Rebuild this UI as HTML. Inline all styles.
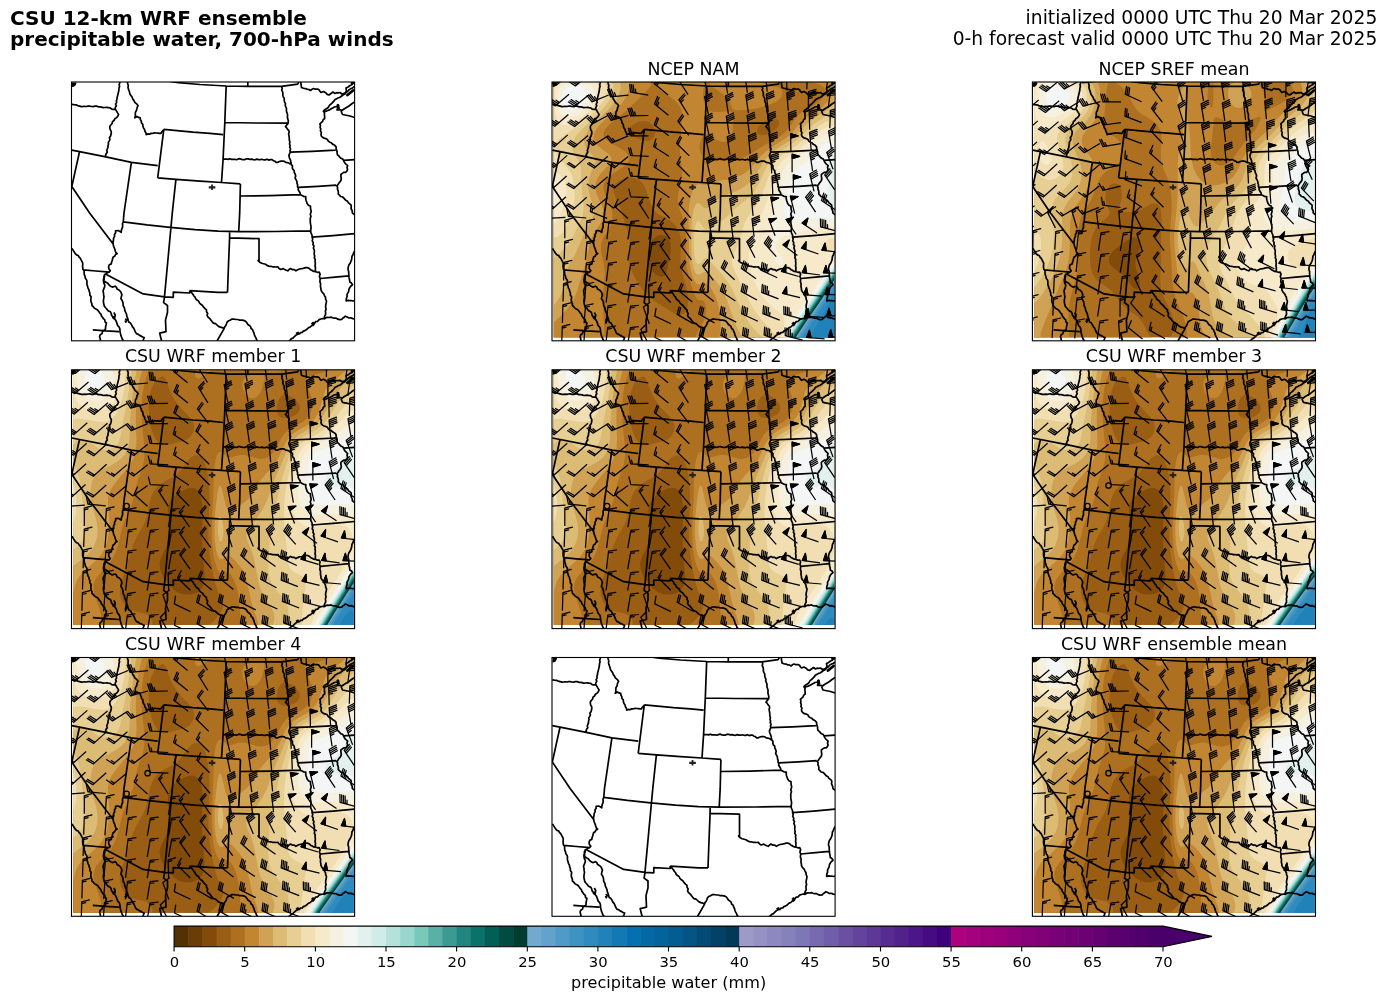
<!DOCTYPE html><html><head><meta charset="utf-8"><style>html,body{margin:0;padding:0;background:#fff;width:1387px;height:1001px;overflow:hidden}svg{display:block;will-change:transform}text{font-family:"DejaVu Sans","Liberation Sans",sans-serif}</style></head><body><svg width="1387" height="1001" viewBox="0 0 1387 1001"><defs><clipPath id="pc"><rect x="0" y="0" width="283.1" height="258.8"/></clipPath></defs><rect width="1387" height="1001" fill="#fff"/><text x="10" y="24.8" font-size="20" font-weight="bold">CSU 12-km WRF ensemble</text><text x="10" y="46.4" font-size="20" font-weight="bold">precipitable water, 700-hPa winds</text><text x="1377.3" y="23.8" font-size="18.7" text-anchor="end">initialized 0000 UTC Thu 20 Mar 2025</text><text x="1377.3" y="44.7" font-size="18.7" text-anchor="end">0-h forecast valid 0000 UTC Thu 20 Mar 2025</text><g transform="translate(71.5 82)"><g clip-path="url(#pc)"><path fill="none" stroke="#000" stroke-width="1.7" stroke-linejoin="round" d="M.3 22.3l2.1 .3 2.1 .2 1.8 .8 1.8 .5 1.9 .5 1.6-.1 1.6-.2 1.7 .2 1.6-.3 1.7-.1 1.8 .4 1.8 .1 1.7-.6 1.7 .1 1.6 .7 1.7 0 1.7 .3 1.6 .6 1.7-.2 1.8-.1 1.7 .3 1.7 .2 1.5 1.2 1.7 .3 1.8 0M48.4-.5l-.2 1.6-.6 1.6 .5 1.7-.6 1.6-.1 1.7-.2 1.6-.4 1.6-.4 1.6-.4 1.6-.4 1.6-.2 1.6-.5 1.6 .2 1.7-1 1.5 .7 1.8-1 1.5-.1 1.6 1.2 1.8 1 1.8 1.2 1.8-.8 1.8-1.2 1.4-1.7 1.2-.9 1.7-1.5 1.2-.4 2-1.4 1.3-.9 1.6 .1 1.7 .4 1.6 .9 1.4 .1 1.7-.3 1.6-.5 1.6-1.1 1.4 .5 1.8-.6 1.5-1 1.5 .2 1.7-.5 1.6 0 1.6-.7 1.6-.5 1.5 .5 1.8-1.1 1.4-.6 1.6 .2 1.7M55.9-.5l.3 2 .6 1.9-.3 2 .4 1.7 .7 1.7 .5 1.7 .4 1.7 1.1 1.5 1.1 1.6 .6 1.8 1.2 1.5 .8 1.7 1.8 1.5 1.5 1.9-.8 1.5-.5 1.6-.3 1.8-1 1.4-.2 1.9 .1 2-.6 1.9 2.2-1.3 1.5 .9 1.7 .4 .2 1.8 .9 1.6 .2 1.8 1.3 1.4 .1 1.8 .6 1.7 1.1 1.5 .3 1.9 1 1.5 .3 1.9 1.6-.8 1.8 .2 1.6-.7 1.8-.1 1.6-.4 1.6 .1 1.7 .1 1.6 .2 1.6 0 .6-1.5 1.3-1.1 .8-1.4M92.3 47.3l29.2 2.9 17 1.2 13.1 1.3M92.3 47.3l-6.1 48.5M86.2 95.8l18.3 1.5 24 1.9 21.5 1.3 18.9 1.4M.3 68.2l7.7 1.5 26.3 5.2 25.6 5.4 26.3 3.4M8 69.7l-7.7 34.8M.3 104.5l17.8 26.4 23.2 30.6M59.9 80.3l-7.4 50.6-.7 8.9M104.4 97.3l-3.6 33.6-7.8 83.7M51.8 139.8l23.7 3.1 23.1 2.5 24.9 2.2 23 1.5 20.7 .5 36.3-.1 35.7-.6M168.9 101.9l-.7 29-1 18.7M168.9 114l29.6-.4 30.4-.9M154.7 3.5l-1.4 37-1.7 36.4-1.6 23.6M98.5-.5l8.6 1.2 21.4 1.8 26.2 1.5 21.6 .4 33.7 0 16.2-2.3 1.3-2.6M176.3-.5l0 4.9M153.3 40.5l30.2 .5 32.6 .2M151.6 76.9l1.7 .2 1.7-.1 1.6 .4 1.7-.7 1.7 .7 1.7 0 1.7-.1 1.6 .4 1.7-.8 1.7-.2 1.7 .7 1.7 .3 1.7-.1 1.6-.8 1.7 .1 1.7 .5 1.7-.2 1.7 .4 1.7 .2 1.7-.7 1.7 .5 1.7 .1 1.6-.4 1.7 .5 1.7 .1 1.7-.7 1.7 .9 1.7-.5 1.7 0 1.3 1.1 1.6 .4 1.2 1.2 1.7 0 1.6-.8 1.7-.4 1.7-.1 1.6 .3 1.3 1 1.7 .3 1.5 .4 1.6 1.5M210 4.4l.7 1.8-.5 1.9 .9 1.7 .3 1.8-.1 1.9 .7 1.6 .8 1.5-.1 1.8 .4 1.7 .9 1.5-.3 1.7 .6 1.6 .7 1.6-.1 1.7 .2 1.7 .6 1.6 .4 1.6-.2 1.7 .2 1.7 .7 2.3-.1 2.4-1.4 1.7-1.3 1.7 1.2 1.3 .9 1.5 1.3 1.2 .2 1.7-.5 1.7 .3 1.6 .3 1.7 .1 1.6 .1 1.7 .5 1.6-.4 1.7 .6 1.6-.4 1.7 .9 1.6-.6 1.8 .3 1.6-.8 1.7-.6 1.7 .4 1.9 .8 1.8 .6 1.8 .2 1.9 .5 1.6 1.1 1.4-.2 1.9 .6 1.5 1.3 1.3 .1 1.8 .9 1.7 .5 1.7-.6 2.1 .9 1.7 .9 1.6 .1 1.9 .6 1.6-.1 1.7 .8 1.5-.1 1.8 .9 1.5 1 1.6 .3 1.8 1.7 .9 1.7 .9 2 .2-.1 1.8 .3 1.7 .6 1.6 .5 1.7 1.4 1.7 2 1 0 1.7 .2 1.6 .5 1.7-.5 1.7-.4 1.6 .7 1.7-.6 1.6-.2 1.6 .1 1.7 0 1.6 .3 1.7 .3 1.6 .2 1.6-.3 1.7-.1 1.6 .1 1.6 .7 1.5 .6 1.5 0 1.7 .6 1.7-.5 2 1.1 1.7-.4 1.9 1.1 1.6-.6 2 .8 1.7 .2 1.6-.2 1.6 .1 1.7 .4 1.6-.4 1.6 1 1.6-.3 1.6 .3 1.6 0 1.6-.3 1.7 .5 1.6-.2 1.6 .3 1.6M218.8 70.2l21.7-.9 23.5-1.1M226.9 105.3l19.6-.9 18.1-1.2M252.5 29l.5 1.8-.1 1.9 .2 1.9 .1 1.9-1.5 1.1-.6 1.8-1.4 1.3-1.3 1.2 .5 1.7-.3 1.8 .7 1.7-.4 1.8 1 1.6-.4 1.8 .3 1.7 1.3 1.3 1.4 .9 1.8 .4 1.6 .8 .9 1.7 1.4 1.1 1.7 .6 1.4 1.5 1.9 1 1.4 1.5 0 1.7 .4 1.6 .6 1.5 0 1.7 .4 1.6 1.3 1 1 1.2 1.2 1.2 1.6 .6 .9 1.4 .7 1.6 .9 1.4 1.3 1.2 1.2 1.2-.6 1.8 .6 1.9-.7 1.7-1.3 1.2-1.9 .1-1.4 1-1.4 1.1 0 2 .4 2-.4 2-1 1.4-1.1 1.3-.8 1.5-1.2 1.2 .8 1.5-.2 1.7 .7 1.6 .3 1.6-.2 1.7 1.2 1.2 1.2 1.3 1.9 .4 1.3 1.1 1.1 1.4 1.2 1.1 1.5 .8 .8 1.6 1.3 .9 1.3 1 .3 1.6-.3 1.7 .6 1.6 .7 1.5 0 1.7 2.3 1.9M283.1 169l-1.2 2.3-.5 1.6-.9 1.4-.2 1.6-.2 1.7-.7 1.9-.8 1.8-1.2 1.7-.7 2.2-.2 2.3 .7 2 0 2.2 .2 2.1 .2 2.1 .5 2.1 .2 2.1 1.7 1 1 1.7-1.5 1.2-1.2 1.5-.9 1.8-.2 1.9-.8 1.7-.9 1.7 .1 1.9-.8 2.2-.1 2.3 1.7-.6 1.6 .2 1.7-.1 1.7 .5 1.7-.5M272 78.3l11.1-.7M240.6 155.2l20.9-1.6 21.6-1.9M249 196.5l14.5-1.3 13.9-1.4M158.1 149.6l0 6.3-1.1 27.1-1 27.4M158.1 155.9l29.4 .7 0 23.1M187.5 179.7l-.9-1.2 1.6 1.7 2 1 1.9 .5 1.9 .5 1.6 1.2 1.7 .7 1.9 .2 1.8 .5 1.8 0 1.8 .2 1.8-.2 1.1 1.6 1.6 1.1 2.7-.9 1.4 1 1.5 .7 1.6 .5 1.2-1.3 1.5-.9 1.7 1 2.1 0 1.6 1.2 1.8-1 1.8-.8 2.3-.3 2.2-.6 1.8-.5 1.8 .1 1.6 .7 1.3 1.3 1.6 .7 1.7 1 1.9 .3 1.7 .6 1.8-.1 .9 2-.7 2.3 .8 2-.2 1.7-.1 1.7 .7 1.6-.1 1.7 0 1.7 .4 1.6 .1 1.7 1.1 2 1.7 1.6 .7 1.8 1 1.7 .2 2 .8 1.7-.3 2.1-.5 2.1-.1 2.1 .5 1.8-.7 1.8 .2 1.8 0 1.8-1 1.6-.4 1.9M217.2 259l1.4-.9 1.2-1.3 1.6-.7 1.2-1.2 1.6-1.6 2-1.1 1.7-.3 1.1-1.3 1.8-.1 1-1.4 1.6-.5 1.4-.8 1.2-1.1 1.2-1.1 1.6-.6 1.4-1.3 1.3-1.4 1.6-1.1 1.1-1.6 2-.3 1.4-1.7 1.8-.6 1.9-.5 1.7 .3 1.5-1.1 1.6-.3 1.7 .1 1.6-.4 1.5 .7 1.6 .4 1.8-.2 1.4 .9 2.2 .7 2.3-.2 1-1.2 1.4-.9 1.2-1.1 1.9 .8 1.7 1 2-.2 1.8 .8 1.9 .3M240 242l1.5-1.5 1 2-1.5 1.5M224.5 251.5l2-1 .5 2M118.2 208.6l28.3 1.8 9.5 0M34.9 192.5l36.8 19.4 21.3 2.9 8.8 .5 0-5.1 16.4 .8 0-2.4M118.2 208.6l1.1 1.3 1.2 1.3 1.1 1.3 .8 1.5 1.2 1.2 .6 1.7 1.3 1.1 1.6 1.1 .9 1.9 1.4 1.3 1.6 1.2 1.1 1.7 1.4 1.4 1.5 1.3 0 1.8 1.2 1.7-.6 1.9 .8 1.7 1.6 1.3 1.3 1.6 1.2 1.6 1.4 1.6 2.1 .5 1.5 1.4 1.5 1.4 1.9 .7 2 .5 1.6 1.2 .5-1.7 1.2-1.4 .7-1.6 .5-1.7 1.3-1.3 1.8-.9 1.7-1 2.1-.2 2.1 .5 2.1 0 1.8 .7 1.9-.1 1.9 .3 2 .9 1.4 1.7 .9 1.5 1.5 1 1.2 1.2 .5 1.8 1.5 1.2 .6 1.7 .8 1.6 .4 1.7 .6 1.7 1 1.5 .5 1.7 1.1 1.4M152.5 246.8l-7 12.2M51.8 139.8l-.8 1.7 .1 1.8 0 1.8-.8 1.7-.4 1.7-.2 1.8-1.5-1.1-1.7-.7-2.4 .4 0 1.9-1.1 1.7 .1 1.9-1 1.7-.1 1.9-.5 2.2 .2 2.3 .5 2 .8 1.8 .6 2 .6 2 1.4 1.4-1.6 .8-.8 1.7-1.5 .9-.6 1.7-.4 1.7-.6 1.6-.3 1.8-2 .9-.7 1.9 .2 2 1.5 2-1.2 1.4-1.7 .5-1.2 1.3-1.7 .6 .2 1.8-.6 1.6-.7 1.7 .1 1.7 1 2M11.7 187.9l12.8 1.1 13.3 1.1M.5 166.4l1.2 2 1.2 1.9 .9 1.4 1.2 1.2 1.7 .6 .8 1.5 1.2 1.1 .8 1.6 .9 1.6 .8 1.6 0 1.6-.1 1.7 .1 1.6 .3 1.7 1.1 1.2 0 2 .2 1.9 .8 1.9 .2 1.8 1.2 1.4 .5 1.6-.1 1.8 .1 1.7 .6 1.6 .4 1.7 .9 1.5 .3 1.8 .7 1.6-.1 2 1.3 1.8-.2 2-.1 1.7 .4 1.7 .7 1.6 0 1.7 1.4 1.2 1.1 1.4 1.5 1 1.7 .8 1.1 1.5 .9 1.5 1.3 1.2 .5 1.8 1.1 1.3 .9 1.5 1.4 1.2 .2 1.9 1.4 1.2-.3 1.7-.4 1.7-.2 1.7-.1 1.7-1.6 .7-1.3 1.2-.5 1.9-1.8 1.2-.6 1.8 .6 2.2 .4 2.2M32.5 193.5l-.1 1.9 .3 2-.7 1.9 .4 2.1 1 1.8-.4 2-.8 1.9-.7 1.9 .5 1.9 .1 2 .4 1.9-.3 1.9-.3 1.9 .1 2 .4 1.7 .4 1.8 1.1 1.4 1.1 1.2 1 1.4 1.2 1 1.7 .7 .8 1.5 .3 1.8 1.1 1.4 .6 1.6 1.7 1.2 1.2 1.7 1 2.9 .6 1.7 1.3 1.3 .7 1.5 .3 1.6 0 1.7 .5 1.9 .4 2 .8 1.9 .7 1.9 1.4 1.6M33 199.3l1.8 1.1 1.7 1.1 1.3 1.7 1.3 1.1 1.6 .8 2.9-.9 1.4 1.2 .6 1.7 2.2 1.1 1.6 1.8 1 2.9-.6 1.9-.4 2 1.3 1.7 .7 2.1 .2 1.6 .1 1.6 .9 1.5 .5 1.5 .2 1.6 .9 1.9 .8 1.9 .3 2 .8 1.9 .5 2 .6 1.9 1.8 1.1 1.1 1.8 .8 1.7 1.3 1.5 .8 1.7 .7 2 1.2 1.8 1.7 .7 1.5 1.1 1.7 .7 1.3 .9 1.6 .5-.7 1.8-.8 1.7M21.3 247.8l13.2 1 13 .9M42.3 230.5l1.4 2.5-.6 3.5-1-2.5M53.8 236.6l1.3 1.4-.8 2.2-.8-1.7M93 214.8l-.9 5.8 3.9 2.9 0 6.8-2 7.8 .5 11.6-6.3 1.5 1.9 7.8M229.5-.5l-.1 2 .3 2 .3 2 2.5 1 1.7 .1 1.6 .8 1.7 .1 1.5 1 1.4-1.2 1.6-.8 1.9 .7 2.1-.2 1.5 .8 .9 1.5 1.1 1.2 2.5-1 2.5 1.5 1.2 1.4 1.8 .6 1.3-1 1.4-1 1.3-1 2 1.5 1.6-.8 1.7 .1 1.7-.3 2 1.5 3-1 1.5-2-.5-3 2.1-1 1.9-1.5 1.8-.7 1.2-1.5 1.6-.8M251.5 30l1.2-1.8 1.8-1.2 1.6-.9 1.1-1.4 .9-1.6 1.4-1.1 1.5-1.3 1.4-1.5 1.1-1.7 1.6-.6 1.4-1 1.6-.4 1.4-1 1.9-1.5 2.1-1 1.3-1.7 1.7-1.3 1.2-1.4 1.6-1 1.7-.6 2.1-1.5M251.5 30l3-.8 4-1.6 4.5-2.6 3-.5 1-1.2-1.5 4.7 3.5-.2 1.5 .7 2-1.5 2.5-1.5 2.5-1.5 2.5-2 3.1-2M269.5 29l1.5 3.5 7.5 1.5 4.6 1.5M280.5 1l2.6-1"/><path fill="none" stroke="#000" stroke-width="2.8" stroke-linecap="round" d="M276 13L281.5 8.5M280.5 1.2L283 0.5M266.3 23.3L267 26"/><path d="M137.25 105.3h6.6" stroke="#222" stroke-width="2.3"/><path d="M140.55 102.5v5.6" stroke="#222" stroke-width="1.8"/></g><rect x="0" y="0" width="283.1" height="258.8" fill="none" stroke="#000" stroke-width="1.1"/><path d="M0.5 0.5h4.5a4.5 4.5 0 0 1-4.5 4.5z" fill="#000"/></g><g transform="translate(552 82)"><g clip-path="url(#pc)"><rect x="1.8" y="0.3" width="280.3" height="254.9" fill="#824b09"/><path fill="#995d13" d="M3.8 .3l278.3 0 0 254.9-280.3 0 0-254.9 2 0zM103.6 154.8l-1.7 1.4-.5 .7-1.5 2-1.1 2-.9 2.1-1.2 3.9-.8 4-.3 2-.1 2 .1 2 .3 2.8 .3 1.2 .6 2 1.1 2.5 2 3.1 2 2.3 2 1.7 2 1.2 2 .7 2 .2 2-.7 .9-.9 1.2-2 .7-2 .9-4 2.4-12.1 .6-4 .1-2 .1-2-.1-2-.3-2-.5-2-1.1-2-.9-1.1-1.1-1-.9-.6-2-.8-2-.3-2 .1-2 .5-2.3 1.1z"/><path fill="#ad7021" d="M3.8 .3l278.3 0 0 254.9-280.3 0 0-254.9 2 0zM215.6 38.4l-1.6 .7-2.5 1.3-2.7 2-1.9 2.1-1.2 2-.6 2 .1 2 .8 1.2 .9 .8 1.1 .4 2 .2 2-.2 2.2-.4 3.8-1.5 2-1 2.4-1.5 2.2-2 1.6-2 .8-2.1 .2-2-.7-2-.5-.3-2-.9-2-.1-2 .2-2 .4-2.4 .7zM85.2 40.4l-1.3 .7-2.5 1.3-2.8 2.1-2.1 2-1 2 .5 2 2.2 2 3.7 2 6 2.6 2 .7 2.8 .7 1.2 .2 2 0 2-.3 2-1.1 .8-.8 1.4-2 .7-2 .2-2-.2-2-.5-2-.9-2-1.5-2.1-2.5-2-1.5-.7-2-.5-2-.2-2 .2-2 .4-2.7 .8zM72.5 96.6l-.6 .2-2 .8-2.2 1-1.8 1.2-1.1 .9-.9 .9-.9 1.1-1.1 2.1-.4 1.9 .1 2 .3 2 .7 2 1.6 4 3.7 8.3 1.4 3.8 1.9 6 1.6 6 1.3 4 2.6 8 .4 2 .3 2.1 .1 2-.1 4-.8 10 .1 4 .1 2 .3 2 .8 3 .3 1.1 .7 2 1.7 4 2 4 2.3 4 3 4.7 2.3 3.3 1.7 2.3 2 2.3 2 2.1 2 1.8 4 3 6 3.9 12 7.7 2 1.1 2 .8 2 .6 2 .3 2-.3 2-1.1 .4-.4 1.7-2 .8-2 .6-2 .4-2 .2-2 0-4-.1-2-.5-4.1-.7-4-1-4-3-10-1.4-6-.6-4.1-.3-4 .1-4 .4-12 0-4-.5-4.1-.5-2.5-.4-1.5-.8-2-.9-2-1.9-2.9-2-2.2-2-1.7-2-1.4-3.1-1.8-2.9-1.5-2-1-2.8-1.5-1.2-.8-2-1.6-2-2.3-.9-1.4-1.1-2.1-1.6-3.9-1.3-4-2.6-8-.7-2-1-2-1.1-2-1.7-2.3-2-1.9-2-1.3-2-.8-2-.5-2-.3-2 0-2 .3-2 .4-1.4 .3z"/><path fill="#c28633" d="M3.8 .3l95 0 .8 2-.8 2-.9 .7-.8 1.3-1.2 1.1-.7 .9-1.3 1.2-.7 .8-3.3 3.2-.8 .8-3.2 3.2-2.9 2.9-3.1 2.9-3.2 3.1-4.8 4.3-6 4.8-6.2 4.9-2.2 2-2 2.1-1.7 2-1.2 2-.9 2-.2 2 .4 2 1.1 2 .9 1 1 1 1 .7 2 1.4 4 2.2 6 3.1 2 1.3 2 1.3 2.3 2 1.7 2.2 1 1.9 .4 2-.3 2-1.1 2-2 2.2-2.2 1.8-6 4-3.8 2.5-2.2 1.5-2.5 2-2 2-1.6 2-1.2 2.1-.7 2-.4 2 .1 2 .5 2.5 .4 1.5 1.6 3.9 1 2.1 3 6.3 .7 1.7 .7 2 .6 2.1 .3 2 .2 2 0 2-.1 2-.4 2.5-.4 1.5-.7 2-.9 2.1-1.1 1.9-2.9 4.6-2.2 3.4-.9 2.1-.9 2.6-.4 1.4-.3 2-.2 2 0 2 .1 2 .5 4 .9 4 .9 4 .7 4.1 .5 4 .1 4-.1 4-.3 4-1.2 10-.2 4.1-.1 4 .2 6 1 20.1 0 6-.2 4-50 0 0-254.9 2 0zM103.9 .3l50 0-1.2 2-.8 2-.7 4-.2 2-.1 2 .1 2 .1 2.1 .4 2 .5 2 .6 2 1.4 2.7 .8 1.3 1.2 1.3 2 1.3 2 .6 2 .3 4 0 10-.5 2 0 1.7 1 .3 .3 .5 1.7 .5 4 .1 4 0 4.1-.4 4-.3 2-.5 2-.8 2-1.1 2.1-2 2.1-2 1-2 .4-2-.2-2-.5-2.2-.9-3.4-2-4.4-3.2-2-1-2-.3-2 1.1-2 2.6-.4 .8-.9 2-.7 2.7-.3 1.3-.2 2 .1 2 .4 2 .6 2 .9 2.1 1.5 2 1 .9 2 1.4 2 .7 2 .4 4 .4 4 .1 4-.1 6-.4 8-.8 3.4-.6 .6-.2 4-1.3 4-1.9 6-3.4 8-5 2-1.3 6-3.4 8-4.5 2-1.2 2.7-1.9 2.3-2 2-2 1.6-2 2.9-4.1 2.7-4 1.9-2.5 2-2.3 2-1.9 2-1.6 2.6-1.7 3.7-2 7.3-4 2.4-1.7 .4-.3 2.2-2 1.7-2 1.3-2.1 .8-2 .4-2 0-2-.5-2-.3-.5-1.3-1.5-.7-.4-2-1.1-2-.7-6-1.5-1.4-.3 23.4 0 0 254.9-138.8 0 .7-2 2-4.4 2.1-3.6 2.5-4 1.4-2.6 .5-1.5 .6-2 .5-2 .4-2 .1-2 0-2-.1-2-.5-2-.7-2-.8-1.6-.6-.4-1.4-.8-2 0-2-.7-.5-.5-1.7-2-1.9-4.1-2.7-8-1.7-6-1.1-4-1.6-8-.5-4.1-.3-4-.2-6 0-16.1-.3-4-.5-4-.6-4-.5-2.7-1.5-5.3-.6-2-1.6-4-.7-2.1-.6-2-.5-2-.5-2.5-.2-1.5 0-2 .2-2.7 .2-1.3 .4-2 2.6-10 .6-4.1 .3-4 .1-4-.4-4-.9-6-.5-4-.3-4.1-.1-4 .1-4 .4-6 .7-8 1.2-12.1 .1-2-.1-2-.4-2.5-.3-1.5-.6-2-1.1-2-1.4-2-2.6-2.8-2-1.8-2-1.6-6-4.4-4.9-3.5-4.9-4-.2-.4-1.5-1.6 .2-2 1.3 0zM156 .3l50.9 0 3.1 .9 14 3.3 2 .8 2 1.1 1.9 1.9 .6 2-.2 2-.7 2-1.6 2.1-2.1 2-3.4 2-2.5 1.1-4 1.5-4.3 1.4-3.7 1-4.7 1-3.3 .5-6 .8-6 .5-4 .1-2-.2-1.7-1.7-.3-.7-.4-1.3-1.7-4-1.2-2-1.4-2-2-2.1-3.3-2.7-4.6-3.3-2.6-2-2.8-2.5-2-1.9-2-1.6-.5 0 .5 0z"/><path fill="#cfa256" d="M3.8 .3l73.5 0 .2 2 0 2-.3 2-.5 2-.8 2.4-.7 1.6-1.3 2.7-.8 1.4-2.7 4-3.2 4-3.9 4-5.4 4.9-6 5.4-3.7 3.7-2.4 2.8-.9 1.3-1.4 2-1.1 2-.7 2-.3 2 .1 2 .5 2 1.1 2 1.5 2 2.1 2 2.5 2 6.7 5 1.1 1.1 1.5 2 .8 2 0 2-.8 2-1.3 2-1.8 2-5.8 6-1.8 2.1-2 3-.4 .9-.9 2-.7 2.2-.3 1.9-.1 2 .1 2 .4 2 .5 2 .6 2 1.7 4 3.2 7 .4 1 .6 2 .5 2.1 .2 2-.1 2-.4 2-.6 2-.8 2-1.9 3.4-2 3.1-3.5 5.5-1.2 2-1.3 2.8-1.2 3.3-1.2 4-1.3 6-2.1 10-1 4-1.8 6.1-3.4 11-2.1 7-1.4 4-1.6 4.1-2 4-2.5 4-2.4 3.2-2.3 2.8-3.9 4-7.8 7.4 0-240.2 2 0zM282.1 1.5l0 253.7-114.8 0 .8-4 .4-4 .1-4 0-4.1-.3-4-.5-4-.7-4-1.1-4.8-.9-3.2-1.5-4-1.8-4.1-1.8-3.1-.6-.9-1.4-2-2-2.2-2-1.4-2.1-.4-1.9 .5-2 .8-2 .2-2-1.2-2-3.2-1.3-3.1-1.2-4-.9-4-.7-4.1-.5-4-.3-4-.2-6 0-10-.1-10.1-.2-16 .1-4 .3-4.1 .6-4 .8-4 1-4 .6-2 1.6-4 .4-.8 2-2.7 2-1.2 2 0 2 .4 2.4 .3 1.6-.2 2-.5 4-1.4 4-1 4.8-1 7.2-1.2 4-.9 4-1.1 2-.8 2-.8 2.2-1.2 3.1-2 .7-.5 2-1.7 2-1.8 3.7-4 .3-.4 4.8-5.6 3.8-4 3.4-3.2 2-1.6 4-2.8 4-2.5 8-5 2-1.4 2.1-1.6 2.3-2 2-2 3.7-4.2 4-4.8 3-3.1 2.2-2 2.8-2.1 4-2.6 8-5 2-1.4 2-1.7 2-2 2-2.5 .4-.7 1.6-3 .4-1.1 1.4-4 1-4 1-4 .2-.8z"/><path fill="#dcbc75" d="M3.8 .3l64 0 .6 2 .2 2-.1 2-.3 2-.5 2-.7 2-1.1 2.6-.8 1.5-1.2 2-2 2.8-2 2.5-2 2.2-2.4 2.5-14.3 14-3.5 4.1-1.9 2.3-1.1 1.7-1.1 2-.9 2-.5 2-.2 2 .1 2 .5 2 .8 2 1.1 2 1.6 2 5.7 6.5 1 1.6 .6 2-.1 2-.6 2-1.8 4-1.9 4-1.2 3.3-.7 2.7-.4 2-.3 2.1-.1 2 0 2 .1 2 .7 4 1 4 1.7 5.5 .9 2.5 .6 2 .5 2.9 .2 1.2-.2 2.6-.2 1.4-.6 2-1.2 2.7-1.7 3.3-4.3 7.5-2 4-1.1 2.5-6 14.1-2.1 4-2.8 5-1.7 3-1.8 4.1-.8 2-1.1 4-.7 4-1.5 8-1.1 4-1.3 3.6-.2 .4-1.8 3.7-.2 .4-1.8 2.9-2 2.9-1.7 2.2-.3 .3 0-223.1 2 0zM282.1 17.8l0 237.4-91.2 0-1.6-2-1.3-2-2-3.6-1.2-2.4-1.7-4-2.2-6.1-5.6-16-1.6-4-1.8-4.1-2.2-4-2.6-4-3.2-4-3.9-4.4-2-2-2.1-1.6-1.9-1-2 .1-2 .9-2 1.3-2 .5-2-1.3-1.4-2.5-.8-2-1-4.1-.7-4-.4-4-.3-6-.1-6 .2-10.1 .3-10 .4-6 .5-4 .8-4 .5-2.1 1.7-4 .3-.4 2-1.2 2 .9 4 3.8 2 .6 2-.7 2-1.5 4-3.7 2.1-1.8 2.8-2 3.1-1.7 2-1 4-1.7 9.1-3.6 2.9-1.4 2-1.1 2.4-1.5 2.6-2 1-.9 2-1.9 2.9-3.3 1.5-2 2.7-4 1.2-2 3.7-6.3 2-3 .5-.7 1.6-2 1.9-2.3 2-2 2.1-1.8 3.9-2.9 4.6-3.1 7.5-4.8 2-1.4 2.2-1.8 2.3-2 3.5-3.5 8.1-8.6 2.3-2 3.6-2.7 4-2.7 8-5 2.2-1.6 2.2-2 1.8-2 1.8-2.6 .8-1.4 1.2-2.6z"/><path fill="#e7cf94" d="M3.8 .3l56 0 1 2 .6 2 .1 2-.1 2-.4 2-.6 2-.8 2-1.7 3.2-.5 .9-1.5 2.1-2 2.6-2.9 3.3-5.2 5.4-4.7 4.6-12.5 12.1-3.4 4-1.4 2-1.2 2-.9 2-.7 2-.5 2-.2 2 .1 2 .4 2 1 2.6 .7 1.5 4.8 8 .7 2 .5 2 .3 2 .3 4 .4 16.1 .6 6 1.3 10 .1 2 .1 2-.2 2.1-.3 2-.5 2-.8 2.2-1.5 3.8-6.5 14-2 4.1-2.5 4-1.5 2.1-2 2.4-2 2.1-4 3.5-4.8 3.9-1.2 1.5 0-176.1 2 0zM282.1 27.5l0 227.7-71.7 0-6.4-6-3.6-4-2.4-3-2.1-3.1-2.5-4-2.2-4-1.9-4-3.3-7.3-3.9-8.8-2.1-4.3-2.1-3.7-2.6-4-3-4-2.3-2.9-4-4.3-4.5-4.9-5.5-6.2-2-1-2 .9-.2 .3-3.8 4.6-2 .8-2-2.1-.9-3.3-.7-4-.4-4-.1-4 0-6 .2-4.1 .6-6 .6-4 .7-3.4 .4-.6 1.6-2 2 1.4 1.6 2.6 .4 .6 2 3.1 2 1.5 2-.4 3.8-2.8 2.2-1.6 4.1-2.4 3.9-2.1 2.7-1.9 1.3-1 4-4.1 .8-.9 4.2-4.1 5.1-4 3.9-2.9 4-3.5 2-2 3.1-3.6 1.5-2 1.4-2.1 2.4-3.9 2-4.1 3.6-8.1 2-4.3 1.9-3.6 2.1-3.3 .5-.7 1.6-2 1.9-2.1 2.2-1.9 3.8-3 4.7-3.1 6.2-4 3.2-2.3 4-3.3 2.5-2.4 9.5-9.4 3.2-2.7 2.8-2 4-2.5 8-4.8 2-1.4 2-1.8 2-2.4z"/><path fill="#f1dfb3" d="M3.8 .3l48.1 0 1.7 2 1 2 .4 2 .1 2-.2 2-.5 2-.8 2-1 2.1-1.1 2-1.6 2.4-2.1 2.6-2.5 3-3.8 4-4.3 4-3.4 3-6.2 5-3.8 2.9-10 7-.3 .2-1.7 1.2-2 1.3-2.3 1.5-2.6 2-1.3 2-.5 2 0 2 .3 2 .4 2 .6 2 .8 2.1 1 2 1.6 2.4 2 2.5 2.8 3.1 1.7 2 1.6 2 1.9 2.8 .7 1.2 1.3 3.1 1 2.9 .8 4.1 .5 4 .3 4 .1 4-.1 4-.4 4-.7 4-1 4.1-1.3 4-2.2 6-1.8 4-1.2 2.4-2.1 3.6-1.9 2.4-2 1.9-2 1.3-2 .7-2 .3 0-155.1 2 0zM282.1 35.8l0 219.4-58.9 0-.5-2-.9-2-1.8-2.5-3.2-3.5-6.8-7.3-2.3-2.8-3.1-4-1.5-2-2.5-4-2.4-4-2.2-4.3-4-8.4-4-8.5-5.2-10.9-1.6-4-.7-2.1-.4-2-.1-2.1 .1-1.9 .5-2 .7-2 3.7-8 1.6-4 1.4-4 4.2-14.1 .8-2 1.9-4 2.5-4 5.6-8.1 1.3-2 2.3-4 2.1-4 1.8-4 2.5-6 2.1-6.1 2.9-8.4 1.5-3.6 .9-2 1.6-2.8 .8-1.2 1.5-2 1.8-2 2.2-2 2.5-2 3.2-2.2 9.1-5.9 3-2.2 4-3.3 2.6-2.5 7.4-7.3 2-1.7 2-1.6 2.1-1.4 3.9-2.4 4-2.1 7-3.6 1-.6z"/><path fill="#f6eacb" d="M5.8 .4l.1-.1 37 0 .9 .5 2.2 1.5 1.8 2.4 .8 1.6 .4 2-.1 2-.3 2-.8 2.2-.8 1.9-1.2 2.1-2 3-2 2.5-2.1 2.4-3.9 3.8-2.5 2.2-3.5 2.7-4 2.8-4 2.3-4 1.8-2 .6-2 .4-2 .1-2-.3-2-1.1-1.1-1.3-.9-1.2-.3-.8-.8-2-.9-3.5-.4-2.5-.4-4-.3-6 0-6.1 .2-4 .4-4 .5-2.1 .8-1.9 1.2-1.9zM278.1 44.3l2-.4 2-.3 0 112.2-2 .4-2.4 .7-1.6 .7-2.2 1.3-2 2-.6 2 .3 2 .5 .8 1 1.2 1 .6 2 .6 2 0 2-.5 2-.8 0 .1 0 88.3-53.7 0 2.1-6 1.1-4 .5-2 .2-2 .1-2.1-.2-2-.2-.8-.4-1.2-1.6-2.2-2-1.8-8-6.5-4-3.8-3.3-3.7-1.6-2-1.5-2-2.6-4.1-1.1-2-2-4-2.6-6-1.5-4-1.3-4-1-4-.6-4.1-.2-4 .1-4 .4-4 .8-6 .4-2 .8-4 1.1-4.1 1.4-4 .8-2 1.9-4 5.6-11.2 2-4.9 3.1-8 2.9-8.5 2-6.4 1.4-5.2 1.6-6 1.4-4 1.6-3.6 .3-.4 1.7-2.9 .9-1.1 1.8-2 2.2-2 3.2-2.3 6-3.8 4-2.6 4-2.9 2.9-2.5 3.1-2.8 7.4-7.2 2.6-2.2 2.7-1.8 1.3-.8 2.4-1.2 1.6-.8 2-.7 2-.7zM2.6 88.6l3.2 2.6 2 1.9 2 2.3 .9 1.2 1.2 2 .9 2.1 .6 2 .5 2 .3 2 .1 2 0 2-.4 4-.4 2-1 4-1.3 4-1.5 4.1-1.9 4.4-.8 1.6-1.2 2.2-2 2.8-.9 1-1.1 1.1 0-53.9 .8 .6z"/><path fill="#f5f0e0" d="M11.8 2l2-.9 2-.5 2-.3 11 0 3 .5 2 .6 2.8 .9 1.2 .7 2.1 1.3 1.7 2 .9 2 .3 2-.2 2-.8 2.8-.5 1.3-1.5 2.6-.8 1.4-1.6 2-1.8 2-2 2-2.3 2-2.7 2-.8 .5-2.4 1.5-1.6 .8-2.8 1.2-1.2 .5-2 .4-2 .2-2-.2-2.1-.9-1.9-1.6-.3-.4-1.2-2-.8-2-.6-2-.7-4-.3-4 0-4.1 .2-2 .3-2 .5-2 .9-2.3 1.1-1.7 .9-.9 2-1.4zM274.1 52.3l2-.6 2-.4 2-.1 2 .3 0 94-4-.3-4 .1-4 .3-4 .5-4.1 .7-5.9 1.3-6 1.6-8 2.2-4 1.1-6.1 2.1-3.4 1.8-2.6 2.2-1.4 1.8-.5 2-.1 2.4 .3 1.6 .7 2 5.7 8 .9 2 0 2-1.6 1.8-.8 .2-1.2 .2-.4-.2-1.6-.6-1.4-1.4-.6-.6-.7-1.4-1.3-2.7-.8-3.3-1.3-6-.8-8-.5-6.1 0-4 .2-6 .5-6 .7-5.7 .5-2.3 .8-4.1 1.6-6 4.6-16 1.7-8.1 .8-2.9 .4-1.1 .8-2 .9-2 1.9-2.9 1-1.1 1.9-2 2.5-2 3-2 7.7-4.8 4-2.8 2.9-2.5 3.1-2.9 6-5.9 2-1.8 2-1.4 2-1.2 2-1zM2.5 106.7l.7 2 .4 2 .2 2-.1 2-.2 2-.7 4-1 3.8 0-19 .7 1.2zM282.1 176.2l0 79-51.1 0 1.1-2 1-2 1.1-2 1.9-3.5 1.4-2.5 4.9-8.1 4.1-6 1.6-2 2.8-4 1.5-2 3.7-5.2 .5-.8 1.5-2 2.6-4.1 1.4-2 1.1-2 1.2-2 9.5-16 .2-.4 1-1.6 5-6.4 2-2.4z"/><path fill="#f4f5f5" d="M19.8 4.2l2-.2 2 0 3.4 .3 .6 .1 2 .7 2.7 1.2 1.3 1.1 .8 .9 1 2 .2 2.1-.3 1.9-.7 2.1-1.1 2-1.9 2.4-2 2-2 1.7-3.1 1.9-.9 .5-2 .7-2 .5-2 0-2-.4-2.1-1.3-1.9-2.6-.6-1.4-.5-2-.3-2-.2-2 .2-2.1 .3-2 .6-2 .5-.9 .7-1.1 1.3-1.5 .6-.5 1.4-.8 2-.8 2-.5zM278.1 60l2-.2 2 .1 0 78-4-1-4-.7-4-.3-4 0-4 .2-8 .9-4 .4-4 .2-2-.1-2-.1-3.1-.6-.9-.3-2-.9-1.2-.8-.9-.8-.9-1.2-1.1-2-.5-2-.1-2.1 0-2 .2-2 .4-2.2 1.1-3.8 1.4-4 3.1-8 1.1-4 1.5-6.1 .7-2 1.2-2.3 1.1-1.7 1.8-2 2.2-2 2.9-2.1 4-2.5 4-2.9 2.9-2.5 2-2 1.8-2.1 5.3-5.8 .2-.2 2.4-2 1.4-.9 2.1-1.1 1.9-.5zM282.1 180.4l0 74.8-49.4 0 8.5-14 2.9-4.3 2-3 .5-.8 1.5-2 2.7-4 1.5-2 11.8-17.2 .5-.9 1.5-2.1 2.4-3.9 8.9-14 4.7-6.6z"/><path fill="#e2f0ee" d="M21.8 14l.7 .3-.7 .9-.5-.9 .5-.3zM282.1 70.5l0 58.1-2.1-1.9-1.9-2-1.4-2-1-2-.6-2-.2-2 .1-2 .7-4 .7-4 .3-2 .1-2-.1-4.1-.7-12 .1-4 .3-2 .4-2 .7-2 1-2 1.6-2.3 2-1.8zM282.1 183.1l0 72.1-48.1 0 2.1-3.4 2.8-4.6 3.2-4.9 .7-1.1 3.3-4.8 .8-1.3 3.2-4.5 2.4-3.5 3.6-5 .6-1 1.5-2 5.4-8.1 2.5-3.6 2.8-4.4 1.3-2 2.5-4 1.4-2 2.5-4 3.5-5.1 .6-.9 1.4-1.9z"/><path fill="#ceece8" d="M282.1 185l0 70.2-47.1 0 11.8-18.1 3.3-4.6 2.3-3.4 9.8-14 6.6-10.1 1.4-2 2.6-4 1.3-2 2.6-4 1.4-2 2.6-4 1.4-2z"/><path fill="#b4e2db" d="M282.1 186.6l0 68.6-46.1 0 .1-.1 2.4-3.9 8-12.1 18.1-26 4-6.1 3.9-6 9.6-14.4z"/><path fill="#98d7cd" d="M282.1 188l0 67.2-45.3 0 11.3-17 3.5-5.1 2.8-4 11.7-17 4.7-7.1 3.3-4.9 3.3-5.1 2.7-4 2-3z"/><path fill="#79c8bc" d="M282.1 189.3l0 65.9-44.5 0 9.3-14 11.2-16.2 6.8-9.9 4.1-6.1 3.1-4.6 4.8-7.4 5.2-7.7z"/><path fill="#58b0a7" d="M282.1 190.4l0 64.8-43.7 0 5.2-8 15.2-22.1 5.5-8 11.8-17.6 6-9.1z"/><path fill="#3b9b93" d="M282.1 191.5l0 63.7-43 0 7-10.6 6.5-9.5 15.5-22.5 14-21.1z"/><path fill="#23867e" d="M282.1 192.6l0 62.6-42.3 0 6.6-10 6.9-10.1 13.9-20 6.9-10.4 8-12.1z"/><path fill="#0c7169" d="M282.1 193.7l0 61.5-41.6 0 5.3-8 6.9-10.1 21.9-32.1 7.5-11.3z"/><path fill="#015f56" d="M282.1 194.7l0 60.5-40.8 0 3.9-6 4.9-7.2 11.7-16.9 10.9-16.1 9.4-14.3z"/><path fill="#004c42" d="M282.1 195.8l0 59.4-40.1 0 .1 0 12.1-18.1 11.1-16 16-24.1 .8-1.2z"/><path fill="#003c30" d="M282.1 196.9l0 58.3-39.2 0 3.2-4.9 25.5-37.2 10.5-16.2z"/><path fill="#73a9cf" d="M282.1 198.1l0 57.1-38.3 0 2.6-4 5.7-8.5 2.5-3.6 5.5-8 2.8-4 3.2-4.6 2.3-3.4 6.7-10.1 3-4.7 4-6.2z"/><path fill="#62a2cb" d="M282.1 199.5l0 55.7-37.2 0 1.2-2 14-20.5 2.5-3.6 14.7-22.1 2.8-4.4 2-3.1z"/><path fill="#509ac6" d="M282.1 201l0 54.2-35.9 0 9.9-14.9 .8-1.2 1.3-2 4.2-6 8.2-12 11.5-18.1z"/><path fill="#3f93c2" d="M282.1 202.9l0 52.3-34.2 0 .2-.2 3.6-5.8 1.4-2 1.3-2 16.4-24.1 1.3-2.1 2.6-3.9 7.4-12.2z"/><path fill="#2f8bbe" d="M282.1 205.4l0 49.8-31.3 0 1.3-2.4 8-12.3 1-1.4 1.3-2 6.8-10 2.9-4.6 .9-1.4 1.2-2 2.4-4 5.5-9.7z"/><path fill="#2182b9" d="M282.1 209.6l0 45.6-23 0 .5-2 .7-2 2-4 8.5-14.1 3.3-6.4 2-4.2 3.4-7.4 1.9-4.1 .7-1.4z"/><path fill="none" stroke="#000" stroke-width="1.7" stroke-linejoin="round" d="M.3 22.3l2.1 .3 2.1 .2 1.8 .8 1.8 .5 1.9 .5 1.6-.1 1.6-.2 1.7 .2 1.6-.3 1.7-.1 1.8 .4 1.8 .1 1.7-.6 1.7 .1 1.6 .7 1.7 0 1.7 .3 1.6 .6 1.7-.2 1.8-.1 1.7 .3 1.7 .2 1.5 1.2 1.7 .3 1.8 0M48.4-.5l-.2 1.6-.6 1.6 .5 1.7-.6 1.6-.1 1.7-.2 1.6-.4 1.6-.4 1.6-.4 1.6-.4 1.6-.2 1.6-.5 1.6 .2 1.7-1 1.5 .7 1.8-1 1.5-.1 1.6 1.2 1.8 1 1.8 1.2 1.8-.8 1.8-1.2 1.4-1.7 1.2-.9 1.7-1.5 1.2-.4 2-1.4 1.3-.9 1.6 .1 1.7 .4 1.6 .9 1.4 .1 1.7-.3 1.6-.5 1.6-1.1 1.4 .5 1.8-.6 1.5-1 1.5 .2 1.7-.5 1.6 0 1.6-.7 1.6-.5 1.5 .5 1.8-1.1 1.4-.6 1.6 .2 1.7M55.9-.5l.3 2 .6 1.9-.3 2 .4 1.7 .7 1.7 .5 1.7 .4 1.7 1.1 1.5 1.1 1.6 .6 1.8 1.2 1.5 .8 1.7 1.8 1.5 1.5 1.9-.8 1.5-.5 1.6-.3 1.8-1 1.4-.2 1.9 .1 2-.6 1.9 2.2-1.3 1.5 .9 1.7 .4 .2 1.8 .9 1.6 .2 1.8 1.3 1.4 .1 1.8 .6 1.7 1.1 1.5 .3 1.9 1 1.5 .3 1.9 1.6-.8 1.8 .2 1.6-.7 1.8-.1 1.6-.4 1.6 .1 1.7 .1 1.6 .2 1.6 0 .6-1.5 1.3-1.1 .8-1.4M92.3 47.3l29.2 2.9 17 1.2 13.1 1.3M92.3 47.3l-6.1 48.5M86.2 95.8l18.3 1.5 24 1.9 21.5 1.3 18.9 1.4M.3 68.2l7.7 1.5 26.3 5.2 25.6 5.4 26.3 3.4M8 69.7l-7.7 34.8M.3 104.5l17.8 26.4 23.2 30.6M59.9 80.3l-7.4 50.6-.7 8.9M104.4 97.3l-3.6 33.6-7.8 83.7M51.8 139.8l23.7 3.1 23.1 2.5 24.9 2.2 23 1.5 20.7 .5 36.3-.1 35.7-.6M168.9 101.9l-.7 29-1 18.7M168.9 114l29.6-.4 30.4-.9M154.7 3.5l-1.4 37-1.7 36.4-1.6 23.6M98.5-.5l8.6 1.2 21.4 1.8 26.2 1.5 21.6 .4 33.7 0 16.2-2.3 1.3-2.6M176.3-.5l0 4.9M153.3 40.5l30.2 .5 32.6 .2M151.6 76.9l1.7 .2 1.7-.1 1.6 .4 1.7-.7 1.7 .7 1.7 0 1.7-.1 1.6 .4 1.7-.8 1.7-.2 1.7 .7 1.7 .3 1.7-.1 1.6-.8 1.7 .1 1.7 .5 1.7-.2 1.7 .4 1.7 .2 1.7-.7 1.7 .5 1.7 .1 1.6-.4 1.7 .5 1.7 .1 1.7-.7 1.7 .9 1.7-.5 1.7 0 1.3 1.1 1.6 .4 1.2 1.2 1.7 0 1.6-.8 1.7-.4 1.7-.1 1.6 .3 1.3 1 1.7 .3 1.5 .4 1.6 1.5M210 4.4l.7 1.8-.5 1.9 .9 1.7 .3 1.8-.1 1.9 .7 1.6 .8 1.5-.1 1.8 .4 1.7 .9 1.5-.3 1.7 .6 1.6 .7 1.6-.1 1.7 .2 1.7 .6 1.6 .4 1.6-.2 1.7 .2 1.7 .7 2.3-.1 2.4-1.4 1.7-1.3 1.7 1.2 1.3 .9 1.5 1.3 1.2 .2 1.7-.5 1.7 .3 1.6 .3 1.7 .1 1.6 .1 1.7 .5 1.6-.4 1.7 .6 1.6-.4 1.7 .9 1.6-.6 1.8 .3 1.6-.8 1.7-.6 1.7 .4 1.9 .8 1.8 .6 1.8 .2 1.9 .5 1.6 1.1 1.4-.2 1.9 .6 1.5 1.3 1.3 .1 1.8 .9 1.7 .5 1.7-.6 2.1 .9 1.7 .9 1.6 .1 1.9 .6 1.6-.1 1.7 .8 1.5-.1 1.8 .9 1.5 1 1.6 .3 1.8 1.7 .9 1.7 .9 2 .2-.1 1.8 .3 1.7 .6 1.6 .5 1.7 1.4 1.7 2 1 0 1.7 .2 1.6 .5 1.7-.5 1.7-.4 1.6 .7 1.7-.6 1.6-.2 1.6 .1 1.7 0 1.6 .3 1.7 .3 1.6 .2 1.6-.3 1.7-.1 1.6 .1 1.6 .7 1.5 .6 1.5 0 1.7 .6 1.7-.5 2 1.1 1.7-.4 1.9 1.1 1.6-.6 2 .8 1.7 .2 1.6-.2 1.6 .1 1.7 .4 1.6-.4 1.6 1 1.6-.3 1.6 .3 1.6 0 1.6-.3 1.7 .5 1.6-.2 1.6 .3 1.6M218.8 70.2l21.7-.9 23.5-1.1M226.9 105.3l19.6-.9 18.1-1.2M252.5 29l.5 1.8-.1 1.9 .2 1.9 .1 1.9-1.5 1.1-.6 1.8-1.4 1.3-1.3 1.2 .5 1.7-.3 1.8 .7 1.7-.4 1.8 1 1.6-.4 1.8 .3 1.7 1.3 1.3 1.4 .9 1.8 .4 1.6 .8 .9 1.7 1.4 1.1 1.7 .6 1.4 1.5 1.9 1 1.4 1.5 0 1.7 .4 1.6 .6 1.5 0 1.7 .4 1.6 1.3 1 1 1.2 1.2 1.2 1.6 .6 .9 1.4 .7 1.6 .9 1.4 1.3 1.2 1.2 1.2-.6 1.8 .6 1.9-.7 1.7-1.3 1.2-1.9 .1-1.4 1-1.4 1.1 0 2 .4 2-.4 2-1 1.4-1.1 1.3-.8 1.5-1.2 1.2 .8 1.5-.2 1.7 .7 1.6 .3 1.6-.2 1.7 1.2 1.2 1.2 1.3 1.9 .4 1.3 1.1 1.1 1.4 1.2 1.1 1.5 .8 .8 1.6 1.3 .9 1.3 1 .3 1.6-.3 1.7 .6 1.6 .7 1.5 0 1.7 2.3 1.9M283.1 169l-1.2 2.3-.5 1.6-.9 1.4-.2 1.6-.2 1.7-.7 1.9-.8 1.8-1.2 1.7-.7 2.2-.2 2.3 .7 2 0 2.2 .2 2.1 .2 2.1 .5 2.1 .2 2.1 1.7 1 1 1.7-1.5 1.2-1.2 1.5-.9 1.8-.2 1.9-.8 1.7-.9 1.7 .1 1.9-.8 2.2-.1 2.3 1.7-.6 1.6 .2 1.7-.1 1.7 .5 1.7-.5M272 78.3l11.1-.7M240.6 155.2l20.9-1.6 21.6-1.9M249 196.5l14.5-1.3 13.9-1.4M158.1 149.6l0 6.3-1.1 27.1-1 27.4M158.1 155.9l29.4 .7 0 23.1M187.5 179.7l-.9-1.2 1.6 1.7 2 1 1.9 .5 1.9 .5 1.6 1.2 1.7 .7 1.9 .2 1.8 .5 1.8 0 1.8 .2 1.8-.2 1.1 1.6 1.6 1.1 2.7-.9 1.4 1 1.5 .7 1.6 .5 1.2-1.3 1.5-.9 1.7 1 2.1 0 1.6 1.2 1.8-1 1.8-.8 2.3-.3 2.2-.6 1.8-.5 1.8 .1 1.6 .7 1.3 1.3 1.6 .7 1.7 1 1.9 .3 1.7 .6 1.8-.1 .9 2-.7 2.3 .8 2-.2 1.7-.1 1.7 .7 1.6-.1 1.7 0 1.7 .4 1.6 .1 1.7 1.1 2 1.7 1.6 .7 1.8 1 1.7 .2 2 .8 1.7-.3 2.1-.5 2.1-.1 2.1 .5 1.8-.7 1.8 .2 1.8 0 1.8-1 1.6-.4 1.9M217.2 259l1.4-.9 1.2-1.3 1.6-.7 1.2-1.2 1.6-1.6 2-1.1 1.7-.3 1.1-1.3 1.8-.1 1-1.4 1.6-.5 1.4-.8 1.2-1.1 1.2-1.1 1.6-.6 1.4-1.3 1.3-1.4 1.6-1.1 1.1-1.6 2-.3 1.4-1.7 1.8-.6 1.9-.5 1.7 .3 1.5-1.1 1.6-.3 1.7 .1 1.6-.4 1.5 .7 1.6 .4 1.8-.2 1.4 .9 2.2 .7 2.3-.2 1-1.2 1.4-.9 1.2-1.1 1.9 .8 1.7 1 2-.2 1.8 .8 1.9 .3M240 242l1.5-1.5 1 2-1.5 1.5M224.5 251.5l2-1 .5 2M118.2 208.6l28.3 1.8 9.5 0M34.9 192.5l36.8 19.4 21.3 2.9 8.8 .5 0-5.1 16.4 .8 0-2.4M118.2 208.6l1.1 1.3 1.2 1.3 1.1 1.3 .8 1.5 1.2 1.2 .6 1.7 1.3 1.1 1.6 1.1 .9 1.9 1.4 1.3 1.6 1.2 1.1 1.7 1.4 1.4 1.5 1.3 0 1.8 1.2 1.7-.6 1.9 .8 1.7 1.6 1.3 1.3 1.6 1.2 1.6 1.4 1.6 2.1 .5 1.5 1.4 1.5 1.4 1.9 .7 2 .5 1.6 1.2 .5-1.7 1.2-1.4 .7-1.6 .5-1.7 1.3-1.3 1.8-.9 1.7-1 2.1-.2 2.1 .5 2.1 0 1.8 .7 1.9-.1 1.9 .3 2 .9 1.4 1.7 .9 1.5 1.5 1 1.2 1.2 .5 1.8 1.5 1.2 .6 1.7 .8 1.6 .4 1.7 .6 1.7 1 1.5 .5 1.7 1.1 1.4M152.5 246.8l-7 12.2M51.8 139.8l-.8 1.7 .1 1.8 0 1.8-.8 1.7-.4 1.7-.2 1.8-1.5-1.1-1.7-.7-2.4 .4 0 1.9-1.1 1.7 .1 1.9-1 1.7-.1 1.9-.5 2.2 .2 2.3 .5 2 .8 1.8 .6 2 .6 2 1.4 1.4-1.6 .8-.8 1.7-1.5 .9-.6 1.7-.4 1.7-.6 1.6-.3 1.8-2 .9-.7 1.9 .2 2 1.5 2-1.2 1.4-1.7 .5-1.2 1.3-1.7 .6 .2 1.8-.6 1.6-.7 1.7 .1 1.7 1 2M11.7 187.9l12.8 1.1 13.3 1.1M.5 166.4l1.2 2 1.2 1.9 .9 1.4 1.2 1.2 1.7 .6 .8 1.5 1.2 1.1 .8 1.6 .9 1.6 .8 1.6 0 1.6-.1 1.7 .1 1.6 .3 1.7 1.1 1.2 0 2 .2 1.9 .8 1.9 .2 1.8 1.2 1.4 .5 1.6-.1 1.8 .1 1.7 .6 1.6 .4 1.7 .9 1.5 .3 1.8 .7 1.6-.1 2 1.3 1.8-.2 2-.1 1.7 .4 1.7 .7 1.6 0 1.7 1.4 1.2 1.1 1.4 1.5 1 1.7 .8 1.1 1.5 .9 1.5 1.3 1.2 .5 1.8 1.1 1.3 .9 1.5 1.4 1.2 .2 1.9 1.4 1.2-.3 1.7-.4 1.7-.2 1.7-.1 1.7-1.6 .7-1.3 1.2-.5 1.9-1.8 1.2-.6 1.8 .6 2.2 .4 2.2M32.5 193.5l-.1 1.9 .3 2-.7 1.9 .4 2.1 1 1.8-.4 2-.8 1.9-.7 1.9 .5 1.9 .1 2 .4 1.9-.3 1.9-.3 1.9 .1 2 .4 1.7 .4 1.8 1.1 1.4 1.1 1.2 1 1.4 1.2 1 1.7 .7 .8 1.5 .3 1.8 1.1 1.4 .6 1.6 1.7 1.2 1.2 1.7 1 2.9 .6 1.7 1.3 1.3 .7 1.5 .3 1.6 0 1.7 .5 1.9 .4 2 .8 1.9 .7 1.9 1.4 1.6M33 199.3l1.8 1.1 1.7 1.1 1.3 1.7 1.3 1.1 1.6 .8 2.9-.9 1.4 1.2 .6 1.7 2.2 1.1 1.6 1.8 1 2.9-.6 1.9-.4 2 1.3 1.7 .7 2.1 .2 1.6 .1 1.6 .9 1.5 .5 1.5 .2 1.6 .9 1.9 .8 1.9 .3 2 .8 1.9 .5 2 .6 1.9 1.8 1.1 1.1 1.8 .8 1.7 1.3 1.5 .8 1.7 .7 2 1.2 1.8 1.7 .7 1.5 1.1 1.7 .7 1.3 .9 1.6 .5-.7 1.8-.8 1.7M21.3 247.8l13.2 1 13 .9M42.3 230.5l1.4 2.5-.6 3.5-1-2.5M53.8 236.6l1.3 1.4-.8 2.2-.8-1.7M93 214.8l-.9 5.8 3.9 2.9 0 6.8-2 7.8 .5 11.6-6.3 1.5 1.9 7.8M229.5-.5l-.1 2 .3 2 .3 2 2.5 1 1.7 .1 1.6 .8 1.7 .1 1.5 1 1.4-1.2 1.6-.8 1.9 .7 2.1-.2 1.5 .8 .9 1.5 1.1 1.2 2.5-1 2.5 1.5 1.2 1.4 1.8 .6 1.3-1 1.4-1 1.3-1 2 1.5 1.6-.8 1.7 .1 1.7-.3 2 1.5 3-1 1.5-2-.5-3 2.1-1 1.9-1.5 1.8-.7 1.2-1.5 1.6-.8M251.5 30l1.2-1.8 1.8-1.2 1.6-.9 1.1-1.4 .9-1.6 1.4-1.1 1.5-1.3 1.4-1.5 1.1-1.7 1.6-.6 1.4-1 1.6-.4 1.4-1 1.9-1.5 2.1-1 1.3-1.7 1.7-1.3 1.2-1.4 1.6-1 1.7-.6 2.1-1.5M251.5 30l3-.8 4-1.6 4.5-2.6 3-.5 1-1.2-1.5 4.7 3.5-.2 1.5 .7 2-1.5 2.5-1.5 2.5-1.5 2.5-2 3.1-2M269.5 29l1.5 3.5 7.5 1.5 4.6 1.5M280.5 1l2.6-1"/><path fill="none" stroke="#000" stroke-width="2.8" stroke-linecap="round" d="M276 13L281.5 8.5M280.5 1.2L283 0.5M266.3 23.3L267 26"/><path fill="none" stroke="#000" stroke-width="1.25" stroke-linejoin="round" d="M-2.1-8.6l-13.8 11.5-6.5-4.3 6.5 4.3 1.4-1.1-6.6-4.4 6.6 4.4 1.4-1.2-6.6-4.3 6.6 4.3 1.4-1.1-3.3-2.2 3.3 2.2M17.6-8l-13.8 11.6-6.6-4.4 6.6 4.4 1.4-1.2-6.6-4.3 6.6 4.3 1.4-1.1-6.6-4.4 6.6 4.4 1.3-1.2-3.3-2.2 3.3 2.2M37.2-7.5l-13.8 11.4-6.6-4.4 6.6 4.4 1.3-1.1-6.5-4.4 6.5 4.4 1.4-1.1-6.5-4.4 6.5 4.4 1.4-1.2-3.3-2.2 3.3 2.2M56.9-7.2l-17.3 5.1-4.3-6.6 4.3 6.6 1.8-.5-4.3-6.6 4.3 6.6 1.7-.5-4.3-6.6 4.3 6.6 1.7-.5-2.1-3.3 2.1 3.3M76.6-7l-18-1.2-1.7-7.7 1.7 7.7 1.8 .1-1.8-7.7 1.8 7.7 1.8 .1-1.8-7.7 1.8 7.7 1.8 .2-1.8-7.7 1.8 7.7M96.2-7l-16.6-6.8 .8-7.9-.8 7.9 1.6 .6 .8-7.8-.8 7.8 1.7 .7 .8-7.8-.8 7.8M115.9-7.2l-13.9-11.4 3.1-7.3-3.1 7.3 1.4 1.1 3.1-7.3-3.1 7.3 1.4 1.1 1.5-3.6-1.5 3.6M135.5-7.5l-9.6-15.2 5.2-6-5.2 6 1 1.5 5.1-5.9-5.1 5.9 .9 1.5 5.2-5.9-5.2 5.9M155.2-8l-4.2-17.5 6.9-4-6.9 4 .4 1.7 6.9-3.9-6.9 3.9 .5 1.8 6.8-4-6.8 4 .4 1.7 3.4-1.9-3.4 1.9M174.8-8.7l-2.8-17.7 7.1-3.5-7.1 3.5 .3 1.7 7.1-3.4-7.1 3.4 .3 1.8 7.1-3.4-7.1 3.4 .2 1.8 3.6-1.7-3.6 1.7M194.5-9.5l-2.6-17.8 7.2-3.3-7.2 3.3 .3 1.8 7.1-3.3-7.1 3.3 .2 1.8 7.2-3.4-7.2 3.4 .3 1.7 7.1-3.3-7.1 3.3M214.1-10.5l-1.5-17.9 7.3-2.9-7.3 2.9 .1 1.8 7.3-2.9-7.3 2.9 .2 1.8 7.3-2.9-7.3 2.9 .1 1.8 7.4-2.9-7.4 2.9M233.8-11.6l-.4-18 7.5-2.4-7.5 2.4 0 1.8 7.5-2.4-7.5 2.4 0 1.8 7.6-2.4-7.6 2.4 .1 1.8 7.5-2.4-7.5 2.4 0 1.8 3.8-1.2-3.8 1.2M253.4-12.9l.9-18 7.6-1.9-7.6 1.9-.1 1.8 7.6-1.9-7.6 1.9-.1 1.8 7.7-1.9-7.7 1.9-.1 1.8 7.7-1.9-7.7 1.9-.1 1.8 3.8-1-3.8 1M273-14.4l2.4-17.9 7.8-1.2-7.8 1.2-.2 1.8 7.7-1.2-7.7 1.2-.3 1.8 7.8-1.2-7.8 1.2-.2 1.8 7.8-1.2-7.8 1.2M292.6-16.1l3.1-17.7 7.8-.9-7.8 .9-.3 1.8 7.8-.9-7.8 .9-.3 1.8 7.8-.9-7.8 .9-.3 1.7 7.8-.9-7.8 .9M-2.8 11.5l-13.6 11.8-6.7-4.2 6.7 4.2 1.3-1.1-6.6-4.3 6.6 4.3 1.4-1.2-6.7-4.3 6.7 4.3 1.4-1.2-3.4-2.1 3.4 2.1M17 12.2l-13.7 11.7-6.6-4.3 6.6 4.3 1.4-1.2-6.6-4.3 6.6 4.3 1.3-1.2-6.6-4.2 6.6 4.2 1.4-1.1-3.3-2.2 3.3 2.2M36.8 12.7l-13.8 11.6-6.5-4.4 6.5 4.4 1.4-1.2-6.6-4.3 6.6 4.3 1.4-1.2-6.6-4.3 6.6 4.3 1.4-1.1-3.3-2.2 3.3 2.2M56.7 13l-16.7 6.8-5-6.1 5 6.1 1.7-.7-5-6.1 5 6.1 1.6-.6-4.9-6.2 4.9 6.2 1.7-.7-2.5-3.1 2.5 3.1M76.5 13.2l-17.9 1.7-3-7.4 3 7.4 1.8-.2-3-7.3 3 7.3 1.7-.2-2.9-7.3 2.9 7.3 1.8-.1-1.4-3.7 1.4 3.7M96.3 13.2l-17.7-3.1-.9-7.8 .9 7.8 1.8 .3-1-7.8 1 7.8 1.7 .3-.9-7.8 .9 7.8 1.8 .3-.5-3.9 .5 3.9M116.1 13l-13.9-11.4 3.1-7.3-3.1 7.3 1.4 1.2 3-7.3-3 7.3 1.4 1.1 1.5-3.6-1.5 3.6M136 12.7l-9.6-15.3 5.2-5.9-5.2 5.9 1 1.6 5.2-6-5.2 6 .9 1.5 2.6-3-2.6 3M155.8 12.2l-4-17.6 6.9-3.8-6.9 3.8 .4 1.8 6.9-3.9-6.9 3.9 .4 1.7 6.9-3.8-6.9 3.8 .4 1.8 3.5-1.9-3.5 1.9M175.6 11.5l-2.8-17.8 7.1-3.4-7.1 3.4 .2 1.8 7.1-3.4-7.1 3.4 .3 1.8 7.1-3.4-7.1 3.4 .3 1.8 3.6-1.7-3.6 1.7M195.4 10.7l-2.5-17.8 7.1-3.3-7.1 3.3 .2 1.7 7.2-3.3-7.2 3.3 .3 1.8 7.1-3.3-7.1 3.3 .2 1.8 7.2-3.3-7.2 3.3M215.2 9.7l-1.7-17.9 7.3-3-7.3 3 .1 1.8 7.3-3-7.3 3 .2 1.8 7.3-3-7.3 3 .2 1.7 7.3-2.9-7.3 2.9M235 8.5l-.8-18 7.4-2.6-7.4 2.6 0 1.8 7.5-2.6-7.5 2.6 .1 1.8 7.5-2.6-7.5 2.6 .1 1.8 7.5-2.6-7.5 2.6 .1 1.8 3.7-1.3-3.7 1.3M254.8 7.2l.6-18 7.6-2-7.6 2 0 1.8 7.6-2-7.6 2-.1 1.8 7.6-2-7.6 2-.1 1.8 7.7-2-7.7 2 0 1.8 3.8-1-3.8 1M274.6 5.7l2.4-17.8 7.8-1.2-7.8 1.2-.2 1.8 7.8-1.2-7.8 1.2-.3 1.7 7.8-1.2-7.8 1.2-.2 1.8 7.8-1.2-7.8 1.2M294.3 4.1l3.2-17.8 7.8-.9-7.8 .9-.3 1.8 7.8-.9-7.8 .9-.4 1.8 7.9-.9-7.9 .9-.3 1.8 7.9-.9-7.9 .9M-3.6 31.8l-13.4 12-6.7-4.1 6.7 4.1 1.4-1.2-6.8-4.1 6.8 4.1 1.3-1.2-6.7-4.1 6.7 4.1 1.3-1.2-3.3-2 3.3 2M16.4 32.5l-13.6 11.8-6.6-4.2 6.6 4.2 1.4-1.2-6.7-4.2 6.7 4.2 1.3-1.2-6.6-4.2 6.6 4.2 1.4-1.1-3.3-2.2 3.3 2.2M36.4 33l-13.8 11.6-6.6-4.4 6.6 4.4 1.4-1.2-6.6-4.3 6.6 4.3 1.4-1.2-6.6-4.3 6.6 4.3 1.4-1.1-3.3-2.2 3.3 2.2M56.4 33.3l-15.9 8.4-5.5-5.6 5.5 5.6 1.6-.8-5.5-5.6 5.5 5.6 1.6-.8-5.5-5.7 5.5 5.7 1.6-.9-2.8-2.8 2.8 2.8M76.4 33.5l-17.3 4.8-4.2-6.6 4.2 6.6 1.7-.4-4.2-6.7 4.2 6.7 1.7-.5-4.2-6.7 4.2 6.7 1.8-.5-2.1-3.4 2.1 3.4M96.4 33.5l-18 .3-2.4-7.5 2.4 7.5 1.8 0-2.4-7.5 2.4 7.5 1.8 0-2.4-7.6 2.4 7.6 1.8-.1-1.2-3.7 1.2 3.7M116.4 33.3l-13.9-11.4 3.1-7.3-3.1 7.3 1.4 1.1 3.1-7.3-3.1 7.3 1.4 1.2 1.5-3.7-1.5 3.7M136.4 33l-9.5-15.3 5.3-5.9-5.3 5.9 1 1.5 5.2-5.9-5.2 5.9 .9 1.5 2.6-2.9-2.6 2.9M156.4 32.5l-3.8-17.6 7-3.8-7 3.8 .4 1.7 6.9-3.8-6.9 3.8 .4 1.8 6.9-3.8-6.9 3.8 .4 1.7 3.4-1.8-3.4 1.8M176.4 31.8l-2.9-17.8 7.1-3.4-7.1 3.4 .3 1.8 7.1-3.4-7.1 3.4 .3 1.8 7.1-3.4-7.1 3.4 .3 1.8 3.5-1.8-3.5 1.8M196.4 31l-2.6-17.9 7.2-3.3-7.2 3.3 .3 1.8 7.1-3.3-7.1 3.3 .2 1.8 7.2-3.3-7.2 3.3 .3 1.8 7.1-3.3-7.1 3.3M216.3 30l-2-17.9 7.2-3.1-7.2 3.1 .2 1.8 7.2-3.1-7.2 3.1 .2 1.8 7.2-3.1-7.2 3.1 .2 1.7 7.3-3.1-7.3 3.1M236.3 28.8l-1.5-17.9 7.3-2.9-7.3 2.9 .1 1.7 7.4-2.8-7.4 2.8 .2 1.8 7.3-2.8-7.3 2.8 .1 1.8 7.4-2.8-7.4 2.8 .2 1.8 3.7-1.4-3.7 1.4M256.3 27.5l.2-18 7.6-2.2-7.6 2.2 0 1.8 7.5-2.2-7.5 2.2-.1 1.8 7.6-2.2-7.6 2.2 0 1.8 7.6-2.2-7.6 2.2 0 1.8 3.8-1.1-3.8 1.1M276.2 26l2.5-17.9 7.8-1.2-7.8 1.2-.3 1.8 7.8-1.2-7.8 1.2-.2 1.8 7.8-1.2-7.8 1.2-.3 1.8 7.8-1.2-7.8 1.2M296.1 24.3l3.1-17.7 7.9-.9-7.9 .9-.3 1.7 7.9-.9-7.9 .9-.3 1.8 7.9-.9-7.9 .9-.3 1.8 7.8-.9-7.8 .9M-4.3 52.2l-13.4 12.1-6.7-4.2 6.7 4.2 1.3-1.2-6.7-4.2 6.7 4.2 1.4-1.3-6.8-4.1 6.8 4.1M15.8 52.9l-13.5 11.9-6.7-4.2 6.7 4.2 1.4-1.2-6.7-4.2 6.7 4.2 1.3-1.2-6.7-4.2 6.7 4.2M36 53.4l-13.7 11.7-6.6-4.2 6.6 4.2 1.4-1.1-6.6-4.3 6.6 4.3 1.4-1.2-6.7-4.3 6.7 4.3M56.2 53.7l-15.2 9.7-6-5.1 6 5.1 1.5-1-6-5.1 6 5.1 1.5-.9-3-2.6 3 2.6M76.3 53.9l-16.6 7-5-6.1 5 6.1 1.7-.7-5-6.1 5 6.1 1.7-.7-2.6-3.1 2.6 3.1M96.5 53.9l-18-.1-2.2-7.6 2.2 7.6 1.8 0-2.2-7.5 2.2 7.5 1.8 0-1.1-3.8 1.1 3.8M116.7 53.7l-14.4-10.9 2.8-7.3-2.8 7.3 1.4 1.1 2.8-7.4-2.8 7.4M136.8 53.4l-10.9-14.3 4.6-6.4-4.6 6.4 1.1 1.4 4.6-6.4-4.6 6.4M157 52.9l-4-17.6 6.9-3.9-6.9 3.9 .4 1.8 6.9-3.9-6.9 3.9 .4 1.7 6.9-3.8-6.9 3.8 .4 1.8 3.5-2-3.5 2M177.1 52.2l-2.8-17.8 7.1-3.4-7.1 3.4 .3 1.8 7.1-3.4-7.1 3.4 .3 1.8 7.1-3.4-7.1 3.4 .3 1.7 7.1-3.4-7.1 3.4M197.3 51.3l-2.2-17.8 7.2-3.2-7.2 3.2 .2 1.8 7.3-3.2-7.3 3.2 .2 1.7 7.3-3.1-7.3 3.1 .3 1.8 7.2-3.1-7.2 3.1M217.4 50.3l-1.5-17.9 7.3-2.9-7.3 2.9 .1 1.8 7.4-2.9-7.4 2.9 .2 1.8 7.3-2.9-7.3 2.9 .2 1.8 7.3-2.9-7.3 2.9 .1 1.8 3.7-1.5-3.7 1.5M237.6 49.1l-1.1-17.9 7.5-2.7-7.5 2.7 .2 1.8 7.4-2.7-7.4 2.7 .1 1.8 7.4-2.7-7.4 2.7 .1 1.8 7.4-2.7-7.4 2.7 .1 1.8 3.7-1.4-3.7 1.4M257.7 47.8l-.5-18 7.5-2.4-7.5 2.4 .1 1.8 7.5-2.4-7.5 2.4 0 1.8 7.5-2.4-7.5 2.4 .1 1.8 7.5-2.4-7.5 2.4 0 1.8 3.8-1.2-3.8 1.2M277.8 46.3l.6-18 7.6-2-7.6 2-.1 1.8 7.6-2-7.6 2 0 1.8 7.6-2-7.6 2-.1 1.8 7.6-2-7.6 2M297.9 44.6l1.1-18 7.7-1.8-7.7 1.8-.1 1.8 7.7-1.8-7.7 1.8-.1 1.8 7.7-1.8-7.7 1.8-.1 1.8 7.6-1.8-7.6 1.8M-5.1 72.7l-13.4 12-6.7-4.1 6.7 4.1 1.4-1.2-6.8-4.1 6.8 4.1 1.3-1.2-3.4-2 3.4 2M15.2 73.4l-13.4 12-6.7-4.1 6.7 4.1 1.4-1.2-6.7-4.1 6.7 4.1 1.3-1.2-3.3-2.1 3.3 2.1M35.6 73.9l-13.4 12-6.8-4.1 6.8 4.1 1.3-1.2-6.7-4.1 6.7 4.1M55.9 74.2l-13.6 11.8-6.7-4.3 6.7 4.3 1.3-1.2-6.6-4.2 6.6 4.2M76.2 74.4l-13.9 11.4-6.5-4.4 6.5 4.4 1.4-1.2-3.3-2.2 3.3 2.2M96.6 74.4l-18-.9-1.9-7.6 1.9 7.6 1.8 .1-1.9-7.6 1.9 7.6M116.9 74.2l-15.2-9.7 2.2-7.6-2.2 7.6 1.6 1 1-3.8-1 3.8M137.3 73.9l-12.8-12.7 3.8-7-3.8 7 1.3 1.2 3.7-6.9-3.7 6.9M157.6 73.4l-4.1-17.6 6.8-3.9-6.8 3.9 .4 1.8 6.8-3.9-6.8 3.9 .4 1.7 6.8-3.9-6.8 3.9 .4 1.8 6.9-3.9-6.9 3.9M177.9 72.7l-2.7-17.8 7.1-3.4-7.1 3.4 .2 1.8 7.2-3.4-7.2 3.4 .3 1.7 7.1-3.3-7.1 3.3 .3 1.8 7.1-3.4-7.1 3.4M198.2 71.8l-1.7-17.9 7.3-3-7.3 3 .2 1.8 7.3-3-7.3 3 .2 1.8 7.3-3-7.3 3 .1 1.8 7.3-3-7.3 3M218.6 70.8l-.9-18 7.4-2.6-7.4 2.6 0 1.8 7.5-2.6-7.5 2.6 .1 1.8 7.5-2.6-7.5 2.6 .1 1.8 7.5-2.6-7.5 2.6 .1 1.8 3.7-1.3-3.7 1.3M238.9 69.6l-.3-18 7.6 2.2-7.5 2.3M259.2 68.3l-1.6-18 7.4-2.9-7.4 2.9 .2 1.8 7.3-2.9-7.3 2.9 .1 1.8 7.4-2.9-7.4 2.9 .2 1.8 7.3-2.9-7.3 2.9 .1 1.8 3.7-1.4-3.7 1.4M279.4 66.7l-2.9-17.7 7.1-3.5-7.1 3.5 .3 1.7 7.1-3.4-7.1 3.4 .3 1.8 7-3.4-7 3.4 .3 1.8 7-3.5-7 3.5M299.7 65l-2.8-17.7 7.1-3.5-7.1 3.5 .3 1.7 7.1-3.4-7.1 3.4 .2 1.8 7.1-3.4-7.1 3.4 .3 1.8 7.1-3.4-7.1 3.4M-5.9 93.3l-13.3 12-6.8-4.1 6.8 4.1 1.3-1.2-6.7-4.1 6.7 4.1 1.3-1.2-3.3-2 3.3 2M14.6 94l-13.3 12-6.8-4.1 6.8 4.1 1.3-1.2-6.7-4.1 6.7 4.1M35.1 94.5l-13.3 12-6.8-4.1 6.8 4.1 1.3-1.2-6.7-4.1 6.7 4.1M55.6 94.8l-13.6 11.7-6.7-4.3 6.7 4.3 1.3-1.2-3.3-2.1 3.3 2.1M76.2 95l-14.2 11.1-6.4-4.6 6.4 4.6 1.4-1.1-3.2-2.3 3.2 2.3M96.7 95l-18-.9-1.9-7.7 1.9 7.7 1.8 .1-1-3.8 1 3.8M117.2 94.8l-15.1-9.8 2.2-7.6-2.2 7.6 1.5 1 1.1-3.8-1.1 3.8M137.7 94.5l-12.8-12.7 3.7-6.9-3.7 6.9 1.2 1.3 1.9-3.5-1.9 3.5M158.2 93.9l-4-17.5 6.9-3.9-6.9 3.9 .4 1.7 6.9-3.8-6.9 3.8 .4 1.8 6.9-3.9-6.9 3.9 .4 1.7 6.9-3.8-6.9 3.8M178.7 93.3l-2.7-17.8 7.2-3.4-7.2 3.4 .3 1.7 7.1-3.3-7.1 3.3 .2 1.8 7.2-3.3-7.2 3.3 .3 1.8 7.2-3.4-7.2 3.4M199.2 92.4l-1.6-17.9 7.3-2.9-7.3 2.9 .1 1.8 7.4-3-7.4 3 .2 1.8 7.3-3-7.3 3 .2 1.7 7.3-2.9-7.3 2.9M219.7 91.4l-.8-18 7.5-2.6-7.5 2.6 .1 1.8 7.5-2.6-7.5 2.6 .1 1.8 7.4-2.6-7.4 2.6 0 1.8 7.5-2.6-7.5 2.6 .1 1.8 3.8-1.3-3.8 1.3M240.1 90.2l0-18 7.6 2.2-7.6 2.3M260.6 88.8l-2.7-17.8 7.1-3.4-7.1 3.4 .2 1.8 7.2-3.4-7.2 3.4 .3 1.8 7.1-3.4-7.1 3.4 .3 1.7 7.1-3.3-7.1 3.3 .3 1.8 3.5-1.7-3.5 1.7M281.1 87.3l-6.4-16.9 6.3-4.8-6.3 4.8 .7 1.7 6.3-4.8-6.3 4.8 .6 1.7 6.3-4.8-6.3 4.8 .6 1.7 3.2-2.4-3.2 2.4M-6.6 114l-13.4 12-6.8-4.1 6.8 4.1 1.3-1.2-6.7-4.1 6.7 4.1M14 114.7l-13.3 12-6.8-4.1 6.8 4.1 1.3-1.2-6.7-4.1 6.7 4.1M34.7 115.2l-13.4 12-6.7-4.1 6.7 4.1 1.4-1.2-6.8-4.1 6.8 4.1M55.4 115.5l-13.9 11.5-6.5-4.4 6.5 4.4 1.4-1.2-3.3-2.2 3.3 2.2M76.1 115.7l-14.7 10.4-6.2-4.8 6.2 4.8M96.8 115.7l-18-.9-1.9-7.6 1.9 7.6M117.4 115.5l-14.9-10 2.3-7.5-2.3 7.5M138.1 115.2l-12.8-12.7 3.8-7-3.8 7 1.3 1.3 1.9-3.5-1.9 3.5M158.8 114.6l-3.8-17.6 6.9-3.8-6.9 3.8 .4 1.8 6.9-3.8-6.9 3.8 .3 1.8 7-3.8-7 3.8 .4 1.7 6.9-3.8-6.9 3.8M179.5 113.9l-2.6-17.8 7.1-3.3-7.1 3.3 .2 1.8 7.2-3.3-7.2 3.3 .3 1.8 7.1-3.3-7.1 3.3 .2 1.8 7.2-3.3-7.2 3.3M200.1 113.1l-1.5-18 7.3-2.9-7.3 2.9 .1 1.8 7.4-2.9-7.4 2.9 .2 1.8 7.3-2.9-7.3 2.9 .1 1.8 7.4-2.9-7.4 2.9 .2 1.8 3.7-1.4-3.7 1.4M220.8 112l-.7-17.9 7.4-2.6-7.4 2.6 0 1.8 7.5-2.6-7.5 2.6 .1 1.7 7.5-2.5-7.5 2.5 .1 1.8 7.5-2.5-7.5 2.5 .1 1.8 3.7-1.2-3.7 1.2M241.4 110.8l-.1-18 7.6 2.2-7.5 2.3M262.1 109.4l-4.4-17.4 6.8-4-6.8 4 .5 1.7 6.8-4-6.8 4 .4 1.8 6.8-4-6.8 4 .4 1.7 6.8-4-6.8 4M282.7 107.9l-10-15 5.1-6.1-5.1 6.1 1 1.5 5.1-6.1-5.1 6.1 1 1.5 5.1-6.1-5.1 6.1M-7.4 134.8l-17.8 3-3.4-7.1 3.4 7.1 1.8-.3-3.5-7.1 3.5 7.1M13.4 135.4l-17.9 1.1-2.7-7.5 2.7 7.5 1.8-.1-2.7-7.5 2.7 7.5M34.3 136l-17.9-1.7-1.6-7.8 1.6 7.8 1.7 .1-.7-3.8 .7 3.8M55.1 136.3l-16.7-6.7 .8-7.9-.8 7.9 1.7 .6 .4-3.9-.4 3.9M76 136.5l-13.4-12.1 3.4-7.1-3.4 7.1 1.4 1.2 1.7-3.5-1.7 3.5M96.8 136.5l-9.7-15.1 5.1-6-5.1 6 .9 1.5 2.6-3-2.6 3M117.7 136.3l-12.5-12.9 3.9-6.9-3.9 6.9 1.2 1.2 2-3.4-2 3.4M138.6 135.9l-11.6-13.8 4.4-6.5-4.4 6.5 1.2 1.4 2.2-3.3-2.2 3.3M159.4 135.4l-3.4-17.6 7-3.7-7 3.7 .3 1.7 7-3.6-7 3.6 .4 1.8 7-3.7-7 3.7 .3 1.8 7-3.7-7 3.7M180.3 134.7l-2.5-17.8 7.2-3.3-7.2 3.3 .2 1.8 7.2-3.3-7.2 3.3 .3 1.8 7.2-3.3-7.2 3.3 .2 1.7 7.2-3.2-7.2 3.2 .3 1.8 3.6-1.6-3.6 1.6M201.1 133.9l-1.7-18 7.4-2.9-7.4 2.9 .2 1.8 7.3-2.9-7.3 2.9 .2 1.8 7.3-2.9-7.3 2.9 .1 1.8 7.4-2.9-7.4 2.9 .2 1.8 3.7-1.5-3.7 1.5M221.9 132.8l-3.1-17.7 7.9 .9-7.1 3.5M242.7 131.6l-4.4-17.5 7.9 .4-6.8 4M263.6 130.2l-10-15 5.1-6.1-5.1 6.1 1 1.5 5-6.1-5 6.1 1 1.5 5-6.1-5 6.1 1 1.5 5-6.1-5 6.1 1 1.5 2.5-3-2.5 3M284.4 128.6l-15-10 2.3-7.5-2.3 7.5 1.5 1 2.3-7.5-2.3 7.5 1.5 1 2.3-7.5-2.3 7.5 1.5 1 1.1-3.7-1.1 3.7M-8.2 155.6l-1.1-17.9 7.4-2.7-7.4 2.7 .1 1.8 3.7-1.4-3.7 1.4M12.8 156.3l0-18 7.6-2.2-7.6 2.2 0 1.8 3.8-1.1-3.8 1.1M33.8 156.9l1.1-18 7.7-1.8-7.7 1.8-.1 1.8 3.9-.9-3.9 .9M54.9 157.2l2.1-17.9 7.7-1.3-7.7 1.3-.3 1.8 3.9-.7-3.9 .7M75.9 157.4l3-17.8 7.8-1-7.8 1-.3 1.8 3.9-.5-3.9 .5M96.9 157.4l3-17.8 7.8-.9-7.8 .9-.3 1.8 3.9-.5-3.9 .5M118 157.2l-10.2-14.9 5-6.1-5 6.1 1 1.5 2.5-3-2.5 3M139 156.8l-10.2-14.8 4.9-6.1-4.9 6.1 1 1.5 4.9-6.1-4.9 6.1M160 156.3l-3.1-17.7 7.1-3.5-7.1 3.5 .3 1.8 7.1-3.6-7.1 3.6 .3 1.7 7.1-3.5-7.1 3.5 .3 1.8 7.1-3.5-7.1 3.5 .4 1.8 3.5-1.8-3.5 1.8M181 155.6l-2.3-17.8 7.2-3.2-7.2 3.2 .3 1.7 7.2-3.2-7.2 3.2 .2 1.8 7.2-3.2-7.2 3.2 .2 1.8 7.2-3.2-7.2 3.2 .3 1.8 3.6-1.6-3.6 1.6M202.1 154.7l-2.1-17.9 7.3-3-7.3 3 .2 1.8 7.3-3.1-7.3 3.1 .2 1.8 7.3-3.1-7.3 3.1 .2 1.8 7.3-3.1-7.3 3.1 .2 1.8 3.7-1.5-3.7 1.5M223.1 153.7l-6.4-16.9 7.9-.5-6.3 4.7M244.1 152.4l-10.1-14.9 7.6-2.3-5.1 6M265 151l-15-9.9 6-5-2.2 7.5M286 149.5l-17.4-4.7-.2-7.9 .2 7.9 1.8 .5-.3-7.9 .3 7.9 1.7 .4-.2-7.8 .2 7.8 1.7 .5-.2-7.9 .2 7.9 1.8 .5-.1-4 .1 4M-9 176.6l0-18 7.6-2.2-7.6 2.2 0 1.8 3.8-1.1-3.8 1.1M12.2 177.3l.6-18 7.7-1.9-7.7 1.9 0 1.8 3.8-1-3.8 1M33.4 177.9l1.5-18 7.7-1.6-7.7 1.6-.2 1.8 3.9-.8-3.9 .8M54.6 178.2l2.3-17.9 7.7-1.2-7.7 1.2-.3 1.8 3.9-.6-3.9 .6M75.8 178.4l3.1-17.8 7.8-.9-7.8 .9-.3 1.8 3.9-.5-3.9 .5M97 178.4l3.2-17.8 7.8-.9-7.8 .9-.4 1.8 4-.4-4 .4M118.2 178.2l-10.2-14.8 4.9-6.2-4.9 6.2 1 1.5 2.5-3.1-2.5 3.1M139.4 177.8l-10.7-14.4 4.8-6.3-4.8 6.3 1.1 1.4 4.7-6.3-4.7 6.3M160.6 177.3l-5.4-17.2 6.6-4.4-6.6 4.4 .6 1.7 6.5-4.4-6.5 4.4 .5 1.8 6.6-4.4-6.6 4.4 .6 1.7 3.2-2.2-3.2 2.2M181.8 176.6l-6.8-16.7 6.2-4.9-6.2 4.9 .7 1.7 6.2-4.9-6.2 4.9 .7 1.7 6.1-5-6.1 5 .7 1.6 6.1-4.9-6.1 4.9M203 175.7l-8.2-16 5.7-5.5-5.7 5.5 .8 1.6 5.7-5.5-5.7 5.5 .8 1.6 5.7-5.5-5.7 5.5 .9 1.6 5.7-5.5-5.7 5.5 .8 1.6 2.8-2.7-2.8 2.7M224.2 174.6l-11.9-13.5 4.3-6.7-4.3 6.7 1.2 1.4 4.2-6.7-4.2 6.7 1.2 1.3 4.2-6.7-4.2 6.7 1.2 1.4 4.2-6.7-4.2 6.7 1.2 1.3 2.1-3.3-2.1 3.3M245.4 173.4l-14.5-10.6 6.3-4.8-2.7 7.4M266.5 172l-17-5.8 4.6-6.5-.3 7.9M287.7 170.4l-17.9-2.2 3.2-7.2 1.3 7.8M-9.8 197.7l0-18 7.6-2.2-7.6 2.2 0 1.8 3.8-1.1-3.8 1.1M11.6 198.4l.6-18 7.6-2-7.6 2-.1 1.8 3.9-1-3.9 1M33 199l1.4-18 7.7-1.6-7.7 1.6-.1 1.8 3.8-.8-3.8 .8M54.4 199.3l2.2-17.9 7.8-1.2-7.8 1.2-.2 1.8 3.9-.6-3.9 .6M75.7 199.5l3.1-17.8 7.8-.9-7.8 .9-.3 1.8 3.9-.5-3.9 .5M97.1 199.5l3.1-17.8 7.8-.9-7.8 .9-.3 1.8 3.9-.4-3.9 .4M118.5 199.3l-10.3-14.7 4.9-6.2-4.9 6.2 1 1.4 4.9-6.2-4.9 6.2M139.9 198.9l-11.5-13.8 4.4-6.6-4.4 6.6 1.1 1.4 4.4-6.6-4.4 6.6M161.3 198.4l-10.6-14.6 4.8-6.2-4.8 6.2 1.1 1.5 4.8-6.3-4.8 6.3M182.6 197.7l-13.3-12.2 3.5-7.1-3.5 7.1 1.4 1.3 3.4-7.1-3.4 7.1 1.3 1.2 3.4-7.1-3.4 7.1M204 196.8l-14.7-10.5 2.6-7.4-2.6 7.4 1.5 1.1 2.6-7.5-2.6 7.5 1.5 1 2.5-7.4-2.5 7.4 1.4 1.1 2.6-7.5-2.6 7.5M225.3 195.7l-16.3-7.6 1.2-7.8-1.2 7.8 1.7 .8 1.1-7.8-1.1 7.8 1.6 .7 1.2-7.8-1.2 7.8 1.6 .8 1.2-7.8-1.2 7.8 1.7 .7 .5-3.9-.5 3.9M246.7 194.5l-17.3-5.2 4.4-6.6 0 7.9M268 193l-17.8-2.4 3.2-7.2 1.2 7.8M289.3 191.4l-17.9-.6 2.5-7.4 2 7.6M-10.6 218.9l0-18 7.6-2.3-7.6 2.3 0 1.8 3.8-1.1-3.8 1.1M11 219.6l.6-18 7.6-2-7.6 2-.1 1.8 3.8-1-3.8 1M32.5 220.1l1.4-17.9 7.8-1.7-7.8 1.7-.1 1.8 3.9-.8-3.9 .8M54.1 220.5l2.2-17.9 7.8-1.3-7.8 1.3-.2 1.8 3.9-.6-3.9 .6M75.7 220.7l3-17.8 7.8-.9-7.8 .9-.3 1.8 3.9-.5-3.9 .5M97.2 220.7l-.6-18 7.5-2.5-7.5 2.5 .1 1.8 3.7-1.3-3.7 1.3M118.8 220.5l-12.8-12.6 3.7-7-3.7 7 1.2 1.2 1.9-3.5-1.9 3.5M140.3 220.1l-13.8-11.5 3.1-7.3-3.1 7.3 1.4 1.1 3.1-7.2-3.1 7.2M161.9 219.6l-14-11.4 3-7.3-3 7.3 1.4 1.2 3-7.3-3 7.3 1.4 1.1 1.5-3.6-1.5 3.6M183.4 218.9l-15-9.9 2.2-7.6-2.2 7.6 1.5 1 2.2-7.6-2.2 7.6 1.5 1 2.3-7.6-2.3 7.6 1.5 1 1.1-3.8-1.1 3.8M205 218l-15.8-8.6 1.6-7.8-1.6 7.8 1.5 .8 1.7-7.7-1.7 7.7 1.6 .9 1.7-7.7-1.7 7.7 1.6 .8 1.6-7.7-1.6 7.7M226.5 216.9l-16.8-6.5 .7-7.9-.7 7.9 1.7 .6 .6-7.9-.6 7.9 1.7 .7 .6-7.9-.6 7.9 1.7 .6 .6-7.8-.6 7.8 1.6 .7 .4-4-.4 4M248 215.6l-17.5-4.3 4-6.8 .4 7.9M269.5 214.2l-17.9-1.5 2.9-7.4 1.6 7.8M291 212.6l-18 0 2.3-7.6 2.2 7.6M-11.4 240.2l0-18 7.6-2.3-7.6 2.3 0 1.8 3.8-1.1-3.8 1.1M10.4 240.9l.5-18 7.6-2-7.6 2 0 1.8 3.8-1-3.8 1M32.1 241.4l1.4-17.9 7.7-1.7-7.7 1.7-.2 1.8 3.9-.8-3.9 .8M53.8 241.8l2.3-17.9 7.7-1.3-7.7 1.3-.3 1.8 3.9-.6-3.9 .6M75.6 242l3-17.8 7.8-.9-7.8 .9-.3 1.8 3.9-.5-3.9 .5M97.3 242l-5.9-17 6.4-4.6-6.4 4.6M119 241.8l-16.2-7.7 1.2-7.8-1.2 7.8M140.8 241.4l-15.6-9 1.8-7.6-1.8 7.6 1.5 .9 1.9-7.6-1.9 7.6M162.5 240.9l-15.7-8.9 1.8-7.7-1.8 7.7 1.6 .9 1.8-7.7-1.8 7.7 1.6 .9 1.7-7.7-1.7 7.7M184.2 240.1l-16.1-8 1.4-7.8-1.4 7.8 1.7 .8 1.3-7.8-1.3 7.8 1.6 .8 1.4-7.8-1.4 7.8 1.6 .8 .7-3.9-.7 3.9M205.9 239.2l-16.3-7.4 1-7.8-1 7.8 1.6 .7 1.1-7.8-1.1 7.8 1.6 .8 1.1-7.8-1.1 7.8 1.7 .7 1.1-7.8-1.1 7.8M227.7 238.2l-16.8-6.6 .7-7.9-.7 7.9 1.7 .6 .6-7.8-.6 7.8 1.6 .7 .7-7.9-.7 7.9 1.7 .6 .7-7.8-.7 7.8 1.7 .7 .3-3.9-.3 3.9M249.4 236.9l-17.4-4.7-.2-7.9 .2 7.9 1.7 .5-.2-7.9 .2 7.9 1.8 .4-.2-7.9 .2 7.9 1.7 .5-.2-7.9 .2 7.9 1.7 .5-.1-4 .1 4M271 235.4l-17.9-1.4 2.9-7.4 1.6 7.7M292.7 233.8l-18 0 2.3-7.6 2.2 7.6M-12.2 261.6l0-18 7.6-2.3-7.6 2.3 0 1.8 3.8-1.2-3.8 1.2M9.7 262.3l.6-18 7.6-2-7.6 2-.1 1.8 3.8-1-3.8 1M31.7 262.8l1.3-17.9 7.7-1.7-7.7 1.7-.1 1.8 3.8-.8-3.8 .8M53.6 263.2l2.2-17.9 7.8-1.3-7.8 1.3-.2 1.8 3.8-.6-3.8 .6M75.5 263.4l3-17.8 7.9-.9-7.9 .9-.3 1.8 3.9-.5-3.9 .5M97.4 263.4l-8.6-15.9 5.6-5.5-5.6 5.5M119.3 263.2l-16.3-7.7 1.2-7.8-1.2 7.8M141.2 262.8l-15.6-9 1.9-7.7-1.9 7.7 1.6 .9 1.8-7.7-1.8 7.7M163.1 262.3l-15.7-8.9 1.8-7.7-1.8 7.7 1.6 .9 1.8-7.7-1.8 7.7 1.6 .9 1.7-7.7-1.7 7.7M185 261.5l-16.1-8 1.4-7.8-1.4 7.8 1.6 .8 1.4-7.8-1.4 7.8 1.6 .8 1.4-7.8-1.4 7.8 1.7 .8 .6-3.9-.6 3.9M206.9 260.6l-16.4-7.3 1-7.8-1 7.8 1.6 .7 1.1-7.8-1.1 7.8 1.7 .7 1-7.8-1 7.8 1.6 .8 1.1-7.8-1.1 7.8M228.8 259.5l-16.7-6.5 .6-7.9-.6 7.9 1.6 .6 .7-7.8-.7 7.8 1.7 .7 .7-7.9-.7 7.9 1.7 .6 .6-7.8-.6 7.8 1.7 .7 .3-3.9-.3 3.9M250.7 258.2l-17.4-4.6-.3-7.8 .3 7.8 1.7 .5-.2-7.9 .2 7.9 1.8 .5-.3-7.9 .3 7.9 1.7 .4-.2-7.9 .2 7.9 1.8 .5-.2-4 .2 4M272.6 256.8l-18-1.3 2.8-7.4 1.7 7.7M294.4 255.1l-18 0 2.3-7.5 2.2 7.5M296.1 276.6l-18 0 2.3-7.6 2.2 7.6"/><path fill="#000" stroke="#000" stroke-width="1" d="M238.6 51.6l7.6 2.2-7.5 2.3zM240.1 72.2l7.6 2.2-7.6 2.3zM241.3 92.8l7.6 2.2-7.5 2.3zM218.8 115.1l7.9 .9-7.1 3.5zM238.3 114.1l7.9 .4-6.8 4zM216.7 136.8l7.9-.5-6.3 4.7zM234 137.5l7.6-2.3-5.1 6zM250 141.1l6-5-2.2 7.5zM230.9 162.8l6.3-4.8-2.7 7.4zM249.5 166.2l4.6-6.5-.3 7.9zM269.8 168.2l3.2-7.2 1.3 7.8zM229.4 189.3l4.4-6.6 0 7.9zM250.2 190.6l3.2-7.2 1.2 7.8zM271.4 190.8l2.5-7.4 2 7.6zM230.5 211.3l4-6.8 .4 7.9zM251.6 212.7l2.9-7.4 1.6 7.8zM273 212.6l2.3-7.6 2.2 7.6zM253.1 234l2.9-7.4 1.6 7.7zM274.7 233.8l2.3-7.6 2.2 7.6zM254.6 255.5l2.8-7.4 1.7 7.7zM276.4 255.1l2.3-7.5 2.2 7.5zM278.1 276.6l2.3-7.6 2.2 7.6z"/><path d="M137.25 105.3h6.6" stroke="#222" stroke-width="2.3"/><path d="M140.55 102.5v5.6" stroke="#222" stroke-width="1.8"/></g><rect x="0" y="0" width="283.1" height="258.8" fill="none" stroke="#000" stroke-width="1.1"/><path d="M0.5 0.5h4.5a4.5 4.5 0 0 1-4.5 4.5z" fill="#000"/></g><text x="693.5" y="74.6" font-size="17.4" text-anchor="middle">NCEP NAM</text><g transform="translate(1032.4 82)"><g clip-path="url(#pc)"><rect x="1.8" y="0.3" width="280.3" height="254.9" fill="#824b09"/><path fill="#995d13" d="M3.8 .3l278.3 0 0 254.9-280.3 0 0-254.9 2 0zM97.4 156.9l-3.5 2-8.2 6-3.8 3-2 2-.9 1-1.3 2-.8 2-.4 2 .1 2 .6 2 1.1 2 1.8 2.1 2.4 2 7.4 5.5 .6 .5 2 2 1.6 2 2.9 4 1.4 2 1.6 2 1.9 1.5 2 .7 .7-.2 1.3-.5 1-1.5 .5-2 .1-2-.2-2-1-4-.6-2-1.4-4-1.1-4-.2-2.1-.1-2 .2-2 .8-3.2 .2-.8 1.5-4 .7-2 1.3-4 .4-2 .1-2-.3-2-1.1-2-.8-.7-2-.8-2 0-2 .5-2.5 1z"/><path fill="#ad7021" d="M3.8 .3l278.3 0 0 254.9-144.8 0 .6-.6 1.2-1.4 1.1-2 .7-2 .4-2 .2-2 0-2-.2-2-.7-4.1-.7-2.8-1-3.2-1-2.5-2.6-5.5-4-8-1.4-3.4-.2-.7-.6-2-.4-2-.6-4-.3-4 0-4 .3-6 .5-8.1 .1-6 0-22.1 .5-16-.2-4-.2-2-.4-2-.5-2.1-.9-2-1.1-1.6-.4-.4-1.6-1.1-2-.3-2 .4-2.5 1-3.5 1.9-2 1.1-4 1.9-2.8 1.2-1.2 .3-2 .5-2 .3-2 .2-2 .1-2 0-2-.2-2-.4-2.3-.8-1-2.1 .4-2 1.1-4 .9-4 .3-2 .1-2 0-2-.2-2-.5-2-.8-2-2-2.1-2-.8-2-.2-2 .4-2 1-2 2.1-.9 1.6-.8 2-.6 2-.3 2-.1 2 0 2 .1 2 .6 3.5 .2 .5 .7 2 1.1 2.3 1.1 1.8 .5 2-.6 2-1.6 2-4.5 4-.9 .7-3.7 3.3-.3 .3-2 2.5-2 3.3-1.6 3.9-.6 2-.9 4.1-.6 4-.4 4-.2 4-.1 4 .2 4 .4 4 .7 4.1 1.1 3.5 .1 .5 .9 2 1.1 2 1.9 2.4 2 1.9 2.4 1.7 7.6 5 2 1.7 2 2.1 2.6 3.3 5.4 7.3 2.4 2.7 2.1 2 2.3 2 3.2 2.3 5.3 3.7 2.4 2 .3 .3 2 2 2 2.6 .7 1.2 1.3 2.2 2 4.1 2 4.2 .8 1.5 1.4 2-116.3 0 0-254.9 2 0z"/><path fill="#c28633" d="M3.8 .3l73.1 0-1 1-.5 1-.6 2-.7 4-.4 4-1.9 24.1-.2 4 0 2 .3 2.5 .4 1.6 1 2 .6 .7 2 1.7 6 3.7 2.3 1.9 1.9 2 1.8 2.8 .6 1.2 .8 2 .6 2.7 .2 1.3 .2 2 0 2.1-.4 2.4-.4 1.6-.9 2-1.4 2-2.1 2-2.9 2-7 4-1.3 .9-2 1.6-2 2.1-2 2.8-1.5 2.6-1 2.1-1.6 4-2.8 8-1.7 4-2.2 4-2.5 4-2.7 4.1-2 3.6-.2 .4-.9 2-1 2.9-.7 3.1-.5 4-.3 4-.2 6-.1 22.1-.4 6-.4 4.1-.7 4-.9 4-1 4-3.9 14.1-.9 4-.6 4-.6 4-.3 4-.2 4-.1 6 .3 6.1 .5 10-35 0 0-254.9 2 0zM83.9 .3l95.9 0-1.8 1.5-2 4.1-.1 .4-.5 2-.2 2-.1 2 0 2 .3 2.1 .6 3.3 2 4.7 2 1.7 .4-1.7 .4-4 .3-6.1 0-6-.1-4-.2-2-.6-2 44.1 0 2.2 2 1.6 2 1.2 2 .9 2 .7 2 .4 2 .4 2 .2 4.1 0 4-.2 6 .3 1.2 2-.5 2.1-1 12-6.6 2-1.2 2.7-1.9 2.4-2 1.9-2.1 1.5-2 .9-2 .6-2 0-2.2-.4-1.8-.8-2-1.3-2 24.5 0 0 254.9-128.1 0 .2-2 .1-2 0-2-.4-4-.8-4-1.1-3.6-.9-2.5-5.2-12-2.1-6-1.3-4-1-4.1-.8-4-.5-4-.4-6-.9-16.1-1.5-18-.1-4 0-4.1 .4-6 1.4-16 .2-6.1 0-4-.2-4-.4-4-.5-4-.3-2-1-4-1.1-4.1-2.3-6-2.5-6-1.3-4-.6-2-.3-2-.2-2-.2-4 .2-4.1 .6-10-.1-4-.3-2-.4-2-.7-2-.9-2-1.1-2-1.8-2.4-2-2-2-1.7-3.1-2-7.1-4-2.6-2-1.2-1-2-2.2-2-2.9-3.2-5.9-3.4-6.1-1.4-2.1-2-2.6-2-2.1-2-1.8-2-1.4-2-1.1-2-.9 2 0zM181.9 36.4l-.6 4-1.5 14.1-1 8-.3 4 0 4 .2 2.1 .4 2 .9 2.6 .7 1.4 1.5 2 1.8 1.5 2 1.1 2 .4 2 0 2-.4 2-.8 2.6-1.8 1.4-1.3 2.4-2.7 1.6-2.1 7.1-10 3.1-4 3.8-4.5 4-4.6 .8-.9 2.9-4 2.3-4.2 1.6-3.9 .6-2-.2-1.5-2 .1-8 2.8-4 1-4 .8-4 .4-4-.1-4-.5-4-.8-2-.6-2-.6-4-1.7-2-.8-2 .9-.1 .6z"/><path fill="#cfa256" d="M3.8 .3l61.2 0 1.1 2 .7 2 .5 2 .2 2 .2 4-.1 4.1-.3 4-.6 4-.9 4-1.1 4-1.7 4-1.1 2.3-2 3.1-2.2 2.7-5.3 6-1.3 2-1 2-.6 2-.1 2 .1 2 .4 2 .8 2 1.2 2.4 2 2.9 4 4.9 1.3 1.9 .8 2 .4 2 0 2-.1 2-.7 4-1.4 6-1.6 6.1-1.3 4-1.6 4-1.8 3.5-1.6 2.5-2.5 3.5-4 5.4-1.9 3.1-1.1 2.1-1 2.4-.5 1.6-.5 2-.7 4-.3 4-.2 6-.1 14.1-.3 6-.4 4-.5 4-.8 4-1 4.1-1.3 4-1.5 4-2.5 6-5.4 12.7-3.7 9.4-3.2 8-4.1 10-3.2 8.1-.7 2-.6 2-.1 2 .2 2-6.6 0 0-254.9 2 0zM154 .5l.1 1.8 .2 6 .3 20.1 .3 6 .5 4 1.5 10.1 .5 4 .3 4 .6 14 .4 4.1 .6 4 .9 4 1.2 4 .8 2 .8 2 1 2 2 3 2 2.3 2 1.7 2 1.4 2 1 2 .8 2 .5 2 .2 2 0 2-.2 2.8-.6 1.2-.4 2-.6 2.4-1 1.6-.9 2-1.2 2.7-2 2.1-2 1.7-2 1.5-2.2 2.1-3.8 4.4-10 2.2-4 2.6-4.1 2.7-3.4 2.3-2.6 4.1-4 7.6-7.2 2.7-2.8 5.1-6.1 3.4-4 2.9-3 3.2-3 2.8-2.3 8-6.5 2-1.8 2-2 2-2.5 .7-.9 1.3-2.4 .7-1.7 .6-2 .3-2 .1-2-.2-2-.6-2-1-2 .1 0 14 0 0 254.9-107.7 0-.4-.4-1.4-1.6-1.4-2-1.2-2.7-.5-1.3-1.1-4-.7-4.1-1.2-8-.9-6-.8-4-1-4-.8-2-1-2.2-2-2.1-2-.2-2 .7-2 .5-2-.3-2-1.8-1.4-2.7-.9-2-1.1-4-.8-4-.8-6-2-18.1-.8-8-.3-6 0-4.1 .2-6 .5-6 1.1-10 .9-8.1 .5-8 .3-8 .1-10.1 0-18 .2-4 .6-4 1.7-8.5 .9-3.6 .8-4 .8-6 0-2 0-2-.1-2-1-6.1-.5-2-1.9-6-1.2-4-.4-2-.2-2-.1-2 .1-2 .3-2 .6-2.1 1.9-4.2 1.1-1.8 .9-1.6 .3-.4 1.4-2 .3-.6 1.6-1.4 .4-1.8zM200 1.6l2-1 1.2-.3 5 0 1.8 .5 2 .9 1.1 .6 .9 .6 2 1.8 1.2 1.6 1.1 2 .5 2 .2 2-.1 2-.5 2.1-.8 2-1.6 2.4-2 2.1-2.1 1.5-1.9 .8-2 .6-2 .1-2-.4-2.4-1.1-1.6-1.3-.7-.7-1.4-2-1-2-.9-3-.2-1.1-.2-2 0-2 .4-2.5 .4-1.5 1-2 .6-.8 1.1-1.2 .9-.7z"/><path fill="#dcbc75" d="M3.8 .3l54.4 0 1.8 2 1.2 2 .8 2 .6 2 .3 2 .1 2 0 4.1-.5 4-.8 4-.6 2-1.2 3.3-.4 .7-1.6 3.2-.6 .8-1.4 2.1-2 2.4-3.5 3.5-4.6 4.4-2 2.3-1 1.4-1.2 2-.8 2-.4 2-.1 2 .1 2 .3 2 .5 2 .6 2.1 2 5.1 2.2 4.9 1.4 4 1.1 4 .4 2 .2 2 .1 2 0 2-.1 2-.3 2-.4 2-.6 2.2-.6 1.9-1.4 2.9-.5 1.1-1.5 2.2-2.8 3.8-5.2 6.6-1 1.4-1.2 2-1 2-.9 2-.7 2.1-.5 2-.6 4-.2 4 0 6 .1 10-.1 4.1-.3 4-.4 4-.7 4-.8 4-1.1 4-1.3 4-1.6 4.1-1.7 4-3 6-3.3 6-3.5 6-2.2 3.3-2 2.8-2 2.4-2 2.1-2 1.7 0-221 2 0zM276.1 .3l6 0 0 254.9-81.9 0-3.4-2-4.8-2.9-2-1.4-2.2-1.7-2-2-1.8-2.5-.9-1.5-1.1-2.3-.7-1.8-1.1-4-.8-4-2.1-12-1-4-1.2-4.1-1.6-4-3.6-8-2.7-6-3.4-8.1-1.8-3-2-.6-2 1.7-2 2.9-2 2.6-2 .7-2-2.4-2-6.6-1.3-7.3-.8-6-.3-4-.1-4 .1-4.1 .4-5.5 .3-2.5 1-6 .8-4 2-6 1.9-2.4 2 1.5 2.3 4.9 2.6 6 1.1 2.2 2 2.7 2 .7 2-.7 2-1.5 4-3.6 4-4.1 3.1-3.7 1.5-2 5.4-7 2-2.2 2-2.1 2-1.8 2-1.7 10-8.5 2-2.1 .6-.7 1.4-2 2-3.7 1-2.4 1.4-4 3-10 1.7-4 1.1-2 1.8-3 2-2.7 .3-.4 1.7-2 2-2.1 4.2-3.9 6.7-6 3.9-4 9.3-10.1 4.3-4 4.8-4 7.3-6 2.2-2 1.8-2 1.6-2.2 1.1-1.8 1.1-2 .8-2.1 .6-2 .5-2 .3-2 .1-2 0-2-.1-2-.4-2z"/><path fill="#e7cf94" d="M3.8 .3l48.1 0 2.5 2 1.7 2 1.1 2 .8 2 .5 2 .2 2 .1 2-.1 2.1-.2 2-.6 3.2-.2 .8-.7 2-1.1 2.8-.7 1.2-1.3 2.3-2 2.7-2 2.3-2.9 2.7-5.2 4.5-2 1.8-2 1.9-2 2.4-1 1.5-1.1 2-.6 2-.3 2-.1 2 .2 2 .4 2 1.1 4 2.1 6.1 1.4 4 1.1 4 .7 4 .2 2 .1 2-.2 3.1 0 .9-.4 2-.5 2-1.1 2.7-.7 1.4-1.3 2-2 2.5-2 2.1-6 5.8-2 2.3-1 1.3-1.1 2-.8 2-.5 2-.4 2-.2 4.1 .1 4 .5 6 .8 10 .1 4 0 4.1-.3 4-.5 4-.8 4-1 4-1.2 4-1.7 4.8-1.4 3.3-1.8 4-2.2 4-2.6 4.3-2.5 3.7-1.6 2-1.9 2.2 0-204.9 2 0zM282.1 7.3l0 247.9-62.6 0-8.8-8-4.5-4-6.5-6.1-1.8-2-1.9-2.5-2-3.3-1.1-2.2-1.6-4-2.1-6-1.9-6.1-1.6-4-1.8-4-3-6-3-6-1.7-4-.7-2-1-4.1-.5-2.9-.1-1.1-.2-2 0-2 .3-3.7 0-.3 .4-2 .5-2 1.1-2.8 .6-1.2 1.4-2.4 2.5-3.7 3.5-5.1 2-3.3 2-3.8 6-12.4 .8-1.4 1.3-2.1 1.9-2.6 2-2.4 2.7-3 7.8-8 1.7-2 1.8-2.6 .9-1.4 1.1-2.4 .7-1.6 .6-2.1 .9-4 2-10 1.1-4 .8-2 .9-2 1.2-2 1.8-2.7 2-2.5 2-2.1 3-2.8 9.1-8.1 4-4 8-8.3 4-3.7 4-3.2 8.7-6.8 2.2-2 2-2 1.5-2 1.6-2.6 .7-1.4 1.3-3.5 .7-2.6 .8-4 .5-3z"/><path fill="#f1dfb3" d="M3.8 .3l41.7 0 2.3 1.4 .9 .6 2.2 2 1.5 2 1 2 .7 2 .3 2 .1 2 0 2.1-.3 2-.5 2-.6 2-1.2 2.7-.7 1.3-1.3 2-2.1 2.5-2 2.1-2 1.8-4.5 3.6-7.6 6.1-2.2 2-1.7 2-1.4 2-1 2-.5 2-.2 2 .1 2 .3 2 1.1 4 2 6 1.3 4.1 .6 2 .4 2 .2 2 .1 2-.1 2-.3 2-.6 2.1-.8 1.9-1.2 2.1-2 2.1-2 1.5-2 .9-2 .6-2 .3-2-.1-2-.4-2.4-1-1.6-.8-2-1.6-2-2.2-2-3.1-1.1-2.3-.9-2.3 0-84 2 0zM282.1 27.9l0 227.3-49.7 0-.4-2.5-.4-1.5-1.6-3-2-2.8-4-4.8-4.8-5.5-3.9-4-7.3-7.5-2.1-2.5-1.9-2.6-2.2-3.4-2.1-4.1-9.8-20-1.7-4-.6-2-.5-2.1-.3-2-.2-2 .2-2 .3-2 .9-3 .4-1 1.6-3.2 2-3.4 3.4-5.4 1.1-2 1.5-3.4 .9-2.7 1.1-4 2.1-8 1.3-4 .8-2 1-2 1.1-2 1.7-2.6 2.7-3.5 7.3-8.8 2.2-3.2 1.8-3.2 .4-.8 .8-2 .8-3.1 .2-.9 .6-4.1 .6-8 .6-4 .5-2 .6-2 .9-2.2 1-1.8 1.3-2 1.7-2.2 2-2.2 4.1-3.7 8-7.2 4-3.9 8-8 4-3.4 4-3.1 6-4 3.6-2.5 2.5-2 2.1-2 1.8-2.5zM3.8 151.2l2 .1 1 1.5 1 2.1 .4 2 .3 2 .2 4-.1 4-.5 4-.7 4-1 4-1.3 4-1.7 4.1-1.6 2.9 0-37 .2-.1 1.8-1.6z"/><path fill="#f6eacb" d="M5.8 .3l32.4 0 4.1 2 2.9 2 1.9 2 1.4 2 .8 2 .6 2.5 .1 1.5-.1 2.2-.4 1.9-.6 2-1.1 2.3-.9 1.7-1.4 2-1.8 2-2.1 2-2.4 2-3.4 2.4-4 2.6-11.5 7.1-.5 .3-5.2 3.7-.8 .8-1.7 1.2-.3 .4-2 1.1-2-1.2-.2-.3-1.8-3.1-1.6-5-.5-2-.6-4-.5-4-.3-6-.1-6 .2-6.1 .3-4 .6-4 .5-2.6 .4-1.4 .8-2 .8 0zM276.1 42.4l2-.7 2-.6 2-.4 0 115.1-4 1.1-8 2.6-4 1.6-3.4 1.8-2.8 2-2 2-1.4 2-.8 2-.4 2-.1 2 .3 2 .7 2 1.1 2 .8 1.1 .9 .9 1.1 .9 2 1.2 2 .7 2 .3 2 0 2-.4 2-1 2.2-1.7 1.9-2 1.9-2.3 2.5-3.7 1.5-2.2 0 .2 0 82.3-44.8 0 .9-2 .7-2 1.6-4 3-8.1 .7-2 .9-4 .2-2 0-2-.3-2-.9-2.9-1.7-3.1-2.5-4-2.6-4-1.4-2.1-1.9-2-2.4-2-1.6-.8-2.7-1.2-7.3-2.4-2-.8-2-1.1-2.3-1.7-2.1-2-1.6-2-2-3.3-.3-.7-.8-2-.6-2-.4-2-.1-2.1 .2-2.5 .3-1.5 .6-2 1.1-2.6 2-3.9 3-5.5 1.7-4 .7-2 .4-2 .2-2.5 0-1.9-.2-3.7-.4-4-.1-4 .2-2 .2-2 .4-2 .6-2 .7-2 1-2 1.6-2.9 2.1-3.2 4-6 2.3-4 1.6-3.6 .2-.4 .7-2 .5-2 .4-2 .1-2 .1-4.1-.1-6 .3-4 .3-2 .5-2 1-2.7 .7-1.3 1.4-2.2 2-2.4 2-2.1 4-3.7 6.2-5.7 6.2-6 4.2-4 3.4-3 2-1.5 2.2-1.5 3.8-2.2 4-1.9zM7.8 60.3l2-1.8 2 1.7 .2 .3 2.6 4 1.3 2 2 4 .7 2.1 .5 2 .3 2-.2 2-.8 2-.6 .7-2.1 1.3-1.9 .1-2-.7-2-1.6-1.2-1.8-1-2-.5-2-.4-2-.2-2.1-.1-2 .1-2 .3-2 .4-2 .6-2.2z"/><path fill="#f5f0e0" d="M11.8 1.4l2-1.1 13.4 0 2.6 .7 4.1 1.3 4.1 2 2.8 2 1.8 2 1.2 2.3 .6 1.7 .2 2-.2 2.1-.6 2.3-.7 1.7-1.3 2.1-2 2.4-2 1.9-2 1.6-3.1 2-2.9 1.5-4 1.7-2.4 .8-1.6 .5-2 .3-2 .2-2-.2-2.2-.8-1.8-1.2-.7-.8-1.4-2-.9-2-1-3.1-.5-2.9-.4-4 0-4.1 .4-4 .5-2.5 .5-1.5 .9-2 .6-.9 .9-1.1 1.1-.9zM272.1 52.4l2-.8 2-.5 2-.3 2 .1 2 .5 0 94.2-6.4 1.2-5.6 .9-6 .6-6 .4-4 .1-4-.2-2-.3-2-.3-2-.5-2-.7-2-.9-2-1.2-2.3-1.9-1.8-2-1.1-2-.9-2-.5-2-.2-2 .1-2 .4-2 .6-2.1 1.6-4.2 4.1-9.2 .9-2.6 1.1-3.8 0-.2 .4-2 .2-2 0-4.1-.4-8 .1-2 .1-2 .4-2 .6-2 .9-2 1.7-2.7 2-2.4 2-2.1 2.9-2.9 6.4-6 6.7-6.4 2-1.7 2.5-1.9 1.5-1 2-1.1zM282.1 182l0 73.2-42.3 0 2.3-4.5 .7-1.5 1.3-2.3 .8-1.7 1.2-2 .9-2 1.2-2.1 .9-2 1.1-2 1-2 1-2 .9-2 1.1-2 .8-2 1.1-2.1 .7-1.9 5.3-11 .5-1.1 2.7-4 2.8-3.5 .4-.5 1.7-2 5.9-7.7 1.6-2.3 .4-.6 .9-1.4 1.3-2 1.8-3z"/><path fill="#f4f5f5" d="M17.8 5.7l2-.7 2-.4 2 0 2 .2 2 .5 3.2 1 .8 .5 2.5 1.5 1.9 2 .9 2 .4 2-.3 2.1-.8 2-1.3 2-2.1 2-1.2 .8-2 1.2-2 .8-2 .6-2 .4-2 0-2-.4-2-.8-.8-.6-1.2-1.2-.6-.8-1.1-2-.6-2-.3-2-.1-2.1 .2-2 .5-2 1.1-2 .9-1.1 1-.9 1-.6zM274.1 62.2l2-.7 2-.5 2-.1 2 .1 0 77-4 .5-4.4 .3-3.6 .1-4-.2-4-.4-2-.4-2-.5-2-.6-2-.9-2.1-1.1-2.5-2-1.5-2-.9-2-.4-2.1 0-2 .2-2 .7-4 3.4-14 .5-4 .6-11.5 0-.6 .5-2 .6-2 .9-2 1.1-2 1.4-2 1.7-2 3.8-4.2 4-4.1 2-1.9 2.3-1.9 1.7-1.2 2-1.1zM282.1 186.1l0 69.1-40.8 0 1.1-2 4.5-8 1.2-2 1-2 1.2-2.1 3.3-6 1.1-2 3.4-6.2 .8-1.8 1.2-2 1-2 1.2-2 2.2-4 3.8-6.1 2.6-4 1.4-2 5.8-8.5 .9-1.5 1.4-2 1.7-2.9z"/><path fill="#e2f0ee" d="M282.1 71.7l0 57.7-4 .1-2-.1-2-.3-2-.4-2-.6-2.9-1.4-1.1-.8-1.3-1.2-1.4-2-.7-2-.4-2-.1-2 .1-2 .6-4 1.2-6 2-8.3 1.1-3.8 1.5-4 2-4 2.4-4 1.4-2 1.6-2.1 2-2 2.4-1.9 1.6-.9zM282.1 188.9l0 66.3-39.5 0 10.3-18.1 1.2-2 1-2 1.2-2 3.4-6 2.4-4.2 .9-1.8 1.2-2 2.3-4 5.1-8.1 .5-.7 .8-1.3 1.4-2 7.8-12.1z"/><path fill="#ceece8" d="M282.1 190.9l0 64.3-38.5 0 2.5-4.2 2-3.5 2.5-4.3 5.8-10.1 4.5-8 1.2-2 2.3-4 2.3-4 5.4-8.6 .9-1.5 1.3-2 7.8-12.1z"/><path fill="#b4e2db" d="M282.1 192.5l0 62.7-37.6 0 7-12 2.6-4.3 3.2-5.8 2.8-4.6 1.9-3.4 .1-.1 2.2-3.9 2.4-4 8.7-14.1 2.7-4.1 2.4-3.9 1.6-2.5z"/><path fill="#98d7cd" d="M282.1 194l0 61.2-36.8 0 4.8-8.1 3.4-5.9 2.6-4.3 3.3-5.8 2.7-4.6 3.1-5.4 2.9-4.8 2-3.2 2.4-4.1 9.6-15z"/><path fill="#79c8bc" d="M282.1 195.3l0 59.9-36 0 4-6.8 6.6-11.3 7.4-12.6 3.2-5.4 14.8-23.8z"/><path fill="#58b0a7" d="M282.1 196.5l0 58.7-35.3 0 19.3-32.8 3.1-5.3 12.9-20.6z"/><path fill="#3b9b93" d="M282.1 197.7l0 57.5-34.6 0 14.6-24.7 6.7-11.4 7.4-12.1 5.9-9.3z"/><path fill="#23867e" d="M282.1 198.9l0 56.3-34 0 26-43.6 8-12.7z"/><path fill="#0c7169" d="M282.1 200.1l0 55.1-33.2 0 5.9-10 15.4-26.1 5.9-9.6 6-9.4z"/><path fill="#015f56" d="M282.1 201.2l0 54-32.5 0 4.8-8 10.6-18.1 5.1-8.6 10-16.1 2-3.2z"/><path fill="#004c42" d="M282.1 202.5l0 52.7-31.8 0 10.8-18.1 3.5-6 5.9-10 4.9-8 2.7-4.3 4-6.3z"/><path fill="#003c30" d="M282.1 203.8l0 51.4-31 0 3-4.9 3-5.1 3-5.1 2.9-5 3.1-5.2 2.8-4.8 3.2-5.4 2.9-4.6 3.1-5.1 3.3-5 .7-1.2z"/><path fill="#73a9cf" d="M282.1 205.2l0 50-30.1 0 2.1-3.5 2-3.3 .7-1.2 3.6-6 4.7-8.1 2.3-4 2.7-4.6 3.3-5.4 2.7-4.5 3.6-5.6 2.4-3.8z"/><path fill="#62a2cb" d="M282.1 206.9l0 48.3-29 0 1.1-2 2.5-4 15.4-26.5 3.5-5.6 2.5-4.1 2.6-4 1.4-2.1z"/><path fill="#509ac6" d="M282.1 208.8l0 46.4-27.8 0 2.4-4 3.6-6 2.3-4 7.5-13.1 1.7-3 .3-.5 1-1.5 1.1-2 7.9-12.3z"/><path fill="#3f93c2" d="M282.1 211.3l0 43.9-26.2 0 .2-.3 1.1-1.7 1.2-2 2.4-4 3.4-6 2.3-4.1 8-14 3.7-6 3.9-5.8z"/><path fill="#2f8bbe" d="M282.1 215.1l0 40.1-23.6 0 4.9-8 1.1-2 3.3-6.1 .3-.6 .8-1.4 1.2-2.4 .9-1.6 1.1-2.2 1.1-1.8 1-2 5.9-9.3 .6-.7 1.4-2z"/><path fill="#2182b9" d="M282.1 223.2l0 32-16.8 0 3-4 1.2-2 1.8-4 2.8-8.1 2.7-6 1.3-2.5 2.4-3.5 1.6-1.9z"/><path fill="none" stroke="#000" stroke-width="1.7" stroke-linejoin="round" d="M.3 22.3l2.1 .3 2.1 .2 1.8 .8 1.8 .5 1.9 .5 1.6-.1 1.6-.2 1.7 .2 1.6-.3 1.7-.1 1.8 .4 1.8 .1 1.7-.6 1.7 .1 1.6 .7 1.7 0 1.7 .3 1.6 .6 1.7-.2 1.8-.1 1.7 .3 1.7 .2 1.5 1.2 1.7 .3 1.8 0M48.4-.5l-.2 1.6-.6 1.6 .5 1.7-.6 1.6-.1 1.7-.2 1.6-.4 1.6-.4 1.6-.4 1.6-.4 1.6-.2 1.6-.5 1.6 .2 1.7-1 1.5 .7 1.8-1 1.5-.1 1.6 1.2 1.8 1 1.8 1.2 1.8-.8 1.8-1.2 1.4-1.7 1.2-.9 1.7-1.5 1.2-.4 2-1.4 1.3-.9 1.6 .1 1.7 .4 1.6 .9 1.4 .1 1.7-.3 1.6-.5 1.6-1.1 1.4 .5 1.8-.6 1.5-1 1.5 .2 1.7-.5 1.6 0 1.6-.7 1.6-.5 1.5 .5 1.8-1.1 1.4-.6 1.6 .2 1.7M55.9-.5l.3 2 .6 1.9-.3 2 .4 1.7 .7 1.7 .5 1.7 .4 1.7 1.1 1.5 1.1 1.6 .6 1.8 1.2 1.5 .8 1.7 1.8 1.5 1.5 1.9-.8 1.5-.5 1.6-.3 1.8-1 1.4-.2 1.9 .1 2-.6 1.9 2.2-1.3 1.5 .9 1.7 .4 .2 1.8 .9 1.6 .2 1.8 1.3 1.4 .1 1.8 .6 1.7 1.1 1.5 .3 1.9 1 1.5 .3 1.9 1.6-.8 1.8 .2 1.6-.7 1.8-.1 1.6-.4 1.6 .1 1.7 .1 1.6 .2 1.6 0 .6-1.5 1.3-1.1 .8-1.4M92.3 47.3l29.2 2.9 17 1.2 13.1 1.3M92.3 47.3l-6.1 48.5M86.2 95.8l18.3 1.5 24 1.9 21.5 1.3 18.9 1.4M.3 68.2l7.7 1.5 26.3 5.2 25.6 5.4 26.3 3.4M8 69.7l-7.7 34.8M.3 104.5l17.8 26.4 23.2 30.6M59.9 80.3l-7.4 50.6-.7 8.9M104.4 97.3l-3.6 33.6-7.8 83.7M51.8 139.8l23.7 3.1 23.1 2.5 24.9 2.2 23 1.5 20.7 .5 36.3-.1 35.7-.6M168.9 101.9l-.7 29-1 18.7M168.9 114l29.6-.4 30.4-.9M154.7 3.5l-1.4 37-1.7 36.4-1.6 23.6M98.5-.5l8.6 1.2 21.4 1.8 26.2 1.5 21.6 .4 33.7 0 16.2-2.3 1.3-2.6M176.3-.5l0 4.9M153.3 40.5l30.2 .5 32.6 .2M151.6 76.9l1.7 .2 1.7-.1 1.6 .4 1.7-.7 1.7 .7 1.7 0 1.7-.1 1.6 .4 1.7-.8 1.7-.2 1.7 .7 1.7 .3 1.7-.1 1.6-.8 1.7 .1 1.7 .5 1.7-.2 1.7 .4 1.7 .2 1.7-.7 1.7 .5 1.7 .1 1.6-.4 1.7 .5 1.7 .1 1.7-.7 1.7 .9 1.7-.5 1.7 0 1.3 1.1 1.6 .4 1.2 1.2 1.7 0 1.6-.8 1.7-.4 1.7-.1 1.6 .3 1.3 1 1.7 .3 1.5 .4 1.6 1.5M210 4.4l.7 1.8-.5 1.9 .9 1.7 .3 1.8-.1 1.9 .7 1.6 .8 1.5-.1 1.8 .4 1.7 .9 1.5-.3 1.7 .6 1.6 .7 1.6-.1 1.7 .2 1.7 .6 1.6 .4 1.6-.2 1.7 .2 1.7 .7 2.3-.1 2.4-1.4 1.7-1.3 1.7 1.2 1.3 .9 1.5 1.3 1.2 .2 1.7-.5 1.7 .3 1.6 .3 1.7 .1 1.6 .1 1.7 .5 1.6-.4 1.7 .6 1.6-.4 1.7 .9 1.6-.6 1.8 .3 1.6-.8 1.7-.6 1.7 .4 1.9 .8 1.8 .6 1.8 .2 1.9 .5 1.6 1.1 1.4-.2 1.9 .6 1.5 1.3 1.3 .1 1.8 .9 1.7 .5 1.7-.6 2.1 .9 1.7 .9 1.6 .1 1.9 .6 1.6-.1 1.7 .8 1.5-.1 1.8 .9 1.5 1 1.6 .3 1.8 1.7 .9 1.7 .9 2 .2-.1 1.8 .3 1.7 .6 1.6 .5 1.7 1.4 1.7 2 1 0 1.7 .2 1.6 .5 1.7-.5 1.7-.4 1.6 .7 1.7-.6 1.6-.2 1.6 .1 1.7 0 1.6 .3 1.7 .3 1.6 .2 1.6-.3 1.7-.1 1.6 .1 1.6 .7 1.5 .6 1.5 0 1.7 .6 1.7-.5 2 1.1 1.7-.4 1.9 1.1 1.6-.6 2 .8 1.7 .2 1.6-.2 1.6 .1 1.7 .4 1.6-.4 1.6 1 1.6-.3 1.6 .3 1.6 0 1.6-.3 1.7 .5 1.6-.2 1.6 .3 1.6M218.8 70.2l21.7-.9 23.5-1.1M226.9 105.3l19.6-.9 18.1-1.2M252.5 29l.5 1.8-.1 1.9 .2 1.9 .1 1.9-1.5 1.1-.6 1.8-1.4 1.3-1.3 1.2 .5 1.7-.3 1.8 .7 1.7-.4 1.8 1 1.6-.4 1.8 .3 1.7 1.3 1.3 1.4 .9 1.8 .4 1.6 .8 .9 1.7 1.4 1.1 1.7 .6 1.4 1.5 1.9 1 1.4 1.5 0 1.7 .4 1.6 .6 1.5 0 1.7 .4 1.6 1.3 1 1 1.2 1.2 1.2 1.6 .6 .9 1.4 .7 1.6 .9 1.4 1.3 1.2 1.2 1.2-.6 1.8 .6 1.9-.7 1.7-1.3 1.2-1.9 .1-1.4 1-1.4 1.1 0 2 .4 2-.4 2-1 1.4-1.1 1.3-.8 1.5-1.2 1.2 .8 1.5-.2 1.7 .7 1.6 .3 1.6-.2 1.7 1.2 1.2 1.2 1.3 1.9 .4 1.3 1.1 1.1 1.4 1.2 1.1 1.5 .8 .8 1.6 1.3 .9 1.3 1 .3 1.6-.3 1.7 .6 1.6 .7 1.5 0 1.7 2.3 1.9M283.1 169l-1.2 2.3-.5 1.6-.9 1.4-.2 1.6-.2 1.7-.7 1.9-.8 1.8-1.2 1.7-.7 2.2-.2 2.3 .7 2 0 2.2 .2 2.1 .2 2.1 .5 2.1 .2 2.1 1.7 1 1 1.7-1.5 1.2-1.2 1.5-.9 1.8-.2 1.9-.8 1.7-.9 1.7 .1 1.9-.8 2.2-.1 2.3 1.7-.6 1.6 .2 1.7-.1 1.7 .5 1.7-.5M272 78.3l11.1-.7M240.6 155.2l20.9-1.6 21.6-1.9M249 196.5l14.5-1.3 13.9-1.4M158.1 149.6l0 6.3-1.1 27.1-1 27.4M158.1 155.9l29.4 .7 0 23.1M187.5 179.7l-.9-1.2 1.6 1.7 2 1 1.9 .5 1.9 .5 1.6 1.2 1.7 .7 1.9 .2 1.8 .5 1.8 0 1.8 .2 1.8-.2 1.1 1.6 1.6 1.1 2.7-.9 1.4 1 1.5 .7 1.6 .5 1.2-1.3 1.5-.9 1.7 1 2.1 0 1.6 1.2 1.8-1 1.8-.8 2.3-.3 2.2-.6 1.8-.5 1.8 .1 1.6 .7 1.3 1.3 1.6 .7 1.7 1 1.9 .3 1.7 .6 1.8-.1 .9 2-.7 2.3 .8 2-.2 1.7-.1 1.7 .7 1.6-.1 1.7 0 1.7 .4 1.6 .1 1.7 1.1 2 1.7 1.6 .7 1.8 1 1.7 .2 2 .8 1.7-.3 2.1-.5 2.1-.1 2.1 .5 1.8-.7 1.8 .2 1.8 0 1.8-1 1.6-.4 1.9M217.2 259l1.4-.9 1.2-1.3 1.6-.7 1.2-1.2 1.6-1.6 2-1.1 1.7-.3 1.1-1.3 1.8-.1 1-1.4 1.6-.5 1.4-.8 1.2-1.1 1.2-1.1 1.6-.6 1.4-1.3 1.3-1.4 1.6-1.1 1.1-1.6 2-.3 1.4-1.7 1.8-.6 1.9-.5 1.7 .3 1.5-1.1 1.6-.3 1.7 .1 1.6-.4 1.5 .7 1.6 .4 1.8-.2 1.4 .9 2.2 .7 2.3-.2 1-1.2 1.4-.9 1.2-1.1 1.9 .8 1.7 1 2-.2 1.8 .8 1.9 .3M240 242l1.5-1.5 1 2-1.5 1.5M224.5 251.5l2-1 .5 2M118.2 208.6l28.3 1.8 9.5 0M34.9 192.5l36.8 19.4 21.3 2.9 8.8 .5 0-5.1 16.4 .8 0-2.4M118.2 208.6l1.1 1.3 1.2 1.3 1.1 1.3 .8 1.5 1.2 1.2 .6 1.7 1.3 1.1 1.6 1.1 .9 1.9 1.4 1.3 1.6 1.2 1.1 1.7 1.4 1.4 1.5 1.3 0 1.8 1.2 1.7-.6 1.9 .8 1.7 1.6 1.3 1.3 1.6 1.2 1.6 1.4 1.6 2.1 .5 1.5 1.4 1.5 1.4 1.9 .7 2 .5 1.6 1.2 .5-1.7 1.2-1.4 .7-1.6 .5-1.7 1.3-1.3 1.8-.9 1.7-1 2.1-.2 2.1 .5 2.1 0 1.8 .7 1.9-.1 1.9 .3 2 .9 1.4 1.7 .9 1.5 1.5 1 1.2 1.2 .5 1.8 1.5 1.2 .6 1.7 .8 1.6 .4 1.7 .6 1.7 1 1.5 .5 1.7 1.1 1.4M152.5 246.8l-7 12.2M51.8 139.8l-.8 1.7 .1 1.8 0 1.8-.8 1.7-.4 1.7-.2 1.8-1.5-1.1-1.7-.7-2.4 .4 0 1.9-1.1 1.7 .1 1.9-1 1.7-.1 1.9-.5 2.2 .2 2.3 .5 2 .8 1.8 .6 2 .6 2 1.4 1.4-1.6 .8-.8 1.7-1.5 .9-.6 1.7-.4 1.7-.6 1.6-.3 1.8-2 .9-.7 1.9 .2 2 1.5 2-1.2 1.4-1.7 .5-1.2 1.3-1.7 .6 .2 1.8-.6 1.6-.7 1.7 .1 1.7 1 2M11.7 187.9l12.8 1.1 13.3 1.1M.5 166.4l1.2 2 1.2 1.9 .9 1.4 1.2 1.2 1.7 .6 .8 1.5 1.2 1.1 .8 1.6 .9 1.6 .8 1.6 0 1.6-.1 1.7 .1 1.6 .3 1.7 1.1 1.2 0 2 .2 1.9 .8 1.9 .2 1.8 1.2 1.4 .5 1.6-.1 1.8 .1 1.7 .6 1.6 .4 1.7 .9 1.5 .3 1.8 .7 1.6-.1 2 1.3 1.8-.2 2-.1 1.7 .4 1.7 .7 1.6 0 1.7 1.4 1.2 1.1 1.4 1.5 1 1.7 .8 1.1 1.5 .9 1.5 1.3 1.2 .5 1.8 1.1 1.3 .9 1.5 1.4 1.2 .2 1.9 1.4 1.2-.3 1.7-.4 1.7-.2 1.7-.1 1.7-1.6 .7-1.3 1.2-.5 1.9-1.8 1.2-.6 1.8 .6 2.2 .4 2.2M32.5 193.5l-.1 1.9 .3 2-.7 1.9 .4 2.1 1 1.8-.4 2-.8 1.9-.7 1.9 .5 1.9 .1 2 .4 1.9-.3 1.9-.3 1.9 .1 2 .4 1.7 .4 1.8 1.1 1.4 1.1 1.2 1 1.4 1.2 1 1.7 .7 .8 1.5 .3 1.8 1.1 1.4 .6 1.6 1.7 1.2 1.2 1.7 1 2.9 .6 1.7 1.3 1.3 .7 1.5 .3 1.6 0 1.7 .5 1.9 .4 2 .8 1.9 .7 1.9 1.4 1.6M33 199.3l1.8 1.1 1.7 1.1 1.3 1.7 1.3 1.1 1.6 .8 2.9-.9 1.4 1.2 .6 1.7 2.2 1.1 1.6 1.8 1 2.9-.6 1.9-.4 2 1.3 1.7 .7 2.1 .2 1.6 .1 1.6 .9 1.5 .5 1.5 .2 1.6 .9 1.9 .8 1.9 .3 2 .8 1.9 .5 2 .6 1.9 1.8 1.1 1.1 1.8 .8 1.7 1.3 1.5 .8 1.7 .7 2 1.2 1.8 1.7 .7 1.5 1.1 1.7 .7 1.3 .9 1.6 .5-.7 1.8-.8 1.7M21.3 247.8l13.2 1 13 .9M42.3 230.5l1.4 2.5-.6 3.5-1-2.5M53.8 236.6l1.3 1.4-.8 2.2-.8-1.7M93 214.8l-.9 5.8 3.9 2.9 0 6.8-2 7.8 .5 11.6-6.3 1.5 1.9 7.8M229.5-.5l-.1 2 .3 2 .3 2 2.5 1 1.7 .1 1.6 .8 1.7 .1 1.5 1 1.4-1.2 1.6-.8 1.9 .7 2.1-.2 1.5 .8 .9 1.5 1.1 1.2 2.5-1 2.5 1.5 1.2 1.4 1.8 .6 1.3-1 1.4-1 1.3-1 2 1.5 1.6-.8 1.7 .1 1.7-.3 2 1.5 3-1 1.5-2-.5-3 2.1-1 1.9-1.5 1.8-.7 1.2-1.5 1.6-.8M251.5 30l1.2-1.8 1.8-1.2 1.6-.9 1.1-1.4 .9-1.6 1.4-1.1 1.5-1.3 1.4-1.5 1.1-1.7 1.6-.6 1.4-1 1.6-.4 1.4-1 1.9-1.5 2.1-1 1.3-1.7 1.7-1.3 1.2-1.4 1.6-1 1.7-.6 2.1-1.5M251.5 30l3-.8 4-1.6 4.5-2.6 3-.5 1-1.2-1.5 4.7 3.5-.2 1.5 .7 2-1.5 2.5-1.5 2.5-1.5 2.5-2 3.1-2M269.5 29l1.5 3.5 7.5 1.5 4.6 1.5M280.5 1l2.6-1"/><path fill="none" stroke="#000" stroke-width="2.8" stroke-linecap="round" d="M276 13L281.5 8.5M280.5 1.2L283 0.5M266.3 23.3L267 26"/><path fill="none" stroke="#000" stroke-width="1.25" stroke-linejoin="round" d="M-13.5-3.5l-13.7 11.6-6.6-4.3 6.6 4.3 1.4-1.2-6.6-4.3 6.6 4.3 1.3-1.1-6.6-4.4 6.6 4.4 1.4-1.2-3.3-2.2 3.3 2.2M6.9-2.7l-13.7 11.6-6.6-4.3 6.6 4.3 1.4-1.1-6.6-4.4 6.6 4.4 1.3-1.2-6.6-4.3 6.6 4.3 1.4-1.2-3.3-2.1 3.3 2.1M27.4-2l-13.8 11.6-6.6-4.3 6.6 4.3 1.4-1.2-6.6-4.3 6.6 4.3 1.4-1.1-6.6-4.4 6.6 4.4 1.3-1.2-3.3-2.2 3.3 2.2M47.8-1.5l-15.9 8.5-5.5-5.6 5.5 5.6 1.6-.9-5.5-5.6 5.5 5.6 1.6-.8-5.5-5.6 5.5 5.6 1.6-.9-2.8-2.8 2.8 2.8M68.3-1.1l-17.9 2-3.1-7.3 3.1 7.3 1.8-.2-3.1-7.3 3.1 7.3 1.7-.2-3-7.3 3 7.3 1.8-.2-3-7.3 3 7.3M88.7-.9l-17.7-3.4-.8-7.9 .8 7.9 1.8 .3-.8-7.9 .8 7.9 1.8 .3-.8-7.8 .8 7.8 1.7 .4-.4-4 .4 4M109.1-.9l-15.3-9.4 2-7.6-2 7.6 1.5 .9 2-7.6-2 7.6 1.5 1 2.1-7.7-2.1 7.7M129.6-1.1l-10.9-14.3 4.6-6.4-4.6 6.4 1.1 1.4 4.6-6.4-4.6 6.4 1.1 1.4 2.3-3.1-2.3 3.1M150-1.4l-5.6-17.1 6.5-4.5-6.5 4.5 .6 1.7 6.5-4.5-6.5 4.5 .5 1.7 6.5-4.5-6.5 4.5M170.5-1.9l-3-17.8 7.1-3.4-7.1 3.4 .3 1.8 7.1-3.5-7.1 3.5 .3 1.8 7.1-3.5-7.1 3.5 .3 1.7 3.5-1.7-3.5 1.7M190.9-2.6l-2.6-17.8 7.1-3.3-7.1 3.3 .2 1.8 7.2-3.4-7.2 3.4 .3 1.8 7.1-3.4-7.1 3.4 .2 1.7 7.2-3.3-7.2 3.3M211.3-3.4l-1.8-18 7.3-3-7.3 3 .2 1.8 7.3-3-7.3 3 .2 1.8 7.3-3-7.3 3 .1 1.8 7.3-3-7.3 3M231.7-4.5l-.6-17.9 7.5-2.6-7.5 2.6 .1 1.8 7.5-2.6-7.5 2.6 0 1.8 7.5-2.6-7.5 2.6 .1 1.7 7.5-2.5-7.5 2.5 .1 1.8 3.7-1.2-3.7 1.2M252.1-5.6l.8-18 7.6-2-7.6 2-.1 1.8 7.6-2-7.6 2-.1 1.8 7.7-2-7.7 2 0 1.8 7.6-2-7.6 2-.1 1.8 3.8-1-3.8 1M272.5-7l2.4-17.8 7.8-1.3-7.8 1.3-.2 1.7 7.8-1.2-7.8 1.2-.3 1.8 7.8-1.2-7.8 1.2-.2 1.8 7.8-1.2-7.8 1.2M292.9-8.5l3.1-17.7 7.9-.9-7.9 .9-.3 1.7 7.9-.9-7.9 .9-.3 1.8 7.9-.9-7.9 .9-.3 1.8 7.8-.9-7.8 .9M-14.4 17.2l-13.6 11.8-6.7-4.2 6.7 4.2 1.4-1.2-6.7-4.2 6.7 4.2 1.3-1.2-6.6-4.2 6.6 4.2 1.4-1.1-3.4-2.1 3.4 2.1M6.2 18l-13.6 11.8-6.7-4.2 6.7 4.2 1.3-1.2-6.6-4.2 6.6 4.2 1.4-1.1-6.7-4.3 6.7 4.3 1.3-1.2-3.3-2.1 3.3 2.1M26.8 18.7l-13.8 11.7-6.6-4.3 6.6 4.3 1.4-1.2-6.6-4.3 6.6 4.3 1.4-1.2-6.6-4.3 6.6 4.3 1.4-1.1-3.3-2.2 3.3 2.2M47.4 19.2l-15.4 9.5-5.8-5.3 5.8 5.3 1.6-1-5.9-5.3 5.9 5.3 1.5-.9-5.9-5.3 5.9 5.3 1.5-1-2.9-2.6 2.9 2.6M68 19.6l-17.4 4.6-4.1-6.7 4.1 6.7 1.7-.4-4.1-6.8 4.1 6.8 1.8-.5-4.1-6.7 4.1 6.7 1.7-.5-2-3.3 2 3.3M88.6 19.8l-18 0-2.2-7.6 2.2 7.6 1.8 0-2.2-7.6 2.2 7.6 1.8 0-2.2-7.6 2.2 7.6 1.8 0-1.1-3.8 1.1 3.8M109.2 19.8l-16.3-7.6 1.2-7.8-1.2 7.8 1.6 .7 1.2-7.8-1.2 7.8 1.7 .8 1.1-7.8-1.1 7.8M129.8 19.6l-10.7-14.4 4.7-6.3-4.7 6.3 1 1.4 4.7-6.3-4.7 6.3 1.1 1.5 2.4-3.2-2.4 3.2M150.4 19.3l-5.3-17.2 6.5-4.4-6.5 4.4 .5 1.7 6.6-4.4-6.6 4.4 .6 1.7 6.5-4.4-6.5 4.4M171.1 18.8l-3-17.8 7.1-3.4-7.1 3.4 .3 1.8 7.1-3.5-7.1 3.5 .3 1.8 7.1-3.5-7.1 3.5 .3 1.7 3.5-1.7-3.5 1.7M191.7 18.1l-2.7-17.8 7.2-3.3-7.2 3.3 .3 1.8 7.1-3.4-7.1 3.4 .3 1.8 7.1-3.4-7.1 3.4 .2 1.7 7.2-3.3-7.2 3.3M212.3 17.3l-2-17.9 7.2-3.1-7.2 3.1 .2 1.8 7.2-3.1-7.2 3.1 .2 1.7 7.2-3-7.2 3 .2 1.8 7.2-3-7.2 3M232.8 16.2l-1.2-17.9 7.4-2.8-7.4 2.8 .2 1.8 7.4-2.8-7.4 2.8 .1 1.8 7.4-2.8-7.4 2.8 .1 1.8 7.4-2.8-7.4 2.8 .1 1.8 3.7-1.4-3.7 1.4M253.4 15l.3-18 7.6-2.1-7.6 2.1 0 1.8 7.6-2.1-7.6 2.1-.1 1.8 7.6-2.1-7.6 2.1 0 1.8 7.6-2.1-7.6 2.1 0 1.8 3.8-1-3.8 1M274 13.7l2.3-17.9 7.8-1.2-7.8 1.2-.2 1.8 7.8-1.2-7.8 1.2-.2 1.8 7.7-1.3-7.7 1.3-.3 1.8 7.8-1.3-7.8 1.3M294.5 12.1l3.2-17.7 7.8-.9-7.8 .9-.3 1.8 7.8-.9-7.8 .9-.3 1.8 7.8-.9-7.8 .9-.4 1.7 7.9-.9-7.9 .9M-15.4 38l-13.4 12-6.7-4.1 6.7 4.1 1.4-1.2-6.8-4.1 6.8 4.1 1.3-1.2-6.7-4.1 6.7 4.1 1.3-1.2-3.3-2 3.3 2M5.4 38.9l-13.5 11.9-6.7-4.1 6.7 4.1 1.4-1.2-6.7-4.1 6.7 4.1 1.3-1.2-6.7-4.1 6.7 4.1 1.3-1.2-3.3-2.1 3.3 2.1M26.1 39.6l-13.6 11.7-6.6-4.3 6.6 4.3 1.4-1.2-6.7-4.2 6.7 4.2 1.3-1.1-6.6-4.3 6.6 4.3 1.4-1.2-3.3-2.2 3.3 2.2M46.9 40.1l-14.8 10.2-6.1-4.9 6.1 4.9 1.5-1-6.1-4.9 6.1 4.9 1.5-1-6.2-5 6.2 5 1.5-1-3.1-2.5 3.1 2.5M67.7 40.5l-16.6 6.9-5-6.1 5 6.1 1.7-.7-5-6.1 5 6.1 1.6-.7-5-6.1 5 6.1M88.5 40.6l-17.8 2.4-3.3-7.2 3.3 7.2 1.7-.3-3.2-7.2 3.2 7.2 1.8-.2-3.2-7.2 3.2 7.2M109.3 40.6l-16.8-6.4 .6-7.8-.6 7.8 1.7 .7 .5-7.9-.5 7.9 1.6 .6 .3-3.9-.3 3.9M130.1 40.5l-11.1-14.2 4.6-6.4-4.6 6.4 1.1 1.4 4.6-6.4-4.6 6.4 1.1 1.4 2.3-3.2-2.3 3.2M150.9 40.1l-5.3-17.2 6.5-4.3-6.5 4.3 .5 1.8 6.5-4.4-6.5 4.4 .5 1.7 6.6-4.4-6.6 4.4M171.6 39.6l-2.9-17.7 7.1-3.5-7.1 3.5 .3 1.8 7.1-3.5-7.1 3.5 .3 1.7 7.1-3.4-7.1 3.4 .3 1.8 3.5-1.7-3.5 1.7M192.4 38.9l-2.5-17.8 7.2-3.3-7.2 3.3 .3 1.8 7.1-3.3-7.1 3.3 .2 1.8 7.2-3.3-7.2 3.3 .3 1.8 7.1-3.3-7.1 3.3M213.2 38.1l-2-17.9 7.2-3.1-7.2 3.1 .2 1.8 7.2-3.1-7.2 3.1 .2 1.8 7.2-3.1-7.2 3.1 .2 1.8 7.2-3.1-7.2 3.1M234 37.1l-1.6-18 7.3-2.9-7.3 2.9 .1 1.8 7.4-2.9-7.4 2.9 .2 1.8 7.3-2.9-7.3 2.9 .2 1.8 7.3-2.9-7.3 2.9 .1 1.8 3.7-1.4-3.7 1.4M254.7 35.9l-.2-18 7.6-2.4-7.6 2.4 .1 1.8 7.5-2.4-7.5 2.4 0 1.8 7.5-2.4-7.5 2.4 0 1.8 7.5-2.4-7.5 2.4 0 1.8 3.8-1.2-3.8 1.2M275.5 34.5l2.2-17.9 7.8-1.3-7.8 1.3-.2 1.8 7.7-1.3-7.7 1.3-.3 1.8 7.8-1.3-7.8 1.3-.2 1.8 7.8-1.3-7.8 1.3M296.2 32.9l3.1-17.7 7.9-.9-7.9 .9-.3 1.8 7.8-.9-7.8 .9-.3 1.8 7.8-.9-7.8 .9-.3 1.7 7.8-.9-7.8 .9M-16.4 59l-13.3 12-6.8-4.1 6.8 4.1 1.3-1.2-6.7-4.1 6.7 4.1 1.3-1.2-6.7-4.1 6.7 4.1M4.6 59.9l-13.4 12-6.8-4.2 6.8 4.2 1.3-1.2-6.7-4.2 6.7 4.2 1.3-1.2-6.7-4.2 6.7 4.2M25.5 60.6l-13.5 11.9-6.7-4.2 6.7 4.2 1.4-1.2-6.7-4.2 6.7 4.2 1.3-1.2-3.3-2.1 3.3 2.1M46.5 61.1l-14.2 11.1-6.4-4.5 6.4 4.5 1.5-1.1-6.5-4.5 6.5 4.5 1.4-1.1-3.3-2.3 3.3 2.3M67.4 61.5l-15.4 9.2-5.8-5.3 5.8 5.3 1.5-.9-5.8-5.4 5.8 5.4 1.6-1-2.9-2.6 2.9 2.6M88.4 61.6l-17.7 3.1-3.5-7 3.5 7 1.7-.3-3.5-7 3.5 7 1.8-.3-1.7-3.5 1.7 3.5M109.4 61.6l-16.9-6.2 .5-7.9-.5 7.9 1.7 .6 .5-7.8-.5 7.8M130.3 61.5l-12.4-13.1 4-6.8-4 6.8 1.3 1.3 3.9-6.8-3.9 6.8M151.3 61.1l-5.7-17 6.4-4.6-6.4 4.6 .5 1.7 6.5-4.6-6.5 4.6 .6 1.7 6.5-4.6-6.5 4.6M172.3 60.6l-3.1-17.7 7.1-3.5-7.1 3.5 .3 1.8 7.1-3.5-7.1 3.5 .3 1.7 7.1-3.5-7.1 3.5 .3 1.8 7.1-3.5-7.1 3.5M193.2 59.9l-2.2-17.8 7.3-3.2-7.3 3.2 .2 1.8 7.3-3.2-7.3 3.2 .3 1.7 7.2-3.1-7.2 3.1 .2 1.8 7.2-3.1-7.2 3.1M214.2 59.1l-1.4-18 7.3-2.8-7.3 2.8 .1 1.8 7.4-2.8-7.4 2.8 .1 1.8 7.4-2.8-7.4 2.8 .2 1.8 7.3-2.8-7.3 2.8 .1 1.8 3.7-1.4-3.7 1.4M235.1 58l-.8-17.9 7.5-2.6-7.5 2.6 .1 1.7 7.5-2.5-7.5 2.5 .1 1.8 7.4-2.5-7.4 2.5 .1 1.8 7.4-2.5-7.4 2.5 0 1.8 3.8-1.2-3.8 1.2M256 56.8l-.8-18 7.4-2.6-7.4 2.6 .1 1.8 7.4-2.6-7.4 2.6 0 1.8 7.5-2.6-7.5 2.6 .1 1.8 7.5-2.6-7.5 2.6 .1 1.8 3.7-1.3-3.7 1.3M276.9 55.4l-.9-17.9 7.4-2.7-7.4 2.7 .1 1.8 7.4-2.7-7.4 2.7 .1 1.8 7.4-2.7-7.4 2.7 .1 1.8 7.4-2.7-7.4 2.7M297.8 53.9l-.7-18 7.5-2.6-7.5 2.6 .1 1.8 7.5-2.6-7.5 2.6 .1 1.8 7.4-2.6-7.4 2.6 0 1.8 7.5-2.6-7.5 2.6M-17.3 80.1l-13.4 12-6.8-4.1 6.8 4.1 1.3-1.2-6.7-4.1 6.7 4.1 1.4-1.2-3.4-2 3.4 2M3.8 81l-13.4 12-6.7-4.1 6.7 4.1 1.3-1.2-6.7-4.1 6.7 4.1 1.4-1.2-3.4-2 3.4 2M24.9 81.7l-13.4 12-6.7-4.1 6.7 4.1 1.4-1.2-6.8-4.1 6.8 4.1M46 82.2l-13.4 12-6.7-4.2 6.7 4.2 1.3-1.2-6.7-4.2 6.7 4.2M67.2 82.6l-13.8 11.6-6.6-4.3 6.6 4.3 1.4-1.2-3.3-2.1 3.3 2.1M88.3 82.8l-17.5 4.1-3.9-6.9 3.9 6.9 1.7-.4-1.9-3.5 1.9 3.5M109.4 82.8l-16.9-6.2 .5-7.8-.5 7.8 1.7 .7 .3-4-.3 4M130.6 82.6l-13.5-11.9 3.4-7.2-3.4 7.2 1.4 1.2 1.6-3.6-1.6 3.6M151.7 82.3l-5.8-17 6.4-4.6-6.4 4.6 .6 1.7 6.4-4.6-6.4 4.6 .5 1.7 6.5-4.6-6.5 4.6M172.9 81.8l-3.1-17.8 7.1-3.5-7.1 3.5 .4 1.8 7-3.5-7 3.5 .3 1.8 7-3.5-7 3.5 .3 1.7 7-3.4-7 3.4M194 81.1l-1.9-17.9 7.3-3.1-7.3 3.1 .2 1.8 7.3-3.1-7.3 3.1 .2 1.7 7.3-3-7.3 3 .2 1.8 7.3-3-7.3 3M215.1 80.2l-.9-18 7.4-2.6-7.4 2.6 .1 1.8 7.4-2.6-7.4 2.6 .1 1.8 7.4-2.6-7.4 2.6 .1 1.8 7.4-2.6-7.4 2.6 .1 1.8 3.7-1.3-3.7 1.3M236.2 79.1l-.1-18 7.6 2.2-7.6 2.3M257.3 77.9l-1.7-17.9 7.3-3-7.3 3 .1 1.8 7.3-3-7.3 3 .2 1.8 7.3-3-7.3 3 .2 1.8 7.3-3-7.3 3 .2 1.8 3.6-1.5-3.6 1.5M278.4 76.5l-4.4-17.4 6.8-4.1-6.8 4.1 .5 1.7 6.7-4-6.7 4 .4 1.8 6.8-4.1-6.8 4.1 .4 1.7 6.8-4-6.8 4M299.5 75l-4.6-17.4 6.7-4.2-6.7 4.2 .4 1.7 6.7-4.1-6.7 4.1 .5 1.7 6.7-4.1-6.7 4.1 .4 1.8 6.8-4.1-6.8 4.1M3 102.2l-13.4 12.1-6.7-4.1 6.7 4.1 1.3-1.2-6.7-4.1 6.7 4.1M24.3 103l-13.4 12-6.7-4.1 6.7 4.1 1.3-1.2-6.7-4.1 6.7 4.1M45.6 103.5l-13.6 11.9-6.6-4.2 6.6 4.2 1.4-1.2-6.7-4.2 6.7 4.2M66.9 103.9l-14.1 11.2-6.5-4.5 6.5 4.5 1.4-1.1-3.2-2.3 3.2 2.3M88.2 104.1l-17.5 4.3-4-6.9 4 6.9 1.8-.5-2-3.4 2 3.4M109.5 104.1l-16.8-6.5 .7-7.9-.7 7.9 1.7 .6 .3-3.9-.3 3.9M130.8 103.9l-13.4-12 3.3-7.1-3.3 7.1 1.3 1.2 1.7-3.5-1.7 3.5M152.2 103.6l-5.5-17.2 6.5-4.4-6.5 4.4 .5 1.7 6.5-4.4-6.5 4.4 .6 1.7 6.5-4.4-6.5 4.4M173.5 103l-3-17.7 7.1-3.5-7.1 3.5 .3 1.8 7.1-3.5-7.1 3.5 .3 1.7 7.1-3.4-7.1 3.4 .3 1.8 7.1-3.5-7.1 3.5M194.8 102.3l-1.9-17.9 7.3-3-7.3 3 .2 1.8 7.3-3-7.3 3 .2 1.8 7.3-3-7.3 3 .2 1.8 7.3-3-7.3 3 .2 1.8 3.6-1.5-3.6 1.5M216.1 101.5l-.9-18 7.4-2.6-7.4 2.6 .1 1.8 7.4-2.6-7.4 2.6 .1 1.8 7.4-2.6-7.4 2.6 0 1.8 7.5-2.7-7.5 2.7 .1 1.8 3.8-1.3-3.8 1.3M237.4 100.4l-.1-18 7.5 2.2-7.5 2.3M258.6 99.2l-2.9-17.8 7.1-3.4-7.1 3.4 .3 1.8 7.1-3.5-7.1 3.5 .3 1.8 7.1-3.5-7.1 3.5 .3 1.7 7.1-3.4-7.1 3.4 .3 1.8 3.5-1.7-3.5 1.7M279.9 97.8l-7.7-16.3 5.9-5.3-5.9 5.3 .8 1.6 5.8-5.3-5.8 5.3 .7 1.6 5.9-5.2-5.9 5.2 .8 1.7 3-2.7-3 2.7M2.2 123.7l-14.8 10.3-6.2-4.9 6.2 4.9 1.5-1-6.2-4.9 6.2 4.9M23.6 124.4l-15 9.9-6-5.1 6 5.1 1.5-1-6-5.1 6 5.1M45.1 124.9l-15.5 9.1-5.8-5.4 5.8 5.4 1.5-.9-2.9-2.7 2.9 2.7M66.6 125.3l-16.6 6.9-5-6.1 5 6.1 1.7-.7-2.5-3.1 2.5 3.1M88.1 125.5l-17.8-2.4-1.3-7.8 1.3 7.8 1.8 .2-.7-3.8 .7 3.8M109.6 125.5l-14.8-10.2 2.4-7.5-2.4 7.5 1.5 1 1.2-3.7-1.2 3.7M131.1 125.3l-12.7-12.7 3.8-6.9-3.8 6.9 1.3 1.3 1.8-3.5-1.8 3.5M152.6 125l-5-17.3 6.6-4.3-6.6 4.3 .5 1.7 6.6-4.2-6.6 4.2 .5 1.7 6.6-4.2-6.6 4.2 .5 1.8 3.3-2.2-3.3 2.2M174.1 124.5l-2.8-17.8 7.1-3.4-7.1 3.4 .2 1.8 7.2-3.5-7.2 3.5 .3 1.7 7.1-3.4-7.1 3.4 .3 1.8 7.1-3.4-7.1 3.4M195.6 123.7l-1.8-17.9 7.3-3-7.3 3 .2 1.8 7.3-3-7.3 3 .1 1.8 7.4-3-7.4 3 .2 1.8 7.3-3-7.3 3 .2 1.8 3.7-1.5-3.7 1.5M217 122.9l-1.6-18 7.4-2.9-7.4 2.9 .2 1.8 7.3-2.9-7.3 2.9 .2 1.8 7.3-2.9-7.3 2.9 .1 1.8 7.4-2.9-7.4 2.9 .2 1.8 3.6-1.5-3.6 1.5M238.5 121.8l-1.4-18 7.7 1.7-7.3 2.8M260 120.6l-5.7-17.1 6.5-4.5-6.5 4.5 .6 1.7 6.4-4.5-6.4 4.5 .5 1.7 6.5-4.5-6.5 4.5 .6 1.7 6.5-4.5-6.5 4.5M281.4 119.1l-12.4-13 3.9-6.8-3.9 6.8 1.2 1.3 3.9-6.8-3.9 6.8 1.3 1.3 3.9-6.8-3.9 6.8M1.3 145.2l-11-14.2 4.5-6.4-4.5 6.4 1.1 1.4 2.3-3.2-2.3 3.2M23 145.9l-8.1-16 5.8-5.4-5.8 5.4 .8 1.6 2.9-2.7-2.9 2.7M44.7 146.5l-5.2-17.3 6.6-4.3-6.6 4.3 .5 1.8 3.3-2.2-3.3 2.2M66.3 146.9l-2.4-17.9 7.2-3.2-7.2 3.2 .2 1.8 3.6-1.6-3.6 1.6M88 147.1l-1.6-18 7.4-2.9-7.4 2.9 .2 1.8 3.6-1.4-3.6 1.4M109.7 147.1l-8.2-16.1 5.7-5.4-5.7 5.4 .8 1.6 2.9-2.7-2.9 2.7M131.4 146.9l-11.1-14.2 4.6-6.4-4.6 6.4 1.1 1.4 2.3-3.2-2.3 3.2M153 146.5l-4.4-17.4 6.8-4-6.8 4 .4 1.7 6.8-4-6.8 4 .5 1.8 6.7-4.1-6.7 4.1 .4 1.7 3.4-2-3.4 2M174.7 146l-2.6-17.8 7.1-3.3-7.1 3.3 .2 1.8 7.2-3.3-7.2 3.3 .3 1.8 7.2-3.4-7.2 3.4 .3 1.7 7.1-3.3-7.1 3.3 .2 1.8 3.6-1.6-3.6 1.6M196.4 145.3l-1.8-17.9 7.4-3-7.4 3 .2 1.8 7.3-3-7.3 3 .2 1.8 7.3-3-7.3 3 .2 1.8 7.3-3-7.3 3 .1 1.7 3.7-1.4-3.7 1.4M218 144.4l-4.2-17.5 6.8-4-6.8 4 .4 1.8 6.8-4-6.8 4 .4 1.7 6.9-4-6.9 4 .5 1.8 6.8-4-6.8 4 .4 1.7 3.4-2-3.4 2M239.7 143.3l-6.9-16.6 7.8-.8-6.1 5M261.3 142.1l-12.4-13 3.9-6.9-3.9 6.9 1.2 1.3 3.9-6.9-3.9 6.9 1.3 1.3 3.9-6.9-3.9 6.9 1.2 1.3 3.9-6.9-3.9 6.9 1.3 1.3 1.9-3.5-1.9 3.5M282.9 140.6l-16.7-6.6 .7-7.9-.7 7.9 1.7 .7 .7-7.9-.7 7.9 1.7 .6 .7-7.8-.7 7.8 1.6 .7 .7-7.9-.7 7.9M.5 166.9l.2-18 7.6-2.2-7.6 2.2 0 1.8 3.8-1.1-3.8 1.1M22.4 167.6l1-17.9 7.6-1.9-7.6 1.9-.1 1.8 3.8-.9-3.8 .9M44.2 168.2l1.9-17.9 7.7-1.5-7.7 1.5-.2 1.8 3.8-.7-3.8 .7M66.1 168.6l2.6-17.8 7.9-1.1-7.9 1.1-.2 1.8 3.9-.6-3.9 .6M87.9 168.8l3.1-17.8 7.9-.9-7.9 .9-.3 1.8 3.9-.4-3.9 .4M109.8 168.8l-5.3-17.2 6.5-4.4-6.5 4.4 .5 1.7 3.3-2.2-3.3 2.2M131.6 168.6l-10.5-14.6 4.8-6.2-4.8 6.2 1 1.5 4.8-6.3-4.8 6.3M153.5 168.2l-5.2-17.2 6.6-4.3-6.6 4.3 .5 1.7 6.6-4.3-6.6 4.3 .5 1.8 6.6-4.4-6.6 4.4 .5 1.7 3.3-2.2-3.3 2.2M175.3 167.7l-4.3-17.5 6.8-4-6.8 4 .4 1.8 6.8-4-6.8 4 .5 1.7 6.8-4-6.8 4 .4 1.8 6.8-4-6.8 4M197.2 167l-4.5-17.4 6.8-4.1-6.8 4.1 .5 1.7 6.7-4.1-6.7 4.1 .4 1.7 6.8-4-6.8 4 .4 1.8 6.8-4.1-6.8 4.1 .5 1.7 3.4-2-3.4 2M219 166.1l-8.5-15.9 5.6-5.5-5.6 5.5 .9 1.6 5.6-5.5-5.6 5.5 .8 1.6 5.6-5.6-5.6 5.6 .9 1.6 5.6-5.6-5.6 5.6 .8 1.6 2.8-2.8-2.8 2.8M240.8 165l-11.9-13.4 7.1-3.4-4.1 6.7M262.7 163.7l-16-8.2 5.4-5.7-1.4 7.8M284.5 162.3l-17.8-2.8 3.4-7.1 1 7.8M-.3 188.7l.1-18 7.6-2.2-7.6 2.2 0 1.8 3.8-1.1-3.8 1.1M21.7 189.5l1-18 7.7-1.8-7.7 1.8-.1 1.8 3.8-.9-3.8 .9M43.7 190l1.9-17.9 7.7-1.4-7.7 1.4-.2 1.8 3.9-.7-3.9 .7M65.8 190.4l2.7-17.8 7.8-1.1-7.8 1.1-.3 1.8 3.9-.6-3.9 .6M87.8 190.6l3.1-17.7 7.9-.9-7.9 .9-.3 1.8 3.9-.5-3.9 .5M109.9 190.6l-5.9-17 6.4-4.6-6.4 4.6 .6 1.7 3.2-2.3-3.2 2.3M131.9 190.4l-11-14.2 4.6-6.4-4.6 6.4 1.1 1.4 4.6-6.4-4.6 6.4M153.9 190.1l-8.5-15.9 5.6-5.5-5.6 5.5 .9 1.6 5.5-5.5-5.5 5.5 .8 1.6 2.8-2.8-2.8 2.8M176 189.5l-10.1-14.9 5-6.1-5 6.1 1 1.5 5-6.1-5 6.1 1 1.5 5-6.1-5 6.1M198 188.8l-11.9-13.5 4.2-6.7-4.2 6.7 1.2 1.4 4.2-6.7-4.2 6.7 1.2 1.3 4.2-6.7-4.2 6.7 1.2 1.4 4.1-6.7-4.1 6.7M220 187.9l-14.5-10.6 2.7-7.5-2.7 7.5 1.5 1 2.6-7.4-2.6 7.4 1.4 1.1 2.7-7.4-2.7 7.4 1.5 1 2.6-7.4-2.6 7.4 1.4 1.1 1.3-3.7-1.3 3.7M242 186.8l-16.2-7.9 5.4-5.8-1.3 7.8M264 185.5l-17.5-4.2 4-6.8 .4 7.9M286 184.1l-18-1.2 2.8-7.4 1.7 7.7M-1.1 210.7l.1-18 7.5-2.2-7.5 2.2-.1 1.8 3.8-1.1-3.8 1.1M21.1 211.5l.9-18 7.7-1.9-7.7 1.9-.1 1.8 3.9-.9-3.9 .9M43.3 212l1.8-17.9 7.7-1.5-7.7 1.5-.2 1.8 3.9-.7-3.9 .7M65.5 212.4l2.7-17.8 7.8-1.1-7.8 1.1-.3 1.8 3.9-.6-3.9 .6M87.7 212.6l2.1-17.9 7.8-1.3-7.8 1.3-.2 1.8 3.9-.7-3.9 .7M109.9 212.6l-7.6-16.3 5.8-5.2-5.8 5.2 .7 1.7 3-2.7-3 2.7M132.2 212.4l-12.7-12.8 3.8-6.9-3.8 6.9 1.3 1.3 3.7-6.9-3.7 6.9M154.4 212.1l-12.8-12.7 3.7-6.9-3.7 6.9 1.3 1.3 3.7-7-3.7 7M176.6 211.5l-14.2-11 2.8-7.3-2.8 7.3 1.4 1.1 2.8-7.3-2.8 7.3 1.4 1.1 2.9-7.3-2.9 7.3M198.8 210.8l-15.2-9.7 2.2-7.5-2.2 7.5 1.5 1 2.2-7.6-2.2 7.6 1.5 1 2.2-7.6-2.2 7.6 1.6 .9 2.1-7.5-2.1 7.5M221 209.9l-16.5-7.1 .9-7.9-.9 7.9 1.6 .7 .9-7.8-.9 7.8 1.7 .7 .9-7.8-.9 7.8 1.6 .7 .9-7.8-.9 7.8 1.7 .7 .4-3.9-.4 3.9M243.2 208.8l-17.4-4.7 4.2-6.7 .2 7.9M265.4 207.5l-17.9-2 3-7.2 1.5 7.7M287.5 206l-18 0 2.3-7.5 2.2 7.5M-2 232.8l.1-18 7.6-2.2-7.6 2.2 0 1.8 3.8-1.1-3.8 1.1M20.4 233.6l.9-18 7.7-1.8-7.7 1.8-.1 1.8 3.9-.9-3.9 .9M42.8 234.2l1.8-18 7.7-1.4-7.7 1.4-.2 1.8 3.9-.7-3.9 .7M65.2 234.5l2.7-17.8 7.8-1.1-7.8 1.1-.3 1.8 3.9-.5-3.9 .5M87.6 234.7l.1-18 7.6-2.2-7.6 2.2 0 1.8 3.8-1.1-3.8 1.1M110 234.7l-11.7-13.6 4.3-6.6-4.3 6.6M132.4 234.6l-15.1-9.8 2.2-7.6-2.2 7.6 1.5 1 1.1-3.8-1.1 3.8M154.8 234.2l-15.1-9.7 2.2-7.6-2.2 7.6 1.5 .9 2.2-7.5-2.2 7.5 1.5 1 1.1-3.8-1.1 3.8M177.2 233.7l-15.6-8.9 1.7-7.7-1.7 7.7 1.5 .8 1.8-7.6-1.8 7.6 1.6 .9 1.8-7.6-1.8 7.6 1.6 .9 .9-3.8-.9 3.8M199.6 232.9l-16-8.1 1.4-7.8-1.4 7.8 1.6 .8 1.4-7.8-1.4 7.8 1.6 .8 1.4-7.8-1.4 7.8 1.6 .8 1.4-7.7-1.4 7.7M222 232l-16.6-6.9 .8-7.8-.8 7.8 1.6 .7 .8-7.8-.8 7.8 1.7 .7 .8-7.8-.8 7.8 1.6 .7 .8-7.8-.8 7.8 1.7 .7 .4-3.9-.4 3.9M244.4 230.9l-17.2-5.3 0-7.9 0 7.9 1.7 .5 0-7.8 0 7.8 1.7 .6 .1-7.9-.1 7.9 1.7 .5 .1-7.9-.1 7.9 1.8 .5 0-3.9 0 3.9M266.7 229.6l-17.8-2 3-7.3 1.4 7.8M289.1 228.1l-18 0 2.3-7.6 2.2 7.6M-2.8 255.1l0-18 7.6-2.2-7.6 2.2 0 1.8 3.8-1.1-3.8 1.1M19.7 255.8l1-17.9 7.6-1.9-7.6 1.9-.1 1.8 3.8-1-3.8 1M42.3 256.4l1.8-17.9 7.8-1.5-7.8 1.5-.2 1.8 3.9-.7-3.9 .7M64.9 256.8l2.7-17.8 7.8-1.1-7.8 1.1-.3 1.8 3.9-.6-3.9 .6M87.5 257l-1.4-17.9 7.4-2.9-7.4 2.9 .1 1.8 3.7-1.5-3.7 1.5M110.1 257l-14.1-11.2 3-7.3-3 7.3M132.7 256.8l-15.8-8.7 1.7-7.7-1.7 7.7 1.6 .9 .9-3.9-.9 3.9M155.3 256.5l-15.6-9 1.8-7.7-1.8 7.7 1.5 .9 1.9-7.7-1.9 7.7 1.6 .9 1.8-7.7-1.8 7.7M177.9 255.9l-16-8.3 1.4-7.7-1.4 7.7 1.6 .9 1.4-7.8-1.4 7.8 1.6 .8 1.4-7.8-1.4 7.8 1.6 .8 .7-3.8-.7 3.8M200.4 255.2l-16.3-7.6 1.2-7.8-1.2 7.8 1.7 .7 1.1-7.8-1.1 7.8 1.6 .8 1.1-7.8-1.1 7.8 1.6 .8 1.2-7.8-1.2 7.8M223 254.2l-16.7-6.7 .8-7.9-.8 7.9 1.7 .7 .7-7.9-.7 7.9 1.7 .6 .7-7.8-.7 7.8 1.6 .7 .8-7.8-.8 7.8 1.7 .7 .4-3.9-.4 3.9M245.6 253.1l-17.2-5.4 .1-7.9-.1 7.9 1.7 .6 .1-7.9-.1 7.9 1.7 .5 .2-7.9-.2 7.9 1.8 .5 .1-7.8-.1 7.8 1.7 .6 0-4 0 4M268.1 251.8l-17.9-1.9 3.1-7.3 1.4 7.8M290.7 250.3l-18 0 2.2-7.5 2.3 7.5M224 276.6l-16.7-6.7 .8-7.8-.8 7.8 1.7 .7 .7-7.9-.7 7.9 1.7 .7 .7-7.9-.7 7.9 1.6 .6 .8-7.8-.8 7.8 1.7 .7 .4-3.9-.4 3.9M246.8 275.5l-17.2-5.2 0-7.9 0 7.9 1.7 .5 0-7.9 0 7.9 1.7 .5 0-7.9 0 7.9 1.7 .6 .1-7.9-.1 7.9 1.7 .5 .1-4-.1 4M269.5 274.2l-17.9-1.7 3-7.3 1.5 7.7M292.2 272.7l-18 0 2.3-7.6 2.2 7.6"/><path fill="#000" stroke="#000" stroke-width="1" d="M236.1 61.1l7.6 2.2-7.6 2.3zM237.3 82.4l7.5 2.2-7.5 2.3zM237.1 103.8l7.7 1.7-7.3 2.8zM232.8 126.7l7.8-.8-6.1 5zM228.9 151.6l7.1-3.4-4.1 6.7zM246.7 155.5l5.4-5.7-1.4 7.8zM266.7 159.5l3.4-7.1 1 7.8zM225.8 178.9l5.4-5.8-1.3 7.8zM246.5 181.3l4-6.8 .4 7.9zM268 182.9l2.8-7.4 1.7 7.7zM225.8 204.1l4.2-6.7 .2 7.9zM247.5 205.5l3-7.2 1.5 7.7zM269.5 206l2.3-7.5 2.2 7.5zM248.9 227.6l3-7.3 1.4 7.8zM271.1 228.1l2.3-7.6 2.2 7.6zM250.2 249.9l3.1-7.3 1.4 7.8zM272.7 250.3l2.2-7.5 2.3 7.5zM251.6 272.5l3-7.3 1.5 7.7zM274.2 272.7l2.3-7.6 2.2 7.6z"/><path d="M137.25 105.3h6.6" stroke="#222" stroke-width="2.3"/><path d="M140.55 102.5v5.6" stroke="#222" stroke-width="1.8"/></g><rect x="0" y="0" width="283.1" height="258.8" fill="none" stroke="#000" stroke-width="1.1"/><path d="M0.5 0.5h4.5a4.5 4.5 0 0 1-4.5 4.5z" fill="#000"/></g><text x="1174" y="74.6" font-size="17.4" text-anchor="middle">NCEP SREF mean</text><g transform="translate(71.5 369.8)"><g clip-path="url(#pc)"><rect x="1.8" y="0.3" width="280.3" height="254.9" fill="#824b09"/><path fill="#995d13" d="M3.8 .3l278.3 0 0 254.9-280.3 0 0-254.9 2 0zM116.9 118.7l-1 .3-2 .8-2.1 .9-3.9 2.2-2.6 1.8-2.5 2-2 2.1-1.5 2-1.4 2.6-.5 1.4-.5 2-.3 2-.1 2 .1 4 .4 4 .9 7.4 .1 2.7 0 4-.4 4-.7 4-1 3.6-.9 2.4-1.9 4-3.1 6.1-.7 2-.6 2-.4 2-.1 2 .1 2 .4 2 .5 2 .7 2 .9 2 1.1 2.1 2 3.1 2 2.8 0 .1 2 2.3 2 2.2 2 1.9 2 1.6 2 1.2 2 1 2 .7 2 .5 2 .3 2 0 2-.1 2-.2 2-.5 2.5-.9 1.5-.7 2-1.4 2-2 1.2-1.9 .9-2 .4-2 .3-2.1 .3-4-.1-4-.5-6-1.4-16.1-.3-6-.1-8 .1-10 .4-16.1-.2-4-.3-4-.6-4-.5-2.1-.7-2-1-2-1.9-2.5-2.3-1.5-1.7-.5-2-.1-2 .3-1 .3z"/><path fill="#ad7021" d="M3.8 .3l278.3 0 0 254.9-145.3 0 1.1-.7 2-1.3 2.4-2 1.9-2 3.2-4 2.6-4.2 .7-1.9 .6-2 .3-2-.1-2-.5-2-1-2.2-.9-1.8-1.2-2-2.5-6-1.8-6-1.9-8.1-1.3-6-1.7-10-.8-6.2-.5-5.9-.3-6-.2-8 .1-8.1 .4-10 .5-12.6 .1-5.5-.2-6-.4-6-.7-6-.8-6-1.5-6.1-.5-2-2-4.2-2-2.7-2-1.5-2-.8-2 0-2 .7-2 1.3-2 1.9-4 5.3-3 4-3 3.4-.6 .7-2.3 2-2.7 2-2.4 1.4-4.9 2.6-3.1 1.7-2 1.3-2 1.5-2 1.9-2 2.3-1 1.3-1.2 2-1 2-.8 2-1.3 4.1-.9 4-2.5 12-1.2 4-.8 2-1.3 2.9-1.8 3.2-3.6 6-1.1 2-1.9 4-1.7 4-2 6-5.4 18.1-2.2 6-2.3 6.8-.4 1.3-.5 2-.3 2-.2 2-.1 2 .1 2 .3 2 .5 2 .6 2.1 .7 1.9 1.3 2.5 2 2.7 2 1.9 2 1.4 2 1 2 .7 2 .5 8 1.6 2 .7 2 1.1 2.1 2 1.5 2 1 2 .5 2-.4 2-78.8 0 0-254.9 2 0zM87.5 8.3l-1.6 1.3-2.4 2.7-1.6 2.5-2 4.6-.9 3-.9 4-.3 2-.4 4-.2 4 0 4 .2 4.1 .5 5 .5 3 .8 4 .7 2.8 1.1 3.2 .9 2.5 2 3.9 2 2.7 2 1.8 2.3 1.2 1.7 .5 2 .1 2-.1 3-.5 3-.8 10-2.7 2-.7 2-1.1 2-1.5 1.2-1.3 1.4-2 1-2 .6-2 .4-2 0-2-.3-2-.6-2-1.1-2-3.2-4-7.8-8.1-1.7-2-1.9-2.3-2.6-3.7-2.3-4-1.8-4-1.7-4-3.8-10.1-1.8-1.7-2 .3-2 1.1-.4 .3zM209.7 26.4l-1.8 2-.9 2-1 3-.2 1-.3 2-.2 2 .1 2 .2 2 .7 2.1 1.7 2.1 2 1 2 .4 2 .1 2-.2 2-.3 2-.5 2-.7 2-1.2 1.1-.7 .9-.9 1-1.2 1-2.1 .3-1.9-.3-2.3-.6-1.7-1.4-2.2-2-2.1-2.1-1.7-1.9-1.2-2-1-2-.7-2-.4-2 .1-2 .9-.3 .3z"/><path fill="#c28633" d="M3.8 .3l74.1 0-2 4.3-1.4 3.7-.6 2-1 4-1 4.9-.8 5.2-.6 6-.3 6-.1 6 .1 6.1 .4 6 .8 8 1.3 12.1 .3 4 0 4-.1 4-.5 4-.8 4-1.2 4-2.5 7-1.8 5.1-1.1 4-1.1 4.8-2 9.5-1.1 3.8-1.4 4-1.7 4-4.6 10-1.5 4-1.2 4.1-1 4-2.9 12-1.2 4-1.5 4-.8 2.1-2.2 4-1.2 2-1.8 2.4-2.9 3.6-3.8 4-3.7 4-1.7 2-1.3 2-1 2-.7 2.1-.5 2-.2 2 0 2 .2 2 .4 2 1.1 4 2.1 6.1 2.1 5.9 1.1 4.1 .8 4 .2 2 .1 2-.3 2.3-.5 1.7-27.5 0 0-254.9 2 0zM123.9 1.7l.4-1.4 15.6 0-4 2.6-6 4.6-2 1.1-2 .2-.8-.5-1.2-1.2-.2-.8-.2-2 .4-2.6zM196 .3l15.8 0-1.8 .6-2 .5-4 .5-4 .1-2-.1-2-1.3-.1-.3 .1 0zM254.1 1.6l2.7-1.3 25.3 0 0 254.9-112.5 0-.4-4-.6-8-.7-10.1-.7-6-.7-4-.8-4-1.2-4-.7-2-.9-2.1-1-2-1.9-3-2-2.2-2-1.2-2-.1-2.8 .5-1.2 .2-2-.8-2-2.7-1.1-2.7-.9-2.7-.9-3.3-.8-4-.6-4.1-.7-6-.4-6-.3-6 0-8 .2-8.1 .6-10 .7-14.1 .4-14 .3-8 .5-6.1 .5-4 .5-2.4 1-3.6 1-2.5 2-2 2 .2 2 1.6 2 2 2 1.5 2 .5 2-.4 4-1.4 2-.5 2-.3 2-.1 2 .1 2 .2 2 .4 4 1.1 4 1.3 2 .5 2 .3 2 0 2-.3 2-.5 2-.9 2-1.3 2-1.7 2-2.2 2.5-3.6 2.1-4 3.2-6.1 1.2-2 1.5-2 1.8-2 2.3-2 2.9-2 2.5-1.5 8.5-4.5 2.8-2 2.2-2 1.6-2 1.3-2 .9-2.1 .8-2 .4-2 .3-2 .1-2 0-2-.3-2-.5-2.9-.4-1.1-.7-2-.9-2.2-4.1-7.9-.6-2 .1-2 .5-.9 .9-1.1 1.2-.6 3.1-1.4 6.9-1.9 2-.6 4-1.4 2-.8zM186 4.2l2-.1 2 .1 .9 .1 1.1 .5 .8 1.5 .1 2-.2 2-.8 4-1.2 4.1-.7 2-1 2-1.3 2-1.8 2-1.9 1.3-2.1 .7-2.2 0-1.7-.5-2.4-1.5-1.8-2-1.2-2-.9-2-.5-2-.3-2-.1-2.1 .3-2 .9-2.2 1.3-1.8 .7-.6 2.2-1.4 1.8-.7 2-.5 2-.5 2.3-.3 1.7-.1z"/><path fill="#cfa256" d="M3.8 .3l67.1 0-1.3 4-1 4-.9 4-1 6.1-.8 6.4-.8 7.6-.5 8-.2 6.1 0 6 .3 8 .3 8-.1 4.1-.2 4-.5 4-.5 2-.5 2-1.3 3.6-1.1 2.4-1.1 2-1.8 2.9-2.3 3.1-3.7 4.5-3.1 3.6-6.2 8-2.8 4.3-.9 1.7-1.1 2.6-.5 1.4-.5 2-.3 2.1-.1 2 .1 4 1.1 14 .1 4-.1 4.1-.2 4-.5 4-.7 4-.9 4-1.3 4-.9 2-1.3 2.5-.9 1.5-1.3 2.1-1.8 2.1-2 2.3-2 1.9-4.1 3.7-7 6-2.9 3.1-.8 .9-1.5 2-1.7 2.9-.6 1.1-.8 2.1-.7 2-1 4-.9 4.6 0-.6 0-222.8 2 0zM274.1 1l.8-.7 7.2 0 0 254.9-95.2 0-.4-2-1-4-2.2-6-1.4-4.1-1.7-6-.9-4-4-18.1-1.3-4.1-1.6-3.9-1-2-1.4-2.3-2-2.8-2.4-2.9-3.8-4-1.8-1.7-2-1.3-2-.1-2.1 1.1-1.9 1.4-2 1.1-2-.7-2-3.5-.7-2.4-.9-4-.6-4-.5-6-.3-6 0-6 .2-6.1 .5-8 .6-6 1.8-14.1 1.9-7.2 2 1.9 4 17.4 2 4.9 2 2.1 2-.2 2-1.2 6-4.5 4.6-3.1 2.6-2 2.2-2 1.7-2.1 1.5-2 1.4-2.2 4.3-7.8 2.7-4 3.2-4 9.8-11 2.2-3.1 2.3-4 2-4 4.7-10 1.2-2 1.6-2.6 2-2.5 2-2.1 2-1.7 2-1.4 4-2.5 6-3.4 3-1.9 3.1-2.4 2-2 2-2.5 .7-1.1 1.3-2.2 .9-1.9 1.5-4 1.2-4 2.7-10 .7-2 1-2.1 1.1-1.9 1.5-2 1.9-2.1 3.5-3.1 12-10.2z"/><path fill="#dcbc75" d="M3.8 .3l61.4 0-.9 4-1.1 6-1.3 9.4-1.6 12.7-1.3 12.1-.5 6-.2 6-.3 12-.4 4.1-.4 2-.4 2-.9 2.9-.5 1.1-1.5 3-.7 1-1.5 2-1.9 2-2.4 2-1.6 1.1-4 2.4-10 5-2.5 1.6-2.6 2-.9 .7-2 2.3-.6 1-1.4 2.4-.7 1.6-.7 2-.6 2.3-.6 3.7-.3 4 .1 4 .4 4.1 .8 4 1.1 4 1.9 6 1.2 4 .9 4 .6 4.1 .2 4-.3 4-.3 2-.4 2-.6 2-.7 2-.8 2-1.2 2.2-2 3.1-.6 .7-1.7 2-2 2.1-3.7 3.1-10 8 0-195.8 2 0zM282.1 4.7l0 250.5-80.8 0 .7-2 .5-2 .3-2 .1-2-.2-2-.7-2.7-.5-1.3-1.5-3-.6-1.1-3.4-5-2-3-2.3-4-1.8-4-1.5-4-1.1-4-1.3-5.6-.8-4.5-1.8-10-1.4-6-1.2-4.1-.8-2.2-4.1-9.8-.6-2-.3-2 .1-2 .5-2 .9-2 1.5-2.5 1-1.5 1.4-2.1 5.6-7.4 5.6-8.6 1.1-2 2-4 1.7-4 2.1-6.1 2.7-8 2.8-6.9 1.3-3.1 1.9-4 1.7-4.1 2.5-6 4.9-12 1.7-3.2 .5-.8 1.5-2.2 2-2.4 2-2 2-1.7 2.6-1.8 3.4-2 8.1-4.7 2-1.3 2.5-2 2.2-2 1.8-2 1.5-2 2-3.1 1.6-3 6-12 1.2-2 1.3-2 1.9-2.5 3-3.5 13.2-14.1 1.8-1.6zM148 146.4l2 1.5 .7 2.9 .8 4 .4 4.1 .1 3.9 0 .1-.2 2-.3 2-.5 2-1 2.7-2-.5-.5-2.2-.7-4-.3-4 0-4 .3-4.1 .6-4 .6-2.4z"/><path fill="#e7cf94" d="M3.8 .3l56 0-2.8 22.1-1.3 8-1.9 10-2.5 12.1-1 6-.6 4-.8 4-1.1 3.8 0 .2-1 2.1-1.2 2-1.9 2-1.9 1.3-2 1-2 .6-2 .3-2 .1-2-.2-2-.4-2.2-.7-1.8-.9-2-1.3-7.5-5.9-.5-.2-2-.9-2-.5-2 .1-2 .5-2 1-2.3 2.1-1.7 2 0-74.3 2 0zM282.1 14.7l0 240.5-66.7 0 .7-2 .5-2 .3-2 .2-2 0-2-.1-2-.2-2-.3-2.1-.5-2-.6-2-1.4-3.1-.4-.9-1.6-2.5-2-2.6-2.5-2.9-3.5-4-2-2.8-.8-1.2-1.2-2.2-.8-1.9-1.2-3.5-.1-.5-.4-2-.5-4-.1-4 .1-4 .9-14.1 0-6-.2-6 .2-4 .3-4 .8-4.1 1-4 4.6-16 1.4-6 2.1-10.1 1.5-6 2.2-8 3.2-10.1 2.6-8 1.5-4 .9-2.2 .9-1.8 1.2-2 1.9-2.7 2-2.2 2-1.8 2-1.6 4-2.5 10.1-5.6 2.5-1.7 2.7-2 2.8-2.6 2-2.2 2-2.6 1.8-2.6 6.3-10.1 2.9-4 3-3.6 9.2-10.4 2.8-3.7zM3 96.6l2 4.1 1.6 4 1.2 4 .8 4 .7 4 .9 8 1.8 16.1 1.6 12 .3 4.1-.1 3 0 1-.3 2-.4 2-.6 2-.8 2-1 2-1.2 2-1.7 2.1-2 2-2.4 1.9-1.6 1.1 0-85.4 1.2 2z"/><path fill="#f1dfb3" d="M3.8 .3l50.6 0-.1 4-.4 6-.7 6.1-1 6-.9 4-1.4 5.7-1.5 4.3-.8 2-2 4-1.8 2.8-2 2.5-2 1.8-2 1.2-2 .9-2 .5-2 .1-2 0-4-.4-6-1.1-4-.8-4-.6-4-.4-2 .1-2 .3-2 .8 0-49.8 2 0zM282.1 27.1l0 228.1-51.9 0 .7-14 .5-6.1 .7-6 1.3-8 .7-4 .2-2 0-2-.3-2.1-.8-2-1.6-2-1.6-1.1-2-1-4-1.9-2-1.1-2-1.6-1.1-1.3-1.2-2-.7-2-.5-2-.5-3.1-.2-2.9-.8-12.1-1-8.4-1-9.6-.4-6.1-.1-6 .1-6 .3-6 .5-6.1 .8-6 1-6 1.2-6 2.3-10.1 1.5-6 1.1-4 1.4-4 1.3-3.2 .5-.8 1.5-2.7 1-1.3 1.8-2 2.2-2 2.7-2.1 2.4-1.3 4.9-2.7 5.1-2.6 4-2.4 2-1.4 2-1.6 2.3-2 2-2 1.8-2 3.1-4 3-4 3.8-4.8 4-4.4 6.9-6.9 1.1-1.3zM2.4 116.7l1.1 4 .7 4 .5 4.1 .2 4 0 4-.3 4-.5 4-.4 2-.5 2-.7 2-.7 1.6 0-37.5 .6 1.8z"/><path fill="#f6eacb" d="M3.8 .3l44.5 0 .3 2 .2 4-.1 4-.4 4-.7 4.1-1 4-.8 2.3-1.4 3.7-1.1 2-1.5 2.4-2 2.5-2 1.8-2 1.3-2 1-2 .6-2.4 .4-1.6 .2-2 0-2.9-.2-1.1-.1-2-.3-2-.5-3.5-1.1-.5-.2-2-.9-2-1.2-2-1.7-2-2.5-.8-1.5-1.2-2.8-.9-3.2-1.1-5.6 0-18.5 2 0zM280.1 41.5l2-1 0 214.7-43 0 1-2.2 1.4-3.8 3.5-8 4.4-8.1 8.2-12 1.3-2 1.4-2 5.8-8.9 .6-1.2 1.4-2 1.1-2 1.2-2 5.7-10 .9-2 1.1-2.1 2.3-6 1-4 .3-2 .2-2 0-2-.1-2-.4-2-.6-2-.8-2-1.2-2-.7-1-1-1-1-.9-2-1.3-2-.8-2-.5-2-.4-2-.2-4.2 0-3.8 .4-6 1-8 1.2-2 .2-2 .1-2-.2-2-.4-2.1-.6-2-.9-2-1.4-2-1.8-2-2.3-.8-1.3-1.2-2-.9-2-1.1-2.6-.9-3.4-.7-4-.4-4-.1-4.1 .2-4 .3-4 .8-6 1.3-8 1.8-10.1 1-4 1.2-4 1.5-3.7 .2-.3 1.8-3 .8-1 1.9-2 2.5-2 2.9-1.8 2-1.1 4-2 6.6-3.2 3.6-2 3-2 2.8-2.1 2.1-1.9 3.9-4.1 6-6.5 2-2 2-1.7 2.5-1.8 1.5-.9z"/><path fill="#f5f0e0" d="M5.8 .3l34.9 0 .8 2 .6 2 .3 2 .1 2-.1 2-.2 2-.4 2.5-.3 1.6-.7 2-1 2.5-.7 1.5-1.3 2-2 2.3-2 1.7-2 1.1-2.2 .9-1.8 .4-2 .3-2 0-2-.3-2-.4-2-.7-2.5-1.3-1.5-1.1-2-1.9-.8-1-1.3-2-1-2-.9-2.1-1.2-4-.9-4-1.9-10 2 0zM282.1 51.9l0 95.4-2-1-2-.8-2.7-.7-1.3-.2-4-.4-4-.1-6 .3-8 .5-4 0-4-.2-2-.3-2-.4-2-.6-2-.9-2.6-1.7-2-2-1.5-2-1-2-1-2.3-.5-1.7-.4-2-.3-2.1-.2-4 .1-4 .3-4 .9-8 1.3-10.1 .8-4.3 1.1-3.7 .9-2.4 .8-1.6 1.3-2 2-2.3 2-1.7 3-2 3-1.5 4-1.7 8-3.4 4-2.1 2.1-1.4 2.8-2 3.1-2.6 6-5.5 2.5-1.9 1.5-1 2.2-1 1.8-.6zM282.1 190.1l0 65.1-39.6 0 4.3-8 1.3-2.2 .9-1.8 1.3-2 2.4-4.1 1.4-2.1 1.1-1.9 2.9-4.3 1-1.7 1.3-2 5.7-8.7 .8-1.3 1.3-2 2.5-4.1 1.4-2.1 1.1-1.9 1.2-2 5.7-9.3 1.5-2.7 .5-.9z"/><path fill="#f4f5f5" d="M15.8 1.2l1.3-.9 9.4 0 1.3 .6 2.3 1.4 1.7 2 .9 2 .5 2 0 2-.4 2-1 2.6-1 1.5-1 1-2 1.4-2 .7-2 .1-2-.3-2.3-.9-1.7-1.3-.7-.7-1.5-2.1-.9-2-.7-2-.3-2-.1-2 .3-2 .9-2 1-1.1zM282.1 61.5l0 74.2-2-.6-2-.4-2-.2-4-.2-4 .2-12 .7-4 0-4-.4-2-.4-2-.6-2.4-1-1.6-1.1-1.1-.9-.9-1-.8-1-1.2-2.4-.6-1.7-.4-2-.3-2-.1-4 .2-4 1.3-14.1 .6-4 .5-2 .8-2.3 .8-1.7 1.2-2 2-2.1 2.5-1.9 1.5-.8 2.4-1.2 3.6-1.3 4-1.2 4.5-1.5 1.5-.6 3-1.4 1-.5 2.3-1.5 2.5-2.1 3.2-2.8 3.5-3.2 .5-.3 2.3-1.7 1.7-1zM282.1 194.2l0 61-37.6 0 4.5-8 1.3-2 2.3-4 1.5-2.3 1-1.8 1.3-2 21.7-34.2 1.1-1.9 1.2-2 1.7-2.8z"/><path fill="#e2f0ee" d="M282.1 72l0 47.4-4-1.9-2-.6-4-.6-2 0-3.5 .4-4.5 .6-2 0-2-.2-1.3-.4-.7-.4-1.6-1.6-.6-2 0-2 .4-2 .9-2 1.2-2 1.9-2 1.8-1.2 2-1 2-.9 2-1.2 2-1.8 2-2.5 3-5.5 1-2 1.8-4 .2-.3 .8-1.7 2.1-4 2.6-4 .5-.6zM282.1 196.9l0 58.3-36.1 0 .1-.2 .9-1.8 1.2-2 2.4-4 11.3-18.1 .2-.3 1-1.7 1.3-2 13.9-22.1 3.8-6.1z"/><path fill="#ceece8" d="M282.1 198.8l0 56.4-35.1 0 3.1-5.1 1.7-2.9 2.5-4 2.4-4.1 1.4-2 2.4-4 7.7-12 2.5-4 3.4-5.4 2.9-4.7 1.3-2 3.7-6 .1-.2z"/><path fill="#b4e2db" d="M282.1 200.4l0 54.8-34.1 0 .1 0 2.3-4 4.8-8 2.9-4.5 2.2-3.6 5-8 2.8-4.3 2.3-3.7 11.7-18.7z"/><path fill="#98d7cd" d="M282.1 201.8l0 53.4-33.3 0 5.3-8.7 3.3-5.3 2.7-4.3 2.3-3.8 19.7-31.3z"/><path fill="#79c8bc" d="M282.1 203.2l0 52-32.5 0 17.4-28.1 5.2-8 5-8.1 3.7-6 1.2-1.8z"/><path fill="#58b0a7" d="M282.1 204.3l0 50.9-31.7 0 4.8-8 25.2-40.2 1.7-2.7z"/><path fill="#3b9b93" d="M282.1 205.5l0 49.7-31 0 9-14.7 8.5-13.4 13.5-21.6z"/><path fill="#23867e" d="M282.1 206.7l0 48.5-30.3 0 8.6-14 8.9-14.1 11.3-18.1 1.5-2.3z"/><path fill="#0c7169" d="M282.1 207.8l0 47.4-29.6 0 5.6-9.2 24-38.2z"/><path fill="#015f56" d="M282.1 208.9l0 46.3-28.9 0 3.7-6 3.7-6 6.3-10.1 5.2-8.2 4.9-7.8 5.1-8.2z"/><path fill="#004c42" d="M282.1 210.2l0 45-28.2 0 3.7-6 4.5-7.2 3-4.9 5.1-8 6.3-10 5.6-8.9z"/><path fill="#003c30" d="M282.1 211.5l0 43.7-27.3 0 3.3-5.5 2.8-4.5 3.2-5.2 3.1-4.9 2.9-4.6 3.5-5.4 2.5-4.1 2.5-3.9 3.5-5.6z"/><path fill="#73a9cf" d="M282.1 212.9l0 42.3-26.5 0 2.5-4.1 3.6-5.9 2.5-4 6.4-10.1 5.5-8.7 2.1-3.3 2.6-4 1.3-2.2z"/><path fill="#62a2cb" d="M282.1 214.5l0 40.7-25.5 0 3.6-6 7.6-12.1 2.3-3.6 2.8-4.4 1.2-2 2.6-4 3.4-5.4 1.7-2.6 .3-.6z"/><path fill="#509ac6" d="M282.1 216.5l0 38.7-24.3 0 .3-.5 .9-1.5 1.2-2 2.5-4 3.7-6 15.7-24.7z"/><path fill="#3f93c2" d="M282.1 219.1l0 36.1-22.7 0 1.1-2 3.6-6 2.6-4 1.4-2.3 1.2-1.8 1.2-2 9.6-14.8 .8-1.2 1.2-2z"/><path fill="#2f8bbe" d="M282.1 223.3l0 31.9-20.4 0 .4-.8 .7-1.2 1.3-2.3 1.1-1.7 1.2-2 7.8-12.1 2.8-4 1.2-2 2.8-4 1.1-1.8z"/><path fill="#2182b9" d="M280.1 241l.2 .2 1.7 2 .1 .4 0 11.6-14.3 0 .3-.6 2-3.7 4.3-5.7 1.9-2 1.8-1.5 2-.7z"/><path fill="none" stroke="#000" stroke-width="1.7" stroke-linejoin="round" d="M.3 22.3l2.1 .3 2.1 .2 1.8 .8 1.8 .5 1.9 .5 1.6-.1 1.6-.2 1.7 .2 1.6-.3 1.7-.1 1.8 .4 1.8 .1 1.7-.6 1.7 .1 1.6 .7 1.7 0 1.7 .3 1.6 .6 1.7-.2 1.8-.1 1.7 .3 1.7 .2 1.5 1.2 1.7 .3 1.8 0M48.4-.5l-.2 1.6-.6 1.6 .5 1.7-.6 1.6-.1 1.7-.2 1.6-.4 1.6-.4 1.6-.4 1.6-.4 1.6-.2 1.6-.5 1.6 .2 1.7-1 1.5 .7 1.8-1 1.5-.1 1.6 1.2 1.8 1 1.8 1.2 1.8-.8 1.8-1.2 1.4-1.7 1.2-.9 1.7-1.5 1.2-.4 2-1.4 1.3-.9 1.6 .1 1.7 .4 1.6 .9 1.4 .1 1.7-.3 1.6-.5 1.6-1.1 1.4 .5 1.8-.6 1.5-1 1.5 .2 1.7-.5 1.6 0 1.6-.7 1.6-.5 1.5 .5 1.8-1.1 1.4-.6 1.6 .2 1.7M55.9-.5l.3 2 .6 1.9-.3 2 .4 1.7 .7 1.7 .5 1.7 .4 1.7 1.1 1.5 1.1 1.6 .6 1.8 1.2 1.5 .8 1.7 1.8 1.5 1.5 1.9-.8 1.5-.5 1.6-.3 1.8-1 1.4-.2 1.9 .1 2-.6 1.9 2.2-1.3 1.5 .9 1.7 .4 .2 1.8 .9 1.6 .2 1.8 1.3 1.4 .1 1.8 .6 1.7 1.1 1.5 .3 1.9 1 1.5 .3 1.9 1.6-.8 1.8 .2 1.6-.7 1.8-.1 1.6-.4 1.6 .1 1.7 .1 1.6 .2 1.6 0 .6-1.5 1.3-1.1 .8-1.4M92.3 47.3l29.2 2.9 17 1.2 13.1 1.3M92.3 47.3l-6.1 48.5M86.2 95.8l18.3 1.5 24 1.9 21.5 1.3 18.9 1.4M.3 68.2l7.7 1.5 26.3 5.2 25.6 5.4 26.3 3.4M8 69.7l-7.7 34.8M.3 104.5l17.8 26.4 23.2 30.6M59.9 80.3l-7.4 50.6-.7 8.9M104.4 97.3l-3.6 33.6-7.8 83.7M51.8 139.8l23.7 3.1 23.1 2.5 24.9 2.2 23 1.5 20.7 .5 36.3-.1 35.7-.6M168.9 101.9l-.7 29-1 18.7M168.9 114l29.6-.4 30.4-.9M154.7 3.5l-1.4 37-1.7 36.4-1.6 23.6M98.5-.5l8.6 1.2 21.4 1.8 26.2 1.5 21.6 .4 33.7 0 16.2-2.3 1.3-2.6M176.3-.5l0 4.9M153.3 40.5l30.2 .5 32.6 .2M151.6 76.9l1.7 .2 1.7-.1 1.6 .4 1.7-.7 1.7 .7 1.7 0 1.7-.1 1.6 .4 1.7-.8 1.7-.2 1.7 .7 1.7 .3 1.7-.1 1.6-.8 1.7 .1 1.7 .5 1.7-.2 1.7 .4 1.7 .2 1.7-.7 1.7 .5 1.7 .1 1.6-.4 1.7 .5 1.7 .1 1.7-.7 1.7 .9 1.7-.5 1.7 0 1.3 1.1 1.6 .4 1.2 1.2 1.7 0 1.6-.8 1.7-.4 1.7-.1 1.6 .3 1.3 1 1.7 .3 1.5 .4 1.6 1.5M210 4.4l.7 1.8-.5 1.9 .9 1.7 .3 1.8-.1 1.9 .7 1.6 .8 1.5-.1 1.8 .4 1.7 .9 1.5-.3 1.7 .6 1.6 .7 1.6-.1 1.7 .2 1.7 .6 1.6 .4 1.6-.2 1.7 .2 1.7 .7 2.3-.1 2.4-1.4 1.7-1.3 1.7 1.2 1.3 .9 1.5 1.3 1.2 .2 1.7-.5 1.7 .3 1.6 .3 1.7 .1 1.6 .1 1.7 .5 1.6-.4 1.7 .6 1.6-.4 1.7 .9 1.6-.6 1.8 .3 1.6-.8 1.7-.6 1.7 .4 1.9 .8 1.8 .6 1.8 .2 1.9 .5 1.6 1.1 1.4-.2 1.9 .6 1.5 1.3 1.3 .1 1.8 .9 1.7 .5 1.7-.6 2.1 .9 1.7 .9 1.6 .1 1.9 .6 1.6-.1 1.7 .8 1.5-.1 1.8 .9 1.5 1 1.6 .3 1.8 1.7 .9 1.7 .9 2 .2-.1 1.8 .3 1.7 .6 1.6 .5 1.7 1.4 1.7 2 1 0 1.7 .2 1.6 .5 1.7-.5 1.7-.4 1.6 .7 1.7-.6 1.6-.2 1.6 .1 1.7 0 1.6 .3 1.7 .3 1.6 .2 1.6-.3 1.7-.1 1.6 .1 1.6 .7 1.5 .6 1.5 0 1.7 .6 1.7-.5 2 1.1 1.7-.4 1.9 1.1 1.6-.6 2 .8 1.7 .2 1.6-.2 1.6 .1 1.7 .4 1.6-.4 1.6 1 1.6-.3 1.6 .3 1.6 0 1.6-.3 1.7 .5 1.6-.2 1.6 .3 1.6M218.8 70.2l21.7-.9 23.5-1.1M226.9 105.3l19.6-.9 18.1-1.2M252.5 29l.5 1.8-.1 1.9 .2 1.9 .1 1.9-1.5 1.1-.6 1.8-1.4 1.3-1.3 1.2 .5 1.7-.3 1.8 .7 1.7-.4 1.8 1 1.6-.4 1.8 .3 1.7 1.3 1.3 1.4 .9 1.8 .4 1.6 .8 .9 1.7 1.4 1.1 1.7 .6 1.4 1.5 1.9 1 1.4 1.5 0 1.7 .4 1.6 .6 1.5 0 1.7 .4 1.6 1.3 1 1 1.2 1.2 1.2 1.6 .6 .9 1.4 .7 1.6 .9 1.4 1.3 1.2 1.2 1.2-.6 1.8 .6 1.9-.7 1.7-1.3 1.2-1.9 .1-1.4 1-1.4 1.1 0 2 .4 2-.4 2-1 1.4-1.1 1.3-.8 1.5-1.2 1.2 .8 1.5-.2 1.7 .7 1.6 .3 1.6-.2 1.7 1.2 1.2 1.2 1.3 1.9 .4 1.3 1.1 1.1 1.4 1.2 1.1 1.5 .8 .8 1.6 1.3 .9 1.3 1 .3 1.6-.3 1.7 .6 1.6 .7 1.5 0 1.7 2.3 1.9M283.1 169l-1.2 2.3-.5 1.6-.9 1.4-.2 1.6-.2 1.7-.7 1.9-.8 1.8-1.2 1.7-.7 2.2-.2 2.3 .7 2 0 2.2 .2 2.1 .2 2.1 .5 2.1 .2 2.1 1.7 1 1 1.7-1.5 1.2-1.2 1.5-.9 1.8-.2 1.9-.8 1.7-.9 1.7 .1 1.9-.8 2.2-.1 2.3 1.7-.6 1.6 .2 1.7-.1 1.7 .5 1.7-.5M272 78.3l11.1-.7M240.6 155.2l20.9-1.6 21.6-1.9M249 196.5l14.5-1.3 13.9-1.4M158.1 149.6l0 6.3-1.1 27.1-1 27.4M158.1 155.9l29.4 .7 0 23.1M187.5 179.7l-.9-1.2 1.6 1.7 2 1 1.9 .5 1.9 .5 1.6 1.2 1.7 .7 1.9 .2 1.8 .5 1.8 0 1.8 .2 1.8-.2 1.1 1.6 1.6 1.1 2.7-.9 1.4 1 1.5 .7 1.6 .5 1.2-1.3 1.5-.9 1.7 1 2.1 0 1.6 1.2 1.8-1 1.8-.8 2.3-.3 2.2-.6 1.8-.5 1.8 .1 1.6 .7 1.3 1.3 1.6 .7 1.7 1 1.9 .3 1.7 .6 1.8-.1 .9 2-.7 2.3 .8 2-.2 1.7-.1 1.7 .7 1.6-.1 1.7 0 1.7 .4 1.6 .1 1.7 1.1 2 1.7 1.6 .7 1.8 1 1.7 .2 2 .8 1.7-.3 2.1-.5 2.1-.1 2.1 .5 1.8-.7 1.8 .2 1.8 0 1.8-1 1.6-.4 1.9M217.2 259l1.4-.9 1.2-1.3 1.6-.7 1.2-1.2 1.6-1.6 2-1.1 1.7-.3 1.1-1.3 1.8-.1 1-1.4 1.6-.5 1.4-.8 1.2-1.1 1.2-1.1 1.6-.6 1.4-1.3 1.3-1.4 1.6-1.1 1.1-1.6 2-.3 1.4-1.7 1.8-.6 1.9-.5 1.7 .3 1.5-1.1 1.6-.3 1.7 .1 1.6-.4 1.5 .7 1.6 .4 1.8-.2 1.4 .9 2.2 .7 2.3-.2 1-1.2 1.4-.9 1.2-1.1 1.9 .8 1.7 1 2-.2 1.8 .8 1.9 .3M240 242l1.5-1.5 1 2-1.5 1.5M224.5 251.5l2-1 .5 2M118.2 208.6l28.3 1.8 9.5 0M34.9 192.5l36.8 19.4 21.3 2.9 8.8 .5 0-5.1 16.4 .8 0-2.4M118.2 208.6l1.1 1.3 1.2 1.3 1.1 1.3 .8 1.5 1.2 1.2 .6 1.7 1.3 1.1 1.6 1.1 .9 1.9 1.4 1.3 1.6 1.2 1.1 1.7 1.4 1.4 1.5 1.3 0 1.8 1.2 1.7-.6 1.9 .8 1.7 1.6 1.3 1.3 1.6 1.2 1.6 1.4 1.6 2.1 .5 1.5 1.4 1.5 1.4 1.9 .7 2 .5 1.6 1.2 .5-1.7 1.2-1.4 .7-1.6 .5-1.7 1.3-1.3 1.8-.9 1.7-1 2.1-.2 2.1 .5 2.1 0 1.8 .7 1.9-.1 1.9 .3 2 .9 1.4 1.7 .9 1.5 1.5 1 1.2 1.2 .5 1.8 1.5 1.2 .6 1.7 .8 1.6 .4 1.7 .6 1.7 1 1.5 .5 1.7 1.1 1.4M152.5 246.8l-7 12.2M51.8 139.8l-.8 1.7 .1 1.8 0 1.8-.8 1.7-.4 1.7-.2 1.8-1.5-1.1-1.7-.7-2.4 .4 0 1.9-1.1 1.7 .1 1.9-1 1.7-.1 1.9-.5 2.2 .2 2.3 .5 2 .8 1.8 .6 2 .6 2 1.4 1.4-1.6 .8-.8 1.7-1.5 .9-.6 1.7-.4 1.7-.6 1.6-.3 1.8-2 .9-.7 1.9 .2 2 1.5 2-1.2 1.4-1.7 .5-1.2 1.3-1.7 .6 .2 1.8-.6 1.6-.7 1.7 .1 1.7 1 2M11.7 187.9l12.8 1.1 13.3 1.1M.5 166.4l1.2 2 1.2 1.9 .9 1.4 1.2 1.2 1.7 .6 .8 1.5 1.2 1.1 .8 1.6 .9 1.6 .8 1.6 0 1.6-.1 1.7 .1 1.6 .3 1.7 1.1 1.2 0 2 .2 1.9 .8 1.9 .2 1.8 1.2 1.4 .5 1.6-.1 1.8 .1 1.7 .6 1.6 .4 1.7 .9 1.5 .3 1.8 .7 1.6-.1 2 1.3 1.8-.2 2-.1 1.7 .4 1.7 .7 1.6 0 1.7 1.4 1.2 1.1 1.4 1.5 1 1.7 .8 1.1 1.5 .9 1.5 1.3 1.2 .5 1.8 1.1 1.3 .9 1.5 1.4 1.2 .2 1.9 1.4 1.2-.3 1.7-.4 1.7-.2 1.7-.1 1.7-1.6 .7-1.3 1.2-.5 1.9-1.8 1.2-.6 1.8 .6 2.2 .4 2.2M32.5 193.5l-.1 1.9 .3 2-.7 1.9 .4 2.1 1 1.8-.4 2-.8 1.9-.7 1.9 .5 1.9 .1 2 .4 1.9-.3 1.9-.3 1.9 .1 2 .4 1.7 .4 1.8 1.1 1.4 1.1 1.2 1 1.4 1.2 1 1.7 .7 .8 1.5 .3 1.8 1.1 1.4 .6 1.6 1.7 1.2 1.2 1.7 1 2.9 .6 1.7 1.3 1.3 .7 1.5 .3 1.6 0 1.7 .5 1.9 .4 2 .8 1.9 .7 1.9 1.4 1.6M33 199.3l1.8 1.1 1.7 1.1 1.3 1.7 1.3 1.1 1.6 .8 2.9-.9 1.4 1.2 .6 1.7 2.2 1.1 1.6 1.8 1 2.9-.6 1.9-.4 2 1.3 1.7 .7 2.1 .2 1.6 .1 1.6 .9 1.5 .5 1.5 .2 1.6 .9 1.9 .8 1.9 .3 2 .8 1.9 .5 2 .6 1.9 1.8 1.1 1.1 1.8 .8 1.7 1.3 1.5 .8 1.7 .7 2 1.2 1.8 1.7 .7 1.5 1.1 1.7 .7 1.3 .9 1.6 .5-.7 1.8-.8 1.7M21.3 247.8l13.2 1 13 .9M42.3 230.5l1.4 2.5-.6 3.5-1-2.5M53.8 236.6l1.3 1.4-.8 2.2-.8-1.7M93 214.8l-.9 5.8 3.9 2.9 0 6.8-2 7.8 .5 11.6-6.3 1.5 1.9 7.8M229.5-.5l-.1 2 .3 2 .3 2 2.5 1 1.7 .1 1.6 .8 1.7 .1 1.5 1 1.4-1.2 1.6-.8 1.9 .7 2.1-.2 1.5 .8 .9 1.5 1.1 1.2 2.5-1 2.5 1.5 1.2 1.4 1.8 .6 1.3-1 1.4-1 1.3-1 2 1.5 1.6-.8 1.7 .1 1.7-.3 2 1.5 3-1 1.5-2-.5-3 2.1-1 1.9-1.5 1.8-.7 1.2-1.5 1.6-.8M251.5 30l1.2-1.8 1.8-1.2 1.6-.9 1.1-1.4 .9-1.6 1.4-1.1 1.5-1.3 1.4-1.5 1.1-1.7 1.6-.6 1.4-1 1.6-.4 1.4-1 1.9-1.5 2.1-1 1.3-1.7 1.7-1.3 1.2-1.4 1.6-1 1.7-.6 2.1-1.5M251.5 30l3-.8 4-1.6 4.5-2.6 3-.5 1-1.2-1.5 4.7 3.5-.2 1.5 .7 2-1.5 2.5-1.5 2.5-1.5 2.5-2 3.1-2M269.5 29l1.5 3.5 7.5 1.5 4.6 1.5M280.5 1l2.6-1"/><path fill="none" stroke="#000" stroke-width="2.8" stroke-linecap="round" d="M276 13L281.5 8.5M280.5 1.2L283 0.5M266.3 23.3L267 26"/><path fill="none" stroke="#000" stroke-width="1.25" stroke-linejoin="round" d="M-2.1-8.6l-13.8 11.5-6.5-4.3 6.5 4.3 1.4-1.1-6.6-4.4 6.6 4.4 1.4-1.2-6.6-4.3 6.6 4.3 1.4-1.1-3.3-2.2 3.3 2.2M17.6-8l-13.8 11.6-6.6-4.4 6.6 4.4 1.4-1.2-6.6-4.3 6.6 4.3 1.4-1.1-6.6-4.4 6.6 4.4 1.3-1.2-3.3-2.2 3.3 2.2M37.2-7.5l-13.8 11.4-6.6-4.4 6.6 4.4 1.3-1.1-6.5-4.4 6.5 4.4 1.4-1.1-6.5-4.4 6.5 4.4 1.4-1.2-3.3-2.2 3.3 2.2M56.9-7.2l-17.3 5.1-4.3-6.6 4.3 6.6 1.8-.5-4.3-6.6 4.3 6.6 1.7-.5-4.3-6.6 4.3 6.6 1.7-.5-2.1-3.3 2.1 3.3M76.6-7l-18-1.2-1.7-7.7 1.7 7.7 1.8 .1-1.8-7.7 1.8 7.7 1.8 .1-1.8-7.7 1.8 7.7 1.8 .2-1.8-7.7 1.8 7.7M96.2-7l-16.6-6.8 .8-7.9-.8 7.9 1.6 .6 .8-7.8-.8 7.8 1.7 .7 .8-7.8-.8 7.8M115.9-7.2l-13.9-11.4 3.1-7.3-3.1 7.3 1.4 1.1 3.1-7.3-3.1 7.3 1.4 1.1 1.5-3.6-1.5 3.6M135.5-7.5l-9.6-15.2 5.2-6-5.2 6 1 1.5 5.1-5.9-5.1 5.9 .9 1.5 5.2-5.9-5.2 5.9M155.2-8l-4.2-17.5 6.9-4-6.9 4 .4 1.7 6.9-3.9-6.9 3.9 .5 1.8 6.8-4-6.8 4 .4 1.7 3.4-1.9-3.4 1.9M174.8-8.7l-2.8-17.7 7.1-3.5-7.1 3.5 .3 1.7 7.1-3.4-7.1 3.4 .3 1.8 7.1-3.4-7.1 3.4 .2 1.8 3.6-1.7-3.6 1.7M194.5-9.5l-2.6-17.8 7.2-3.3-7.2 3.3 .3 1.8 7.1-3.3-7.1 3.3 .2 1.8 7.2-3.4-7.2 3.4 .3 1.7 7.1-3.3-7.1 3.3M214.1-10.5l-1.5-17.9 7.3-2.9-7.3 2.9 .1 1.8 7.3-2.9-7.3 2.9 .2 1.8 7.3-2.9-7.3 2.9 .1 1.8 7.4-2.9-7.4 2.9M233.8-11.6l-.4-18 7.5-2.4-7.5 2.4 0 1.8 7.5-2.4-7.5 2.4 0 1.8 7.6-2.4-7.6 2.4 .1 1.8 7.5-2.4-7.5 2.4 0 1.8 3.8-1.2-3.8 1.2M253.4-12.9l.9-18 7.6-1.9-7.6 1.9-.1 1.8 7.6-1.9-7.6 1.9-.1 1.8 7.7-1.9-7.7 1.9-.1 1.8 7.7-1.9-7.7 1.9-.1 1.8 3.8-1-3.8 1M273-14.4l2.4-17.9 7.8-1.2-7.8 1.2-.2 1.8 7.7-1.2-7.7 1.2-.3 1.8 7.8-1.2-7.8 1.2-.2 1.8 7.8-1.2-7.8 1.2M292.6-16.1l3.1-17.7 7.8-.9-7.8 .9-.3 1.8 7.8-.9-7.8 .9-.3 1.8 7.8-.9-7.8 .9-.3 1.7 7.8-.9-7.8 .9M-2.8 11.5l-13.6 11.8-6.7-4.2 6.7 4.2 1.3-1.1-6.6-4.3 6.6 4.3 1.4-1.2-6.7-4.3 6.7 4.3 1.4-1.2-3.4-2.1 3.4 2.1M17 12.2l-13.7 11.7-6.6-4.3 6.6 4.3 1.4-1.2-6.6-4.3 6.6 4.3 1.3-1.2-6.6-4.2 6.6 4.2 1.4-1.1-3.3-2.2 3.3 2.2M36.8 12.7l-13.8 11.6-6.5-4.4 6.5 4.4 1.4-1.2-6.6-4.3 6.6 4.3 1.4-1.2-6.6-4.3 6.6 4.3 1.4-1.1-3.3-2.2 3.3 2.2M56.7 13l-16.7 6.8-5-6.1 5 6.1 1.7-.7-5-6.1 5 6.1 1.6-.6-4.9-6.2 4.9 6.2 1.7-.7-2.5-3.1 2.5 3.1M76.5 13.2l-17.9 1.7-3-7.4 3 7.4 1.8-.2-3-7.3 3 7.3 1.7-.2-2.9-7.3 2.9 7.3 1.8-.1-1.4-3.7 1.4 3.7M96.3 13.2l-17.7-3.1-.9-7.8 .9 7.8 1.8 .3-1-7.8 1 7.8 1.7 .3-.9-7.8 .9 7.8 1.8 .3-.5-3.9 .5 3.9M116.1 13l-13.9-11.4 3.1-7.3-3.1 7.3 1.4 1.2 3-7.3-3 7.3 1.4 1.1 1.5-3.6-1.5 3.6M136 12.7l-9.6-15.3 5.2-5.9-5.2 5.9 1 1.6 5.2-6-5.2 6 .9 1.5 2.6-3-2.6 3M155.8 12.2l-4-17.6 6.9-3.8-6.9 3.8 .4 1.8 6.9-3.9-6.9 3.9 .4 1.7 6.9-3.8-6.9 3.8 .4 1.8 3.5-1.9-3.5 1.9M175.6 11.5l-2.8-17.8 7.1-3.4-7.1 3.4 .2 1.8 7.1-3.4-7.1 3.4 .3 1.8 7.1-3.4-7.1 3.4 .3 1.8 3.6-1.7-3.6 1.7M195.4 10.7l-2.5-17.8 7.1-3.3-7.1 3.3 .2 1.7 7.2-3.3-7.2 3.3 .3 1.8 7.1-3.3-7.1 3.3 .2 1.8 7.2-3.3-7.2 3.3M215.2 9.7l-1.7-17.9 7.3-3-7.3 3 .1 1.8 7.3-3-7.3 3 .2 1.8 7.3-3-7.3 3 .2 1.7 7.3-2.9-7.3 2.9M235 8.5l-.8-18 7.4-2.6-7.4 2.6 0 1.8 7.5-2.6-7.5 2.6 .1 1.8 7.5-2.6-7.5 2.6 .1 1.8 7.5-2.6-7.5 2.6 .1 1.8 3.7-1.3-3.7 1.3M254.8 7.2l.6-18 7.6-2-7.6 2 0 1.8 7.6-2-7.6 2-.1 1.8 7.6-2-7.6 2-.1 1.8 7.7-2-7.7 2 0 1.8 3.8-1-3.8 1M274.6 5.7l2.4-17.8 7.8-1.2-7.8 1.2-.2 1.8 7.8-1.2-7.8 1.2-.3 1.7 7.8-1.2-7.8 1.2-.2 1.8 7.8-1.2-7.8 1.2M294.3 4.1l3.2-17.8 7.8-.9-7.8 .9-.3 1.8 7.8-.9-7.8 .9-.4 1.8 7.9-.9-7.9 .9-.3 1.8 7.9-.9-7.9 .9M-3.6 31.8l-13.4 12-6.7-4.1 6.7 4.1 1.4-1.2-6.8-4.1 6.8 4.1 1.3-1.2-6.7-4.1 6.7 4.1 1.3-1.2-3.3-2 3.3 2M16.4 32.5l-13.6 11.8-6.6-4.2 6.6 4.2 1.4-1.2-6.7-4.2 6.7 4.2 1.3-1.2-6.6-4.2 6.6 4.2 1.4-1.1-3.3-2.2 3.3 2.2M36.4 33l-13.8 11.6-6.6-4.4 6.6 4.4 1.4-1.2-6.6-4.3 6.6 4.3 1.4-1.2-6.6-4.3 6.6 4.3 1.4-1.1-3.3-2.2 3.3 2.2M56.4 33.3l-15.9 8.4-5.5-5.6 5.5 5.6 1.6-.8-5.5-5.6 5.5 5.6 1.6-.8-5.5-5.7 5.5 5.7 1.6-.9-2.8-2.8 2.8 2.8M76.4 33.5l-17.3 4.8-4.2-6.6 4.2 6.6 1.7-.4-4.2-6.7 4.2 6.7 1.7-.5-4.2-6.7 4.2 6.7 1.8-.5-2.1-3.4 2.1 3.4M96.4 33.5l-18 .3-2.4-7.5 2.4 7.5 1.8 0-2.4-7.5 2.4 7.5 1.8 0-2.4-7.6 2.4 7.6 1.8-.1-1.2-3.7 1.2 3.7M116.4 33.3l-13.9-11.4 3.1-7.3-3.1 7.3 1.4 1.1 3.1-7.3-3.1 7.3 1.4 1.2 1.5-3.7-1.5 3.7M136.4 33l-9.5-15.3 5.3-5.9-5.3 5.9 1 1.5 5.2-5.9-5.2 5.9 .9 1.5 2.6-2.9-2.6 2.9M156.4 32.5l-3.8-17.6 7-3.8-7 3.8 .4 1.7 6.9-3.8-6.9 3.8 .4 1.8 6.9-3.8-6.9 3.8 .4 1.7 3.4-1.8-3.4 1.8M176.4 31.8l-2.9-17.8 7.1-3.4-7.1 3.4 .3 1.8 7.1-3.4-7.1 3.4 .3 1.8 7.1-3.4-7.1 3.4 .3 1.8 3.5-1.8-3.5 1.8M196.4 31l-2.6-17.9 7.2-3.3-7.2 3.3 .3 1.8 7.1-3.3-7.1 3.3 .2 1.8 7.2-3.3-7.2 3.3 .3 1.8 7.1-3.3-7.1 3.3M216.3 30l-2-17.9 7.2-3.1-7.2 3.1 .2 1.8 7.2-3.1-7.2 3.1 .2 1.8 7.2-3.1-7.2 3.1 .2 1.7 7.3-3.1-7.3 3.1M236.3 28.8l-1.5-17.9 7.3-2.9-7.3 2.9 .1 1.7 7.4-2.8-7.4 2.8 .2 1.8 7.3-2.8-7.3 2.8 .1 1.8 7.4-2.8-7.4 2.8 .2 1.8 3.7-1.4-3.7 1.4M256.3 27.5l.2-18 7.6-2.2-7.6 2.2 0 1.8 7.5-2.2-7.5 2.2-.1 1.8 7.6-2.2-7.6 2.2 0 1.8 7.6-2.2-7.6 2.2 0 1.8 3.8-1.1-3.8 1.1M276.2 26l2.5-17.9 7.8-1.2-7.8 1.2-.3 1.8 7.8-1.2-7.8 1.2-.2 1.8 7.8-1.2-7.8 1.2-.3 1.8 7.8-1.2-7.8 1.2M296.1 24.3l3.1-17.7 7.9-.9-7.9 .9-.3 1.7 7.9-.9-7.9 .9-.3 1.8 7.9-.9-7.9 .9-.3 1.8 7.8-.9-7.8 .9M-4.3 52.2l-13.4 12.1-6.7-4.2 6.7 4.2 1.3-1.2-6.7-4.2 6.7 4.2 1.4-1.3-6.8-4.1 6.8 4.1M15.8 52.9l-13.5 11.9-6.7-4.2 6.7 4.2 1.4-1.2-6.7-4.2 6.7 4.2 1.3-1.2-6.7-4.2 6.7 4.2M36 53.4l-13.7 11.7-6.6-4.2 6.6 4.2 1.4-1.1-6.6-4.3 6.6 4.3 1.4-1.2-6.7-4.3 6.7 4.3M56.2 53.7l-15.2 9.7-6-5.1 6 5.1 1.5-1-6-5.1 6 5.1 1.5-.9-3-2.6 3 2.6M76.3 53.9l-16.6 7-5-6.1 5 6.1 1.7-.7-5-6.1 5 6.1 1.7-.7-2.6-3.1 2.6 3.1M96.5 53.9l-18-.1-2.2-7.6 2.2 7.6 1.8 0-2.2-7.5 2.2 7.5 1.8 0-1.1-3.8 1.1 3.8M116.7 53.7l-14.4-10.9 2.8-7.3-2.8 7.3 1.4 1.1 2.8-7.4-2.8 7.4M136.8 53.4l-10.9-14.3 4.6-6.4-4.6 6.4 1.1 1.4 4.6-6.4-4.6 6.4M157 52.9l-4-17.6 6.9-3.9-6.9 3.9 .4 1.8 6.9-3.9-6.9 3.9 .4 1.7 6.9-3.8-6.9 3.8 .4 1.8 3.5-2-3.5 2M177.1 52.2l-2.8-17.8 7.1-3.4-7.1 3.4 .3 1.8 7.1-3.4-7.1 3.4 .3 1.8 7.1-3.4-7.1 3.4 .3 1.7 7.1-3.4-7.1 3.4M197.3 51.3l-2.2-17.8 7.2-3.2-7.2 3.2 .2 1.8 7.3-3.2-7.3 3.2 .2 1.7 7.3-3.1-7.3 3.1 .3 1.8 7.2-3.1-7.2 3.1M217.4 50.3l-1.5-17.9 7.3-2.9-7.3 2.9 .1 1.8 7.4-2.9-7.4 2.9 .2 1.8 7.3-2.9-7.3 2.9 .2 1.8 7.3-2.9-7.3 2.9 .1 1.8 3.7-1.5-3.7 1.5M237.6 49.1l-1.1-17.9 7.5-2.7-7.5 2.7 .2 1.8 7.4-2.7-7.4 2.7 .1 1.8 7.4-2.7-7.4 2.7 .1 1.8 7.4-2.7-7.4 2.7 .1 1.8 3.7-1.4-3.7 1.4M257.7 47.8l-.5-18 7.5-2.4-7.5 2.4 .1 1.8 7.5-2.4-7.5 2.4 0 1.8 7.5-2.4-7.5 2.4 .1 1.8 7.5-2.4-7.5 2.4 0 1.8 3.8-1.2-3.8 1.2M277.8 46.3l.6-18 7.6-2-7.6 2-.1 1.8 7.6-2-7.6 2 0 1.8 7.6-2-7.6 2-.1 1.8 7.6-2-7.6 2M297.9 44.6l1.1-18 7.7-1.8-7.7 1.8-.1 1.8 7.7-1.8-7.7 1.8-.1 1.8 7.7-1.8-7.7 1.8-.1 1.8 7.6-1.8-7.6 1.8M-5.1 72.7l-13.4 12-6.7-4.1 6.7 4.1 1.4-1.2-6.8-4.1 6.8 4.1 1.3-1.2-3.4-2 3.4 2M15.2 73.4l-13.4 12-6.7-4.1 6.7 4.1 1.4-1.2-6.7-4.1 6.7 4.1 1.3-1.2-3.3-2.1 3.3 2.1M35.6 73.9l-13.4 12-6.8-4.1 6.8 4.1 1.3-1.2-6.7-4.1 6.7 4.1M55.9 74.2l-13.6 11.8-6.7-4.3 6.7 4.3 1.3-1.2-6.6-4.2 6.6 4.2M76.2 74.4l-13.9 11.4-6.5-4.4 6.5 4.4 1.4-1.2-3.3-2.2 3.3 2.2M96.6 74.4l-18-.9-1.9-7.6 1.9 7.6 1.8 .1-1.9-7.6 1.9 7.6M116.9 74.2l-15.2-9.7 2.2-7.6-2.2 7.6 1.6 1 1-3.8-1 3.8M137.3 73.9l-12.8-12.7 3.8-7-3.8 7 1.3 1.2 3.7-6.9-3.7 6.9M157.6 73.4l-4.1-17.6 6.8-3.9-6.8 3.9 .4 1.8 6.8-3.9-6.8 3.9 .4 1.7 6.8-3.9-6.8 3.9 .4 1.8 6.9-3.9-6.9 3.9M177.9 72.7l-2.7-17.8 7.1-3.4-7.1 3.4 .2 1.8 7.2-3.4-7.2 3.4 .3 1.7 7.1-3.3-7.1 3.3 .3 1.8 7.1-3.4-7.1 3.4M198.2 71.8l-1.7-17.9 7.3-3-7.3 3 .2 1.8 7.3-3-7.3 3 .2 1.8 7.3-3-7.3 3 .1 1.8 7.3-3-7.3 3M218.6 70.8l-.9-18 7.4-2.6-7.4 2.6 0 1.8 7.5-2.6-7.5 2.6 .1 1.8 7.5-2.6-7.5 2.6 .1 1.8 7.5-2.6-7.5 2.6 .1 1.8 3.7-1.3-3.7 1.3M238.9 69.6l-.3-18 7.6 2.2-7.5 2.3M259.2 68.3l-1.6-18 7.4-2.9-7.4 2.9 .2 1.8 7.3-2.9-7.3 2.9 .1 1.8 7.4-2.9-7.4 2.9 .2 1.8 7.3-2.9-7.3 2.9 .1 1.8 3.7-1.4-3.7 1.4M279.4 66.7l-2.9-17.7 7.1-3.5-7.1 3.5 .3 1.7 7.1-3.4-7.1 3.4 .3 1.8 7-3.4-7 3.4 .3 1.8 7-3.5-7 3.5M299.7 65l-2.8-17.7 7.1-3.5-7.1 3.5 .3 1.7 7.1-3.4-7.1 3.4 .2 1.8 7.1-3.4-7.1 3.4 .3 1.8 7.1-3.4-7.1 3.4M-5.9 93.3l-13.3 12-6.8-4.1 6.8 4.1 1.3-1.2-6.7-4.1 6.7 4.1 1.3-1.2-3.3-2 3.3 2M14.6 94l-13.3 12-6.8-4.1 6.8 4.1 1.3-1.2-6.7-4.1 6.7 4.1M35.1 94.5l-13.3 12-6.8-4.1 6.8 4.1 1.3-1.2-6.7-4.1 6.7 4.1M55.6 94.8l-13.6 11.7-6.7-4.3 6.7 4.3 1.3-1.2-3.3-2.1 3.3 2.1M76.2 95l-14.2 11.1-6.4-4.6 6.4 4.6 1.4-1.1-3.2-2.3 3.2 2.3M96.7 95l-18-.9-1.9-7.7 1.9 7.7 1.8 .1-1-3.8 1 3.8M117.2 94.8l-15.1-9.8 2.2-7.6-2.2 7.6 1.5 1 1.1-3.8-1.1 3.8M137.7 94.5l-12.8-12.7 3.7-6.9-3.7 6.9 1.2 1.3 1.9-3.5-1.9 3.5M158.2 93.9l-4-17.5 6.9-3.9-6.9 3.9 .4 1.7 6.9-3.8-6.9 3.8 .4 1.8 6.9-3.9-6.9 3.9 .4 1.7 6.9-3.8-6.9 3.8M178.7 93.3l-2.7-17.8 7.2-3.4-7.2 3.4 .3 1.7 7.1-3.3-7.1 3.3 .2 1.8 7.2-3.3-7.2 3.3 .3 1.8 7.2-3.4-7.2 3.4M199.2 92.4l-1.6-17.9 7.3-2.9-7.3 2.9 .1 1.8 7.4-3-7.4 3 .2 1.8 7.3-3-7.3 3 .2 1.7 7.3-2.9-7.3 2.9M219.7 91.4l-.8-18 7.5-2.6-7.5 2.6 .1 1.8 7.5-2.6-7.5 2.6 .1 1.8 7.4-2.6-7.4 2.6 0 1.8 7.5-2.6-7.5 2.6 .1 1.8 3.8-1.3-3.8 1.3M240.1 90.2l0-18 7.6 2.2-7.6 2.3M260.6 88.8l-2.7-17.8 7.1-3.4-7.1 3.4 .2 1.8 7.2-3.4-7.2 3.4 .3 1.8 7.1-3.4-7.1 3.4 .3 1.7 7.1-3.3-7.1 3.3 .3 1.8 3.5-1.7-3.5 1.7M281.1 87.3l-6.4-16.9 6.3-4.8-6.3 4.8 .7 1.7 6.3-4.8-6.3 4.8 .6 1.7 6.3-4.8-6.3 4.8 .6 1.7 3.2-2.4-3.2 2.4M-6.6 114l-13.4 12-6.8-4.1 6.8 4.1 1.3-1.2-6.7-4.1 6.7 4.1M14 114.7l-13.3 12-6.8-4.1 6.8 4.1 1.3-1.2-6.7-4.1 6.7 4.1M34.7 115.2l-13.4 12-6.7-4.1 6.7 4.1 1.4-1.2-6.8-4.1 6.8 4.1M55.4 115.5l-13.9 11.5-6.5-4.4 6.5 4.4 1.4-1.2-3.3-2.2 3.3 2.2M76.1 115.7l-14.7 10.4-6.2-4.8 6.2 4.8M96.8 115.7l-18-.9-1.9-7.6 1.9 7.6M117.4 115.5l-14.9-10 2.3-7.5-2.3 7.5M138.1 115.2l-12.8-12.7 3.8-7-3.8 7 1.3 1.3 1.9-3.5-1.9 3.5M158.8 114.6l-3.8-17.6 6.9-3.8-6.9 3.8 .4 1.8 6.9-3.8-6.9 3.8 .3 1.8 7-3.8-7 3.8 .4 1.7 6.9-3.8-6.9 3.8M179.5 113.9l-2.6-17.8 7.1-3.3-7.1 3.3 .2 1.8 7.2-3.3-7.2 3.3 .3 1.8 7.1-3.3-7.1 3.3 .2 1.8 7.2-3.3-7.2 3.3M200.1 113.1l-1.5-18 7.3-2.9-7.3 2.9 .1 1.8 7.4-2.9-7.4 2.9 .2 1.8 7.3-2.9-7.3 2.9 .1 1.8 7.4-2.9-7.4 2.9 .2 1.8 3.7-1.4-3.7 1.4M220.8 112l-.7-17.9 7.4-2.6-7.4 2.6 0 1.8 7.5-2.6-7.5 2.6 .1 1.7 7.5-2.5-7.5 2.5 .1 1.8 7.5-2.5-7.5 2.5 .1 1.8 3.7-1.2-3.7 1.2M241.4 110.8l-.1-18 7.6 2.2-7.5 2.3M262.1 109.4l-4.4-17.4 6.8-4-6.8 4 .5 1.7 6.8-4-6.8 4 .4 1.8 6.8-4-6.8 4 .4 1.7 6.8-4-6.8 4M282.7 107.9l-10-15 5.1-6.1-5.1 6.1 1 1.5 5.1-6.1-5.1 6.1 1 1.5 5.1-6.1-5.1 6.1M-7.4 134.8l-17.8 3-3.4-7.1 3.4 7.1 1.8-.3-3.5-7.1 3.5 7.1M13.4 135.4l-17.9 1.1-2.7-7.5 2.7 7.5 1.8-.1-2.7-7.5 2.7 7.5M34.3 136l-17.9-1.7-1.6-7.8 1.6 7.8 1.7 .1-.7-3.8 .7 3.8M76 136.5l-13.4-12.1 3.4-7.1-3.4 7.1 1.4 1.2 1.7-3.5-1.7 3.5M96.8 136.5l-9.7-15.1 5.1-6-5.1 6 .9 1.5 2.6-3-2.6 3M117.7 136.3l-12.5-12.9 3.9-6.9-3.9 6.9 1.2 1.2 2-3.4-2 3.4M138.6 135.9l-11.6-13.8 4.4-6.5-4.4 6.5 1.2 1.4 2.2-3.3-2.2 3.3M159.4 135.4l-3.4-17.6 7-3.7-7 3.7 .3 1.7 7-3.6-7 3.6 .4 1.8 7-3.7-7 3.7 .3 1.8 7-3.7-7 3.7M180.3 134.7l-2.5-17.8 7.2-3.3-7.2 3.3 .2 1.8 7.2-3.3-7.2 3.3 .3 1.8 7.2-3.3-7.2 3.3 .2 1.7 7.2-3.2-7.2 3.2 .3 1.8 3.6-1.6-3.6 1.6M201.1 133.9l-1.7-18 7.4-2.9-7.4 2.9 .2 1.8 7.3-2.9-7.3 2.9 .2 1.8 7.3-2.9-7.3 2.9 .1 1.8 7.4-2.9-7.4 2.9 .2 1.8 3.7-1.5-3.7 1.5M221.9 132.8l-3.1-17.7 7.9 .9-7.1 3.5M242.7 131.6l-4.4-17.5 7.9 .4-6.8 4M263.6 130.2l-10-15 5.1-6.1-5.1 6.1 1 1.5 5-6.1-5 6.1 1 1.5 5-6.1-5 6.1 1 1.5 5-6.1-5 6.1 1 1.5 2.5-3-2.5 3M284.4 128.6l-15-10 2.3-7.5-2.3 7.5 1.5 1 2.3-7.5-2.3 7.5 1.5 1 2.3-7.5-2.3 7.5 1.5 1 1.1-3.7-1.1 3.7M-8.2 155.6l-1.1-17.9 7.4-2.7-7.4 2.7 .1 1.8 3.7-1.4-3.7 1.4M12.8 156.3l0-18 7.6-2.2-7.6 2.2 0 1.8 3.8-1.1-3.8 1.1M33.8 156.9l1.1-18 7.7-1.8-7.7 1.8-.1 1.8 3.9-.9-3.9 .9M54.9 157.2l2.1-17.9 7.7-1.3-7.7 1.3-.3 1.8 3.9-.7-3.9 .7M75.9 157.4l3-17.8 7.8-1-7.8 1-.3 1.8 3.9-.5-3.9 .5M96.9 157.4l3-17.8 7.8-.9-7.8 .9-.3 1.8 3.9-.5-3.9 .5M118 157.2l-10.2-14.9 5-6.1-5 6.1 1 1.5 2.5-3-2.5 3M139 156.8l-10.2-14.8 4.9-6.1-4.9 6.1 1 1.5 4.9-6.1-4.9 6.1M160 156.3l-3.1-17.7 7.1-3.5-7.1 3.5 .3 1.8 7.1-3.6-7.1 3.6 .3 1.7 7.1-3.5-7.1 3.5 .3 1.8 7.1-3.5-7.1 3.5 .4 1.8 3.5-1.8-3.5 1.8M181 155.6l-2.3-17.8 7.2-3.2-7.2 3.2 .3 1.7 7.2-3.2-7.2 3.2 .2 1.8 7.2-3.2-7.2 3.2 .2 1.8 7.2-3.2-7.2 3.2 .3 1.8 3.6-1.6-3.6 1.6M202.1 154.7l-2.1-17.9 7.3-3-7.3 3 .2 1.8 7.3-3.1-7.3 3.1 .2 1.8 7.3-3.1-7.3 3.1 .2 1.8 7.3-3.1-7.3 3.1 .2 1.8 3.7-1.5-3.7 1.5M223.1 153.7l-6.4-16.9 7.9-.5-6.3 4.7M244.1 152.4l-10.1-14.9 7.6-2.3-5.1 6M265 151l-15-9.9 6-5-2.2 7.5M286 149.5l-17.4-4.7-.2-7.9 .2 7.9 1.8 .5-.3-7.9 .3 7.9 1.7 .4-.2-7.8 .2 7.8 1.7 .5-.2-7.9 .2 7.9 1.8 .5-.1-4 .1 4M-9 176.6l0-18 7.6-2.2-7.6 2.2 0 1.8 3.8-1.1-3.8 1.1M12.2 177.3l.6-18 7.7-1.9-7.7 1.9 0 1.8 3.8-1-3.8 1M33.4 177.9l1.5-18 7.7-1.6-7.7 1.6-.2 1.8 3.9-.8-3.9 .8M54.6 178.2l2.3-17.9 7.7-1.2-7.7 1.2-.3 1.8 3.9-.6-3.9 .6M75.8 178.4l3.1-17.8 7.8-.9-7.8 .9-.3 1.8 3.9-.5-3.9 .5M97 178.4l3.2-17.8 7.8-.9-7.8 .9-.4 1.8 4-.4-4 .4M118.2 178.2l-10.2-14.8 4.9-6.2-4.9 6.2 1 1.5 2.5-3.1-2.5 3.1M139.4 177.8l-10.7-14.4 4.8-6.3-4.8 6.3 1.1 1.4 4.7-6.3-4.7 6.3M160.6 177.3l-5.4-17.2 6.6-4.4-6.6 4.4 .6 1.7 6.5-4.4-6.5 4.4 .5 1.8 6.6-4.4-6.6 4.4 .6 1.7 3.2-2.2-3.2 2.2M181.8 176.6l-6.8-16.7 6.2-4.9-6.2 4.9 .7 1.7 6.2-4.9-6.2 4.9 .7 1.7 6.1-5-6.1 5 .7 1.6 6.1-4.9-6.1 4.9M203 175.7l-8.2-16 5.7-5.5-5.7 5.5 .8 1.6 5.7-5.5-5.7 5.5 .8 1.6 5.7-5.5-5.7 5.5 .9 1.6 5.7-5.5-5.7 5.5 .8 1.6 2.8-2.7-2.8 2.7M224.2 174.6l-11.9-13.5 4.3-6.7-4.3 6.7 1.2 1.4 4.2-6.7-4.2 6.7 1.2 1.3 4.2-6.7-4.2 6.7 1.2 1.4 4.2-6.7-4.2 6.7 1.2 1.3 2.1-3.3-2.1 3.3M245.4 173.4l-14.5-10.6 6.3-4.8-2.7 7.4M266.5 172l-17-5.8 4.6-6.5-.3 7.9M287.7 170.4l-17.9-2.2 3.2-7.2 1.3 7.8M-9.8 197.7l0-18 7.6-2.2-7.6 2.2 0 1.8 3.8-1.1-3.8 1.1M11.6 198.4l.6-18 7.6-2-7.6 2-.1 1.8 3.9-1-3.9 1M33 199l1.4-18 7.7-1.6-7.7 1.6-.1 1.8 3.8-.8-3.8 .8M54.4 199.3l2.2-17.9 7.8-1.2-7.8 1.2-.2 1.8 3.9-.6-3.9 .6M75.7 199.5l3.1-17.8 7.8-.9-7.8 .9-.3 1.8 3.9-.5-3.9 .5M97.1 199.5l3.1-17.8 7.8-.9-7.8 .9-.3 1.8 3.9-.4-3.9 .4M118.5 199.3l-10.3-14.7 4.9-6.2-4.9 6.2 1 1.4 4.9-6.2-4.9 6.2M139.9 198.9l-11.5-13.8 4.4-6.6-4.4 6.6 1.1 1.4 4.4-6.6-4.4 6.6M161.3 198.4l-10.6-14.6 4.8-6.2-4.8 6.2 1.1 1.5 4.8-6.3-4.8 6.3M182.6 197.7l-13.3-12.2 3.5-7.1-3.5 7.1 1.4 1.3 3.4-7.1-3.4 7.1 1.3 1.2 3.4-7.1-3.4 7.1M204 196.8l-14.7-10.5 2.6-7.4-2.6 7.4 1.5 1.1 2.6-7.5-2.6 7.5 1.5 1 2.5-7.4-2.5 7.4 1.4 1.1 2.6-7.5-2.6 7.5M225.3 195.7l-16.3-7.6 1.2-7.8-1.2 7.8 1.7 .8 1.1-7.8-1.1 7.8 1.6 .7 1.2-7.8-1.2 7.8 1.6 .8 1.2-7.8-1.2 7.8 1.7 .7 .5-3.9-.5 3.9M246.7 194.5l-17.3-5.2 4.4-6.6 0 7.9M268 193l-17.8-2.4 3.2-7.2 1.2 7.8M289.3 191.4l-17.9-.6 2.5-7.4 2 7.6M-10.6 218.9l0-18 7.6-2.3-7.6 2.3 0 1.8 3.8-1.1-3.8 1.1M11 219.6l.6-18 7.6-2-7.6 2-.1 1.8 3.8-1-3.8 1M32.5 220.1l1.4-17.9 7.8-1.7-7.8 1.7-.1 1.8 3.9-.8-3.9 .8M54.1 220.5l2.2-17.9 7.8-1.3-7.8 1.3-.2 1.8 3.9-.6-3.9 .6M75.7 220.7l3-17.8 7.8-.9-7.8 .9-.3 1.8 3.9-.5-3.9 .5M97.2 220.7l-.6-18 7.5-2.5-7.5 2.5 .1 1.8 3.7-1.3-3.7 1.3M118.8 220.5l-12.8-12.6 3.7-7-3.7 7 1.2 1.2 1.9-3.5-1.9 3.5M140.3 220.1l-13.8-11.5 3.1-7.3-3.1 7.3 1.4 1.1 3.1-7.2-3.1 7.2M161.9 219.6l-14-11.4 3-7.3-3 7.3 1.4 1.2 3-7.3-3 7.3 1.4 1.1 1.5-3.6-1.5 3.6M183.4 218.9l-15-9.9 2.2-7.6-2.2 7.6 1.5 1 2.2-7.6-2.2 7.6 1.5 1 2.3-7.6-2.3 7.6 1.5 1 1.1-3.8-1.1 3.8M205 218l-15.8-8.6 1.6-7.8-1.6 7.8 1.5 .8 1.7-7.7-1.7 7.7 1.6 .9 1.7-7.7-1.7 7.7 1.6 .8 1.6-7.7-1.6 7.7M226.5 216.9l-16.8-6.5 .7-7.9-.7 7.9 1.7 .6 .6-7.9-.6 7.9 1.7 .7 .6-7.9-.6 7.9 1.7 .6 .6-7.8-.6 7.8 1.6 .7 .4-4-.4 4M248 215.6l-17.5-4.3 4-6.8 .4 7.9M269.5 214.2l-17.9-1.5 2.9-7.4 1.6 7.8M-11.4 240.2l0-18 7.6-2.3-7.6 2.3 0 1.8 3.8-1.1-3.8 1.1M10.4 240.9l.5-18 7.6-2-7.6 2 0 1.8 3.8-1-3.8 1M32.1 241.4l1.4-17.9 7.7-1.7-7.7 1.7-.2 1.8 3.9-.8-3.9 .8M53.8 241.8l2.3-17.9 7.7-1.3-7.7 1.3-.3 1.8 3.9-.6-3.9 .6M75.6 242l3-17.8 7.8-.9-7.8 .9-.3 1.8 3.9-.5-3.9 .5M97.3 242l-5.9-17 6.4-4.6-6.4 4.6M119 241.8l-16.2-7.7 1.2-7.8-1.2 7.8M140.8 241.4l-15.6-9 1.8-7.6-1.8 7.6 1.5 .9 1.9-7.6-1.9 7.6M162.5 240.9l-15.7-8.9 1.8-7.7-1.8 7.7 1.6 .9 1.8-7.7-1.8 7.7 1.6 .9 1.7-7.7-1.7 7.7M184.2 240.1l-16.1-8 1.4-7.8-1.4 7.8 1.7 .8 1.3-7.8-1.3 7.8 1.6 .8 1.4-7.8-1.4 7.8 1.6 .8 .7-3.9-.7 3.9M205.9 239.2l-16.3-7.4 1-7.8-1 7.8 1.6 .7 1.1-7.8-1.1 7.8 1.6 .8 1.1-7.8-1.1 7.8 1.7 .7 1.1-7.8-1.1 7.8M227.7 238.2l-16.8-6.6 .7-7.9-.7 7.9 1.7 .6 .6-7.8-.6 7.8 1.6 .7 .7-7.9-.7 7.9 1.7 .6 .7-7.8-.7 7.8 1.7 .7 .3-3.9-.3 3.9M249.4 236.9l-17.4-4.7-.2-7.9 .2 7.9 1.7 .5-.2-7.9 .2 7.9 1.8 .4-.2-7.9 .2 7.9 1.7 .5-.2-7.9 .2 7.9 1.7 .5-.1-4 .1 4M-12.2 261.6l0-18 7.6-2.3-7.6 2.3 0 1.8 3.8-1.2-3.8 1.2M9.7 262.3l.6-18 7.6-2-7.6 2-.1 1.8 3.8-1-3.8 1M31.7 262.8l1.3-17.9 7.7-1.7-7.7 1.7-.1 1.8 3.8-.8-3.8 .8M53.6 263.2l2.2-17.9 7.8-1.3-7.8 1.3-.2 1.8 3.8-.6-3.8 .6M75.5 263.4l3-17.8 7.9-.9-7.9 .9-.3 1.8 3.9-.5-3.9 .5M97.4 263.4l-8.6-15.9 5.6-5.5-5.6 5.5M119.3 263.2l-16.3-7.7 1.2-7.8-1.2 7.8M141.2 262.8l-15.6-9 1.9-7.7-1.9 7.7 1.6 .9 1.8-7.7-1.8 7.7M163.1 262.3l-15.7-8.9 1.8-7.7-1.8 7.7 1.6 .9 1.8-7.7-1.8 7.7 1.6 .9 1.7-7.7-1.7 7.7M185 261.5l-16.1-8 1.4-7.8-1.4 7.8 1.6 .8 1.4-7.8-1.4 7.8 1.6 .8 1.4-7.8-1.4 7.8 1.7 .8 .6-3.9-.6 3.9M206.9 260.6l-16.4-7.3 1-7.8-1 7.8 1.6 .7 1.1-7.8-1.1 7.8 1.7 .7 1-7.8-1 7.8 1.6 .8 1.1-7.8-1.1 7.8M228.8 259.5l-16.7-6.5 .6-7.9-.6 7.9 1.6 .6 .7-7.8-.7 7.8 1.7 .7 .7-7.9-.7 7.9 1.7 .6 .6-7.8-.6 7.8 1.7 .7 .3-3.9-.3 3.9"/><path fill="#000" stroke="#000" stroke-width="1" d="M238.6 51.6l7.6 2.2-7.5 2.3zM240.1 72.2l7.6 2.2-7.6 2.3zM241.3 92.8l7.6 2.2-7.5 2.3zM218.8 115.1l7.9 .9-7.1 3.5zM238.3 114.1l7.9 .4-6.8 4zM216.7 136.8l7.9-.5-6.3 4.7zM234 137.5l7.6-2.3-5.1 6zM250 141.1l6-5-2.2 7.5zM230.9 162.8l6.3-4.8-2.7 7.4zM249.5 166.2l4.6-6.5-.3 7.9zM269.8 168.2l3.2-7.2 1.3 7.8zM229.4 189.3l4.4-6.6 0 7.9zM250.2 190.6l3.2-7.2 1.2 7.8zM271.4 190.8l2.5-7.4 2 7.6zM230.5 211.3l4-6.8 .4 7.9zM251.6 212.7l2.9-7.4 1.6 7.8z"/><circle cx="55.1" cy="136.3" r="2.7" fill="none" stroke="#000" stroke-width="1.3"/><path d="M137.25 105.3h6.6" stroke="#222" stroke-width="2.3"/><path d="M140.55 102.5v5.6" stroke="#222" stroke-width="1.8"/></g><rect x="0" y="0" width="283.1" height="258.8" fill="none" stroke="#000" stroke-width="1.1"/><path d="M0.5 0.5h4.5a4.5 4.5 0 0 1-4.5 4.5z" fill="#000"/></g><text x="213.1" y="362.4" font-size="17.4" text-anchor="middle">CSU WRF member 1</text><g transform="translate(552 369.8)"><g clip-path="url(#pc)"><rect x="1.8" y="0.3" width="280.3" height="254.9" fill="#824b09"/><path fill="#995d13" d="M3.8 .3l278.3 0 0 254.9-280.3 0 0-254.9 2 0zM116.9 118.7l-1 .3-2 .8-2.1 .9-3.9 2.2-2.6 1.8-2.5 2-2 2.1-1.5 2-1.4 2.6-.5 1.4-.5 2-.3 2-.1 2 .1 4 .4 4 .9 7.4 .1 2.7 0 4-.4 4-.7 4-1 3.6-.9 2.4-1.9 4-3.1 6.1-.7 2-.6 2-.4 2-.1 2 .1 2 .4 2 .5 2 .7 2 .9 2 1.1 2.1 2 3.1 2 2.8 0 .1 2 2.3 2 2.2 2 1.9 2 1.6 2 1.2 2 1 2 .7 2 .5 2 .3 2 0 2-.1 2-.2 2-.5 2.5-.9 1.5-.7 2-1.4 2-2 1.2-1.9 .9-2 .4-2 .3-2.1 .3-4-.1-4-.5-6-1.4-16.1-.3-6-.1-8 .1-10 .4-16.1-.2-4-.3-4-.6-4-.5-2.1-.7-2-1-2-1.9-2.5-2.3-1.5-1.7-.5-2-.1-2 .3-1 .3z"/><path fill="#ad7021" d="M3.8 .3l278.3 0 0 254.9-145.3 0 1.1-.7 2-1.3 2.4-2 1.9-2 3.2-4 2.6-4.2 .7-1.9 .6-2 .3-2-.1-2-.5-2-1-2.2-.9-1.8-1.2-2-2.5-6-1.8-6-1.9-8.1-1.3-6-1.7-10-.8-6.2-.5-5.9-.3-6-.2-8 .1-8.1 .4-10 .5-12.6 .1-5.5-.2-6-.4-6-.7-6-.8-6-1.5-6.1-.5-2-2-4.2-2-2.7-2-1.5-2-.8-2 0-2 .7-2 1.3-2 1.9-4 5.3-3 4-3 3.4-.6 .7-2.3 2-2.7 2-2.4 1.4-4.9 2.6-3.1 1.7-2 1.3-2 1.5-2 1.9-2 2.3-1 1.3-1.2 2-1 2-.8 2-1.3 4.1-.9 4-2.5 12-1.2 4-.8 2-1.3 2.9-1.8 3.2-3.6 6-1.1 2-1.9 4-1.7 4-2 6-5.4 18.1-2.2 6-2.3 6.8-.4 1.3-.5 2-.3 2-.2 2-.1 2 .1 2 .3 2 .5 2 .6 2.1 .7 1.9 1.3 2.5 2 2.7 2 1.9 2 1.4 2 1 2 .7 2 .5 8 1.6 2 .7 2 1.1 2.1 2 1.5 2 1 2 .5 2-.4 2-78.8 0 0-254.9 2 0zM87.5 8.3l-1.6 1.3-2.4 2.7-1.6 2.5-2 4.6-.9 3-.9 4-.3 2-.4 4-.2 4 0 4 .2 4.1 .5 5 .5 3 .8 4 .7 2.8 1.1 3.2 .9 2.5 2 3.9 2 2.7 2 1.8 2.3 1.2 1.7 .5 2 .1 2-.1 3-.5 3-.8 10-2.7 2-.7 2-1.1 2-1.5 1.2-1.3 1.4-2 1-2 .6-2 .4-2 0-2-.3-2-.6-2-1.1-2-3.2-4-7.8-8.1-1.7-2-1.9-2.3-2.6-3.7-2.3-4-1.8-4-1.7-4-3.8-10.1-1.8-1.7-2 .3-2 1.1-.4 .3zM209.7 26.4l-1.8 2-.9 2-1 3-.2 1-.3 2-.2 2 .1 2 .2 2 .7 2.1 1.7 2.1 2 1 2 .4 2 .1 2-.2 2-.3 2-.5 2-.7 2-1.2 1.1-.7 .9-.9 1-1.2 1-2.1 .3-1.9-.3-2.3-.6-1.7-1.4-2.2-2-2.1-2.1-1.7-1.9-1.2-2-1-2-.7-2-.4-2 .1-2 .9-.3 .3z"/><path fill="#c28633" d="M3.8 .3l74.1 0-2 4.3-1.4 3.7-.6 2-1 4-1 4.9-.8 5.2-.6 6-.3 6-.1 6 .1 6.1 .4 6 .8 8 1.3 12.1 .3 4 0 4-.1 4-.5 4-.8 4-1.2 4-2.5 7-1.8 5.1-1.1 4-1.1 4.8-2 9.5-1.1 3.8-1.4 4-1.7 4-4.6 10-1.5 4-1.2 4.1-1 4-2.9 12-1.2 4-1.5 4-.8 2.1-2.2 4-1.2 2-1.8 2.4-2.9 3.6-3.8 4-3.7 4-1.7 2-1.3 2-1 2-.7 2.1-.5 2-.2 2 0 2 .2 2 .4 2 1.1 4 2.1 6.1 2.1 5.9 1.1 4.1 .8 4 .2 2 .1 2-.3 2.3-.5 1.7-27.5 0 0-254.9 2 0zM123.9 1.7l.4-1.4 15.6 0-4 2.6-6 4.6-2 1.1-2 .2-.8-.5-1.2-1.2-.2-.8-.2-2 .4-2.6zM196 .3l15.8 0-1.8 .6-2 .5-4 .5-4 .1-2-.1-2-1.3-.1-.3 .1 0zM254.1 1.6l2.7-1.3 25.3 0 0 254.9-112.5 0-.4-4-.6-8-.7-10.1-.7-6-.7-4-.8-4-1.2-4-.7-2-.9-2.1-1-2-1.9-3-2-2.2-2-1.2-2-.1-2.8 .5-1.2 .2-2-.8-2-2.7-1.1-2.7-.9-2.7-.9-3.3-.8-4-.6-4.1-.7-6-.4-6-.3-6 0-8 .2-8.1 .6-10 .7-14.1 .4-14 .3-8 .5-6.1 .5-4 .5-2.4 1-3.6 1-2.5 2-2 2 .2 2 1.6 2 2 2 1.5 2 .5 2-.4 4-1.4 2-.5 2-.3 2-.1 2 .1 2 .2 2 .4 4 1.1 4 1.3 2 .5 2 .3 2 0 2-.3 2-.5 2-.9 2-1.3 2-1.7 2-2.2 2.5-3.6 2.1-4 3.2-6.1 1.2-2 1.5-2 1.8-2 2.3-2 2.9-2 2.5-1.5 8.5-4.5 2.8-2 2.2-2 1.6-2 1.3-2 .9-2.1 .8-2 .4-2 .3-2 .1-2 0-2-.3-2-.5-2.9-.4-1.1-.7-2-.9-2.2-4.1-7.9-.6-2 .1-2 .5-.9 .9-1.1 1.2-.6 3.1-1.4 6.9-1.9 2-.6 4-1.4 2-.8zM186 4.2l2-.1 2 .1 .9 .1 1.1 .5 .8 1.5 .1 2-.2 2-.8 4-1.2 4.1-.7 2-1 2-1.3 2-1.8 2-1.9 1.3-2.1 .7-2.2 0-1.7-.5-2.4-1.5-1.8-2-1.2-2-.9-2-.5-2-.3-2-.1-2.1 .3-2 .9-2.2 1.3-1.8 .7-.6 2.2-1.4 1.8-.7 2-.5 2-.5 2.3-.3 1.7-.1z"/><path fill="#cfa256" d="M3.8 .3l67.1 0-1.3 4-1 4-.9 4-1 6.1-.8 6.4-.8 7.6-.5 8-.2 6.1 0 6 .3 8 .3 8-.1 4.1-.2 4-.5 4-.5 2-.5 2-1.3 3.6-1.1 2.4-1.1 2-1.8 2.9-2.3 3.1-3.7 4.5-3.1 3.6-6.2 8-2.8 4.3-.9 1.7-1.1 2.6-.5 1.4-.5 2-.3 2.1-.1 2 .1 4 1.1 14 .1 4-.1 4.1-.2 4-.5 4-.7 4-.9 4-1.3 4-.9 2-1.3 2.5-.9 1.5-1.3 2.1-1.8 2.1-2 2.3-2 1.9-4.1 3.7-7 6-2.9 3.1-.8 .9-1.5 2-1.7 2.9-.6 1.1-.8 2.1-.7 2-1 4-.9 4.6 0-.6 0-222.8 2 0zM274.1 1l.8-.7 7.2 0 0 254.9-95.2 0-.4-2-1-4-2.2-6-1.4-4.1-1.7-6-.9-4-4-18.1-1.3-4.1-1.6-3.9-1-2-1.4-2.3-2-2.8-2.4-2.9-3.8-4-1.8-1.7-2-1.3-2-.1-2.1 1.1-1.9 1.4-2 1.1-2-.7-2-3.5-.7-2.4-.9-4-.6-4-.5-6-.3-6 0-6 .2-6.1 .5-8 .6-6 1.8-14.1 1.9-7.2 2 1.9 4 17.4 2 4.9 2 2.1 2-.2 2-1.2 6-4.5 4.6-3.1 2.6-2 2.2-2 1.7-2.1 1.5-2 1.4-2.2 4.3-7.8 2.7-4 3.2-4 9.8-11 2.2-3.1 2.3-4 2-4 4.7-10 1.2-2 1.6-2.6 2-2.5 2-2.1 2-1.7 2-1.4 4-2.5 6-3.4 3-1.9 3.1-2.4 2-2 2-2.5 .7-1.1 1.3-2.2 .9-1.9 1.5-4 1.2-4 2.7-10 .7-2 1-2.1 1.1-1.9 1.5-2 1.9-2.1 3.5-3.1 12-10.2z"/><path fill="#dcbc75" d="M3.8 .3l61.4 0-.9 4-1.1 6-1.3 9.4-1.6 12.7-1.3 12.1-.5 6-.2 6-.3 12-.4 4.1-.4 2-.4 2-.9 2.9-.5 1.1-1.5 3-.7 1-1.5 2-1.9 2-2.4 2-1.6 1.1-4 2.4-10 5-2.5 1.6-2.6 2-.9 .7-2 2.3-.6 1-1.4 2.4-.7 1.6-.7 2-.6 2.3-.6 3.7-.3 4 .1 4 .4 4.1 .8 4 1.1 4 1.9 6 1.2 4 .9 4 .6 4.1 .2 4-.3 4-.3 2-.4 2-.6 2-.7 2-.8 2-1.2 2.2-2 3.1-.6 .7-1.7 2-2 2.1-3.7 3.1-10 8 0-195.8 2 0zM282.1 4.7l0 250.5-80.8 0 .7-2 .5-2 .3-2 .1-2-.2-2-.7-2.7-.5-1.3-1.5-3-.6-1.1-3.4-5-2-3-2.3-4-1.8-4-1.5-4-1.1-4-1.3-5.6-.8-4.5-1.8-10-1.4-6-1.2-4.1-.8-2.2-4.1-9.8-.6-2-.3-2 .1-2 .5-2 .9-2 1.5-2.5 1-1.5 1.4-2.1 5.6-7.4 5.6-8.6 1.1-2 2-4 1.7-4 2.1-6.1 2.7-8 2.8-6.9 1.3-3.1 1.9-4 1.7-4.1 2.5-6 4.9-12 1.7-3.2 .5-.8 1.5-2.2 2-2.4 2-2 2-1.7 2.6-1.8 3.4-2 8.1-4.7 2-1.3 2.5-2 2.2-2 1.8-2 1.5-2 2-3.1 1.6-3 6-12 1.2-2 1.3-2 1.9-2.5 3-3.5 13.2-14.1 1.8-1.6zM148 146.4l2 1.5 .7 2.9 .8 4 .4 4.1 .1 3.9 0 .1-.2 2-.3 2-.5 2-1 2.7-2-.5-.5-2.2-.7-4-.3-4 0-4 .3-4.1 .6-4 .6-2.4z"/><path fill="#e7cf94" d="M3.8 .3l56 0-2.8 22.1-1.3 8-1.9 10-2.5 12.1-1 6-.6 4-.8 4-1.1 3.8 0 .2-1 2.1-1.2 2-1.9 2-1.9 1.3-2 1-2 .6-2 .3-2 .1-2-.2-2-.4-2.2-.7-1.8-.9-2-1.3-7.5-5.9-.5-.2-2-.9-2-.5-2 .1-2 .5-2 1-2.3 2.1-1.7 2 0-74.3 2 0zM282.1 14.7l0 240.5-66.7 0 .7-2 .5-2 .3-2 .2-2 0-2-.1-2-.2-2-.3-2.1-.5-2-.6-2-1.4-3.1-.4-.9-1.6-2.5-2-2.6-2.5-2.9-3.5-4-2-2.8-.8-1.2-1.2-2.2-.8-1.9-1.2-3.5-.1-.5-.4-2-.5-4-.1-4 .1-4 .9-14.1 0-6-.2-6 .2-4 .3-4 .8-4.1 1-4 4.6-16 1.4-6 2.1-10.1 1.5-6 2.2-8 3.2-10.1 2.6-8 1.5-4 .9-2.2 .9-1.8 1.2-2 1.9-2.7 2-2.2 2-1.8 2-1.6 4-2.5 10.1-5.6 2.5-1.7 2.7-2 2.8-2.6 2-2.2 2-2.6 1.8-2.6 6.3-10.1 2.9-4 3-3.6 9.2-10.4 2.8-3.7zM3 96.6l2 4.1 1.6 4 1.2 4 .8 4 .7 4 .9 8 1.8 16.1 1.6 12 .3 4.1-.1 3 0 1-.3 2-.4 2-.6 2-.8 2-1 2-1.2 2-1.7 2.1-2 2-2.4 1.9-1.6 1.1 0-85.4 1.2 2z"/><path fill="#f1dfb3" d="M3.8 .3l50.6 0-.1 4-.4 6-.7 6.1-1 6-.9 4-1.4 5.7-1.5 4.3-.8 2-2 4-1.8 2.8-2 2.5-2 1.8-2 1.2-2 .9-2 .5-2 .1-2 0-4-.4-6-1.1-4-.8-4-.6-4-.4-2 .1-2 .3-2 .8 0-49.8 2 0zM282.1 27.1l0 228.1-51.4 0-.1-6 .2-6 .4-6.1 .6-6 .9-6 1.4-8 .2-2 0-2-.3-2.1-.8-2-1.6-2-1.6-1.1-2-1-4-1.9-2-1.1-2-1.6-1.1-1.3-1.2-2-.7-2-.5-2-.5-3.1-.2-2.9-.8-12.1-1-8.4-1-9.6-.4-6.1-.1-6 .1-6 .3-6 .5-6.1 .8-6 1-6 1.2-6 2.3-10.1 1.5-6 1.1-4 1.4-4 1.3-3.2 .5-.8 1.5-2.7 1-1.3 1.8-2 2.2-2 2.7-2.1 2.4-1.3 4.9-2.7 5.1-2.6 4-2.4 2-1.4 2-1.6 2.3-2 2-2 1.8-2 3.1-4 3-4 3.8-4.8 4-4.4 6.9-6.9 1.1-1.3zM2.4 116.7l1.1 4 .7 4 .5 4.1 .2 4 0 4-.3 4-.5 4-.4 2-.5 2-.7 2-.7 1.6 0-37.5 .6 1.8z"/><path fill="#f6eacb" d="M3.8 .3l44.5 0 .3 2 .2 4-.1 4-.4 4-.7 4.1-1 4-.8 2.3-1.4 3.7-1.1 2-1.5 2.4-2 2.5-2 1.8-2 1.3-2 1-2 .6-2.4 .4-1.6 .2-2 0-2.9-.2-1.1-.1-2-.3-2-.5-3.5-1.1-.5-.2-2-.9-2-1.2-2-1.7-2-2.5-.8-1.5-1.2-2.8-.9-3.2-1.1-5.6 0-18.5 2 0zM280.1 41.5l2-1 0 128.8-.1-.4-.4-2-.7-2-.8-2.1-1.2-1.9-.8-1-1-1-1-.9-2-1.3-2-.8-2-.5-2-.4-2-.2-4.2 0-3.8 .4-6 1-8 1.2-2 .2-2 .1-2-.2-2-.4-2.1-.6-2-.9-2-1.4-2-1.8-2-2.3-.8-1.3-1.2-2-.9-2-1.1-2.6-.9-3.4-.7-4-.4-4-.1-4.1 .2-4 .3-4 .8-6 1.3-8 1.8-10.1 1-4 1.2-4 1.5-3.7 .2-.3 1.8-3 .8-1 1.9-2 2.5-2 2.9-1.8 2-1.1 4-2 6.6-3.2 3.6-2 3-2 2.8-2.1 2.1-1.9 3.9-4.1 6-6.5 2-2 2-1.7 2.5-1.8 1.5-.9zM282.1 180.2l0 75-39.7 0 1.3-4 2.4-6.5 .6-1.5 1.9-4.1 2.2-4 4.1-6 3.2-4.3 2.6-3.7 1.5-2 5.9-8.7 .8-1.4 1.3-2 5.9-10.1 .9-1.9 1.1-2 2.4-6 1.1-4.1 .5-2.7z"/><path fill="#f5f0e0" d="M5.8 .3l34.9 0 .8 2 .6 2 .3 2 .1 2-.1 2-.2 2-.4 2.5-.3 1.6-.7 2-1 2.5-.7 1.5-1.3 2-2 2.3-2 1.7-2 1.1-2.2 .9-1.8 .4-2 .3-2 0-2-.3-2-.4-2-.7-2.5-1.3-1.5-1.1-2-1.9-.8-1-1.3-2-1-2-.9-2.1-1.2-4-.9-4-1.9-10 2 0zM282.1 51.9l0 95.4-2-1-2-.8-2.7-.7-1.3-.2-4-.4-4-.1-6 .3-8 .5-4 0-4-.2-2-.3-2-.4-2-.6-2-.9-2.6-1.7-2-2-1.5-2-1-2-1-2.3-.5-1.7-.4-2-.3-2.1-.2-4 .1-4 .3-4 .9-8 1.3-10.1 .8-4.3 1.1-3.7 .9-2.4 .8-1.6 1.3-2 2-2.3 2-1.7 3-2 3-1.5 4-1.7 8-3.4 4-2.1 2.1-1.4 2.8-2 3.1-2.6 6-5.5 2.5-1.9 1.5-1 2.2-1 1.8-.6zM282.1 197.3l0 57.9-35.6 0 3.1-6 2.5-4.3 .9-1.7 1.3-2 2.4-4.1 1.4-2 2.5-4 1.5-2.1 1.1-1.9 1.4-2 1.5-2.2 1.1-1.8 1.3-2 3.6-5.5 1.6-2.6 .4-.6 .8-1.4 1.3-2 2.4-4 1.5-2.3 .9-1.7 1.1-1.7z"/><path fill="#f4f5f5" d="M15.8 1.2l1.3-.9 9.4 0 1.3 .6 2.3 1.4 1.7 2 .9 2 .5 2 0 2-.4 2-1 2.6-1 1.5-1 1-2 1.4-2 .7-2 .1-2-.3-2.3-.9-1.7-1.3-.7-.7-1.5-2.1-.9-2-.7-2-.3-2-.1-2 .3-2 .9-2 1-1.1zM282.1 61.5l0 74.2-2-.6-2-.4-2-.2-4-.2-4 .2-12 .7-4 0-4-.4-2-.4-2-.6-2.4-1-1.6-1.1-1.1-.9-.9-1-.8-1-1.2-2.4-.6-1.7-.4-2-.3-2-.1-4 .2-4 1.3-14.1 .6-4 .5-2 .8-2.3 .8-1.7 1.2-2 2-2.1 2.5-1.9 1.5-.8 2.4-1.2 3.6-1.3 4-1.2 4.5-1.5 1.5-.6 3-1.4 1-.5 2.3-1.5 2.5-2.1 3.2-2.8 3.5-3.2 .5-.3 2.3-1.7 1.7-1zM282.1 201.4l0 53.8-33.5 0 5.8-10 5-8.1 2.7-4.1 1.1-1.9 1.3-2 3.9-6 7.8-12.1 2.4-4 3.5-5.6z"/><path fill="#e2f0ee" d="M282.1 72l0 47.4-4-1.9-2-.6-4-.6-2 0-3.5 .4-4.5 .6-2 0-2-.2-1.3-.4-.7-.4-1.6-1.6-.6-2 0-2 .4-2 .9-2 1.2-2 1.9-2 1.8-1.2 2-1 2-.9 2-1.2 2-1.8 2-2.5 3-5.5 1-2 1.8-4 .2-.3 .8-1.7 2.1-4 2.6-4 .5-.6zM282.1 204l0 51.2-32 0 2.3-4 4.9-8 2.8-4.4 .9-1.7 1.4-2 6.3-10 1.4-2 2.5-4 3.8-6 5.7-9.1z"/><path fill="#ceece8" d="M282.1 205.9l0 49.3-30.9 0 2.9-4.7 .7-1.3 1.3-2 2.4-4 21.7-34.2 1.9-3.1z"/><path fill="#b4e2db" d="M282.1 207.6l0 47.6-29.8 0 2.3-4 13.9-22.1 11.6-18.3 2-3.2z"/><path fill="#98d7cd" d="M282.1 209l0 46.2-29 0 5-8.1 2.4-3.9 12.7-20.1 2.9-4.5 3.4-5.5 2.6-4.1z"/><path fill="#79c8bc" d="M282.1 210.3l0 44.9-28.2 0 4.2-6.8 3.2-5.2 5.1-8.1 15.7-24.8z"/><path fill="#58b0a7" d="M282.1 211.5l0 43.7-27.4 0 7.4-12 5-8.1 5.2-8 9.8-15.6z"/><path fill="#3b9b93" d="M282.1 212.7l0 42.5-26.7 0 10.7-17.2 16-25.3z"/><path fill="#23867e" d="M282.1 213.8l0 41.4-26 0 6.2-10 7.8-12.4 12-19z"/><path fill="#0c7169" d="M282.1 214.9l0 40.3-25.3 0 5.3-8.6 20-31.7z"/><path fill="#015f56" d="M282.1 216.1l0 39.1-24.6 0 4.6-7.4 9.2-14.7 10.8-17z"/><path fill="#004c42" d="M282.1 217.3l0 37.9-23.8 0 8.7-14 5.1-8.1 5.1-8 4.9-7.8z"/><path fill="#003c30" d="M282.1 218.6l0 36.6-23 0 3-4.9 3.2-5.1 2.8-4.5 3.5-5.6 2.5-4 5.2-8 2.8-4.5z"/><path fill="#73a9cf" d="M282.1 220l0 35.2-22.2 0 2.2-3.5 2.8-4.5 1.2-2 2.6-4 3.8-6.1 9.6-15.1z"/><path fill="#62a2cb" d="M282.1 221.6l0 33.6-21.1 0 1.1-2 2.5-4 3.8-6 13.7-21.6z"/><path fill="#509ac6" d="M282.1 223.6l0 31.6-20 0 2.5-4 3.7-6 2.6-4 1.2-2.1 2.6-4 1.4-2.2 2.5-3.8 3.5-5.5z"/><path fill="#3f93c2" d="M282.1 226.2l0 29-18.5 0 1.3-2 1.2-2.1 2.5-3.9 3.8-6 9.7-15z"/><path fill="#2f8bbe" d="M282.1 230.4l0 24.8-16.2 0 .2-.3 1.1-1.7 1.1-2 9.8-14.9 .8-1.2 1.3-2 1.9-2.7z"/><path fill="#2182b9" d="M278.1 248.5l2-.7 1.5 1.4 .5 1.3 0 4.7-9.6 0 1.6-2.6 2-2.4 2-1.7z"/><path fill="none" stroke="#000" stroke-width="1.7" stroke-linejoin="round" d="M.3 22.3l2.1 .3 2.1 .2 1.8 .8 1.8 .5 1.9 .5 1.6-.1 1.6-.2 1.7 .2 1.6-.3 1.7-.1 1.8 .4 1.8 .1 1.7-.6 1.7 .1 1.6 .7 1.7 0 1.7 .3 1.6 .6 1.7-.2 1.8-.1 1.7 .3 1.7 .2 1.5 1.2 1.7 .3 1.8 0M48.4-.5l-.2 1.6-.6 1.6 .5 1.7-.6 1.6-.1 1.7-.2 1.6-.4 1.6-.4 1.6-.4 1.6-.4 1.6-.2 1.6-.5 1.6 .2 1.7-1 1.5 .7 1.8-1 1.5-.1 1.6 1.2 1.8 1 1.8 1.2 1.8-.8 1.8-1.2 1.4-1.7 1.2-.9 1.7-1.5 1.2-.4 2-1.4 1.3-.9 1.6 .1 1.7 .4 1.6 .9 1.4 .1 1.7-.3 1.6-.5 1.6-1.1 1.4 .5 1.8-.6 1.5-1 1.5 .2 1.7-.5 1.6 0 1.6-.7 1.6-.5 1.5 .5 1.8-1.1 1.4-.6 1.6 .2 1.7M55.9-.5l.3 2 .6 1.9-.3 2 .4 1.7 .7 1.7 .5 1.7 .4 1.7 1.1 1.5 1.1 1.6 .6 1.8 1.2 1.5 .8 1.7 1.8 1.5 1.5 1.9-.8 1.5-.5 1.6-.3 1.8-1 1.4-.2 1.9 .1 2-.6 1.9 2.2-1.3 1.5 .9 1.7 .4 .2 1.8 .9 1.6 .2 1.8 1.3 1.4 .1 1.8 .6 1.7 1.1 1.5 .3 1.9 1 1.5 .3 1.9 1.6-.8 1.8 .2 1.6-.7 1.8-.1 1.6-.4 1.6 .1 1.7 .1 1.6 .2 1.6 0 .6-1.5 1.3-1.1 .8-1.4M92.3 47.3l29.2 2.9 17 1.2 13.1 1.3M92.3 47.3l-6.1 48.5M86.2 95.8l18.3 1.5 24 1.9 21.5 1.3 18.9 1.4M.3 68.2l7.7 1.5 26.3 5.2 25.6 5.4 26.3 3.4M8 69.7l-7.7 34.8M.3 104.5l17.8 26.4 23.2 30.6M59.9 80.3l-7.4 50.6-.7 8.9M104.4 97.3l-3.6 33.6-7.8 83.7M51.8 139.8l23.7 3.1 23.1 2.5 24.9 2.2 23 1.5 20.7 .5 36.3-.1 35.7-.6M168.9 101.9l-.7 29-1 18.7M168.9 114l29.6-.4 30.4-.9M154.7 3.5l-1.4 37-1.7 36.4-1.6 23.6M98.5-.5l8.6 1.2 21.4 1.8 26.2 1.5 21.6 .4 33.7 0 16.2-2.3 1.3-2.6M176.3-.5l0 4.9M153.3 40.5l30.2 .5 32.6 .2M151.6 76.9l1.7 .2 1.7-.1 1.6 .4 1.7-.7 1.7 .7 1.7 0 1.7-.1 1.6 .4 1.7-.8 1.7-.2 1.7 .7 1.7 .3 1.7-.1 1.6-.8 1.7 .1 1.7 .5 1.7-.2 1.7 .4 1.7 .2 1.7-.7 1.7 .5 1.7 .1 1.6-.4 1.7 .5 1.7 .1 1.7-.7 1.7 .9 1.7-.5 1.7 0 1.3 1.1 1.6 .4 1.2 1.2 1.7 0 1.6-.8 1.7-.4 1.7-.1 1.6 .3 1.3 1 1.7 .3 1.5 .4 1.6 1.5M210 4.4l.7 1.8-.5 1.9 .9 1.7 .3 1.8-.1 1.9 .7 1.6 .8 1.5-.1 1.8 .4 1.7 .9 1.5-.3 1.7 .6 1.6 .7 1.6-.1 1.7 .2 1.7 .6 1.6 .4 1.6-.2 1.7 .2 1.7 .7 2.3-.1 2.4-1.4 1.7-1.3 1.7 1.2 1.3 .9 1.5 1.3 1.2 .2 1.7-.5 1.7 .3 1.6 .3 1.7 .1 1.6 .1 1.7 .5 1.6-.4 1.7 .6 1.6-.4 1.7 .9 1.6-.6 1.8 .3 1.6-.8 1.7-.6 1.7 .4 1.9 .8 1.8 .6 1.8 .2 1.9 .5 1.6 1.1 1.4-.2 1.9 .6 1.5 1.3 1.3 .1 1.8 .9 1.7 .5 1.7-.6 2.1 .9 1.7 .9 1.6 .1 1.9 .6 1.6-.1 1.7 .8 1.5-.1 1.8 .9 1.5 1 1.6 .3 1.8 1.7 .9 1.7 .9 2 .2-.1 1.8 .3 1.7 .6 1.6 .5 1.7 1.4 1.7 2 1 0 1.7 .2 1.6 .5 1.7-.5 1.7-.4 1.6 .7 1.7-.6 1.6-.2 1.6 .1 1.7 0 1.6 .3 1.7 .3 1.6 .2 1.6-.3 1.7-.1 1.6 .1 1.6 .7 1.5 .6 1.5 0 1.7 .6 1.7-.5 2 1.1 1.7-.4 1.9 1.1 1.6-.6 2 .8 1.7 .2 1.6-.2 1.6 .1 1.7 .4 1.6-.4 1.6 1 1.6-.3 1.6 .3 1.6 0 1.6-.3 1.7 .5 1.6-.2 1.6 .3 1.6M218.8 70.2l21.7-.9 23.5-1.1M226.9 105.3l19.6-.9 18.1-1.2M252.5 29l.5 1.8-.1 1.9 .2 1.9 .1 1.9-1.5 1.1-.6 1.8-1.4 1.3-1.3 1.2 .5 1.7-.3 1.8 .7 1.7-.4 1.8 1 1.6-.4 1.8 .3 1.7 1.3 1.3 1.4 .9 1.8 .4 1.6 .8 .9 1.7 1.4 1.1 1.7 .6 1.4 1.5 1.9 1 1.4 1.5 0 1.7 .4 1.6 .6 1.5 0 1.7 .4 1.6 1.3 1 1 1.2 1.2 1.2 1.6 .6 .9 1.4 .7 1.6 .9 1.4 1.3 1.2 1.2 1.2-.6 1.8 .6 1.9-.7 1.7-1.3 1.2-1.9 .1-1.4 1-1.4 1.1 0 2 .4 2-.4 2-1 1.4-1.1 1.3-.8 1.5-1.2 1.2 .8 1.5-.2 1.7 .7 1.6 .3 1.6-.2 1.7 1.2 1.2 1.2 1.3 1.9 .4 1.3 1.1 1.1 1.4 1.2 1.1 1.5 .8 .8 1.6 1.3 .9 1.3 1 .3 1.6-.3 1.7 .6 1.6 .7 1.5 0 1.7 2.3 1.9M283.1 169l-1.2 2.3-.5 1.6-.9 1.4-.2 1.6-.2 1.7-.7 1.9-.8 1.8-1.2 1.7-.7 2.2-.2 2.3 .7 2 0 2.2 .2 2.1 .2 2.1 .5 2.1 .2 2.1 1.7 1 1 1.7-1.5 1.2-1.2 1.5-.9 1.8-.2 1.9-.8 1.7-.9 1.7 .1 1.9-.8 2.2-.1 2.3 1.7-.6 1.6 .2 1.7-.1 1.7 .5 1.7-.5M272 78.3l11.1-.7M240.6 155.2l20.9-1.6 21.6-1.9M249 196.5l14.5-1.3 13.9-1.4M158.1 149.6l0 6.3-1.1 27.1-1 27.4M158.1 155.9l29.4 .7 0 23.1M187.5 179.7l-.9-1.2 1.6 1.7 2 1 1.9 .5 1.9 .5 1.6 1.2 1.7 .7 1.9 .2 1.8 .5 1.8 0 1.8 .2 1.8-.2 1.1 1.6 1.6 1.1 2.7-.9 1.4 1 1.5 .7 1.6 .5 1.2-1.3 1.5-.9 1.7 1 2.1 0 1.6 1.2 1.8-1 1.8-.8 2.3-.3 2.2-.6 1.8-.5 1.8 .1 1.6 .7 1.3 1.3 1.6 .7 1.7 1 1.9 .3 1.7 .6 1.8-.1 .9 2-.7 2.3 .8 2-.2 1.7-.1 1.7 .7 1.6-.1 1.7 0 1.7 .4 1.6 .1 1.7 1.1 2 1.7 1.6 .7 1.8 1 1.7 .2 2 .8 1.7-.3 2.1-.5 2.1-.1 2.1 .5 1.8-.7 1.8 .2 1.8 0 1.8-1 1.6-.4 1.9M217.2 259l1.4-.9 1.2-1.3 1.6-.7 1.2-1.2 1.6-1.6 2-1.1 1.7-.3 1.1-1.3 1.8-.1 1-1.4 1.6-.5 1.4-.8 1.2-1.1 1.2-1.1 1.6-.6 1.4-1.3 1.3-1.4 1.6-1.1 1.1-1.6 2-.3 1.4-1.7 1.8-.6 1.9-.5 1.7 .3 1.5-1.1 1.6-.3 1.7 .1 1.6-.4 1.5 .7 1.6 .4 1.8-.2 1.4 .9 2.2 .7 2.3-.2 1-1.2 1.4-.9 1.2-1.1 1.9 .8 1.7 1 2-.2 1.8 .8 1.9 .3M240 242l1.5-1.5 1 2-1.5 1.5M224.5 251.5l2-1 .5 2M118.2 208.6l28.3 1.8 9.5 0M34.9 192.5l36.8 19.4 21.3 2.9 8.8 .5 0-5.1 16.4 .8 0-2.4M118.2 208.6l1.1 1.3 1.2 1.3 1.1 1.3 .8 1.5 1.2 1.2 .6 1.7 1.3 1.1 1.6 1.1 .9 1.9 1.4 1.3 1.6 1.2 1.1 1.7 1.4 1.4 1.5 1.3 0 1.8 1.2 1.7-.6 1.9 .8 1.7 1.6 1.3 1.3 1.6 1.2 1.6 1.4 1.6 2.1 .5 1.5 1.4 1.5 1.4 1.9 .7 2 .5 1.6 1.2 .5-1.7 1.2-1.4 .7-1.6 .5-1.7 1.3-1.3 1.8-.9 1.7-1 2.1-.2 2.1 .5 2.1 0 1.8 .7 1.9-.1 1.9 .3 2 .9 1.4 1.7 .9 1.5 1.5 1 1.2 1.2 .5 1.8 1.5 1.2 .6 1.7 .8 1.6 .4 1.7 .6 1.7 1 1.5 .5 1.7 1.1 1.4M152.5 246.8l-7 12.2M51.8 139.8l-.8 1.7 .1 1.8 0 1.8-.8 1.7-.4 1.7-.2 1.8-1.5-1.1-1.7-.7-2.4 .4 0 1.9-1.1 1.7 .1 1.9-1 1.7-.1 1.9-.5 2.2 .2 2.3 .5 2 .8 1.8 .6 2 .6 2 1.4 1.4-1.6 .8-.8 1.7-1.5 .9-.6 1.7-.4 1.7-.6 1.6-.3 1.8-2 .9-.7 1.9 .2 2 1.5 2-1.2 1.4-1.7 .5-1.2 1.3-1.7 .6 .2 1.8-.6 1.6-.7 1.7 .1 1.7 1 2M11.7 187.9l12.8 1.1 13.3 1.1M.5 166.4l1.2 2 1.2 1.9 .9 1.4 1.2 1.2 1.7 .6 .8 1.5 1.2 1.1 .8 1.6 .9 1.6 .8 1.6 0 1.6-.1 1.7 .1 1.6 .3 1.7 1.1 1.2 0 2 .2 1.9 .8 1.9 .2 1.8 1.2 1.4 .5 1.6-.1 1.8 .1 1.7 .6 1.6 .4 1.7 .9 1.5 .3 1.8 .7 1.6-.1 2 1.3 1.8-.2 2-.1 1.7 .4 1.7 .7 1.6 0 1.7 1.4 1.2 1.1 1.4 1.5 1 1.7 .8 1.1 1.5 .9 1.5 1.3 1.2 .5 1.8 1.1 1.3 .9 1.5 1.4 1.2 .2 1.9 1.4 1.2-.3 1.7-.4 1.7-.2 1.7-.1 1.7-1.6 .7-1.3 1.2-.5 1.9-1.8 1.2-.6 1.8 .6 2.2 .4 2.2M32.5 193.5l-.1 1.9 .3 2-.7 1.9 .4 2.1 1 1.8-.4 2-.8 1.9-.7 1.9 .5 1.9 .1 2 .4 1.9-.3 1.9-.3 1.9 .1 2 .4 1.7 .4 1.8 1.1 1.4 1.1 1.2 1 1.4 1.2 1 1.7 .7 .8 1.5 .3 1.8 1.1 1.4 .6 1.6 1.7 1.2 1.2 1.7 1 2.9 .6 1.7 1.3 1.3 .7 1.5 .3 1.6 0 1.7 .5 1.9 .4 2 .8 1.9 .7 1.9 1.4 1.6M33 199.3l1.8 1.1 1.7 1.1 1.3 1.7 1.3 1.1 1.6 .8 2.9-.9 1.4 1.2 .6 1.7 2.2 1.1 1.6 1.8 1 2.9-.6 1.9-.4 2 1.3 1.7 .7 2.1 .2 1.6 .1 1.6 .9 1.5 .5 1.5 .2 1.6 .9 1.9 .8 1.9 .3 2 .8 1.9 .5 2 .6 1.9 1.8 1.1 1.1 1.8 .8 1.7 1.3 1.5 .8 1.7 .7 2 1.2 1.8 1.7 .7 1.5 1.1 1.7 .7 1.3 .9 1.6 .5-.7 1.8-.8 1.7M21.3 247.8l13.2 1 13 .9M42.3 230.5l1.4 2.5-.6 3.5-1-2.5M53.8 236.6l1.3 1.4-.8 2.2-.8-1.7M93 214.8l-.9 5.8 3.9 2.9 0 6.8-2 7.8 .5 11.6-6.3 1.5 1.9 7.8M229.5-.5l-.1 2 .3 2 .3 2 2.5 1 1.7 .1 1.6 .8 1.7 .1 1.5 1 1.4-1.2 1.6-.8 1.9 .7 2.1-.2 1.5 .8 .9 1.5 1.1 1.2 2.5-1 2.5 1.5 1.2 1.4 1.8 .6 1.3-1 1.4-1 1.3-1 2 1.5 1.6-.8 1.7 .1 1.7-.3 2 1.5 3-1 1.5-2-.5-3 2.1-1 1.9-1.5 1.8-.7 1.2-1.5 1.6-.8M251.5 30l1.2-1.8 1.8-1.2 1.6-.9 1.1-1.4 .9-1.6 1.4-1.1 1.5-1.3 1.4-1.5 1.1-1.7 1.6-.6 1.4-1 1.6-.4 1.4-1 1.9-1.5 2.1-1 1.3-1.7 1.7-1.3 1.2-1.4 1.6-1 1.7-.6 2.1-1.5M251.5 30l3-.8 4-1.6 4.5-2.6 3-.5 1-1.2-1.5 4.7 3.5-.2 1.5 .7 2-1.5 2.5-1.5 2.5-1.5 2.5-2 3.1-2M269.5 29l1.5 3.5 7.5 1.5 4.6 1.5M280.5 1l2.6-1"/><path fill="none" stroke="#000" stroke-width="2.8" stroke-linecap="round" d="M276 13L281.5 8.5M280.5 1.2L283 0.5M266.3 23.3L267 26"/><path fill="none" stroke="#000" stroke-width="1.25" stroke-linejoin="round" d="M-2.1-8.6l-13.8 11.5-6.5-4.3 6.5 4.3 1.4-1.1-6.6-4.4 6.6 4.4 1.4-1.2-6.6-4.3 6.6 4.3 1.4-1.1-3.3-2.2 3.3 2.2M17.6-8l-13.8 11.6-6.6-4.4 6.6 4.4 1.4-1.2-6.6-4.3 6.6 4.3 1.4-1.1-6.6-4.4 6.6 4.4 1.3-1.2-3.3-2.2 3.3 2.2M37.2-7.5l-13.8 11.4-6.6-4.4 6.6 4.4 1.3-1.1-6.5-4.4 6.5 4.4 1.4-1.1-6.5-4.4 6.5 4.4 1.4-1.2-3.3-2.2 3.3 2.2M56.9-7.2l-17.3 5.1-4.3-6.6 4.3 6.6 1.8-.5-4.3-6.6 4.3 6.6 1.7-.5-4.3-6.6 4.3 6.6 1.7-.5-2.1-3.3 2.1 3.3M76.6-7l-18-1.2-1.7-7.7 1.7 7.7 1.8 .1-1.8-7.7 1.8 7.7 1.8 .1-1.8-7.7 1.8 7.7 1.8 .2-1.8-7.7 1.8 7.7M96.2-7l-16.6-6.8 .8-7.9-.8 7.9 1.6 .6 .8-7.8-.8 7.8 1.7 .7 .8-7.8-.8 7.8M115.9-7.2l-13.9-11.4 3.1-7.3-3.1 7.3 1.4 1.1 3.1-7.3-3.1 7.3 1.4 1.1 1.5-3.6-1.5 3.6M135.5-7.5l-9.6-15.2 5.2-6-5.2 6 1 1.5 5.1-5.9-5.1 5.9 .9 1.5 5.2-5.9-5.2 5.9M155.2-8l-4.2-17.5 6.9-4-6.9 4 .4 1.7 6.9-3.9-6.9 3.9 .5 1.8 6.8-4-6.8 4 .4 1.7 3.4-1.9-3.4 1.9M174.8-8.7l-2.8-17.7 7.1-3.5-7.1 3.5 .3 1.7 7.1-3.4-7.1 3.4 .3 1.8 7.1-3.4-7.1 3.4 .2 1.8 3.6-1.7-3.6 1.7M194.5-9.5l-2.6-17.8 7.2-3.3-7.2 3.3 .3 1.8 7.1-3.3-7.1 3.3 .2 1.8 7.2-3.4-7.2 3.4 .3 1.7 7.1-3.3-7.1 3.3M214.1-10.5l-1.5-17.9 7.3-2.9-7.3 2.9 .1 1.8 7.3-2.9-7.3 2.9 .2 1.8 7.3-2.9-7.3 2.9 .1 1.8 7.4-2.9-7.4 2.9M233.8-11.6l-.4-18 7.5-2.4-7.5 2.4 0 1.8 7.5-2.4-7.5 2.4 0 1.8 7.6-2.4-7.6 2.4 .1 1.8 7.5-2.4-7.5 2.4 0 1.8 3.8-1.2-3.8 1.2M253.4-12.9l.9-18 7.6-1.9-7.6 1.9-.1 1.8 7.6-1.9-7.6 1.9-.1 1.8 7.7-1.9-7.7 1.9-.1 1.8 7.7-1.9-7.7 1.9-.1 1.8 3.8-1-3.8 1M273-14.4l2.4-17.9 7.8-1.2-7.8 1.2-.2 1.8 7.7-1.2-7.7 1.2-.3 1.8 7.8-1.2-7.8 1.2-.2 1.8 7.8-1.2-7.8 1.2M292.6-16.1l3.1-17.7 7.8-.9-7.8 .9-.3 1.8 7.8-.9-7.8 .9-.3 1.8 7.8-.9-7.8 .9-.3 1.7 7.8-.9-7.8 .9M-2.8 11.5l-13.6 11.8-6.7-4.2 6.7 4.2 1.3-1.1-6.6-4.3 6.6 4.3 1.4-1.2-6.7-4.3 6.7 4.3 1.4-1.2-3.4-2.1 3.4 2.1M17 12.2l-13.7 11.7-6.6-4.3 6.6 4.3 1.4-1.2-6.6-4.3 6.6 4.3 1.3-1.2-6.6-4.2 6.6 4.2 1.4-1.1-3.3-2.2 3.3 2.2M36.8 12.7l-13.8 11.6-6.5-4.4 6.5 4.4 1.4-1.2-6.6-4.3 6.6 4.3 1.4-1.2-6.6-4.3 6.6 4.3 1.4-1.1-3.3-2.2 3.3 2.2M56.7 13l-16.7 6.8-5-6.1 5 6.1 1.7-.7-5-6.1 5 6.1 1.6-.6-4.9-6.2 4.9 6.2 1.7-.7-2.5-3.1 2.5 3.1M76.5 13.2l-17.9 1.7-3-7.4 3 7.4 1.8-.2-3-7.3 3 7.3 1.7-.2-2.9-7.3 2.9 7.3 1.8-.1-1.4-3.7 1.4 3.7M96.3 13.2l-17.7-3.1-.9-7.8 .9 7.8 1.8 .3-1-7.8 1 7.8 1.7 .3-.9-7.8 .9 7.8 1.8 .3-.5-3.9 .5 3.9M116.1 13l-13.9-11.4 3.1-7.3-3.1 7.3 1.4 1.2 3-7.3-3 7.3 1.4 1.1 1.5-3.6-1.5 3.6M136 12.7l-9.6-15.3 5.2-5.9-5.2 5.9 1 1.6 5.2-6-5.2 6 .9 1.5 2.6-3-2.6 3M155.8 12.2l-4-17.6 6.9-3.8-6.9 3.8 .4 1.8 6.9-3.9-6.9 3.9 .4 1.7 6.9-3.8-6.9 3.8 .4 1.8 3.5-1.9-3.5 1.9M175.6 11.5l-2.8-17.8 7.1-3.4-7.1 3.4 .2 1.8 7.1-3.4-7.1 3.4 .3 1.8 7.1-3.4-7.1 3.4 .3 1.8 3.6-1.7-3.6 1.7M195.4 10.7l-2.5-17.8 7.1-3.3-7.1 3.3 .2 1.7 7.2-3.3-7.2 3.3 .3 1.8 7.1-3.3-7.1 3.3 .2 1.8 7.2-3.3-7.2 3.3M215.2 9.7l-1.7-17.9 7.3-3-7.3 3 .1 1.8 7.3-3-7.3 3 .2 1.8 7.3-3-7.3 3 .2 1.7 7.3-2.9-7.3 2.9M235 8.5l-.8-18 7.4-2.6-7.4 2.6 0 1.8 7.5-2.6-7.5 2.6 .1 1.8 7.5-2.6-7.5 2.6 .1 1.8 7.5-2.6-7.5 2.6 .1 1.8 3.7-1.3-3.7 1.3M254.8 7.2l.6-18 7.6-2-7.6 2 0 1.8 7.6-2-7.6 2-.1 1.8 7.6-2-7.6 2-.1 1.8 7.7-2-7.7 2 0 1.8 3.8-1-3.8 1M274.6 5.7l2.4-17.8 7.8-1.2-7.8 1.2-.2 1.8 7.8-1.2-7.8 1.2-.3 1.7 7.8-1.2-7.8 1.2-.2 1.8 7.8-1.2-7.8 1.2M294.3 4.1l3.2-17.8 7.8-.9-7.8 .9-.3 1.8 7.8-.9-7.8 .9-.4 1.8 7.9-.9-7.9 .9-.3 1.8 7.9-.9-7.9 .9M-3.6 31.8l-13.4 12-6.7-4.1 6.7 4.1 1.4-1.2-6.8-4.1 6.8 4.1 1.3-1.2-6.7-4.1 6.7 4.1 1.3-1.2-3.3-2 3.3 2M16.4 32.5l-13.6 11.8-6.6-4.2 6.6 4.2 1.4-1.2-6.7-4.2 6.7 4.2 1.3-1.2-6.6-4.2 6.6 4.2 1.4-1.1-3.3-2.2 3.3 2.2M36.4 33l-13.8 11.6-6.6-4.4 6.6 4.4 1.4-1.2-6.6-4.3 6.6 4.3 1.4-1.2-6.6-4.3 6.6 4.3 1.4-1.1-3.3-2.2 3.3 2.2M56.4 33.3l-15.9 8.4-5.5-5.6 5.5 5.6 1.6-.8-5.5-5.6 5.5 5.6 1.6-.8-5.5-5.7 5.5 5.7 1.6-.9-2.8-2.8 2.8 2.8M76.4 33.5l-17.3 4.8-4.2-6.6 4.2 6.6 1.7-.4-4.2-6.7 4.2 6.7 1.7-.5-4.2-6.7 4.2 6.7 1.8-.5-2.1-3.4 2.1 3.4M96.4 33.5l-18 .3-2.4-7.5 2.4 7.5 1.8 0-2.4-7.5 2.4 7.5 1.8 0-2.4-7.6 2.4 7.6 1.8-.1-1.2-3.7 1.2 3.7M116.4 33.3l-13.9-11.4 3.1-7.3-3.1 7.3 1.4 1.1 3.1-7.3-3.1 7.3 1.4 1.2 1.5-3.7-1.5 3.7M136.4 33l-9.5-15.3 5.3-5.9-5.3 5.9 1 1.5 5.2-5.9-5.2 5.9 .9 1.5 2.6-2.9-2.6 2.9M156.4 32.5l-3.8-17.6 7-3.8-7 3.8 .4 1.7 6.9-3.8-6.9 3.8 .4 1.8 6.9-3.8-6.9 3.8 .4 1.7 3.4-1.8-3.4 1.8M176.4 31.8l-2.9-17.8 7.1-3.4-7.1 3.4 .3 1.8 7.1-3.4-7.1 3.4 .3 1.8 7.1-3.4-7.1 3.4 .3 1.8 3.5-1.8-3.5 1.8M196.4 31l-2.6-17.9 7.2-3.3-7.2 3.3 .3 1.8 7.1-3.3-7.1 3.3 .2 1.8 7.2-3.3-7.2 3.3 .3 1.8 7.1-3.3-7.1 3.3M216.3 30l-2-17.9 7.2-3.1-7.2 3.1 .2 1.8 7.2-3.1-7.2 3.1 .2 1.8 7.2-3.1-7.2 3.1 .2 1.7 7.3-3.1-7.3 3.1M236.3 28.8l-1.5-17.9 7.3-2.9-7.3 2.9 .1 1.7 7.4-2.8-7.4 2.8 .2 1.8 7.3-2.8-7.3 2.8 .1 1.8 7.4-2.8-7.4 2.8 .2 1.8 3.7-1.4-3.7 1.4M256.3 27.5l.2-18 7.6-2.2-7.6 2.2 0 1.8 7.5-2.2-7.5 2.2-.1 1.8 7.6-2.2-7.6 2.2 0 1.8 7.6-2.2-7.6 2.2 0 1.8 3.8-1.1-3.8 1.1M276.2 26l2.5-17.9 7.8-1.2-7.8 1.2-.3 1.8 7.8-1.2-7.8 1.2-.2 1.8 7.8-1.2-7.8 1.2-.3 1.8 7.8-1.2-7.8 1.2M296.1 24.3l3.1-17.7 7.9-.9-7.9 .9-.3 1.7 7.9-.9-7.9 .9-.3 1.8 7.9-.9-7.9 .9-.3 1.8 7.8-.9-7.8 .9M-4.3 52.2l-13.4 12.1-6.7-4.2 6.7 4.2 1.3-1.2-6.7-4.2 6.7 4.2 1.4-1.3-6.8-4.1 6.8 4.1M15.8 52.9l-13.5 11.9-6.7-4.2 6.7 4.2 1.4-1.2-6.7-4.2 6.7 4.2 1.3-1.2-6.7-4.2 6.7 4.2M36 53.4l-13.7 11.7-6.6-4.2 6.6 4.2 1.4-1.1-6.6-4.3 6.6 4.3 1.4-1.2-6.7-4.3 6.7 4.3M56.2 53.7l-15.2 9.7-6-5.1 6 5.1 1.5-1-6-5.1 6 5.1 1.5-.9-3-2.6 3 2.6M76.3 53.9l-16.6 7-5-6.1 5 6.1 1.7-.7-5-6.1 5 6.1 1.7-.7-2.6-3.1 2.6 3.1M96.5 53.9l-18-.1-2.2-7.6 2.2 7.6 1.8 0-2.2-7.5 2.2 7.5 1.8 0-1.1-3.8 1.1 3.8M116.7 53.7l-14.4-10.9 2.8-7.3-2.8 7.3 1.4 1.1 2.8-7.4-2.8 7.4M136.8 53.4l-10.9-14.3 4.6-6.4-4.6 6.4 1.1 1.4 4.6-6.4-4.6 6.4M157 52.9l-4-17.6 6.9-3.9-6.9 3.9 .4 1.8 6.9-3.9-6.9 3.9 .4 1.7 6.9-3.8-6.9 3.8 .4 1.8 3.5-2-3.5 2M177.1 52.2l-2.8-17.8 7.1-3.4-7.1 3.4 .3 1.8 7.1-3.4-7.1 3.4 .3 1.8 7.1-3.4-7.1 3.4 .3 1.7 7.1-3.4-7.1 3.4M197.3 51.3l-2.2-17.8 7.2-3.2-7.2 3.2 .2 1.8 7.3-3.2-7.3 3.2 .2 1.7 7.3-3.1-7.3 3.1 .3 1.8 7.2-3.1-7.2 3.1M217.4 50.3l-1.5-17.9 7.3-2.9-7.3 2.9 .1 1.8 7.4-2.9-7.4 2.9 .2 1.8 7.3-2.9-7.3 2.9 .2 1.8 7.3-2.9-7.3 2.9 .1 1.8 3.7-1.5-3.7 1.5M237.6 49.1l-1.1-17.9 7.5-2.7-7.5 2.7 .2 1.8 7.4-2.7-7.4 2.7 .1 1.8 7.4-2.7-7.4 2.7 .1 1.8 7.4-2.7-7.4 2.7 .1 1.8 3.7-1.4-3.7 1.4M257.7 47.8l-.5-18 7.5-2.4-7.5 2.4 .1 1.8 7.5-2.4-7.5 2.4 0 1.8 7.5-2.4-7.5 2.4 .1 1.8 7.5-2.4-7.5 2.4 0 1.8 3.8-1.2-3.8 1.2M277.8 46.3l.6-18 7.6-2-7.6 2-.1 1.8 7.6-2-7.6 2 0 1.8 7.6-2-7.6 2-.1 1.8 7.6-2-7.6 2M297.9 44.6l1.1-18 7.7-1.8-7.7 1.8-.1 1.8 7.7-1.8-7.7 1.8-.1 1.8 7.7-1.8-7.7 1.8-.1 1.8 7.6-1.8-7.6 1.8M-5.1 72.7l-13.4 12-6.7-4.1 6.7 4.1 1.4-1.2-6.8-4.1 6.8 4.1 1.3-1.2-3.4-2 3.4 2M15.2 73.4l-13.4 12-6.7-4.1 6.7 4.1 1.4-1.2-6.7-4.1 6.7 4.1 1.3-1.2-3.3-2.1 3.3 2.1M35.6 73.9l-13.4 12-6.8-4.1 6.8 4.1 1.3-1.2-6.7-4.1 6.7 4.1M55.9 74.2l-13.6 11.8-6.7-4.3 6.7 4.3 1.3-1.2-6.6-4.2 6.6 4.2M76.2 74.4l-13.9 11.4-6.5-4.4 6.5 4.4 1.4-1.2-3.3-2.2 3.3 2.2M96.6 74.4l-18-.9-1.9-7.6 1.9 7.6 1.8 .1-1.9-7.6 1.9 7.6M116.9 74.2l-15.2-9.7 2.2-7.6-2.2 7.6 1.6 1 1-3.8-1 3.8M137.3 73.9l-12.8-12.7 3.8-7-3.8 7 1.3 1.2 3.7-6.9-3.7 6.9M157.6 73.4l-4.1-17.6 6.8-3.9-6.8 3.9 .4 1.8 6.8-3.9-6.8 3.9 .4 1.7 6.8-3.9-6.8 3.9 .4 1.8 6.9-3.9-6.9 3.9M177.9 72.7l-2.7-17.8 7.1-3.4-7.1 3.4 .2 1.8 7.2-3.4-7.2 3.4 .3 1.7 7.1-3.3-7.1 3.3 .3 1.8 7.1-3.4-7.1 3.4M198.2 71.8l-1.7-17.9 7.3-3-7.3 3 .2 1.8 7.3-3-7.3 3 .2 1.8 7.3-3-7.3 3 .1 1.8 7.3-3-7.3 3M218.6 70.8l-.9-18 7.4-2.6-7.4 2.6 0 1.8 7.5-2.6-7.5 2.6 .1 1.8 7.5-2.6-7.5 2.6 .1 1.8 7.5-2.6-7.5 2.6 .1 1.8 3.7-1.3-3.7 1.3M238.9 69.6l-.3-18 7.6 2.2-7.5 2.3M259.2 68.3l-1.6-18 7.4-2.9-7.4 2.9 .2 1.8 7.3-2.9-7.3 2.9 .1 1.8 7.4-2.9-7.4 2.9 .2 1.8 7.3-2.9-7.3 2.9 .1 1.8 3.7-1.4-3.7 1.4M279.4 66.7l-2.9-17.7 7.1-3.5-7.1 3.5 .3 1.7 7.1-3.4-7.1 3.4 .3 1.8 7-3.4-7 3.4 .3 1.8 7-3.5-7 3.5M299.7 65l-2.8-17.7 7.1-3.5-7.1 3.5 .3 1.7 7.1-3.4-7.1 3.4 .2 1.8 7.1-3.4-7.1 3.4 .3 1.8 7.1-3.4-7.1 3.4M-5.9 93.3l-13.3 12-6.8-4.1 6.8 4.1 1.3-1.2-6.7-4.1 6.7 4.1 1.3-1.2-3.3-2 3.3 2M14.6 94l-13.3 12-6.8-4.1 6.8 4.1 1.3-1.2-6.7-4.1 6.7 4.1M35.1 94.5l-13.3 12-6.8-4.1 6.8 4.1 1.3-1.2-6.7-4.1 6.7 4.1M55.6 94.8l-13.6 11.7-6.7-4.3 6.7 4.3 1.3-1.2-3.3-2.1 3.3 2.1M76.2 95l-14.2 11.1-6.4-4.6 6.4 4.6 1.4-1.1-3.2-2.3 3.2 2.3M96.7 95l-18-.9-1.9-7.7 1.9 7.7 1.8 .1-1-3.8 1 3.8M117.2 94.8l-15.1-9.8 2.2-7.6-2.2 7.6 1.5 1 1.1-3.8-1.1 3.8M137.7 94.5l-12.8-12.7 3.7-6.9-3.7 6.9 1.2 1.3 1.9-3.5-1.9 3.5M158.2 93.9l-4-17.5 6.9-3.9-6.9 3.9 .4 1.7 6.9-3.8-6.9 3.8 .4 1.8 6.9-3.9-6.9 3.9 .4 1.7 6.9-3.8-6.9 3.8M178.7 93.3l-2.7-17.8 7.2-3.4-7.2 3.4 .3 1.7 7.1-3.3-7.1 3.3 .2 1.8 7.2-3.3-7.2 3.3 .3 1.8 7.2-3.4-7.2 3.4M199.2 92.4l-1.6-17.9 7.3-2.9-7.3 2.9 .1 1.8 7.4-3-7.4 3 .2 1.8 7.3-3-7.3 3 .2 1.7 7.3-2.9-7.3 2.9M219.7 91.4l-.8-18 7.5-2.6-7.5 2.6 .1 1.8 7.5-2.6-7.5 2.6 .1 1.8 7.4-2.6-7.4 2.6 0 1.8 7.5-2.6-7.5 2.6 .1 1.8 3.8-1.3-3.8 1.3M240.1 90.2l0-18 7.6 2.2-7.6 2.3M260.6 88.8l-2.7-17.8 7.1-3.4-7.1 3.4 .2 1.8 7.2-3.4-7.2 3.4 .3 1.8 7.1-3.4-7.1 3.4 .3 1.7 7.1-3.3-7.1 3.3 .3 1.8 3.5-1.7-3.5 1.7M281.1 87.3l-6.4-16.9 6.3-4.8-6.3 4.8 .7 1.7 6.3-4.8-6.3 4.8 .6 1.7 6.3-4.8-6.3 4.8 .6 1.7 3.2-2.4-3.2 2.4M-6.6 114l-13.4 12-6.8-4.1 6.8 4.1 1.3-1.2-6.7-4.1 6.7 4.1M14 114.7l-13.3 12-6.8-4.1 6.8 4.1 1.3-1.2-6.7-4.1 6.7 4.1M34.7 115.2l-13.4 12-6.7-4.1 6.7 4.1 1.4-1.2-6.8-4.1 6.8 4.1M55.4 115.5l-13.9 11.5-6.5-4.4 6.5 4.4 1.4-1.2-3.3-2.2 3.3 2.2M76.1 115.7l-14.7 10.4-6.2-4.8 6.2 4.8M96.8 115.7l-18-.9-1.9-7.6 1.9 7.6M117.4 115.5l-14.9-10 2.3-7.5-2.3 7.5M138.1 115.2l-12.8-12.7 3.8-7-3.8 7 1.3 1.3 1.9-3.5-1.9 3.5M158.8 114.6l-3.8-17.6 6.9-3.8-6.9 3.8 .4 1.8 6.9-3.8-6.9 3.8 .3 1.8 7-3.8-7 3.8 .4 1.7 6.9-3.8-6.9 3.8M179.5 113.9l-2.6-17.8 7.1-3.3-7.1 3.3 .2 1.8 7.2-3.3-7.2 3.3 .3 1.8 7.1-3.3-7.1 3.3 .2 1.8 7.2-3.3-7.2 3.3M200.1 113.1l-1.5-18 7.3-2.9-7.3 2.9 .1 1.8 7.4-2.9-7.4 2.9 .2 1.8 7.3-2.9-7.3 2.9 .1 1.8 7.4-2.9-7.4 2.9 .2 1.8 3.7-1.4-3.7 1.4M220.8 112l-.7-17.9 7.4-2.6-7.4 2.6 0 1.8 7.5-2.6-7.5 2.6 .1 1.7 7.5-2.5-7.5 2.5 .1 1.8 7.5-2.5-7.5 2.5 .1 1.8 3.7-1.2-3.7 1.2M241.4 110.8l-.1-18 7.6 2.2-7.5 2.3M262.1 109.4l-4.4-17.4 6.8-4-6.8 4 .5 1.7 6.8-4-6.8 4 .4 1.8 6.8-4-6.8 4 .4 1.7 6.8-4-6.8 4M282.7 107.9l-10-15 5.1-6.1-5.1 6.1 1 1.5 5.1-6.1-5.1 6.1 1 1.5 5.1-6.1-5.1 6.1M-7.4 134.8l-17.8 3-3.4-7.1 3.4 7.1 1.8-.3-3.5-7.1 3.5 7.1M13.4 135.4l-17.9 1.1-2.7-7.5 2.7 7.5 1.8-.1-2.7-7.5 2.7 7.5M34.3 136l-17.9-1.7-1.6-7.8 1.6 7.8 1.7 .1-.7-3.8 .7 3.8M76 136.5l-13.4-12.1 3.4-7.1-3.4 7.1 1.4 1.2 1.7-3.5-1.7 3.5M96.8 136.5l-9.7-15.1 5.1-6-5.1 6 .9 1.5 2.6-3-2.6 3M117.7 136.3l-12.5-12.9 3.9-6.9-3.9 6.9 1.2 1.2 2-3.4-2 3.4M138.6 135.9l-11.6-13.8 4.4-6.5-4.4 6.5 1.2 1.4 2.2-3.3-2.2 3.3M159.4 135.4l-3.4-17.6 7-3.7-7 3.7 .3 1.7 7-3.6-7 3.6 .4 1.8 7-3.7-7 3.7 .3 1.8 7-3.7-7 3.7M180.3 134.7l-2.5-17.8 7.2-3.3-7.2 3.3 .2 1.8 7.2-3.3-7.2 3.3 .3 1.8 7.2-3.3-7.2 3.3 .2 1.7 7.2-3.2-7.2 3.2 .3 1.8 3.6-1.6-3.6 1.6M201.1 133.9l-1.7-18 7.4-2.9-7.4 2.9 .2 1.8 7.3-2.9-7.3 2.9 .2 1.8 7.3-2.9-7.3 2.9 .1 1.8 7.4-2.9-7.4 2.9 .2 1.8 3.7-1.5-3.7 1.5M221.9 132.8l-3.1-17.7 7.9 .9-7.1 3.5M242.7 131.6l-4.4-17.5 7.9 .4-6.8 4M263.6 130.2l-10-15 5.1-6.1-5.1 6.1 1 1.5 5-6.1-5 6.1 1 1.5 5-6.1-5 6.1 1 1.5 5-6.1-5 6.1 1 1.5 2.5-3-2.5 3M284.4 128.6l-15-10 2.3-7.5-2.3 7.5 1.5 1 2.3-7.5-2.3 7.5 1.5 1 2.3-7.5-2.3 7.5 1.5 1 1.1-3.7-1.1 3.7M-8.2 155.6l-1.1-17.9 7.4-2.7-7.4 2.7 .1 1.8 3.7-1.4-3.7 1.4M12.8 156.3l0-18 7.6-2.2-7.6 2.2 0 1.8 3.8-1.1-3.8 1.1M33.8 156.9l1.1-18 7.7-1.8-7.7 1.8-.1 1.8 3.9-.9-3.9 .9M54.9 157.2l2.1-17.9 7.7-1.3-7.7 1.3-.3 1.8 3.9-.7-3.9 .7M75.9 157.4l3-17.8 7.8-1-7.8 1-.3 1.8 3.9-.5-3.9 .5M96.9 157.4l3-17.8 7.8-.9-7.8 .9-.3 1.8 3.9-.5-3.9 .5M118 157.2l-10.2-14.9 5-6.1-5 6.1 1 1.5 2.5-3-2.5 3M139 156.8l-10.2-14.8 4.9-6.1-4.9 6.1 1 1.5 4.9-6.1-4.9 6.1M160 156.3l-3.1-17.7 7.1-3.5-7.1 3.5 .3 1.8 7.1-3.6-7.1 3.6 .3 1.7 7.1-3.5-7.1 3.5 .3 1.8 7.1-3.5-7.1 3.5 .4 1.8 3.5-1.8-3.5 1.8M181 155.6l-2.3-17.8 7.2-3.2-7.2 3.2 .3 1.7 7.2-3.2-7.2 3.2 .2 1.8 7.2-3.2-7.2 3.2 .2 1.8 7.2-3.2-7.2 3.2 .3 1.8 3.6-1.6-3.6 1.6M202.1 154.7l-2.1-17.9 7.3-3-7.3 3 .2 1.8 7.3-3.1-7.3 3.1 .2 1.8 7.3-3.1-7.3 3.1 .2 1.8 7.3-3.1-7.3 3.1 .2 1.8 3.7-1.5-3.7 1.5M223.1 153.7l-6.4-16.9 7.9-.5-6.3 4.7M244.1 152.4l-10.1-14.9 7.6-2.3-5.1 6M265 151l-15-9.9 6-5-2.2 7.5M286 149.5l-17.4-4.7-.2-7.9 .2 7.9 1.8 .5-.3-7.9 .3 7.9 1.7 .4-.2-7.8 .2 7.8 1.7 .5-.2-7.9 .2 7.9 1.8 .5-.1-4 .1 4M-9 176.6l0-18 7.6-2.2-7.6 2.2 0 1.8 3.8-1.1-3.8 1.1M12.2 177.3l.6-18 7.7-1.9-7.7 1.9 0 1.8 3.8-1-3.8 1M33.4 177.9l1.5-18 7.7-1.6-7.7 1.6-.2 1.8 3.9-.8-3.9 .8M54.6 178.2l2.3-17.9 7.7-1.2-7.7 1.2-.3 1.8 3.9-.6-3.9 .6M75.8 178.4l3.1-17.8 7.8-.9-7.8 .9-.3 1.8 3.9-.5-3.9 .5M97 178.4l3.2-17.8 7.8-.9-7.8 .9-.4 1.8 4-.4-4 .4M118.2 178.2l-10.2-14.8 4.9-6.2-4.9 6.2 1 1.5 2.5-3.1-2.5 3.1M139.4 177.8l-10.7-14.4 4.8-6.3-4.8 6.3 1.1 1.4 4.7-6.3-4.7 6.3M160.6 177.3l-5.4-17.2 6.6-4.4-6.6 4.4 .6 1.7 6.5-4.4-6.5 4.4 .5 1.8 6.6-4.4-6.6 4.4 .6 1.7 3.2-2.2-3.2 2.2M181.8 176.6l-6.8-16.7 6.2-4.9-6.2 4.9 .7 1.7 6.2-4.9-6.2 4.9 .7 1.7 6.1-5-6.1 5 .7 1.6 6.1-4.9-6.1 4.9M203 175.7l-8.2-16 5.7-5.5-5.7 5.5 .8 1.6 5.7-5.5-5.7 5.5 .8 1.6 5.7-5.5-5.7 5.5 .9 1.6 5.7-5.5-5.7 5.5 .8 1.6 2.8-2.7-2.8 2.7M224.2 174.6l-11.9-13.5 4.3-6.7-4.3 6.7 1.2 1.4 4.2-6.7-4.2 6.7 1.2 1.3 4.2-6.7-4.2 6.7 1.2 1.4 4.2-6.7-4.2 6.7 1.2 1.3 2.1-3.3-2.1 3.3M245.4 173.4l-14.5-10.6 6.3-4.8-2.7 7.4M266.5 172l-17-5.8 4.6-6.5-.3 7.9M287.7 170.4l-17.9-2.2 3.2-7.2 1.3 7.8M-9.8 197.7l0-18 7.6-2.2-7.6 2.2 0 1.8 3.8-1.1-3.8 1.1M11.6 198.4l.6-18 7.6-2-7.6 2-.1 1.8 3.9-1-3.9 1M33 199l1.4-18 7.7-1.6-7.7 1.6-.1 1.8 3.8-.8-3.8 .8M54.4 199.3l2.2-17.9 7.8-1.2-7.8 1.2-.2 1.8 3.9-.6-3.9 .6M75.7 199.5l3.1-17.8 7.8-.9-7.8 .9-.3 1.8 3.9-.5-3.9 .5M97.1 199.5l3.1-17.8 7.8-.9-7.8 .9-.3 1.8 3.9-.4-3.9 .4M118.5 199.3l-10.3-14.7 4.9-6.2-4.9 6.2 1 1.4 4.9-6.2-4.9 6.2M139.9 198.9l-11.5-13.8 4.4-6.6-4.4 6.6 1.1 1.4 4.4-6.6-4.4 6.6M161.3 198.4l-10.6-14.6 4.8-6.2-4.8 6.2 1.1 1.5 4.8-6.3-4.8 6.3M182.6 197.7l-13.3-12.2 3.5-7.1-3.5 7.1 1.4 1.3 3.4-7.1-3.4 7.1 1.3 1.2 3.4-7.1-3.4 7.1M204 196.8l-14.7-10.5 2.6-7.4-2.6 7.4 1.5 1.1 2.6-7.5-2.6 7.5 1.5 1 2.5-7.4-2.5 7.4 1.4 1.1 2.6-7.5-2.6 7.5M225.3 195.7l-16.3-7.6 1.2-7.8-1.2 7.8 1.7 .8 1.1-7.8-1.1 7.8 1.6 .7 1.2-7.8-1.2 7.8 1.6 .8 1.2-7.8-1.2 7.8 1.7 .7 .5-3.9-.5 3.9M246.7 194.5l-17.3-5.2 4.4-6.6 0 7.9M268 193l-17.8-2.4 3.2-7.2 1.2 7.8M289.3 191.4l-17.9-.6 2.5-7.4 2 7.6M-10.6 218.9l0-18 7.6-2.3-7.6 2.3 0 1.8 3.8-1.1-3.8 1.1M11 219.6l.6-18 7.6-2-7.6 2-.1 1.8 3.8-1-3.8 1M32.5 220.1l1.4-17.9 7.8-1.7-7.8 1.7-.1 1.8 3.9-.8-3.9 .8M54.1 220.5l2.2-17.9 7.8-1.3-7.8 1.3-.2 1.8 3.9-.6-3.9 .6M75.7 220.7l3-17.8 7.8-.9-7.8 .9-.3 1.8 3.9-.5-3.9 .5M97.2 220.7l-.6-18 7.5-2.5-7.5 2.5 .1 1.8 3.7-1.3-3.7 1.3M118.8 220.5l-12.8-12.6 3.7-7-3.7 7 1.2 1.2 1.9-3.5-1.9 3.5M140.3 220.1l-13.8-11.5 3.1-7.3-3.1 7.3 1.4 1.1 3.1-7.2-3.1 7.2M161.9 219.6l-14-11.4 3-7.3-3 7.3 1.4 1.2 3-7.3-3 7.3 1.4 1.1 1.5-3.6-1.5 3.6M183.4 218.9l-15-9.9 2.2-7.6-2.2 7.6 1.5 1 2.2-7.6-2.2 7.6 1.5 1 2.3-7.6-2.3 7.6 1.5 1 1.1-3.8-1.1 3.8M205 218l-15.8-8.6 1.6-7.8-1.6 7.8 1.5 .8 1.7-7.7-1.7 7.7 1.6 .9 1.7-7.7-1.7 7.7 1.6 .8 1.6-7.7-1.6 7.7M226.5 216.9l-16.8-6.5 .7-7.9-.7 7.9 1.7 .6 .6-7.9-.6 7.9 1.7 .7 .6-7.9-.6 7.9 1.7 .6 .6-7.8-.6 7.8 1.6 .7 .4-4-.4 4M248 215.6l-17.5-4.3 4-6.8 .4 7.9M269.5 214.2l-17.9-1.5 2.9-7.4 1.6 7.8M-11.4 240.2l0-18 7.6-2.3-7.6 2.3 0 1.8 3.8-1.1-3.8 1.1M10.4 240.9l.5-18 7.6-2-7.6 2 0 1.8 3.8-1-3.8 1M32.1 241.4l1.4-17.9 7.7-1.7-7.7 1.7-.2 1.8 3.9-.8-3.9 .8M53.8 241.8l2.3-17.9 7.7-1.3-7.7 1.3-.3 1.8 3.9-.6-3.9 .6M75.6 242l3-17.8 7.8-.9-7.8 .9-.3 1.8 3.9-.5-3.9 .5M97.3 242l-5.9-17 6.4-4.6-6.4 4.6M119 241.8l-16.2-7.7 1.2-7.8-1.2 7.8M140.8 241.4l-15.6-9 1.8-7.6-1.8 7.6 1.5 .9 1.9-7.6-1.9 7.6M162.5 240.9l-15.7-8.9 1.8-7.7-1.8 7.7 1.6 .9 1.8-7.7-1.8 7.7 1.6 .9 1.7-7.7-1.7 7.7M184.2 240.1l-16.1-8 1.4-7.8-1.4 7.8 1.7 .8 1.3-7.8-1.3 7.8 1.6 .8 1.4-7.8-1.4 7.8 1.6 .8 .7-3.9-.7 3.9M205.9 239.2l-16.3-7.4 1-7.8-1 7.8 1.6 .7 1.1-7.8-1.1 7.8 1.6 .8 1.1-7.8-1.1 7.8 1.7 .7 1.1-7.8-1.1 7.8M227.7 238.2l-16.8-6.6 .7-7.9-.7 7.9 1.7 .6 .6-7.8-.6 7.8 1.6 .7 .7-7.9-.7 7.9 1.7 .6 .7-7.8-.7 7.8 1.7 .7 .3-3.9-.3 3.9M249.4 236.9l-17.4-4.7-.2-7.9 .2 7.9 1.7 .5-.2-7.9 .2 7.9 1.8 .4-.2-7.9 .2 7.9 1.7 .5-.2-7.9 .2 7.9 1.7 .5-.1-4 .1 4M-12.2 261.6l0-18 7.6-2.3-7.6 2.3 0 1.8 3.8-1.2-3.8 1.2M9.7 262.3l.6-18 7.6-2-7.6 2-.1 1.8 3.8-1-3.8 1M31.7 262.8l1.3-17.9 7.7-1.7-7.7 1.7-.1 1.8 3.8-.8-3.8 .8M53.6 263.2l2.2-17.9 7.8-1.3-7.8 1.3-.2 1.8 3.8-.6-3.8 .6M75.5 263.4l3-17.8 7.9-.9-7.9 .9-.3 1.8 3.9-.5-3.9 .5M97.4 263.4l-8.6-15.9 5.6-5.5-5.6 5.5M119.3 263.2l-16.3-7.7 1.2-7.8-1.2 7.8M141.2 262.8l-15.6-9 1.9-7.7-1.9 7.7 1.6 .9 1.8-7.7-1.8 7.7M163.1 262.3l-15.7-8.9 1.8-7.7-1.8 7.7 1.6 .9 1.8-7.7-1.8 7.7 1.6 .9 1.7-7.7-1.7 7.7M185 261.5l-16.1-8 1.4-7.8-1.4 7.8 1.6 .8 1.4-7.8-1.4 7.8 1.6 .8 1.4-7.8-1.4 7.8 1.7 .8 .6-3.9-.6 3.9M206.9 260.6l-16.4-7.3 1-7.8-1 7.8 1.6 .7 1.1-7.8-1.1 7.8 1.7 .7 1-7.8-1 7.8 1.6 .8 1.1-7.8-1.1 7.8M228.8 259.5l-16.7-6.5 .6-7.9-.6 7.9 1.6 .6 .7-7.8-.7 7.8 1.7 .7 .7-7.9-.7 7.9 1.7 .6 .6-7.8-.6 7.8 1.7 .7 .3-3.9-.3 3.9M250.7 258.2l-17.4-4.6-.3-7.8 .3 7.8 1.7 .5-.2-7.9 .2 7.9 1.8 .5-.3-7.9 .3 7.9 1.7 .4-.2-7.9 .2 7.9 1.8 .5-.2-4 .2 4"/><path fill="#000" stroke="#000" stroke-width="1" d="M238.6 51.6l7.6 2.2-7.5 2.3zM240.1 72.2l7.6 2.2-7.6 2.3zM241.3 92.8l7.6 2.2-7.5 2.3zM218.8 115.1l7.9 .9-7.1 3.5zM238.3 114.1l7.9 .4-6.8 4zM216.7 136.8l7.9-.5-6.3 4.7zM234 137.5l7.6-2.3-5.1 6zM250 141.1l6-5-2.2 7.5zM230.9 162.8l6.3-4.8-2.7 7.4zM249.5 166.2l4.6-6.5-.3 7.9zM269.8 168.2l3.2-7.2 1.3 7.8zM229.4 189.3l4.4-6.6 0 7.9zM250.2 190.6l3.2-7.2 1.2 7.8zM271.4 190.8l2.5-7.4 2 7.6zM230.5 211.3l4-6.8 .4 7.9zM251.6 212.7l2.9-7.4 1.6 7.8z"/><circle cx="55.1" cy="136.3" r="2.7" fill="none" stroke="#000" stroke-width="1.3"/><path d="M137.25 105.3h6.6" stroke="#222" stroke-width="2.3"/><path d="M140.55 102.5v5.6" stroke="#222" stroke-width="1.8"/></g><rect x="0" y="0" width="283.1" height="258.8" fill="none" stroke="#000" stroke-width="1.1"/><path d="M0.5 0.5h4.5a4.5 4.5 0 0 1-4.5 4.5z" fill="#000"/></g><text x="693.5" y="362.4" font-size="17.4" text-anchor="middle">CSU WRF member 2</text><g transform="translate(1032.4 369.8)"><g clip-path="url(#pc)"><rect x="1.8" y="0.3" width="280.3" height="254.9" fill="#824b09"/><path fill="#995d13" d="M3.8 .3l278.3 0 0 254.9-280.3 0 0-254.9 2 0zM116.9 118.7l-1 .3-2 .8-2.1 .9-3.9 2.2-2.6 1.8-2.5 2-2 2.1-1.5 2-1.4 2.6-.5 1.4-.5 2-.3 2-.1 2 .1 4 .4 4 .9 7.4 .1 2.7 0 4-.4 4-.7 4-1 3.6-.9 2.4-1.9 4-3.1 6.1-.7 2-.6 2-.4 2-.1 2 .1 2 .4 2 .5 2 .7 2 .9 2 1.1 2.1 2 3.1 2 2.8 0 .1 2 2.3 2 2.2 2 1.9 2 1.6 2 1.2 2 1 2 .7 2 .5 2 .3 2 0 2-.1 2-.2 2-.5 2.5-.9 1.5-.7 2-1.4 2-2 1.2-1.9 .9-2 .4-2 .3-2.1 .3-4-.1-4-.5-6-1.4-16.1-.3-6-.1-8 .1-10 .4-16.1-.2-4-.3-4-.6-4-.5-2.1-.7-2-1-2-1.9-2.5-2.3-1.5-1.7-.5-2-.1-2 .3-1 .3z"/><path fill="#ad7021" d="M3.8 .3l278.3 0 0 254.9-145.3 0 1.1-.7 2-1.3 2.4-2 1.9-2 3.2-4 2.6-4.2 .7-1.9 .6-2 .3-2-.1-2-.5-2-1-2.2-.9-1.8-1.2-2-2.5-6-1.8-6-1.9-8.1-1.3-6-1.7-10-.8-6.2-.5-5.9-.3-6-.2-8 .1-8.1 .4-10 .5-12.6 .1-5.5-.2-6-.4-6-.7-6-.8-6-1.5-6.1-.5-2-2-4.2-2-2.7-2-1.5-2-.8-2 0-2 .7-2 1.3-2 1.9-4 5.3-3 4-3 3.4-.6 .7-2.3 2-2.7 2-2.4 1.4-4.9 2.6-3.1 1.7-2 1.3-2 1.5-2 1.9-2 2.3-1 1.3-1.2 2-1 2-.8 2-1.3 4.1-.9 4-2.5 12-1.2 4-.8 2-1.3 2.9-1.8 3.2-3.6 6-1.1 2-1.9 4-1.7 4-2 6-5.4 18.1-2.2 6-2.3 6.8-.4 1.3-.5 2-.3 2-.2 2-.1 2 .1 2 .3 2 .5 2 .6 2.1 .7 1.9 1.3 2.5 2 2.7 2 1.9 2 1.4 2 1 2 .7 2 .5 8 1.6 2 .7 2 1.1 2.1 2 1.5 2 1 2 .5 2-.4 2-78.8 0 0-254.9 2 0zM87.5 8.3l-1.6 1.3-2.4 2.7-1.6 2.5-2 4.6-.9 3-.9 4-.3 2-.4 4-.2 4 0 4 .2 4.1 .5 5 .5 3 .8 4 .7 2.8 1.1 3.2 .9 2.5 2 3.9 2 2.7 2 1.8 2.3 1.2 1.7 .5 2 .1 2-.1 3-.5 3-.8 10-2.7 2-.7 2-1.1 2-1.5 1.2-1.3 1.4-2 1-2 .6-2 .4-2 0-2-.3-2-.6-2-1.1-2-3.2-4-7.8-8.1-1.7-2-1.9-2.3-2.6-3.7-2.3-4-1.8-4-1.7-4-3.8-10.1-1.8-1.7-2 .3-2 1.1-.4 .3zM209.7 26.4l-1.8 2-.9 2-1 3-.2 1-.3 2-.2 2 .1 2 .2 2 .7 2.1 1.7 2.1 2 1 2 .4 2 .1 2-.2 2-.3 2-.5 2-.7 2-1.2 1.1-.7 .9-.9 1-1.2 1-2.1 .3-1.9-.3-2.3-.6-1.7-1.4-2.2-2-2.1-2.1-1.7-1.9-1.2-2-1-2-.7-2-.4-2 .1-2 .9-.3 .3z"/><path fill="#c28633" d="M3.8 .3l74.1 0-2 4.3-1.4 3.7-.6 2-1 4-1 4.9-.8 5.2-.6 6-.3 6-.1 6 .1 6.1 .4 6 .8 8 1.3 12.1 .3 4 0 4-.1 4-.5 4-.8 4-1.2 4-2.5 7-1.8 5.1-1.1 4-1.1 4.8-2 9.5-1.1 3.8-1.4 4-1.7 4-4.6 10-1.5 4-1.2 4.1-1 4-2.9 12-1.2 4-1.5 4-.8 2.1-2.2 4-1.2 2-1.8 2.4-2.9 3.6-3.8 4-3.7 4-1.7 2-1.3 2-1 2-.7 2.1-.5 2-.2 2 0 2 .2 2 .4 2 1.1 4 2.1 6.1 2.1 5.9 1.1 4.1 .8 4 .2 2 .1 2-.3 2.3-.5 1.7-27.5 0 0-254.9 2 0zM123.9 1.7l.4-1.4 15.6 0-4 2.6-6 4.6-2 1.1-2 .2-.8-.5-1.2-1.2-.2-.8-.2-2 .4-2.6zM196 .3l15.8 0-1.8 .6-2 .5-4 .5-4 .1-2-.1-2-1.3-.1-.3 .1 0zM254.1 1.6l2.7-1.3 25.3 0 0 254.9-112.5 0-.4-4-.6-8-.7-10.1-.7-6-.7-4-.8-4-1.2-4-.7-2-.9-2.1-1-2-1.9-3-2-2.2-2-1.2-2-.1-2.8 .5-1.2 .2-2-.8-2-2.7-1.1-2.7-.9-2.7-.9-3.3-.8-4-.6-4.1-.7-6-.4-6-.3-6 0-8 .2-8.1 .6-10 .7-14.1 .4-14 .3-8 .5-6.1 .5-4 .5-2.4 1-3.6 1-2.5 2-2 2 .2 2 1.6 2 2 2 1.5 2 .5 2-.4 4-1.4 2-.5 2-.3 2-.1 2 .1 2 .2 2 .4 4 1.1 4 1.3 2 .5 2 .3 2 0 2-.3 2-.5 2-.9 2-1.3 2-1.7 2-2.2 2.5-3.6 2.1-4 3.2-6.1 1.2-2 1.5-2 1.8-2 2.3-2 2.9-2 2.5-1.5 8.5-4.5 2.8-2 2.2-2 1.6-2 1.3-2 .9-2.1 .8-2 .4-2 .3-2 .1-2 0-2-.3-2-.5-2.9-.4-1.1-.7-2-.9-2.2-4.1-7.9-.6-2 .1-2 .5-.9 .9-1.1 1.2-.6 3.1-1.4 6.9-1.9 2-.6 4-1.4 2-.8zM186 4.2l2-.1 2 .1 .9 .1 1.1 .5 .8 1.5 .1 2-.2 2-.8 4-1.2 4.1-.7 2-1 2-1.3 2-1.8 2-1.9 1.3-2.1 .7-2.2 0-1.7-.5-2.4-1.5-1.8-2-1.2-2-.9-2-.5-2-.3-2-.1-2.1 .3-2 .9-2.2 1.3-1.8 .7-.6 2.2-1.4 1.8-.7 2-.5 2-.5 2.3-.3 1.7-.1z"/><path fill="#cfa256" d="M3.8 .3l67.1 0-1.3 4-1 4-.9 4-1 6.1-.8 6.4-.8 7.6-.5 8-.2 6.1 0 6 .3 8 .3 8-.1 4.1-.2 4-.5 4-.5 2-.5 2-1.3 3.6-1.1 2.4-1.1 2-1.8 2.9-2.3 3.1-3.7 4.5-3.1 3.6-6.2 8-2.8 4.3-.9 1.7-1.1 2.6-.5 1.4-.5 2-.3 2.1-.1 2 .1 4 1.1 14 .1 4-.1 4.1-.2 4-.5 4-.7 4-.9 4-1.3 4-.9 2-1.3 2.5-.9 1.5-1.3 2.1-1.8 2.1-2 2.3-2 1.9-4.1 3.7-7 6-2.9 3.1-.8 .9-1.5 2-1.7 2.9-.6 1.1-.8 2.1-.7 2-1 4-.9 4.6 0-.6 0-222.8 2 0zM274.1 1l.8-.7 7.2 0 0 254.9-95.2 0-.4-2-1-4-2.2-6-1.4-4.1-1.7-6-.9-4-4-18.1-1.3-4.1-1.6-3.9-1-2-1.4-2.3-2-2.8-2.4-2.9-3.8-4-1.8-1.7-2-1.3-2-.1-2.1 1.1-1.9 1.4-2 1.1-2-.7-2-3.5-.7-2.4-.9-4-.6-4-.5-6-.3-6 0-6 .2-6.1 .5-8 .6-6 1.8-14.1 1.9-7.2 2 1.9 4 17.4 2 4.9 2 2.1 2-.2 2-1.2 6-4.5 4.6-3.1 2.6-2 2.2-2 1.7-2.1 1.5-2 1.4-2.2 4.3-7.8 2.7-4 3.2-4 9.8-11 2.2-3.1 2.3-4 2-4 4.7-10 1.2-2 1.6-2.6 2-2.5 2-2.1 2-1.7 2-1.4 4-2.5 6-3.4 3-1.9 3.1-2.4 2-2 2-2.5 .7-1.1 1.3-2.2 .9-1.9 1.5-4 1.2-4 2.7-10 .7-2 1-2.1 1.1-1.9 1.5-2 1.9-2.1 3.5-3.1 12-10.2z"/><path fill="#dcbc75" d="M3.8 .3l61.4 0-.9 4-1.1 6-1.3 9.4-1.6 12.7-1.3 12.1-.5 6-.2 6-.3 12-.4 4.1-.4 2-.4 2-.9 2.9-.5 1.1-1.5 3-.7 1-1.5 2-1.9 2-2.4 2-1.6 1.1-4 2.4-10 5-2.5 1.6-2.6 2-.9 .7-2 2.3-.6 1-1.4 2.4-.7 1.6-.7 2-.6 2.3-.6 3.7-.3 4 .1 4 .4 4.1 .8 4 1.1 4 1.9 6 1.2 4 .9 4 .6 4.1 .2 4-.3 4-.3 2-.4 2-.6 2-.7 2-.8 2-1.2 2.2-2 3.1-.6 .7-1.7 2-2 2.1-3.7 3.1-10 8 0-195.8 2 0zM282.1 4.7l0 250.5-80.8 0 .7-2 .5-2 .3-2 .1-2-.2-2-.7-2.7-.5-1.3-1.5-3-.6-1.1-3.4-5-2-3-2.3-4-1.8-4-1.5-4-1.1-4-1.3-5.6-.8-4.5-1.8-10-1.4-6-1.2-4.1-.8-2.2-4.1-9.8-.6-2-.3-2 .1-2 .5-2 .9-2 1.5-2.5 1-1.5 1.4-2.1 5.6-7.4 5.6-8.6 1.1-2 2-4 1.7-4 2.1-6.1 2.7-8 2.8-6.9 1.3-3.1 1.9-4 1.7-4.1 2.5-6 4.9-12 1.7-3.2 .5-.8 1.5-2.2 2-2.4 2-2 2-1.7 2.6-1.8 3.4-2 8.1-4.7 2-1.3 2.5-2 2.2-2 1.8-2 1.5-2 2-3.1 1.6-3 6-12 1.2-2 1.3-2 1.9-2.5 3-3.5 13.2-14.1 1.8-1.6zM148 146.4l2 1.5 .7 2.9 .8 4 .4 4.1 .1 3.9 0 .1-.2 2-.3 2-.5 2-1 2.7-2-.5-.5-2.2-.7-4-.3-4 0-4 .3-4.1 .6-4 .6-2.4z"/><path fill="#e7cf94" d="M3.8 .3l56 0-2.8 22.1-1.3 8-1.9 10-2.5 12.1-1 6-.6 4-.8 4-1.1 3.8 0 .2-1 2.1-1.2 2-1.9 2-1.9 1.3-2 1-2 .6-2 .3-2 .1-2-.2-2-.4-2.2-.7-1.8-.9-2-1.3-7.5-5.9-.5-.2-2-.9-2-.5-2 .1-2 .5-2 1-2.3 2.1-1.7 2 0-74.3 2 0zM282.1 14.7l0 240.5-66.9 0 .8-2.1 .5-1.9 .4-2 .2-2 0-2-.1-2-.2-2-.3-2.1-.5-2-.6-2-1.4-3.1-.4-.9-1.6-2.5-2-2.6-2.5-2.9-3.5-4-2-2.8-.8-1.2-1.2-2.2-.8-1.9-1.2-3.5-.1-.5-.4-2-.5-4-.1-4 .1-4 .9-14.1 0-6-.2-6 .2-4 .3-4 .8-4.1 1-4 4.6-16 1.4-6 2.1-10.1 1.5-6 2.2-8 3.2-10.1 2.6-8 1.5-4 .9-2.2 .9-1.8 1.2-2 1.9-2.7 2-2.2 2-1.8 2-1.6 4-2.5 10.1-5.6 2.5-1.7 2.7-2 2.8-2.6 2-2.2 2-2.6 1.8-2.6 6.3-10.1 2.9-4 3-3.6 9.2-10.4 2.8-3.7zM3 96.6l2 4.1 1.6 4 1.2 4 .8 4 .7 4 .9 8 1.8 16.1 1.6 12 .3 4.1-.1 3 0 1-.3 2-.4 2-.6 2-.8 2-1 2-1.2 2-1.7 2.1-2 2-2.4 1.9-1.6 1.1 0-85.4 1.2 2z"/><path fill="#f1dfb3" d="M3.8 .3l50.6 0-.1 4-.4 6-.7 6.1-1 6-.9 4-1.4 5.7-1.5 4.3-.8 2-2 4-1.8 2.8-2 2.5-2 1.8-2 1.2-2 .9-2 .5-2 .1-2 0-4-.4-6-1.1-4-.8-4-.6-4-.4-2 .1-2 .3-2 .8 0-49.8 2 0zM282.1 27.1l0 228.1-55 0 .9-2.5 .9-3.5 .9-4 .8-6.1 1.4-10.3 2.2-13.7 .1-2-.3-2.1-.8-2-1.6-2-1.6-1.1-2-1-4-1.9-2-1.1-2-1.6-1.1-1.3-1.2-2-.7-2-.5-2-.5-3.1-.2-2.9-.8-12.1-1-8.4-1-9.6-.4-6.1-.1-6 .1-6 .3-6 .5-6.1 .8-6 1-6 1.2-6 2.3-10.1 1.5-6 1.1-4 1.4-4 1.3-3.2 .5-.8 1.5-2.7 1-1.3 1.8-2 2.2-2 2.7-2.1 2.4-1.3 4.9-2.7 5.1-2.6 4-2.4 2-1.4 2-1.6 2.3-2 2-2 1.8-2 3.1-4 3-4 3.8-4.8 4-4.4 6.9-6.9 1.1-1.3zM2.4 116.7l1.1 4 .7 4 .5 4.1 .2 4 0 4-.3 4-.5 4-.4 2-.5 2-.7 2-.7 1.6 0-37.5 .6 1.8z"/><path fill="#f6eacb" d="M3.8 .3l44.5 0 .3 2 .2 4-.1 4-.4 4-.7 4.1-1 4-.8 2.3-1.4 3.7-1.1 2-1.5 2.4-2 2.5-2 1.8-2 1.3-2 1-2 .6-2.4 .4-1.6 .2-2 0-2.9-.2-1.1-.1-2-.3-2-.5-3.5-1.1-.5-.2-2-.9-2-1.2-2-1.7-2-2.5-.8-1.5-1.2-2.8-.9-3.2-1.1-5.6 0-18.5 2 0zM280.1 41.5l2-1 0 214.7-49.7 0 8.7-16.1 5.1-8 2.7-4 3.2-4.4 2.6-3.6 1.5-2 9.9-14.4 2.4-3.7 3.9-6 3.7-6 3-6.1 1-2.2 1-3.8 .4-2 .1-2 0-2-.3-2-.5-2-.8-2-1.2-2-.7-1-1-1-1-.9-2-1.3-2-.8-2-.5-2-.4-2-.2-4.2 0-3.8 .4-6 1-8 1.2-2 .2-2 .1-2-.2-2-.4-2.1-.6-2-.9-2-1.4-2-1.8-2-2.3-.8-1.3-1.2-2-.9-2-1.1-2.6-.9-3.4-.7-4-.4-4-.1-4.1 .2-4 .3-4 .8-6 1.3-8 1.8-10.1 1-4 1.2-4 1.5-3.7 .2-.3 1.8-3 .8-1 1.9-2 2.5-2 2.9-1.8 2-1.1 4-2 6.6-3.2 3.6-2 3-2 2.8-2.1 2.1-1.9 3.9-4.1 6-6.5 2-2 2-1.7 2.5-1.8 1.5-.9z"/><path fill="#f5f0e0" d="M5.8 .3l34.9 0 .8 2 .6 2 .3 2 .1 2-.1 2-.2 2-.4 2.5-.3 1.6-.7 2-1 2.5-.7 1.5-1.3 2-2 2.3-2 1.7-2 1.1-2.2 .9-1.8 .4-2 .3-2 0-2-.3-2-.4-2-.7-2.5-1.3-1.5-1.1-2-1.9-.8-1-1.3-2-1-2-.9-2.1-1.2-4-.9-4-1.9-10 2 0zM282.1 51.9l0 95.4-2-1-2-.8-2.7-.7-1.3-.2-4-.4-4-.1-6 .3-8 .5-4 0-4-.2-2-.3-2-.4-2-.6-2-.9-2.6-1.7-2-2-1.5-2-1-2-1-2.3-.5-1.7-.4-2-.3-2.1-.2-4 .1-4 .3-4 .9-8 1.3-10.1 .8-4.3 1.1-3.7 .9-2.4 .8-1.6 1.3-2 2-2.3 2-1.7 3-2 3-1.5 4-1.7 8-3.4 4-2.1 2.1-1.4 2.8-2 3.1-2.6 6-5.5 2.5-1.9 1.5-1 2.2-1 1.8-.6zM282.1 186l0 69.2-47.1 0 1.3-2 2.4-4 1.4-2.1 2-3.3 1.7-2.6 4.3-6.3 2.5-3.8 1.5-2 2.8-4 3.2-4.2 2.6-3.8 1.5-2 8.5-12.1 1.4-2 2.7-4 1.5-2 5.8-9z"/><path fill="#f4f5f5" d="M15.8 1.2l1.3-.9 9.4 0 1.3 .6 2.3 1.4 1.7 2 .9 2 .5 2 0 2-.4 2-1 2.6-1 1.5-1 1-2 1.4-2 .7-2 .1-2-.3-2.3-.9-1.7-1.3-.7-.7-1.5-2.1-.9-2-.7-2-.3-2-.1-2 .3-2 .9-2 1-1.1zM282.1 61.5l0 74.2-2-.6-2-.4-2-.2-4-.2-4 .2-12 .7-4 0-4-.4-2-.4-2-.6-2.4-1-1.6-1.1-1.1-.9-.9-1-.8-1-1.2-2.4-.6-1.7-.4-2-.3-2-.1-4 .2-4 1.3-14.1 .6-4 .5-2 .8-2.3 .8-1.7 1.2-2 2-2.1 2.5-1.9 1.5-.8 2.4-1.2 3.6-1.3 4-1.2 4.5-1.5 1.5-.6 3-1.4 1-.5 2.3-1.5 2.5-2.1 3.2-2.8 3.5-3.2 .5-.3 2.3-1.7 1.7-1zM282.1 189.8l0 65.4-45.4 0 1.4-2 2.5-4 5.5-8.2 2.6-3.9 3.4-4.8 2.3-3.2 11.7-16.3 2.6-3.8 1.5-2 4.2-6 5.7-8.2 2-3z"/><path fill="#e2f0ee" d="M282.1 72l0 47.4-4-1.9-2-.6-4-.6-2 0-3.5 .4-4.5 .6-2 0-2-.2-1.3-.4-.7-.4-1.6-1.6-.6-2 0-2 .4-2 .9-2 1.2-2 1.9-2 1.8-1.2 2-1 2-.9 2-1.2 2-1.8 2-2.5 3-5.5 1-2 1.8-4 .2-.3 .8-1.7 2.1-4 2.6-4 .5-.6zM282.1 192.1l0 63.1-44 0 2.6-4 1.4-2 2.6-4 3.4-4.9 2.2-3.2 4.2-6 3.6-5 2.2-3 21.8-31z"/><path fill="#ceece8" d="M282.1 193.9l0 61.3-43 0 3-4.4 2.4-3.6 12.6-18.1 3-4 2.8-4 3.2-4.4 2.5-3.6 3.5-4.9 2.3-3.2 7.7-11.1z"/><path fill="#b4e2db" d="M282.1 195.4l0 59.8-42 0 2.7-4 7.3-10.6 2.4-3.5 17.6-24.6 2.4-3.5 5.7-8 3.9-5.6z"/><path fill="#98d7cd" d="M282.1 196.7l0 58.5-41.2 0 15.3-22.1 8.6-12 5.3-7.3 7.6-10.8 2.8-4 1.6-2.3z"/><path fill="#79c8bc" d="M282.1 197.9l0 57.3-40.4 0 15.3-22.1 7.3-10 17.8-25.2z"/><path fill="#58b0a7" d="M282.1 199l0 56.2-39.6 0 7.6-11.1 6.3-9 25.7-36.1z"/><path fill="#3b9b93" d="M282.1 200.1l0 55.1-38.9 0 9.7-14 29.2-41.1z"/><path fill="#23867e" d="M282.1 201.1l0 54.1-38.2 0 9.7-14 28.5-40.1z"/><path fill="#0c7169" d="M282.1 202.2l0 53-37.4 0 5.4-8 10-14.1 18.6-26.1 3.4-4.8z"/><path fill="#015f56" d="M282.1 203.2l0 52-36.7 0 4.7-6.8 18-25.4 8.5-12 5.5-7.8z"/><path fill="#004c42" d="M282.1 204.4l0 50.8-35.9 0 9.9-14.3 11.3-15.8 8.7-12.3 5.5-7.8 .5-.6z"/><path fill="#003c30" d="M282.1 205.6l0 49.6-35.1 0 3.1-4.5 24-33.9 4.1-5.8 3.9-5.4z"/><path fill="#73a9cf" d="M282.1 206.8l0 48.4-34.2 0 2.2-3.2 4.7-6.8 3.3-4.7 2.4-3.4 7.6-10.6 2.5-3.4 5.7-8 5.8-8.3z"/><path fill="#62a2cb" d="M282.1 208.4l0 46.8-33.1 0 2.7-4 2.7-4 5.7-8.1 4.3-6 17.7-24.7z"/><path fill="#509ac6" d="M282.1 210.2l0 45-31.9 0 8.2-12 5.7-8.1 4.4-6 5.8-8 7.2-10.1 .6-.8z"/><path fill="#3f93c2" d="M282.1 212.6l0 42.6-30.2 0 .2-.3 2.4-3.7 3.6-5.3 3.4-4.7 2.8-4.1 10.3-14 3.5-4.9 .8-1.1 1.4-2 1.8-2.5z"/><path fill="#2f8bbe" d="M282.1 216.4l0 38.8-27.6 0 3.7-6 7.9-11.2 .7-.9 1.4-2 4.6-6 1.4-2 4.5-6 1.4-2 2-2.7z"/><path fill="#2182b9" d="M278.1 234.2l2-.6 1.7 1.5 .3 .6 0 19.5-20.6 0 .6-2 2.1-4 3.9-5.5 .5-.5 1.6-2 1.9-2.1 2-2 2-1.6 .6-.4 1.4-.9z"/><path fill="none" stroke="#000" stroke-width="1.7" stroke-linejoin="round" d="M.3 22.3l2.1 .3 2.1 .2 1.8 .8 1.8 .5 1.9 .5 1.6-.1 1.6-.2 1.7 .2 1.6-.3 1.7-.1 1.8 .4 1.8 .1 1.7-.6 1.7 .1 1.6 .7 1.7 0 1.7 .3 1.6 .6 1.7-.2 1.8-.1 1.7 .3 1.7 .2 1.5 1.2 1.7 .3 1.8 0M48.4-.5l-.2 1.6-.6 1.6 .5 1.7-.6 1.6-.1 1.7-.2 1.6-.4 1.6-.4 1.6-.4 1.6-.4 1.6-.2 1.6-.5 1.6 .2 1.7-1 1.5 .7 1.8-1 1.5-.1 1.6 1.2 1.8 1 1.8 1.2 1.8-.8 1.8-1.2 1.4-1.7 1.2-.9 1.7-1.5 1.2-.4 2-1.4 1.3-.9 1.6 .1 1.7 .4 1.6 .9 1.4 .1 1.7-.3 1.6-.5 1.6-1.1 1.4 .5 1.8-.6 1.5-1 1.5 .2 1.7-.5 1.6 0 1.6-.7 1.6-.5 1.5 .5 1.8-1.1 1.4-.6 1.6 .2 1.7M55.9-.5l.3 2 .6 1.9-.3 2 .4 1.7 .7 1.7 .5 1.7 .4 1.7 1.1 1.5 1.1 1.6 .6 1.8 1.2 1.5 .8 1.7 1.8 1.5 1.5 1.9-.8 1.5-.5 1.6-.3 1.8-1 1.4-.2 1.9 .1 2-.6 1.9 2.2-1.3 1.5 .9 1.7 .4 .2 1.8 .9 1.6 .2 1.8 1.3 1.4 .1 1.8 .6 1.7 1.1 1.5 .3 1.9 1 1.5 .3 1.9 1.6-.8 1.8 .2 1.6-.7 1.8-.1 1.6-.4 1.6 .1 1.7 .1 1.6 .2 1.6 0 .6-1.5 1.3-1.1 .8-1.4M92.3 47.3l29.2 2.9 17 1.2 13.1 1.3M92.3 47.3l-6.1 48.5M86.2 95.8l18.3 1.5 24 1.9 21.5 1.3 18.9 1.4M.3 68.2l7.7 1.5 26.3 5.2 25.6 5.4 26.3 3.4M8 69.7l-7.7 34.8M.3 104.5l17.8 26.4 23.2 30.6M59.9 80.3l-7.4 50.6-.7 8.9M104.4 97.3l-3.6 33.6-7.8 83.7M51.8 139.8l23.7 3.1 23.1 2.5 24.9 2.2 23 1.5 20.7 .5 36.3-.1 35.7-.6M168.9 101.9l-.7 29-1 18.7M168.9 114l29.6-.4 30.4-.9M154.7 3.5l-1.4 37-1.7 36.4-1.6 23.6M98.5-.5l8.6 1.2 21.4 1.8 26.2 1.5 21.6 .4 33.7 0 16.2-2.3 1.3-2.6M176.3-.5l0 4.9M153.3 40.5l30.2 .5 32.6 .2M151.6 76.9l1.7 .2 1.7-.1 1.6 .4 1.7-.7 1.7 .7 1.7 0 1.7-.1 1.6 .4 1.7-.8 1.7-.2 1.7 .7 1.7 .3 1.7-.1 1.6-.8 1.7 .1 1.7 .5 1.7-.2 1.7 .4 1.7 .2 1.7-.7 1.7 .5 1.7 .1 1.6-.4 1.7 .5 1.7 .1 1.7-.7 1.7 .9 1.7-.5 1.7 0 1.3 1.1 1.6 .4 1.2 1.2 1.7 0 1.6-.8 1.7-.4 1.7-.1 1.6 .3 1.3 1 1.7 .3 1.5 .4 1.6 1.5M210 4.4l.7 1.8-.5 1.9 .9 1.7 .3 1.8-.1 1.9 .7 1.6 .8 1.5-.1 1.8 .4 1.7 .9 1.5-.3 1.7 .6 1.6 .7 1.6-.1 1.7 .2 1.7 .6 1.6 .4 1.6-.2 1.7 .2 1.7 .7 2.3-.1 2.4-1.4 1.7-1.3 1.7 1.2 1.3 .9 1.5 1.3 1.2 .2 1.7-.5 1.7 .3 1.6 .3 1.7 .1 1.6 .1 1.7 .5 1.6-.4 1.7 .6 1.6-.4 1.7 .9 1.6-.6 1.8 .3 1.6-.8 1.7-.6 1.7 .4 1.9 .8 1.8 .6 1.8 .2 1.9 .5 1.6 1.1 1.4-.2 1.9 .6 1.5 1.3 1.3 .1 1.8 .9 1.7 .5 1.7-.6 2.1 .9 1.7 .9 1.6 .1 1.9 .6 1.6-.1 1.7 .8 1.5-.1 1.8 .9 1.5 1 1.6 .3 1.8 1.7 .9 1.7 .9 2 .2-.1 1.8 .3 1.7 .6 1.6 .5 1.7 1.4 1.7 2 1 0 1.7 .2 1.6 .5 1.7-.5 1.7-.4 1.6 .7 1.7-.6 1.6-.2 1.6 .1 1.7 0 1.6 .3 1.7 .3 1.6 .2 1.6-.3 1.7-.1 1.6 .1 1.6 .7 1.5 .6 1.5 0 1.7 .6 1.7-.5 2 1.1 1.7-.4 1.9 1.1 1.6-.6 2 .8 1.7 .2 1.6-.2 1.6 .1 1.7 .4 1.6-.4 1.6 1 1.6-.3 1.6 .3 1.6 0 1.6-.3 1.7 .5 1.6-.2 1.6 .3 1.6M218.8 70.2l21.7-.9 23.5-1.1M226.9 105.3l19.6-.9 18.1-1.2M252.5 29l.5 1.8-.1 1.9 .2 1.9 .1 1.9-1.5 1.1-.6 1.8-1.4 1.3-1.3 1.2 .5 1.7-.3 1.8 .7 1.7-.4 1.8 1 1.6-.4 1.8 .3 1.7 1.3 1.3 1.4 .9 1.8 .4 1.6 .8 .9 1.7 1.4 1.1 1.7 .6 1.4 1.5 1.9 1 1.4 1.5 0 1.7 .4 1.6 .6 1.5 0 1.7 .4 1.6 1.3 1 1 1.2 1.2 1.2 1.6 .6 .9 1.4 .7 1.6 .9 1.4 1.3 1.2 1.2 1.2-.6 1.8 .6 1.9-.7 1.7-1.3 1.2-1.9 .1-1.4 1-1.4 1.1 0 2 .4 2-.4 2-1 1.4-1.1 1.3-.8 1.5-1.2 1.2 .8 1.5-.2 1.7 .7 1.6 .3 1.6-.2 1.7 1.2 1.2 1.2 1.3 1.9 .4 1.3 1.1 1.1 1.4 1.2 1.1 1.5 .8 .8 1.6 1.3 .9 1.3 1 .3 1.6-.3 1.7 .6 1.6 .7 1.5 0 1.7 2.3 1.9M283.1 169l-1.2 2.3-.5 1.6-.9 1.4-.2 1.6-.2 1.7-.7 1.9-.8 1.8-1.2 1.7-.7 2.2-.2 2.3 .7 2 0 2.2 .2 2.1 .2 2.1 .5 2.1 .2 2.1 1.7 1 1 1.7-1.5 1.2-1.2 1.5-.9 1.8-.2 1.9-.8 1.7-.9 1.7 .1 1.9-.8 2.2-.1 2.3 1.7-.6 1.6 .2 1.7-.1 1.7 .5 1.7-.5M272 78.3l11.1-.7M240.6 155.2l20.9-1.6 21.6-1.9M249 196.5l14.5-1.3 13.9-1.4M158.1 149.6l0 6.3-1.1 27.1-1 27.4M158.1 155.9l29.4 .7 0 23.1M187.5 179.7l-.9-1.2 1.6 1.7 2 1 1.9 .5 1.9 .5 1.6 1.2 1.7 .7 1.9 .2 1.8 .5 1.8 0 1.8 .2 1.8-.2 1.1 1.6 1.6 1.1 2.7-.9 1.4 1 1.5 .7 1.6 .5 1.2-1.3 1.5-.9 1.7 1 2.1 0 1.6 1.2 1.8-1 1.8-.8 2.3-.3 2.2-.6 1.8-.5 1.8 .1 1.6 .7 1.3 1.3 1.6 .7 1.7 1 1.9 .3 1.7 .6 1.8-.1 .9 2-.7 2.3 .8 2-.2 1.7-.1 1.7 .7 1.6-.1 1.7 0 1.7 .4 1.6 .1 1.7 1.1 2 1.7 1.6 .7 1.8 1 1.7 .2 2 .8 1.7-.3 2.1-.5 2.1-.1 2.1 .5 1.8-.7 1.8 .2 1.8 0 1.8-1 1.6-.4 1.9M217.2 259l1.4-.9 1.2-1.3 1.6-.7 1.2-1.2 1.6-1.6 2-1.1 1.7-.3 1.1-1.3 1.8-.1 1-1.4 1.6-.5 1.4-.8 1.2-1.1 1.2-1.1 1.6-.6 1.4-1.3 1.3-1.4 1.6-1.1 1.1-1.6 2-.3 1.4-1.7 1.8-.6 1.9-.5 1.7 .3 1.5-1.1 1.6-.3 1.7 .1 1.6-.4 1.5 .7 1.6 .4 1.8-.2 1.4 .9 2.2 .7 2.3-.2 1-1.2 1.4-.9 1.2-1.1 1.9 .8 1.7 1 2-.2 1.8 .8 1.9 .3M240 242l1.5-1.5 1 2-1.5 1.5M224.5 251.5l2-1 .5 2M118.2 208.6l28.3 1.8 9.5 0M34.9 192.5l36.8 19.4 21.3 2.9 8.8 .5 0-5.1 16.4 .8 0-2.4M118.2 208.6l1.1 1.3 1.2 1.3 1.1 1.3 .8 1.5 1.2 1.2 .6 1.7 1.3 1.1 1.6 1.1 .9 1.9 1.4 1.3 1.6 1.2 1.1 1.7 1.4 1.4 1.5 1.3 0 1.8 1.2 1.7-.6 1.9 .8 1.7 1.6 1.3 1.3 1.6 1.2 1.6 1.4 1.6 2.1 .5 1.5 1.4 1.5 1.4 1.9 .7 2 .5 1.6 1.2 .5-1.7 1.2-1.4 .7-1.6 .5-1.7 1.3-1.3 1.8-.9 1.7-1 2.1-.2 2.1 .5 2.1 0 1.8 .7 1.9-.1 1.9 .3 2 .9 1.4 1.7 .9 1.5 1.5 1 1.2 1.2 .5 1.8 1.5 1.2 .6 1.7 .8 1.6 .4 1.7 .6 1.7 1 1.5 .5 1.7 1.1 1.4M152.5 246.8l-7 12.2M51.8 139.8l-.8 1.7 .1 1.8 0 1.8-.8 1.7-.4 1.7-.2 1.8-1.5-1.1-1.7-.7-2.4 .4 0 1.9-1.1 1.7 .1 1.9-1 1.7-.1 1.9-.5 2.2 .2 2.3 .5 2 .8 1.8 .6 2 .6 2 1.4 1.4-1.6 .8-.8 1.7-1.5 .9-.6 1.7-.4 1.7-.6 1.6-.3 1.8-2 .9-.7 1.9 .2 2 1.5 2-1.2 1.4-1.7 .5-1.2 1.3-1.7 .6 .2 1.8-.6 1.6-.7 1.7 .1 1.7 1 2M11.7 187.9l12.8 1.1 13.3 1.1M.5 166.4l1.2 2 1.2 1.9 .9 1.4 1.2 1.2 1.7 .6 .8 1.5 1.2 1.1 .8 1.6 .9 1.6 .8 1.6 0 1.6-.1 1.7 .1 1.6 .3 1.7 1.1 1.2 0 2 .2 1.9 .8 1.9 .2 1.8 1.2 1.4 .5 1.6-.1 1.8 .1 1.7 .6 1.6 .4 1.7 .9 1.5 .3 1.8 .7 1.6-.1 2 1.3 1.8-.2 2-.1 1.7 .4 1.7 .7 1.6 0 1.7 1.4 1.2 1.1 1.4 1.5 1 1.7 .8 1.1 1.5 .9 1.5 1.3 1.2 .5 1.8 1.1 1.3 .9 1.5 1.4 1.2 .2 1.9 1.4 1.2-.3 1.7-.4 1.7-.2 1.7-.1 1.7-1.6 .7-1.3 1.2-.5 1.9-1.8 1.2-.6 1.8 .6 2.2 .4 2.2M32.5 193.5l-.1 1.9 .3 2-.7 1.9 .4 2.1 1 1.8-.4 2-.8 1.9-.7 1.9 .5 1.9 .1 2 .4 1.9-.3 1.9-.3 1.9 .1 2 .4 1.7 .4 1.8 1.1 1.4 1.1 1.2 1 1.4 1.2 1 1.7 .7 .8 1.5 .3 1.8 1.1 1.4 .6 1.6 1.7 1.2 1.2 1.7 1 2.9 .6 1.7 1.3 1.3 .7 1.5 .3 1.6 0 1.7 .5 1.9 .4 2 .8 1.9 .7 1.9 1.4 1.6M33 199.3l1.8 1.1 1.7 1.1 1.3 1.7 1.3 1.1 1.6 .8 2.9-.9 1.4 1.2 .6 1.7 2.2 1.1 1.6 1.8 1 2.9-.6 1.9-.4 2 1.3 1.7 .7 2.1 .2 1.6 .1 1.6 .9 1.5 .5 1.5 .2 1.6 .9 1.9 .8 1.9 .3 2 .8 1.9 .5 2 .6 1.9 1.8 1.1 1.1 1.8 .8 1.7 1.3 1.5 .8 1.7 .7 2 1.2 1.8 1.7 .7 1.5 1.1 1.7 .7 1.3 .9 1.6 .5-.7 1.8-.8 1.7M21.3 247.8l13.2 1 13 .9M42.3 230.5l1.4 2.5-.6 3.5-1-2.5M53.8 236.6l1.3 1.4-.8 2.2-.8-1.7M93 214.8l-.9 5.8 3.9 2.9 0 6.8-2 7.8 .5 11.6-6.3 1.5 1.9 7.8M229.5-.5l-.1 2 .3 2 .3 2 2.5 1 1.7 .1 1.6 .8 1.7 .1 1.5 1 1.4-1.2 1.6-.8 1.9 .7 2.1-.2 1.5 .8 .9 1.5 1.1 1.2 2.5-1 2.5 1.5 1.2 1.4 1.8 .6 1.3-1 1.4-1 1.3-1 2 1.5 1.6-.8 1.7 .1 1.7-.3 2 1.5 3-1 1.5-2-.5-3 2.1-1 1.9-1.5 1.8-.7 1.2-1.5 1.6-.8M251.5 30l1.2-1.8 1.8-1.2 1.6-.9 1.1-1.4 .9-1.6 1.4-1.1 1.5-1.3 1.4-1.5 1.1-1.7 1.6-.6 1.4-1 1.6-.4 1.4-1 1.9-1.5 2.1-1 1.3-1.7 1.7-1.3 1.2-1.4 1.6-1 1.7-.6 2.1-1.5M251.5 30l3-.8 4-1.6 4.5-2.6 3-.5 1-1.2-1.5 4.7 3.5-.2 1.5 .7 2-1.5 2.5-1.5 2.5-1.5 2.5-2 3.1-2M269.5 29l1.5 3.5 7.5 1.5 4.6 1.5M280.5 1l2.6-1"/><path fill="none" stroke="#000" stroke-width="2.8" stroke-linecap="round" d="M276 13L281.5 8.5M280.5 1.2L283 0.5M266.3 23.3L267 26"/><path fill="none" stroke="#000" stroke-width="1.25" stroke-linejoin="round" d="M-2.1-8.6l-13.8 11.5-6.5-4.3 6.5 4.3 1.4-1.1-6.6-4.4 6.6 4.4 1.4-1.2-6.6-4.3 6.6 4.3 1.4-1.1-3.3-2.2 3.3 2.2M17.6-8l-13.8 11.6-6.6-4.4 6.6 4.4 1.4-1.2-6.6-4.3 6.6 4.3 1.4-1.1-6.6-4.4 6.6 4.4 1.3-1.2-3.3-2.2 3.3 2.2M37.2-7.5l-13.8 11.4-6.6-4.4 6.6 4.4 1.3-1.1-6.5-4.4 6.5 4.4 1.4-1.1-6.5-4.4 6.5 4.4 1.4-1.2-3.3-2.2 3.3 2.2M56.9-7.2l-17.3 5.1-4.3-6.6 4.3 6.6 1.8-.5-4.3-6.6 4.3 6.6 1.7-.5-4.3-6.6 4.3 6.6 1.7-.5-2.1-3.3 2.1 3.3M76.6-7l-18-1.2-1.7-7.7 1.7 7.7 1.8 .1-1.8-7.7 1.8 7.7 1.8 .1-1.8-7.7 1.8 7.7 1.8 .2-1.8-7.7 1.8 7.7M96.2-7l-16.6-6.8 .8-7.9-.8 7.9 1.6 .6 .8-7.8-.8 7.8 1.7 .7 .8-7.8-.8 7.8M115.9-7.2l-13.9-11.4 3.1-7.3-3.1 7.3 1.4 1.1 3.1-7.3-3.1 7.3 1.4 1.1 1.5-3.6-1.5 3.6M135.5-7.5l-9.6-15.2 5.2-6-5.2 6 1 1.5 5.1-5.9-5.1 5.9 .9 1.5 5.2-5.9-5.2 5.9M155.2-8l-4.2-17.5 6.9-4-6.9 4 .4 1.7 6.9-3.9-6.9 3.9 .5 1.8 6.8-4-6.8 4 .4 1.7 3.4-1.9-3.4 1.9M174.8-8.7l-2.8-17.7 7.1-3.5-7.1 3.5 .3 1.7 7.1-3.4-7.1 3.4 .3 1.8 7.1-3.4-7.1 3.4 .2 1.8 3.6-1.7-3.6 1.7M194.5-9.5l-2.6-17.8 7.2-3.3-7.2 3.3 .3 1.8 7.1-3.3-7.1 3.3 .2 1.8 7.2-3.4-7.2 3.4 .3 1.7 7.1-3.3-7.1 3.3M214.1-10.5l-1.5-17.9 7.3-2.9-7.3 2.9 .1 1.8 7.3-2.9-7.3 2.9 .2 1.8 7.3-2.9-7.3 2.9 .1 1.8 7.4-2.9-7.4 2.9M233.8-11.6l-.4-18 7.5-2.4-7.5 2.4 0 1.8 7.5-2.4-7.5 2.4 0 1.8 7.6-2.4-7.6 2.4 .1 1.8 7.5-2.4-7.5 2.4 0 1.8 3.8-1.2-3.8 1.2M253.4-12.9l.9-18 7.6-1.9-7.6 1.9-.1 1.8 7.6-1.9-7.6 1.9-.1 1.8 7.7-1.9-7.7 1.9-.1 1.8 7.7-1.9-7.7 1.9-.1 1.8 3.8-1-3.8 1M273-14.4l2.4-17.9 7.8-1.2-7.8 1.2-.2 1.8 7.7-1.2-7.7 1.2-.3 1.8 7.8-1.2-7.8 1.2-.2 1.8 7.8-1.2-7.8 1.2M292.6-16.1l3.1-17.7 7.8-.9-7.8 .9-.3 1.8 7.8-.9-7.8 .9-.3 1.8 7.8-.9-7.8 .9-.3 1.7 7.8-.9-7.8 .9M-2.8 11.5l-13.6 11.8-6.7-4.2 6.7 4.2 1.3-1.1-6.6-4.3 6.6 4.3 1.4-1.2-6.7-4.3 6.7 4.3 1.4-1.2-3.4-2.1 3.4 2.1M17 12.2l-13.7 11.7-6.6-4.3 6.6 4.3 1.4-1.2-6.6-4.3 6.6 4.3 1.3-1.2-6.6-4.2 6.6 4.2 1.4-1.1-3.3-2.2 3.3 2.2M36.8 12.7l-13.8 11.6-6.5-4.4 6.5 4.4 1.4-1.2-6.6-4.3 6.6 4.3 1.4-1.2-6.6-4.3 6.6 4.3 1.4-1.1-3.3-2.2 3.3 2.2M56.7 13l-16.7 6.8-5-6.1 5 6.1 1.7-.7-5-6.1 5 6.1 1.6-.6-4.9-6.2 4.9 6.2 1.7-.7-2.5-3.1 2.5 3.1M76.5 13.2l-17.9 1.7-3-7.4 3 7.4 1.8-.2-3-7.3 3 7.3 1.7-.2-2.9-7.3 2.9 7.3 1.8-.1-1.4-3.7 1.4 3.7M96.3 13.2l-17.7-3.1-.9-7.8 .9 7.8 1.8 .3-1-7.8 1 7.8 1.7 .3-.9-7.8 .9 7.8 1.8 .3-.5-3.9 .5 3.9M116.1 13l-13.9-11.4 3.1-7.3-3.1 7.3 1.4 1.2 3-7.3-3 7.3 1.4 1.1 1.5-3.6-1.5 3.6M136 12.7l-9.6-15.3 5.2-5.9-5.2 5.9 1 1.6 5.2-6-5.2 6 .9 1.5 2.6-3-2.6 3M155.8 12.2l-4-17.6 6.9-3.8-6.9 3.8 .4 1.8 6.9-3.9-6.9 3.9 .4 1.7 6.9-3.8-6.9 3.8 .4 1.8 3.5-1.9-3.5 1.9M175.6 11.5l-2.8-17.8 7.1-3.4-7.1 3.4 .2 1.8 7.1-3.4-7.1 3.4 .3 1.8 7.1-3.4-7.1 3.4 .3 1.8 3.6-1.7-3.6 1.7M195.4 10.7l-2.5-17.8 7.1-3.3-7.1 3.3 .2 1.7 7.2-3.3-7.2 3.3 .3 1.8 7.1-3.3-7.1 3.3 .2 1.8 7.2-3.3-7.2 3.3M215.2 9.7l-1.7-17.9 7.3-3-7.3 3 .1 1.8 7.3-3-7.3 3 .2 1.8 7.3-3-7.3 3 .2 1.7 7.3-2.9-7.3 2.9M235 8.5l-.8-18 7.4-2.6-7.4 2.6 0 1.8 7.5-2.6-7.5 2.6 .1 1.8 7.5-2.6-7.5 2.6 .1 1.8 7.5-2.6-7.5 2.6 .1 1.8 3.7-1.3-3.7 1.3M254.8 7.2l.6-18 7.6-2-7.6 2 0 1.8 7.6-2-7.6 2-.1 1.8 7.6-2-7.6 2-.1 1.8 7.7-2-7.7 2 0 1.8 3.8-1-3.8 1M274.6 5.7l2.4-17.8 7.8-1.2-7.8 1.2-.2 1.8 7.8-1.2-7.8 1.2-.3 1.7 7.8-1.2-7.8 1.2-.2 1.8 7.8-1.2-7.8 1.2M294.3 4.1l3.2-17.8 7.8-.9-7.8 .9-.3 1.8 7.8-.9-7.8 .9-.4 1.8 7.9-.9-7.9 .9-.3 1.8 7.9-.9-7.9 .9M-3.6 31.8l-13.4 12-6.7-4.1 6.7 4.1 1.4-1.2-6.8-4.1 6.8 4.1 1.3-1.2-6.7-4.1 6.7 4.1 1.3-1.2-3.3-2 3.3 2M16.4 32.5l-13.6 11.8-6.6-4.2 6.6 4.2 1.4-1.2-6.7-4.2 6.7 4.2 1.3-1.2-6.6-4.2 6.6 4.2 1.4-1.1-3.3-2.2 3.3 2.2M36.4 33l-13.8 11.6-6.6-4.4 6.6 4.4 1.4-1.2-6.6-4.3 6.6 4.3 1.4-1.2-6.6-4.3 6.6 4.3 1.4-1.1-3.3-2.2 3.3 2.2M56.4 33.3l-15.9 8.4-5.5-5.6 5.5 5.6 1.6-.8-5.5-5.6 5.5 5.6 1.6-.8-5.5-5.7 5.5 5.7 1.6-.9-2.8-2.8 2.8 2.8M76.4 33.5l-17.3 4.8-4.2-6.6 4.2 6.6 1.7-.4-4.2-6.7 4.2 6.7 1.7-.5-4.2-6.7 4.2 6.7 1.8-.5-2.1-3.4 2.1 3.4M96.4 33.5l-18 .3-2.4-7.5 2.4 7.5 1.8 0-2.4-7.5 2.4 7.5 1.8 0-2.4-7.6 2.4 7.6 1.8-.1-1.2-3.7 1.2 3.7M116.4 33.3l-13.9-11.4 3.1-7.3-3.1 7.3 1.4 1.1 3.1-7.3-3.1 7.3 1.4 1.2 1.5-3.7-1.5 3.7M136.4 33l-9.5-15.3 5.3-5.9-5.3 5.9 1 1.5 5.2-5.9-5.2 5.9 .9 1.5 2.6-2.9-2.6 2.9M156.4 32.5l-3.8-17.6 7-3.8-7 3.8 .4 1.7 6.9-3.8-6.9 3.8 .4 1.8 6.9-3.8-6.9 3.8 .4 1.7 3.4-1.8-3.4 1.8M176.4 31.8l-2.9-17.8 7.1-3.4-7.1 3.4 .3 1.8 7.1-3.4-7.1 3.4 .3 1.8 7.1-3.4-7.1 3.4 .3 1.8 3.5-1.8-3.5 1.8M196.4 31l-2.6-17.9 7.2-3.3-7.2 3.3 .3 1.8 7.1-3.3-7.1 3.3 .2 1.8 7.2-3.3-7.2 3.3 .3 1.8 7.1-3.3-7.1 3.3M216.3 30l-2-17.9 7.2-3.1-7.2 3.1 .2 1.8 7.2-3.1-7.2 3.1 .2 1.8 7.2-3.1-7.2 3.1 .2 1.7 7.3-3.1-7.3 3.1M236.3 28.8l-1.5-17.9 7.3-2.9-7.3 2.9 .1 1.7 7.4-2.8-7.4 2.8 .2 1.8 7.3-2.8-7.3 2.8 .1 1.8 7.4-2.8-7.4 2.8 .2 1.8 3.7-1.4-3.7 1.4M256.3 27.5l.2-18 7.6-2.2-7.6 2.2 0 1.8 7.5-2.2-7.5 2.2-.1 1.8 7.6-2.2-7.6 2.2 0 1.8 7.6-2.2-7.6 2.2 0 1.8 3.8-1.1-3.8 1.1M276.2 26l2.5-17.9 7.8-1.2-7.8 1.2-.3 1.8 7.8-1.2-7.8 1.2-.2 1.8 7.8-1.2-7.8 1.2-.3 1.8 7.8-1.2-7.8 1.2M296.1 24.3l3.1-17.7 7.9-.9-7.9 .9-.3 1.7 7.9-.9-7.9 .9-.3 1.8 7.9-.9-7.9 .9-.3 1.8 7.8-.9-7.8 .9M-4.3 52.2l-13.4 12.1-6.7-4.2 6.7 4.2 1.3-1.2-6.7-4.2 6.7 4.2 1.4-1.3-6.8-4.1 6.8 4.1M15.8 52.9l-13.5 11.9-6.7-4.2 6.7 4.2 1.4-1.2-6.7-4.2 6.7 4.2 1.3-1.2-6.7-4.2 6.7 4.2M36 53.4l-13.7 11.7-6.6-4.2 6.6 4.2 1.4-1.1-6.6-4.3 6.6 4.3 1.4-1.2-6.7-4.3 6.7 4.3M56.2 53.7l-15.2 9.7-6-5.1 6 5.1 1.5-1-6-5.1 6 5.1 1.5-.9-3-2.6 3 2.6M76.3 53.9l-16.6 7-5-6.1 5 6.1 1.7-.7-5-6.1 5 6.1 1.7-.7-2.6-3.1 2.6 3.1M96.5 53.9l-18-.1-2.2-7.6 2.2 7.6 1.8 0-2.2-7.5 2.2 7.5 1.8 0-1.1-3.8 1.1 3.8M116.7 53.7l-14.4-10.9 2.8-7.3-2.8 7.3 1.4 1.1 2.8-7.4-2.8 7.4M136.8 53.4l-10.9-14.3 4.6-6.4-4.6 6.4 1.1 1.4 4.6-6.4-4.6 6.4M157 52.9l-4-17.6 6.9-3.9-6.9 3.9 .4 1.8 6.9-3.9-6.9 3.9 .4 1.7 6.9-3.8-6.9 3.8 .4 1.8 3.5-2-3.5 2M177.1 52.2l-2.8-17.8 7.1-3.4-7.1 3.4 .3 1.8 7.1-3.4-7.1 3.4 .3 1.8 7.1-3.4-7.1 3.4 .3 1.7 7.1-3.4-7.1 3.4M197.3 51.3l-2.2-17.8 7.2-3.2-7.2 3.2 .2 1.8 7.3-3.2-7.3 3.2 .2 1.7 7.3-3.1-7.3 3.1 .3 1.8 7.2-3.1-7.2 3.1M217.4 50.3l-1.5-17.9 7.3-2.9-7.3 2.9 .1 1.8 7.4-2.9-7.4 2.9 .2 1.8 7.3-2.9-7.3 2.9 .2 1.8 7.3-2.9-7.3 2.9 .1 1.8 3.7-1.5-3.7 1.5M237.6 49.1l-1.1-17.9 7.5-2.7-7.5 2.7 .2 1.8 7.4-2.7-7.4 2.7 .1 1.8 7.4-2.7-7.4 2.7 .1 1.8 7.4-2.7-7.4 2.7 .1 1.8 3.7-1.4-3.7 1.4M257.7 47.8l-.5-18 7.5-2.4-7.5 2.4 .1 1.8 7.5-2.4-7.5 2.4 0 1.8 7.5-2.4-7.5 2.4 .1 1.8 7.5-2.4-7.5 2.4 0 1.8 3.8-1.2-3.8 1.2M277.8 46.3l.6-18 7.6-2-7.6 2-.1 1.8 7.6-2-7.6 2 0 1.8 7.6-2-7.6 2-.1 1.8 7.6-2-7.6 2M297.9 44.6l1.1-18 7.7-1.8-7.7 1.8-.1 1.8 7.7-1.8-7.7 1.8-.1 1.8 7.7-1.8-7.7 1.8-.1 1.8 7.6-1.8-7.6 1.8M-5.1 72.7l-13.4 12-6.7-4.1 6.7 4.1 1.4-1.2-6.8-4.1 6.8 4.1 1.3-1.2-3.4-2 3.4 2M15.2 73.4l-13.4 12-6.7-4.1 6.7 4.1 1.4-1.2-6.7-4.1 6.7 4.1 1.3-1.2-3.3-2.1 3.3 2.1M35.6 73.9l-13.4 12-6.8-4.1 6.8 4.1 1.3-1.2-6.7-4.1 6.7 4.1M55.9 74.2l-13.6 11.8-6.7-4.3 6.7 4.3 1.3-1.2-6.6-4.2 6.6 4.2M76.2 74.4l-13.9 11.4-6.5-4.4 6.5 4.4 1.4-1.2-3.3-2.2 3.3 2.2M96.6 74.4l-18-.9-1.9-7.6 1.9 7.6 1.8 .1-1.9-7.6 1.9 7.6M116.9 74.2l-15.2-9.7 2.2-7.6-2.2 7.6 1.6 1 1-3.8-1 3.8M137.3 73.9l-12.8-12.7 3.8-7-3.8 7 1.3 1.2 3.7-6.9-3.7 6.9M157.6 73.4l-4.1-17.6 6.8-3.9-6.8 3.9 .4 1.8 6.8-3.9-6.8 3.9 .4 1.7 6.8-3.9-6.8 3.9 .4 1.8 6.9-3.9-6.9 3.9M177.9 72.7l-2.7-17.8 7.1-3.4-7.1 3.4 .2 1.8 7.2-3.4-7.2 3.4 .3 1.7 7.1-3.3-7.1 3.3 .3 1.8 7.1-3.4-7.1 3.4M198.2 71.8l-1.7-17.9 7.3-3-7.3 3 .2 1.8 7.3-3-7.3 3 .2 1.8 7.3-3-7.3 3 .1 1.8 7.3-3-7.3 3M218.6 70.8l-.9-18 7.4-2.6-7.4 2.6 0 1.8 7.5-2.6-7.5 2.6 .1 1.8 7.5-2.6-7.5 2.6 .1 1.8 7.5-2.6-7.5 2.6 .1 1.8 3.7-1.3-3.7 1.3M238.9 69.6l-.3-18 7.6 2.2-7.5 2.3M259.2 68.3l-1.6-18 7.4-2.9-7.4 2.9 .2 1.8 7.3-2.9-7.3 2.9 .1 1.8 7.4-2.9-7.4 2.9 .2 1.8 7.3-2.9-7.3 2.9 .1 1.8 3.7-1.4-3.7 1.4M279.4 66.7l-2.9-17.7 7.1-3.5-7.1 3.5 .3 1.7 7.1-3.4-7.1 3.4 .3 1.8 7-3.4-7 3.4 .3 1.8 7-3.5-7 3.5M299.7 65l-2.8-17.7 7.1-3.5-7.1 3.5 .3 1.7 7.1-3.4-7.1 3.4 .2 1.8 7.1-3.4-7.1 3.4 .3 1.8 7.1-3.4-7.1 3.4M-5.9 93.3l-13.3 12-6.8-4.1 6.8 4.1 1.3-1.2-6.7-4.1 6.7 4.1 1.3-1.2-3.3-2 3.3 2M14.6 94l-13.3 12-6.8-4.1 6.8 4.1 1.3-1.2-6.7-4.1 6.7 4.1M35.1 94.5l-13.3 12-6.8-4.1 6.8 4.1 1.3-1.2-6.7-4.1 6.7 4.1M55.6 94.8l-13.6 11.7-6.7-4.3 6.7 4.3 1.3-1.2-3.3-2.1 3.3 2.1M76.2 95l-14.2 11.1-6.4-4.6 6.4 4.6 1.4-1.1-3.2-2.3 3.2 2.3M96.7 95l-18-.9-1.9-7.7 1.9 7.7 1.8 .1-1-3.8 1 3.8M117.2 94.8l-15.1-9.8 2.2-7.6-2.2 7.6 1.5 1 1.1-3.8-1.1 3.8M137.7 94.5l-12.8-12.7 3.7-6.9-3.7 6.9 1.2 1.3 1.9-3.5-1.9 3.5M158.2 93.9l-4-17.5 6.9-3.9-6.9 3.9 .4 1.7 6.9-3.8-6.9 3.8 .4 1.8 6.9-3.9-6.9 3.9 .4 1.7 6.9-3.8-6.9 3.8M178.7 93.3l-2.7-17.8 7.2-3.4-7.2 3.4 .3 1.7 7.1-3.3-7.1 3.3 .2 1.8 7.2-3.3-7.2 3.3 .3 1.8 7.2-3.4-7.2 3.4M199.2 92.4l-1.6-17.9 7.3-2.9-7.3 2.9 .1 1.8 7.4-3-7.4 3 .2 1.8 7.3-3-7.3 3 .2 1.7 7.3-2.9-7.3 2.9M219.7 91.4l-.8-18 7.5-2.6-7.5 2.6 .1 1.8 7.5-2.6-7.5 2.6 .1 1.8 7.4-2.6-7.4 2.6 0 1.8 7.5-2.6-7.5 2.6 .1 1.8 3.8-1.3-3.8 1.3M240.1 90.2l0-18 7.6 2.2-7.6 2.3M260.6 88.8l-2.7-17.8 7.1-3.4-7.1 3.4 .2 1.8 7.2-3.4-7.2 3.4 .3 1.8 7.1-3.4-7.1 3.4 .3 1.7 7.1-3.3-7.1 3.3 .3 1.8 3.5-1.7-3.5 1.7M281.1 87.3l-6.4-16.9 6.3-4.8-6.3 4.8 .7 1.7 6.3-4.8-6.3 4.8 .6 1.7 6.3-4.8-6.3 4.8 .6 1.7 3.2-2.4-3.2 2.4M-6.6 114l-13.4 12-6.8-4.1 6.8 4.1 1.3-1.2-6.7-4.1 6.7 4.1M14 114.7l-13.3 12-6.8-4.1 6.8 4.1 1.3-1.2-6.7-4.1 6.7 4.1M34.7 115.2l-13.4 12-6.7-4.1 6.7 4.1 1.4-1.2-6.8-4.1 6.8 4.1M55.4 115.5l-13.9 11.5-6.5-4.4 6.5 4.4 1.4-1.2-3.3-2.2 3.3 2.2M96.8 115.7l-18-.9-1.9-7.6 1.9 7.6M117.4 115.5l-14.9-10 2.3-7.5-2.3 7.5M138.1 115.2l-12.8-12.7 3.8-7-3.8 7 1.3 1.3 1.9-3.5-1.9 3.5M158.8 114.6l-3.8-17.6 6.9-3.8-6.9 3.8 .4 1.8 6.9-3.8-6.9 3.8 .3 1.8 7-3.8-7 3.8 .4 1.7 6.9-3.8-6.9 3.8M179.5 113.9l-2.6-17.8 7.1-3.3-7.1 3.3 .2 1.8 7.2-3.3-7.2 3.3 .3 1.8 7.1-3.3-7.1 3.3 .2 1.8 7.2-3.3-7.2 3.3M200.1 113.1l-1.5-18 7.3-2.9-7.3 2.9 .1 1.8 7.4-2.9-7.4 2.9 .2 1.8 7.3-2.9-7.3 2.9 .1 1.8 7.4-2.9-7.4 2.9 .2 1.8 3.7-1.4-3.7 1.4M220.8 112l-.7-17.9 7.4-2.6-7.4 2.6 0 1.8 7.5-2.6-7.5 2.6 .1 1.7 7.5-2.5-7.5 2.5 .1 1.8 7.5-2.5-7.5 2.5 .1 1.8 3.7-1.2-3.7 1.2M241.4 110.8l-.1-18 7.6 2.2-7.5 2.3M262.1 109.4l-4.4-17.4 6.8-4-6.8 4 .5 1.7 6.8-4-6.8 4 .4 1.8 6.8-4-6.8 4 .4 1.7 6.8-4-6.8 4M282.7 107.9l-10-15 5.1-6.1-5.1 6.1 1 1.5 5.1-6.1-5.1 6.1 1 1.5 5.1-6.1-5.1 6.1M-7.4 134.8l-17.8 3-3.4-7.1 3.4 7.1 1.8-.3-3.5-7.1 3.5 7.1M13.4 135.4l-17.9 1.1-2.7-7.5 2.7 7.5 1.8-.1-2.7-7.5 2.7 7.5M34.3 136l-17.9-1.7-1.6-7.8 1.6 7.8 1.7 .1-.7-3.8 .7 3.8M76 136.5l-13.4-12.1 3.4-7.1-3.4 7.1 1.4 1.2 1.7-3.5-1.7 3.5M96.8 136.5l-9.7-15.1 5.1-6-5.1 6 .9 1.5 2.6-3-2.6 3M117.7 136.3l-12.5-12.9 3.9-6.9-3.9 6.9 1.2 1.2 2-3.4-2 3.4M138.6 135.9l-11.6-13.8 4.4-6.5-4.4 6.5 1.2 1.4 2.2-3.3-2.2 3.3M159.4 135.4l-3.4-17.6 7-3.7-7 3.7 .3 1.7 7-3.6-7 3.6 .4 1.8 7-3.7-7 3.7 .3 1.8 7-3.7-7 3.7M180.3 134.7l-2.5-17.8 7.2-3.3-7.2 3.3 .2 1.8 7.2-3.3-7.2 3.3 .3 1.8 7.2-3.3-7.2 3.3 .2 1.7 7.2-3.2-7.2 3.2 .3 1.8 3.6-1.6-3.6 1.6M201.1 133.9l-1.7-18 7.4-2.9-7.4 2.9 .2 1.8 7.3-2.9-7.3 2.9 .2 1.8 7.3-2.9-7.3 2.9 .1 1.8 7.4-2.9-7.4 2.9 .2 1.8 3.7-1.5-3.7 1.5M221.9 132.8l-3.1-17.7 7.9 .9-7.1 3.5M242.7 131.6l-4.4-17.5 7.9 .4-6.8 4M263.6 130.2l-10-15 5.1-6.1-5.1 6.1 1 1.5 5-6.1-5 6.1 1 1.5 5-6.1-5 6.1 1 1.5 5-6.1-5 6.1 1 1.5 2.5-3-2.5 3M284.4 128.6l-15-10 2.3-7.5-2.3 7.5 1.5 1 2.3-7.5-2.3 7.5 1.5 1 2.3-7.5-2.3 7.5 1.5 1 1.1-3.7-1.1 3.7M-8.2 155.6l-1.1-17.9 7.4-2.7-7.4 2.7 .1 1.8 3.7-1.4-3.7 1.4M12.8 156.3l0-18 7.6-2.2-7.6 2.2 0 1.8 3.8-1.1-3.8 1.1M33.8 156.9l1.1-18 7.7-1.8-7.7 1.8-.1 1.8 3.9-.9-3.9 .9M54.9 157.2l2.1-17.9 7.7-1.3-7.7 1.3-.3 1.8 3.9-.7-3.9 .7M75.9 157.4l3-17.8 7.8-1-7.8 1-.3 1.8 3.9-.5-3.9 .5M96.9 157.4l3-17.8 7.8-.9-7.8 .9-.3 1.8 3.9-.5-3.9 .5M118 157.2l-10.2-14.9 5-6.1-5 6.1 1 1.5 2.5-3-2.5 3M139 156.8l-10.2-14.8 4.9-6.1-4.9 6.1 1 1.5 4.9-6.1-4.9 6.1M160 156.3l-3.1-17.7 7.1-3.5-7.1 3.5 .3 1.8 7.1-3.6-7.1 3.6 .3 1.7 7.1-3.5-7.1 3.5 .3 1.8 7.1-3.5-7.1 3.5 .4 1.8 3.5-1.8-3.5 1.8M181 155.6l-2.3-17.8 7.2-3.2-7.2 3.2 .3 1.7 7.2-3.2-7.2 3.2 .2 1.8 7.2-3.2-7.2 3.2 .2 1.8 7.2-3.2-7.2 3.2 .3 1.8 3.6-1.6-3.6 1.6M202.1 154.7l-2.1-17.9 7.3-3-7.3 3 .2 1.8 7.3-3.1-7.3 3.1 .2 1.8 7.3-3.1-7.3 3.1 .2 1.8 7.3-3.1-7.3 3.1 .2 1.8 3.7-1.5-3.7 1.5M223.1 153.7l-6.4-16.9 7.9-.5-6.3 4.7M244.1 152.4l-10.1-14.9 7.6-2.3-5.1 6M265 151l-15-9.9 6-5-2.2 7.5M286 149.5l-17.4-4.7-.2-7.9 .2 7.9 1.8 .5-.3-7.9 .3 7.9 1.7 .4-.2-7.8 .2 7.8 1.7 .5-.2-7.9 .2 7.9 1.8 .5-.1-4 .1 4M-9 176.6l0-18 7.6-2.2-7.6 2.2 0 1.8 3.8-1.1-3.8 1.1M12.2 177.3l.6-18 7.7-1.9-7.7 1.9 0 1.8 3.8-1-3.8 1M33.4 177.9l1.5-18 7.7-1.6-7.7 1.6-.2 1.8 3.9-.8-3.9 .8M54.6 178.2l2.3-17.9 7.7-1.2-7.7 1.2-.3 1.8 3.9-.6-3.9 .6M75.8 178.4l3.1-17.8 7.8-.9-7.8 .9-.3 1.8 3.9-.5-3.9 .5M97 178.4l3.2-17.8 7.8-.9-7.8 .9-.4 1.8 4-.4-4 .4M118.2 178.2l-10.2-14.8 4.9-6.2-4.9 6.2 1 1.5 2.5-3.1-2.5 3.1M139.4 177.8l-10.7-14.4 4.8-6.3-4.8 6.3 1.1 1.4 4.7-6.3-4.7 6.3M160.6 177.3l-5.4-17.2 6.6-4.4-6.6 4.4 .6 1.7 6.5-4.4-6.5 4.4 .5 1.8 6.6-4.4-6.6 4.4 .6 1.7 3.2-2.2-3.2 2.2M181.8 176.6l-6.8-16.7 6.2-4.9-6.2 4.9 .7 1.7 6.2-4.9-6.2 4.9 .7 1.7 6.1-5-6.1 5 .7 1.6 6.1-4.9-6.1 4.9M203 175.7l-8.2-16 5.7-5.5-5.7 5.5 .8 1.6 5.7-5.5-5.7 5.5 .8 1.6 5.7-5.5-5.7 5.5 .9 1.6 5.7-5.5-5.7 5.5 .8 1.6 2.8-2.7-2.8 2.7M224.2 174.6l-11.9-13.5 4.3-6.7-4.3 6.7 1.2 1.4 4.2-6.7-4.2 6.7 1.2 1.3 4.2-6.7-4.2 6.7 1.2 1.4 4.2-6.7-4.2 6.7 1.2 1.3 2.1-3.3-2.1 3.3M245.4 173.4l-14.5-10.6 6.3-4.8-2.7 7.4M266.5 172l-17-5.8 4.6-6.5-.3 7.9M287.7 170.4l-17.9-2.2 3.2-7.2 1.3 7.8M-9.8 197.7l0-18 7.6-2.2-7.6 2.2 0 1.8 3.8-1.1-3.8 1.1M11.6 198.4l.6-18 7.6-2-7.6 2-.1 1.8 3.9-1-3.9 1M33 199l1.4-18 7.7-1.6-7.7 1.6-.1 1.8 3.8-.8-3.8 .8M54.4 199.3l2.2-17.9 7.8-1.2-7.8 1.2-.2 1.8 3.9-.6-3.9 .6M75.7 199.5l3.1-17.8 7.8-.9-7.8 .9-.3 1.8 3.9-.5-3.9 .5M97.1 199.5l3.1-17.8 7.8-.9-7.8 .9-.3 1.8 3.9-.4-3.9 .4M118.5 199.3l-10.3-14.7 4.9-6.2-4.9 6.2 1 1.4 4.9-6.2-4.9 6.2M139.9 198.9l-11.5-13.8 4.4-6.6-4.4 6.6 1.1 1.4 4.4-6.6-4.4 6.6M161.3 198.4l-10.6-14.6 4.8-6.2-4.8 6.2 1.1 1.5 4.8-6.3-4.8 6.3M182.6 197.7l-13.3-12.2 3.5-7.1-3.5 7.1 1.4 1.3 3.4-7.1-3.4 7.1 1.3 1.2 3.4-7.1-3.4 7.1M204 196.8l-14.7-10.5 2.6-7.4-2.6 7.4 1.5 1.1 2.6-7.5-2.6 7.5 1.5 1 2.5-7.4-2.5 7.4 1.4 1.1 2.6-7.5-2.6 7.5M225.3 195.7l-16.3-7.6 1.2-7.8-1.2 7.8 1.7 .8 1.1-7.8-1.1 7.8 1.6 .7 1.2-7.8-1.2 7.8 1.6 .8 1.2-7.8-1.2 7.8 1.7 .7 .5-3.9-.5 3.9M246.7 194.5l-17.3-5.2 4.4-6.6 0 7.9M268 193l-17.8-2.4 3.2-7.2 1.2 7.8M-10.6 218.9l0-18 7.6-2.3-7.6 2.3 0 1.8 3.8-1.1-3.8 1.1M11 219.6l.6-18 7.6-2-7.6 2-.1 1.8 3.8-1-3.8 1M32.5 220.1l1.4-17.9 7.8-1.7-7.8 1.7-.1 1.8 3.9-.8-3.9 .8M54.1 220.5l2.2-17.9 7.8-1.3-7.8 1.3-.2 1.8 3.9-.6-3.9 .6M75.7 220.7l3-17.8 7.8-.9-7.8 .9-.3 1.8 3.9-.5-3.9 .5M97.2 220.7l-.6-18 7.5-2.5-7.5 2.5 .1 1.8 3.7-1.3-3.7 1.3M118.8 220.5l-12.8-12.6 3.7-7-3.7 7 1.2 1.2 1.9-3.5-1.9 3.5M140.3 220.1l-13.8-11.5 3.1-7.3-3.1 7.3 1.4 1.1 3.1-7.2-3.1 7.2M161.9 219.6l-14-11.4 3-7.3-3 7.3 1.4 1.2 3-7.3-3 7.3 1.4 1.1 1.5-3.6-1.5 3.6M183.4 218.9l-15-9.9 2.2-7.6-2.2 7.6 1.5 1 2.2-7.6-2.2 7.6 1.5 1 2.3-7.6-2.3 7.6 1.5 1 1.1-3.8-1.1 3.8M205 218l-15.8-8.6 1.6-7.8-1.6 7.8 1.5 .8 1.7-7.7-1.7 7.7 1.6 .9 1.7-7.7-1.7 7.7 1.6 .8 1.6-7.7-1.6 7.7M226.5 216.9l-16.8-6.5 .7-7.9-.7 7.9 1.7 .6 .6-7.9-.6 7.9 1.7 .7 .6-7.9-.6 7.9 1.7 .6 .6-7.8-.6 7.8 1.6 .7 .4-4-.4 4M248 215.6l-17.5-4.3 4-6.8 .4 7.9M269.5 214.2l-17.9-1.5 2.9-7.4 1.6 7.8M-11.4 240.2l0-18 7.6-2.3-7.6 2.3 0 1.8 3.8-1.1-3.8 1.1M10.4 240.9l.5-18 7.6-2-7.6 2 0 1.8 3.8-1-3.8 1M32.1 241.4l1.4-17.9 7.7-1.7-7.7 1.7-.2 1.8 3.9-.8-3.9 .8M53.8 241.8l2.3-17.9 7.7-1.3-7.7 1.3-.3 1.8 3.9-.6-3.9 .6M75.6 242l3-17.8 7.8-.9-7.8 .9-.3 1.8 3.9-.5-3.9 .5M97.3 242l-5.9-17 6.4-4.6-6.4 4.6M119 241.8l-16.2-7.7 1.2-7.8-1.2 7.8M140.8 241.4l-15.6-9 1.8-7.6-1.8 7.6 1.5 .9 1.9-7.6-1.9 7.6M162.5 240.9l-15.7-8.9 1.8-7.7-1.8 7.7 1.6 .9 1.8-7.7-1.8 7.7 1.6 .9 1.7-7.7-1.7 7.7M184.2 240.1l-16.1-8 1.4-7.8-1.4 7.8 1.7 .8 1.3-7.8-1.3 7.8 1.6 .8 1.4-7.8-1.4 7.8 1.6 .8 .7-3.9-.7 3.9M205.9 239.2l-16.3-7.4 1-7.8-1 7.8 1.6 .7 1.1-7.8-1.1 7.8 1.6 .8 1.1-7.8-1.1 7.8 1.7 .7 1.1-7.8-1.1 7.8M227.7 238.2l-16.8-6.6 .7-7.9-.7 7.9 1.7 .6 .6-7.8-.6 7.8 1.6 .7 .7-7.9-.7 7.9 1.7 .6 .7-7.8-.7 7.8 1.7 .7 .3-3.9-.3 3.9M249.4 236.9l-17.4-4.7-.2-7.9 .2 7.9 1.7 .5-.2-7.9 .2 7.9 1.8 .4-.2-7.9 .2 7.9 1.7 .5-.2-7.9 .2 7.9 1.7 .5-.1-4 .1 4M-12.2 261.6l0-18 7.6-2.3-7.6 2.3 0 1.8 3.8-1.2-3.8 1.2M9.7 262.3l.6-18 7.6-2-7.6 2-.1 1.8 3.8-1-3.8 1M31.7 262.8l1.3-17.9 7.7-1.7-7.7 1.7-.1 1.8 3.8-.8-3.8 .8M53.6 263.2l2.2-17.9 7.8-1.3-7.8 1.3-.2 1.8 3.8-.6-3.8 .6M75.5 263.4l3-17.8 7.9-.9-7.9 .9-.3 1.8 3.9-.5-3.9 .5M97.4 263.4l-8.6-15.9 5.6-5.5-5.6 5.5M119.3 263.2l-16.3-7.7 1.2-7.8-1.2 7.8M141.2 262.8l-15.6-9 1.9-7.7-1.9 7.7 1.6 .9 1.8-7.7-1.8 7.7M163.1 262.3l-15.7-8.9 1.8-7.7-1.8 7.7 1.6 .9 1.8-7.7-1.8 7.7 1.6 .9 1.7-7.7-1.7 7.7M185 261.5l-16.1-8 1.4-7.8-1.4 7.8 1.6 .8 1.4-7.8-1.4 7.8 1.6 .8 1.4-7.8-1.4 7.8 1.7 .8 .6-3.9-.6 3.9M206.9 260.6l-16.4-7.3 1-7.8-1 7.8 1.6 .7 1.1-7.8-1.1 7.8 1.7 .7 1-7.8-1 7.8 1.6 .8 1.1-7.8-1.1 7.8M228.8 259.5l-16.7-6.5 .6-7.9-.6 7.9 1.6 .6 .7-7.8-.7 7.8 1.7 .7 .7-7.9-.7 7.9 1.7 .6 .6-7.8-.6 7.8 1.7 .7 .3-3.9-.3 3.9"/><path fill="#000" stroke="#000" stroke-width="1" d="M238.6 51.6l7.6 2.2-7.5 2.3zM240.1 72.2l7.6 2.2-7.6 2.3zM241.3 92.8l7.6 2.2-7.5 2.3zM218.8 115.1l7.9 .9-7.1 3.5zM238.3 114.1l7.9 .4-6.8 4zM216.7 136.8l7.9-.5-6.3 4.7zM234 137.5l7.6-2.3-5.1 6zM250 141.1l6-5-2.2 7.5zM230.9 162.8l6.3-4.8-2.7 7.4zM249.5 166.2l4.6-6.5-.3 7.9zM269.8 168.2l3.2-7.2 1.3 7.8zM229.4 189.3l4.4-6.6 0 7.9zM250.2 190.6l3.2-7.2 1.2 7.8zM230.5 211.3l4-6.8 .4 7.9zM251.6 212.7l2.9-7.4 1.6 7.8z"/><circle cx="76.1" cy="115.7" r="2.7" fill="none" stroke="#000" stroke-width="1.3"/><circle cx="55.1" cy="136.3" r="2.7" fill="none" stroke="#000" stroke-width="1.3"/><path d="M137.25 105.3h6.6" stroke="#222" stroke-width="2.3"/><path d="M140.55 102.5v5.6" stroke="#222" stroke-width="1.8"/></g><rect x="0" y="0" width="283.1" height="258.8" fill="none" stroke="#000" stroke-width="1.1"/><path d="M0.5 0.5h4.5a4.5 4.5 0 0 1-4.5 4.5z" fill="#000"/></g><text x="1174" y="362.4" font-size="17.4" text-anchor="middle">CSU WRF member 3</text><g transform="translate(71.5 657.5)"><g clip-path="url(#pc)"><rect x="1.8" y="0.3" width="280.3" height="254.9" fill="#824b09"/><path fill="#995d13" d="M3.8 .3l278.3 0 0 254.9-280.3 0 0-254.9 2 0zM116.9 118.7l-1 .3-2 .8-2.1 .9-3.9 2.2-2.6 1.8-2.5 2-2 2.1-1.5 2-1.4 2.6-.5 1.4-.5 2-.3 2-.1 2 .1 4 .4 4 .9 7.4 .1 2.7 0 4-.4 4-.7 4-1 3.6-.9 2.4-1.9 4-3.1 6.1-.7 2-.6 2-.4 2-.1 2 .1 2 .4 2 .5 2 .7 2 .9 2 1.1 2.1 2 3.1 2 2.8 0 .1 2 2.3 2 2.2 2 1.9 2 1.6 2 1.2 2 1 2 .7 2 .5 2 .3 2 0 2-.1 2-.2 2-.5 2.5-.9 1.5-.7 2-1.4 2-2 1.2-1.9 .9-2 .4-2 .3-2.1 .3-4-.1-4-.5-6-1.4-16.1-.3-6-.1-8 .1-10 .4-16.1-.2-4-.3-4-.6-4-.5-2.1-.7-2-1-2-1.9-2.5-2.3-1.5-1.7-.5-2-.1-2 .3-1 .3z"/><path fill="#ad7021" d="M3.8 .3l278.3 0 0 254.9-145.3 0 1.1-.7 2-1.3 2.4-2 1.9-2 3.2-4 2.6-4.2 .7-1.9 .6-2 .3-2-.1-2-.5-2-1-2.2-.9-1.8-1.2-2-2.5-6-1.8-6-1.9-8.1-1.3-6-1.7-10-.8-6.2-.5-5.9-.3-6-.2-8 .1-8.1 .4-10 .5-12.6 .1-5.5-.2-6-.4-6-.7-6-.8-6-1.5-6.1-.5-2-2-4.2-2-2.7-2-1.5-2-.8-2 0-2 .7-2 1.3-2 1.9-4 5.3-3 4-3 3.4-.6 .7-2.3 2-2.7 2-2.4 1.4-4.9 2.6-3.1 1.7-2 1.3-2 1.5-2 1.9-2 2.3-1 1.3-1.2 2-1 2-.8 2-1.3 4.1-.9 4-2.5 12-1.2 4-.8 2-1.3 2.9-1.8 3.2-3.6 6-1.1 2-1.9 4-1.7 4-2 6-5.4 18.1-2.2 6-2.3 6.8-.4 1.3-.5 2-.3 2-.2 2-.1 2 .1 2 .3 2 .5 2 .6 2.1 .7 1.9 1.3 2.5 2 2.7 2 1.9 2 1.4 2 1 2 .7 2 .5 8 1.6 2 .7 2 1.1 2.1 2 1.5 2 1 2 .5 2-.4 2-78.8 0 0-254.9 2 0zM87.5 8.3l-1.6 1.3-2.4 2.7-1.6 2.5-2 4.6-.9 3-.9 4-.3 2-.4 4-.2 4 0 4 .2 4.1 .5 5 .5 3 .8 4 .7 2.8 1.1 3.2 .9 2.5 2 3.9 2 2.7 2 1.8 2.3 1.2 1.7 .5 2 .1 2-.1 3-.5 3-.8 10-2.7 2-.7 2-1.1 2-1.5 1.2-1.3 1.4-2 1-2 .6-2 .4-2 0-2-.3-2-.6-2-1.1-2-3.2-4-7.8-8.1-1.7-2-1.9-2.3-2.6-3.7-2.3-4-1.8-4-1.7-4-3.8-10.1-1.8-1.7-2 .3-2 1.1-.4 .3zM209.7 26.4l-1.8 2-.9 2-1 3-.2 1-.3 2-.2 2 .1 2 .2 2 .7 2.1 1.7 2.1 2 1 2 .4 2 .1 2-.2 2-.3 2-.5 2-.7 2-1.2 1.1-.7 .9-.9 1-1.2 1-2.1 .3-1.9-.3-2.3-.6-1.7-1.4-2.2-2-2.1-2.1-1.7-1.9-1.2-2-1-2-.7-2-.4-2 .1-2 .9-.3 .3z"/><path fill="#c28633" d="M3.8 .3l74.1 0-2 4.3-1.4 3.7-.6 2-1 4-1 4.9-.8 5.2-.6 6-.3 6-.1 6 .1 6.1 .4 6 .8 8 1.3 12.1 .3 4 0 4-.1 4-.5 4-.8 4-1.2 4-2.5 7-1.8 5.1-1.1 4-1.1 4.8-2 9.5-1.1 3.8-1.4 4-1.7 4-4.6 10-1.5 4-1.2 4.1-1 4-2.9 12-1.2 4-1.5 4-.8 2.1-2.2 4-1.2 2-1.8 2.4-2.9 3.6-3.8 4-3.7 4-1.7 2-1.3 2-1 2-.7 2.1-.5 2-.2 2 0 2 .2 2 .4 2 1.1 4 2.1 6.1 2.1 5.9 1.1 4.1 .8 4 .2 2 .1 2-.3 2.3-.5 1.7-27.5 0 0-254.9 2 0zM123.9 1.7l.4-1.4 15.6 0-4 2.6-6 4.6-2 1.1-2 .2-.8-.5-1.2-1.2-.2-.8-.2-2 .4-2.6zM196 .3l15.8 0-1.8 .6-2 .5-4 .5-4 .1-2-.1-2-1.3-.1-.3 .1 0zM254.1 1.6l2.7-1.3 25.3 0 0 254.9-112.5 0-.4-4-.6-8-.7-10.1-.7-6-.7-4-.8-4-1.2-4-.7-2-.9-2.1-1-2-1.9-3-2-2.2-2-1.2-2-.1-2.8 .5-1.2 .2-2-.8-2-2.7-1.1-2.7-.9-2.7-.9-3.3-.8-4-.6-4.1-.7-6-.4-6-.3-6 0-8 .2-8.1 .6-10 .7-14.1 .4-14 .3-8 .5-6.1 .5-4 .5-2.4 1-3.6 1-2.5 2-2 2 .2 2 1.6 2 2 2 1.5 2 .5 2-.4 4-1.4 2-.5 2-.3 2-.1 2 .1 2 .2 2 .4 4 1.1 4 1.3 2 .5 2 .3 2 0 2-.3 2-.5 2-.9 2-1.3 2-1.7 2-2.2 2.5-3.6 2.1-4 3.2-6.1 1.2-2 1.5-2 1.8-2 2.3-2 2.9-2 2.5-1.5 8.5-4.5 2.8-2 2.2-2 1.6-2 1.3-2 .9-2.1 .8-2 .4-2 .3-2 .1-2 0-2-.3-2-.5-2.9-.4-1.1-.7-2-.9-2.2-4.1-7.9-.6-2 .1-2 .5-.9 .9-1.1 1.2-.6 3.1-1.4 6.9-1.9 2-.6 4-1.4 2-.8zM186 4.2l2-.1 2 .1 .9 .1 1.1 .5 .8 1.5 .1 2-.2 2-.8 4-1.2 4.1-.7 2-1 2-1.3 2-1.8 2-1.9 1.3-2.1 .7-2.2 0-1.7-.5-2.4-1.5-1.8-2-1.2-2-.9-2-.5-2-.3-2-.1-2.1 .3-2 .9-2.2 1.3-1.8 .7-.6 2.2-1.4 1.8-.7 2-.5 2-.5 2.3-.3 1.7-.1z"/><path fill="#cfa256" d="M3.8 .3l67.1 0-1.3 4-1 4-.9 4-1 6.1-.8 6.4-.8 7.6-.5 8-.2 6.1 0 6 .3 8 .3 8-.1 4.1-.2 4-.5 4-.5 2-.5 2-1.3 3.6-1.1 2.4-1.1 2-1.8 2.9-2.3 3.1-3.7 4.5-3.1 3.6-6.2 8-2.8 4.3-.9 1.7-1.1 2.6-.5 1.4-.5 2-.3 2.1-.1 2 .1 4 1.1 14 .1 4-.1 4.1-.2 4-.5 4-.7 4-.9 4-1.3 4-.9 2-1.3 2.5-.9 1.5-1.3 2.1-1.8 2.1-2 2.3-2 1.9-4.1 3.7-7 6-2.9 3.1-.8 .9-1.5 2-1.7 2.9-.6 1.1-.8 2.1-.7 2-1 4-.9 4.6 0-.6 0-222.8 2 0zM274.1 1l.8-.7 7.2 0 0 254.9-95.2 0-.4-2-1-4-2.2-6-1.4-4.1-1.7-6-.9-4-4-18.1-1.3-4.1-1.6-3.9-1-2-1.4-2.3-2-2.8-2.4-2.9-3.8-4-1.8-1.7-2-1.3-2-.1-2.1 1.1-1.9 1.4-2 1.1-2-.7-2-3.5-.7-2.4-.9-4-.6-4-.5-6-.3-6 0-6 .2-6.1 .5-8 .6-6 1.8-14.1 1.9-7.2 2 1.9 4 17.4 2 4.9 2 2.1 2-.2 2-1.2 6-4.5 4.6-3.1 2.6-2 2.2-2 1.7-2.1 1.5-2 1.4-2.2 4.3-7.8 2.7-4 3.2-4 9.8-11 2.2-3.1 2.3-4 2-4 4.7-10 1.2-2 1.6-2.6 2-2.5 2-2.1 2-1.7 2-1.4 4-2.5 6-3.4 3-1.9 3.1-2.4 2-2 2-2.5 .7-1.1 1.3-2.2 .9-1.9 1.5-4 1.2-4 2.7-10 .7-2 1-2.1 1.1-1.9 1.5-2 1.9-2.1 3.5-3.1 12-10.2z"/><path fill="#dcbc75" d="M3.8 .3l61.4 0-.9 4-1.1 6-1.3 9.4-1.6 12.7-1.3 12.1-.5 6-.2 6-.3 12-.4 4.1-.4 2-.4 2-.9 2.9-.5 1.1-1.5 3-.7 1-1.5 2-1.9 2-2.4 2-1.6 1.1-4 2.4-10 5-2.5 1.6-2.6 2-.9 .7-2 2.3-.6 1-1.4 2.4-.7 1.6-.7 2-.6 2.3-.6 3.7-.3 4 .1 4 .4 4.1 .8 4 1.1 4 1.9 6 1.2 4 .9 4 .6 4.1 .2 4-.3 4-.3 2-.4 2-.6 2-.7 2-.8 2-1.2 2.2-2 3.1-.6 .7-1.7 2-2 2.1-3.7 3.1-10 8 0-195.8 2 0zM282.1 4.7l0 250.5-80.8 0 .7-2 .5-2 .3-2 .1-2-.2-2-.7-2.7-.5-1.3-1.5-3-.6-1.1-3.4-5-2-3-2.3-4-1.8-4-1.5-4-1.1-4-1.3-5.6-.8-4.5-1.8-10-1.4-6-1.2-4.1-.8-2.2-4.1-9.8-.6-2-.3-2 .1-2 .5-2 .9-2 1.5-2.5 1-1.5 1.4-2.1 5.6-7.4 5.6-8.6 1.1-2 2-4 1.7-4 2.1-6.1 2.7-8 2.8-6.9 1.3-3.1 1.9-4 1.7-4.1 2.5-6 4.9-12 1.7-3.2 .5-.8 1.5-2.2 2-2.4 2-2 2-1.7 2.6-1.8 3.4-2 8.1-4.7 2-1.3 2.5-2 2.2-2 1.8-2 1.5-2 2-3.1 1.6-3 6-12 1.2-2 1.3-2 1.9-2.5 3-3.5 13.2-14.1 1.8-1.6zM148 146.4l2 1.5 .7 2.9 .8 4 .4 4.1 .1 3.9 0 .1-.2 2-.3 2-.5 2-1 2.7-2-.5-.5-2.2-.7-4-.3-4 0-4 .3-4.1 .6-4 .6-2.4z"/><path fill="#e7cf94" d="M3.8 .3l56 0-2.8 22.1-1.3 8-1.9 10-2.5 12.1-1 6-.6 4-.8 4-1.1 3.8 0 .2-1 2.1-1.2 2-1.9 2-1.9 1.3-2 1-2 .6-2 .3-2 .1-2-.2-2-.4-2.2-.7-1.8-.9-2-1.3-7.5-5.9-.5-.2-2-.9-2-.5-2 .1-2 .5-2 1-2.3 2.1-1.7 2 0-74.3 2 0zM282.1 14.7l0 240.5-66.9 0 .8-2.1 .5-1.9 .4-2 .2-2 0-2-.1-2-.2-2-.3-2.1-.5-2-.6-2-1.4-3.1-.4-.9-1.6-2.5-2-2.6-2.5-2.9-3.5-4-2-2.8-.8-1.2-1.2-2.2-.8-1.9-1.2-3.5-.1-.5-.4-2-.5-4-.1-4 .1-4 .9-14.1 0-6-.2-6 .2-4 .3-4 .8-4.1 1-4 4.6-16 1.4-6 2.1-10.1 1.5-6 2.2-8 3.2-10.1 2.6-8 1.5-4 .9-2.2 .9-1.8 1.2-2 1.9-2.7 2-2.2 2-1.8 2-1.6 4-2.5 10.1-5.6 2.5-1.7 2.7-2 2.8-2.6 2-2.2 2-2.6 1.8-2.6 6.3-10.1 2.9-4 3-3.6 9.2-10.4 2.8-3.7zM3 96.6l2 4.1 1.6 4 1.2 4 .8 4 .7 4 .9 8 1.8 16.1 1.6 12 .3 4.1-.1 3 0 1-.3 2-.4 2-.6 2-.8 2-1 2-1.2 2-1.7 2.1-2 2-2.4 1.9-1.6 1.1 0-85.4 1.2 2z"/><path fill="#f1dfb3" d="M3.8 .3l50.6 0-.1 4-.4 6-.7 6.1-1 6-.9 4-1.4 5.7-1.5 4.3-.8 2-2 4-1.8 2.8-2 2.5-2 1.8-2 1.2-2 .9-2 .5-2 .1-2 0-4-.4-6-1.1-4-.8-4-.6-4-.4-2 .1-2 .3-2 .8 0-49.8 2 0zM282.1 27.1l0 228.1-55 0 .9-2.5 .9-3.5 .9-4 .8-6.1 1.4-10.3 2.2-13.7 .1-2-.3-2.1-.8-2-1.6-2-1.6-1.1-2-1-4-1.9-2-1.1-2-1.6-1.1-1.3-1.2-2-.7-2-.5-2-.5-3.1-.2-2.9-.8-12.1-1-8.4-1-9.6-.4-6.1-.1-6 .1-6 .3-6 .5-6.1 .8-6 1-6 1.2-6 2.3-10.1 1.5-6 1.1-4 1.4-4 1.3-3.2 .5-.8 1.5-2.7 1-1.3 1.8-2 2.2-2 2.7-2.1 2.4-1.3 4.9-2.7 5.1-2.6 4-2.4 2-1.4 2-1.6 2.3-2 2-2 1.8-2 3.1-4 3-4 3.8-4.8 4-4.4 6.9-6.9 1.1-1.3zM2.4 116.7l1.1 4 .7 4 .5 4.1 .2 4 0 4-.3 4-.5 4-.4 2-.5 2-.7 2-.7 1.6 0-37.5 .6 1.8z"/><path fill="#f6eacb" d="M3.8 .3l44.5 0 .3 2 .2 4-.1 4-.4 4-.7 4.1-1 4-.8 2.3-1.4 3.7-1.1 2-1.5 2.4-2 2.5-2 1.8-2 1.3-2 1-2 .6-2.4 .4-1.6 .2-2 0-2.9-.2-1.1-.1-2-.3-2-.5-3.5-1.1-.5-.2-2-.9-2-1.2-2-1.7-2-2.5-.8-1.5-1.2-2.8-.9-3.2-1.1-5.6 0-18.5 2 0zM280.1 41.5l2-1 0 214.7-49.7 0 8.7-16.1 5.1-8 2.7-4 3.2-4.4 2.6-3.6 1.5-2 9.9-14.4 2.4-3.7 3.9-6 3.7-6 3-6.1 1-2.2 1-3.8 .4-2 .1-2 0-2-.3-2-.5-2-.8-2-1.2-2-.7-1-1-1-1-.9-2-1.3-2-.8-2-.5-2-.4-2-.2-4.2 0-3.8 .4-6 1-8 1.2-2 .2-2 .1-2-.2-2-.4-2.1-.6-2-.9-2-1.4-2-1.8-2-2.3-.8-1.3-1.2-2-.9-2-1.1-2.6-.9-3.4-.7-4-.4-4-.1-4.1 .2-4 .3-4 .8-6 1.3-8 1.8-10.1 1-4 1.2-4 1.5-3.7 .2-.3 1.8-3 .8-1 1.9-2 2.5-2 2.9-1.8 2-1.1 4-2 6.6-3.2 3.6-2 3-2 2.8-2.1 2.1-1.9 3.9-4.1 6-6.5 2-2 2-1.7 2.5-1.8 1.5-.9z"/><path fill="#f5f0e0" d="M5.8 .3l34.9 0 .8 2 .6 2 .3 2 .1 2-.1 2-.2 2-.4 2.5-.3 1.6-.7 2-1 2.5-.7 1.5-1.3 2-2 2.3-2 1.7-2 1.1-2.2 .9-1.8 .4-2 .3-2 0-2-.3-2-.4-2-.7-2.5-1.3-1.5-1.1-2-1.9-.8-1-1.3-2-1-2-.9-2.1-1.2-4-.9-4-1.9-10 2 0zM282.1 51.9l0 95.4-2-1-2-.8-2.7-.7-1.3-.2-4-.4-4-.1-6 .3-8 .5-4 0-4-.2-2-.3-2-.4-2-.6-2-.9-2.6-1.7-2-2-1.5-2-1-2-1-2.3-.5-1.7-.4-2-.3-2.1-.2-4 .1-4 .3-4 .9-8 1.3-10.1 .8-4.3 1.1-3.7 .9-2.4 .8-1.6 1.3-2 2-2.3 2-1.7 3-2 3-1.5 4-1.7 8-3.4 4-2.1 2.1-1.4 2.8-2 3.1-2.6 6-5.5 2.5-1.9 1.5-1 2.2-1 1.8-.6zM282.1 186l0 69.2-47.1 0 1.3-2 2.4-4 1.4-2.1 2-3.3 1.7-2.6 4.3-6.3 2.5-3.8 1.5-2 2.8-4 3.2-4.2 2.6-3.8 1.5-2 8.5-12.1 1.4-2 2.7-4 1.5-2 5.8-9z"/><path fill="#f4f5f5" d="M15.8 1.2l1.3-.9 9.4 0 1.3 .6 2.3 1.4 1.7 2 .9 2 .5 2 0 2-.4 2-1 2.6-1 1.5-1 1-2 1.4-2 .7-2 .1-2-.3-2.3-.9-1.7-1.3-.7-.7-1.5-2.1-.9-2-.7-2-.3-2-.1-2 .3-2 .9-2 1-1.1zM282.1 61.5l0 74.2-2-.6-2-.4-2-.2-4-.2-4 .2-12 .7-4 0-4-.4-2-.4-2-.6-2.4-1-1.6-1.1-1.1-.9-.9-1-.8-1-1.2-2.4-.6-1.7-.4-2-.3-2-.1-4 .2-4 1.3-14.1 .6-4 .5-2 .8-2.3 .8-1.7 1.2-2 2-2.1 2.5-1.9 1.5-.8 2.4-1.2 3.6-1.3 4-1.2 4.5-1.5 1.5-.6 3-1.4 1-.5 2.3-1.5 2.5-2.1 3.2-2.8 3.5-3.2 .5-.3 2.3-1.7 1.7-1zM282.1 189.8l0 65.4-45.4 0 1.4-2 2.5-4 5.5-8.2 2.6-3.9 3.4-4.8 2.3-3.2 11.7-16.3 2.6-3.8 1.5-2 4.2-6 5.7-8.2 2-3z"/><path fill="#e2f0ee" d="M282.1 72l0 47.4-4-1.9-2-.6-4-.6-2 0-3.5 .4-4.5 .6-2 0-2-.2-1.3-.4-.7-.4-1.6-1.6-.6-2 0-2 .4-2 .9-2 1.2-2 1.9-2 1.8-1.2 2-1 2-.9 2-1.2 2-1.8 2-2.5 3-5.5 1-2 1.8-4 .2-.3 .8-1.7 2.1-4 2.6-4 .5-.6zM282.1 192.1l0 63.1-44 0 2.6-4 1.4-2 2.6-4 3.4-4.9 2.2-3.2 4.2-6 3.6-5 2.2-3 21.8-31z"/><path fill="#ceece8" d="M282.1 193.9l0 61.3-43 0 3-4.4 2.4-3.6 12.6-18.1 3-4 2.8-4 3.2-4.4 2.5-3.6 3.5-4.9 2.3-3.2 7.7-11.1z"/><path fill="#b4e2db" d="M282.1 195.4l0 59.8-42 0 2.7-4 7.3-10.6 2.4-3.5 17.6-24.6 2.4-3.5 5.7-8 3.9-5.6z"/><path fill="#98d7cd" d="M282.1 196.7l0 58.5-41.2 0 15.3-22.1 8.6-12 5.3-7.3 7.6-10.8 2.8-4 1.6-2.3z"/><path fill="#79c8bc" d="M282.1 197.9l0 57.3-40.4 0 15.3-22.1 7.3-10 17.8-25.2z"/><path fill="#58b0a7" d="M282.1 199l0 56.2-39.6 0 7.6-11.1 6.3-9 25.7-36.1z"/><path fill="#3b9b93" d="M282.1 200.1l0 55.1-38.9 0 9.7-14 29.2-41.1z"/><path fill="#23867e" d="M282.1 201.1l0 54.1-38.2 0 9.7-14 28.5-40.1z"/><path fill="#0c7169" d="M282.1 202.2l0 53-37.4 0 5.4-8 10-14.1 18.6-26.1 3.4-4.8z"/><path fill="#015f56" d="M282.1 203.2l0 52-36.7 0 4.7-6.8 18-25.4 8.5-12 5.5-7.8z"/><path fill="#004c42" d="M282.1 204.4l0 50.8-35.9 0 9.9-14.3 11.3-15.8 8.7-12.3 5.5-7.8 .5-.6z"/><path fill="#003c30" d="M282.1 205.6l0 49.6-35.1 0 3.1-4.5 24-33.9 4.1-5.8 3.9-5.4z"/><path fill="#73a9cf" d="M282.1 206.8l0 48.4-34.2 0 2.2-3.2 4.7-6.8 3.3-4.7 2.4-3.4 7.6-10.6 2.5-3.4 5.7-8 5.8-8.3z"/><path fill="#62a2cb" d="M282.1 208.4l0 46.8-33.1 0 2.7-4 2.7-4 5.7-8.1 4.3-6 17.7-24.7z"/><path fill="#509ac6" d="M282.1 210.2l0 45-31.9 0 8.2-12 5.7-8.1 4.4-6 5.8-8 7.2-10.1 .6-.8z"/><path fill="#3f93c2" d="M282.1 212.6l0 42.6-30.2 0 .2-.3 2.4-3.7 3.6-5.3 3.4-4.7 2.8-4.1 10.3-14 3.5-4.9 .8-1.1 1.4-2 1.8-2.5z"/><path fill="#2f8bbe" d="M282.1 216.4l0 38.8-27.6 0 3.7-6 7.9-11.2 .7-.9 1.4-2 4.6-6 1.4-2 4.5-6 1.4-2 2-2.7z"/><path fill="#2182b9" d="M278.1 234.2l2-.6 1.7 1.5 .3 .6 0 19.5-20.6 0 .6-2 2.1-4 3.9-5.5 .5-.5 1.6-2 1.9-2.1 2-2 2-1.6 .6-.4 1.4-.9z"/><path fill="none" stroke="#000" stroke-width="1.7" stroke-linejoin="round" d="M.3 22.3l2.1 .3 2.1 .2 1.8 .8 1.8 .5 1.9 .5 1.6-.1 1.6-.2 1.7 .2 1.6-.3 1.7-.1 1.8 .4 1.8 .1 1.7-.6 1.7 .1 1.6 .7 1.7 0 1.7 .3 1.6 .6 1.7-.2 1.8-.1 1.7 .3 1.7 .2 1.5 1.2 1.7 .3 1.8 0M48.4-.5l-.2 1.6-.6 1.6 .5 1.7-.6 1.6-.1 1.7-.2 1.6-.4 1.6-.4 1.6-.4 1.6-.4 1.6-.2 1.6-.5 1.6 .2 1.7-1 1.5 .7 1.8-1 1.5-.1 1.6 1.2 1.8 1 1.8 1.2 1.8-.8 1.8-1.2 1.4-1.7 1.2-.9 1.7-1.5 1.2-.4 2-1.4 1.3-.9 1.6 .1 1.7 .4 1.6 .9 1.4 .1 1.7-.3 1.6-.5 1.6-1.1 1.4 .5 1.8-.6 1.5-1 1.5 .2 1.7-.5 1.6 0 1.6-.7 1.6-.5 1.5 .5 1.8-1.1 1.4-.6 1.6 .2 1.7M55.9-.5l.3 2 .6 1.9-.3 2 .4 1.7 .7 1.7 .5 1.7 .4 1.7 1.1 1.5 1.1 1.6 .6 1.8 1.2 1.5 .8 1.7 1.8 1.5 1.5 1.9-.8 1.5-.5 1.6-.3 1.8-1 1.4-.2 1.9 .1 2-.6 1.9 2.2-1.3 1.5 .9 1.7 .4 .2 1.8 .9 1.6 .2 1.8 1.3 1.4 .1 1.8 .6 1.7 1.1 1.5 .3 1.9 1 1.5 .3 1.9 1.6-.8 1.8 .2 1.6-.7 1.8-.1 1.6-.4 1.6 .1 1.7 .1 1.6 .2 1.6 0 .6-1.5 1.3-1.1 .8-1.4M92.3 47.3l29.2 2.9 17 1.2 13.1 1.3M92.3 47.3l-6.1 48.5M86.2 95.8l18.3 1.5 24 1.9 21.5 1.3 18.9 1.4M.3 68.2l7.7 1.5 26.3 5.2 25.6 5.4 26.3 3.4M8 69.7l-7.7 34.8M.3 104.5l17.8 26.4 23.2 30.6M59.9 80.3l-7.4 50.6-.7 8.9M104.4 97.3l-3.6 33.6-7.8 83.7M51.8 139.8l23.7 3.1 23.1 2.5 24.9 2.2 23 1.5 20.7 .5 36.3-.1 35.7-.6M168.9 101.9l-.7 29-1 18.7M168.9 114l29.6-.4 30.4-.9M154.7 3.5l-1.4 37-1.7 36.4-1.6 23.6M98.5-.5l8.6 1.2 21.4 1.8 26.2 1.5 21.6 .4 33.7 0 16.2-2.3 1.3-2.6M176.3-.5l0 4.9M153.3 40.5l30.2 .5 32.6 .2M151.6 76.9l1.7 .2 1.7-.1 1.6 .4 1.7-.7 1.7 .7 1.7 0 1.7-.1 1.6 .4 1.7-.8 1.7-.2 1.7 .7 1.7 .3 1.7-.1 1.6-.8 1.7 .1 1.7 .5 1.7-.2 1.7 .4 1.7 .2 1.7-.7 1.7 .5 1.7 .1 1.6-.4 1.7 .5 1.7 .1 1.7-.7 1.7 .9 1.7-.5 1.7 0 1.3 1.1 1.6 .4 1.2 1.2 1.7 0 1.6-.8 1.7-.4 1.7-.1 1.6 .3 1.3 1 1.7 .3 1.5 .4 1.6 1.5M210 4.4l.7 1.8-.5 1.9 .9 1.7 .3 1.8-.1 1.9 .7 1.6 .8 1.5-.1 1.8 .4 1.7 .9 1.5-.3 1.7 .6 1.6 .7 1.6-.1 1.7 .2 1.7 .6 1.6 .4 1.6-.2 1.7 .2 1.7 .7 2.3-.1 2.4-1.4 1.7-1.3 1.7 1.2 1.3 .9 1.5 1.3 1.2 .2 1.7-.5 1.7 .3 1.6 .3 1.7 .1 1.6 .1 1.7 .5 1.6-.4 1.7 .6 1.6-.4 1.7 .9 1.6-.6 1.8 .3 1.6-.8 1.7-.6 1.7 .4 1.9 .8 1.8 .6 1.8 .2 1.9 .5 1.6 1.1 1.4-.2 1.9 .6 1.5 1.3 1.3 .1 1.8 .9 1.7 .5 1.7-.6 2.1 .9 1.7 .9 1.6 .1 1.9 .6 1.6-.1 1.7 .8 1.5-.1 1.8 .9 1.5 1 1.6 .3 1.8 1.7 .9 1.7 .9 2 .2-.1 1.8 .3 1.7 .6 1.6 .5 1.7 1.4 1.7 2 1 0 1.7 .2 1.6 .5 1.7-.5 1.7-.4 1.6 .7 1.7-.6 1.6-.2 1.6 .1 1.7 0 1.6 .3 1.7 .3 1.6 .2 1.6-.3 1.7-.1 1.6 .1 1.6 .7 1.5 .6 1.5 0 1.7 .6 1.7-.5 2 1.1 1.7-.4 1.9 1.1 1.6-.6 2 .8 1.7 .2 1.6-.2 1.6 .1 1.7 .4 1.6-.4 1.6 1 1.6-.3 1.6 .3 1.6 0 1.6-.3 1.7 .5 1.6-.2 1.6 .3 1.6M218.8 70.2l21.7-.9 23.5-1.1M226.9 105.3l19.6-.9 18.1-1.2M252.5 29l.5 1.8-.1 1.9 .2 1.9 .1 1.9-1.5 1.1-.6 1.8-1.4 1.3-1.3 1.2 .5 1.7-.3 1.8 .7 1.7-.4 1.8 1 1.6-.4 1.8 .3 1.7 1.3 1.3 1.4 .9 1.8 .4 1.6 .8 .9 1.7 1.4 1.1 1.7 .6 1.4 1.5 1.9 1 1.4 1.5 0 1.7 .4 1.6 .6 1.5 0 1.7 .4 1.6 1.3 1 1 1.2 1.2 1.2 1.6 .6 .9 1.4 .7 1.6 .9 1.4 1.3 1.2 1.2 1.2-.6 1.8 .6 1.9-.7 1.7-1.3 1.2-1.9 .1-1.4 1-1.4 1.1 0 2 .4 2-.4 2-1 1.4-1.1 1.3-.8 1.5-1.2 1.2 .8 1.5-.2 1.7 .7 1.6 .3 1.6-.2 1.7 1.2 1.2 1.2 1.3 1.9 .4 1.3 1.1 1.1 1.4 1.2 1.1 1.5 .8 .8 1.6 1.3 .9 1.3 1 .3 1.6-.3 1.7 .6 1.6 .7 1.5 0 1.7 2.3 1.9M283.1 169l-1.2 2.3-.5 1.6-.9 1.4-.2 1.6-.2 1.7-.7 1.9-.8 1.8-1.2 1.7-.7 2.2-.2 2.3 .7 2 0 2.2 .2 2.1 .2 2.1 .5 2.1 .2 2.1 1.7 1 1 1.7-1.5 1.2-1.2 1.5-.9 1.8-.2 1.9-.8 1.7-.9 1.7 .1 1.9-.8 2.2-.1 2.3 1.7-.6 1.6 .2 1.7-.1 1.7 .5 1.7-.5M272 78.3l11.1-.7M240.6 155.2l20.9-1.6 21.6-1.9M249 196.5l14.5-1.3 13.9-1.4M158.1 149.6l0 6.3-1.1 27.1-1 27.4M158.1 155.9l29.4 .7 0 23.1M187.5 179.7l-.9-1.2 1.6 1.7 2 1 1.9 .5 1.9 .5 1.6 1.2 1.7 .7 1.9 .2 1.8 .5 1.8 0 1.8 .2 1.8-.2 1.1 1.6 1.6 1.1 2.7-.9 1.4 1 1.5 .7 1.6 .5 1.2-1.3 1.5-.9 1.7 1 2.1 0 1.6 1.2 1.8-1 1.8-.8 2.3-.3 2.2-.6 1.8-.5 1.8 .1 1.6 .7 1.3 1.3 1.6 .7 1.7 1 1.9 .3 1.7 .6 1.8-.1 .9 2-.7 2.3 .8 2-.2 1.7-.1 1.7 .7 1.6-.1 1.7 0 1.7 .4 1.6 .1 1.7 1.1 2 1.7 1.6 .7 1.8 1 1.7 .2 2 .8 1.7-.3 2.1-.5 2.1-.1 2.1 .5 1.8-.7 1.8 .2 1.8 0 1.8-1 1.6-.4 1.9M217.2 259l1.4-.9 1.2-1.3 1.6-.7 1.2-1.2 1.6-1.6 2-1.1 1.7-.3 1.1-1.3 1.8-.1 1-1.4 1.6-.5 1.4-.8 1.2-1.1 1.2-1.1 1.6-.6 1.4-1.3 1.3-1.4 1.6-1.1 1.1-1.6 2-.3 1.4-1.7 1.8-.6 1.9-.5 1.7 .3 1.5-1.1 1.6-.3 1.7 .1 1.6-.4 1.5 .7 1.6 .4 1.8-.2 1.4 .9 2.2 .7 2.3-.2 1-1.2 1.4-.9 1.2-1.1 1.9 .8 1.7 1 2-.2 1.8 .8 1.9 .3M240 242l1.5-1.5 1 2-1.5 1.5M224.5 251.5l2-1 .5 2M118.2 208.6l28.3 1.8 9.5 0M34.9 192.5l36.8 19.4 21.3 2.9 8.8 .5 0-5.1 16.4 .8 0-2.4M118.2 208.6l1.1 1.3 1.2 1.3 1.1 1.3 .8 1.5 1.2 1.2 .6 1.7 1.3 1.1 1.6 1.1 .9 1.9 1.4 1.3 1.6 1.2 1.1 1.7 1.4 1.4 1.5 1.3 0 1.8 1.2 1.7-.6 1.9 .8 1.7 1.6 1.3 1.3 1.6 1.2 1.6 1.4 1.6 2.1 .5 1.5 1.4 1.5 1.4 1.9 .7 2 .5 1.6 1.2 .5-1.7 1.2-1.4 .7-1.6 .5-1.7 1.3-1.3 1.8-.9 1.7-1 2.1-.2 2.1 .5 2.1 0 1.8 .7 1.9-.1 1.9 .3 2 .9 1.4 1.7 .9 1.5 1.5 1 1.2 1.2 .5 1.8 1.5 1.2 .6 1.7 .8 1.6 .4 1.7 .6 1.7 1 1.5 .5 1.7 1.1 1.4M152.5 246.8l-7 12.2M51.8 139.8l-.8 1.7 .1 1.8 0 1.8-.8 1.7-.4 1.7-.2 1.8-1.5-1.1-1.7-.7-2.4 .4 0 1.9-1.1 1.7 .1 1.9-1 1.7-.1 1.9-.5 2.2 .2 2.3 .5 2 .8 1.8 .6 2 .6 2 1.4 1.4-1.6 .8-.8 1.7-1.5 .9-.6 1.7-.4 1.7-.6 1.6-.3 1.8-2 .9-.7 1.9 .2 2 1.5 2-1.2 1.4-1.7 .5-1.2 1.3-1.7 .6 .2 1.8-.6 1.6-.7 1.7 .1 1.7 1 2M11.7 187.9l12.8 1.1 13.3 1.1M.5 166.4l1.2 2 1.2 1.9 .9 1.4 1.2 1.2 1.7 .6 .8 1.5 1.2 1.1 .8 1.6 .9 1.6 .8 1.6 0 1.6-.1 1.7 .1 1.6 .3 1.7 1.1 1.2 0 2 .2 1.9 .8 1.9 .2 1.8 1.2 1.4 .5 1.6-.1 1.8 .1 1.7 .6 1.6 .4 1.7 .9 1.5 .3 1.8 .7 1.6-.1 2 1.3 1.8-.2 2-.1 1.7 .4 1.7 .7 1.6 0 1.7 1.4 1.2 1.1 1.4 1.5 1 1.7 .8 1.1 1.5 .9 1.5 1.3 1.2 .5 1.8 1.1 1.3 .9 1.5 1.4 1.2 .2 1.9 1.4 1.2-.3 1.7-.4 1.7-.2 1.7-.1 1.7-1.6 .7-1.3 1.2-.5 1.9-1.8 1.2-.6 1.8 .6 2.2 .4 2.2M32.5 193.5l-.1 1.9 .3 2-.7 1.9 .4 2.1 1 1.8-.4 2-.8 1.9-.7 1.9 .5 1.9 .1 2 .4 1.9-.3 1.9-.3 1.9 .1 2 .4 1.7 .4 1.8 1.1 1.4 1.1 1.2 1 1.4 1.2 1 1.7 .7 .8 1.5 .3 1.8 1.1 1.4 .6 1.6 1.7 1.2 1.2 1.7 1 2.9 .6 1.7 1.3 1.3 .7 1.5 .3 1.6 0 1.7 .5 1.9 .4 2 .8 1.9 .7 1.9 1.4 1.6M33 199.3l1.8 1.1 1.7 1.1 1.3 1.7 1.3 1.1 1.6 .8 2.9-.9 1.4 1.2 .6 1.7 2.2 1.1 1.6 1.8 1 2.9-.6 1.9-.4 2 1.3 1.7 .7 2.1 .2 1.6 .1 1.6 .9 1.5 .5 1.5 .2 1.6 .9 1.9 .8 1.9 .3 2 .8 1.9 .5 2 .6 1.9 1.8 1.1 1.1 1.8 .8 1.7 1.3 1.5 .8 1.7 .7 2 1.2 1.8 1.7 .7 1.5 1.1 1.7 .7 1.3 .9 1.6 .5-.7 1.8-.8 1.7M21.3 247.8l13.2 1 13 .9M42.3 230.5l1.4 2.5-.6 3.5-1-2.5M53.8 236.6l1.3 1.4-.8 2.2-.8-1.7M93 214.8l-.9 5.8 3.9 2.9 0 6.8-2 7.8 .5 11.6-6.3 1.5 1.9 7.8M229.5-.5l-.1 2 .3 2 .3 2 2.5 1 1.7 .1 1.6 .8 1.7 .1 1.5 1 1.4-1.2 1.6-.8 1.9 .7 2.1-.2 1.5 .8 .9 1.5 1.1 1.2 2.5-1 2.5 1.5 1.2 1.4 1.8 .6 1.3-1 1.4-1 1.3-1 2 1.5 1.6-.8 1.7 .1 1.7-.3 2 1.5 3-1 1.5-2-.5-3 2.1-1 1.9-1.5 1.8-.7 1.2-1.5 1.6-.8M251.5 30l1.2-1.8 1.8-1.2 1.6-.9 1.1-1.4 .9-1.6 1.4-1.1 1.5-1.3 1.4-1.5 1.1-1.7 1.6-.6 1.4-1 1.6-.4 1.4-1 1.9-1.5 2.1-1 1.3-1.7 1.7-1.3 1.2-1.4 1.6-1 1.7-.6 2.1-1.5M251.5 30l3-.8 4-1.6 4.5-2.6 3-.5 1-1.2-1.5 4.7 3.5-.2 1.5 .7 2-1.5 2.5-1.5 2.5-1.5 2.5-2 3.1-2M269.5 29l1.5 3.5 7.5 1.5 4.6 1.5M280.5 1l2.6-1"/><path fill="none" stroke="#000" stroke-width="2.8" stroke-linecap="round" d="M276 13L281.5 8.5M280.5 1.2L283 0.5M266.3 23.3L267 26"/><path fill="none" stroke="#000" stroke-width="1.25" stroke-linejoin="round" d="M-2.1-8.6l-13.8 11.5-6.5-4.3 6.5 4.3 1.4-1.1-6.6-4.4 6.6 4.4 1.4-1.2-6.6-4.3 6.6 4.3 1.4-1.1-3.3-2.2 3.3 2.2M17.6-8l-13.8 11.6-6.6-4.4 6.6 4.4 1.4-1.2-6.6-4.3 6.6 4.3 1.4-1.1-6.6-4.4 6.6 4.4 1.3-1.2-3.3-2.2 3.3 2.2M37.2-7.5l-13.8 11.4-6.6-4.4 6.6 4.4 1.3-1.1-6.5-4.4 6.5 4.4 1.4-1.1-6.5-4.4 6.5 4.4 1.4-1.2-3.3-2.2 3.3 2.2M56.9-7.2l-17.3 5.1-4.3-6.6 4.3 6.6 1.8-.5-4.3-6.6 4.3 6.6 1.7-.5-4.3-6.6 4.3 6.6 1.7-.5-2.1-3.3 2.1 3.3M76.6-7l-18-1.2-1.7-7.7 1.7 7.7 1.8 .1-1.8-7.7 1.8 7.7 1.8 .1-1.8-7.7 1.8 7.7 1.8 .2-1.8-7.7 1.8 7.7M96.2-7l-16.6-6.8 .8-7.9-.8 7.9 1.6 .6 .8-7.8-.8 7.8 1.7 .7 .8-7.8-.8 7.8M115.9-7.2l-13.9-11.4 3.1-7.3-3.1 7.3 1.4 1.1 3.1-7.3-3.1 7.3 1.4 1.1 1.5-3.6-1.5 3.6M135.5-7.5l-9.6-15.2 5.2-6-5.2 6 1 1.5 5.1-5.9-5.1 5.9 .9 1.5 5.2-5.9-5.2 5.9M155.2-8l-4.2-17.5 6.9-4-6.9 4 .4 1.7 6.9-3.9-6.9 3.9 .5 1.8 6.8-4-6.8 4 .4 1.7 3.4-1.9-3.4 1.9M174.8-8.7l-2.8-17.7 7.1-3.5-7.1 3.5 .3 1.7 7.1-3.4-7.1 3.4 .3 1.8 7.1-3.4-7.1 3.4 .2 1.8 3.6-1.7-3.6 1.7M194.5-9.5l-2.6-17.8 7.2-3.3-7.2 3.3 .3 1.8 7.1-3.3-7.1 3.3 .2 1.8 7.2-3.4-7.2 3.4 .3 1.7 7.1-3.3-7.1 3.3M214.1-10.5l-1.5-17.9 7.3-2.9-7.3 2.9 .1 1.8 7.3-2.9-7.3 2.9 .2 1.8 7.3-2.9-7.3 2.9 .1 1.8 7.4-2.9-7.4 2.9M233.8-11.6l-.4-18 7.5-2.4-7.5 2.4 0 1.8 7.5-2.4-7.5 2.4 0 1.8 7.6-2.4-7.6 2.4 .1 1.8 7.5-2.4-7.5 2.4 0 1.8 3.8-1.2-3.8 1.2M253.4-12.9l.9-18 7.6-1.9-7.6 1.9-.1 1.8 7.6-1.9-7.6 1.9-.1 1.8 7.7-1.9-7.7 1.9-.1 1.8 7.7-1.9-7.7 1.9-.1 1.8 3.8-1-3.8 1M273-14.4l2.4-17.9 7.8-1.2-7.8 1.2-.2 1.8 7.7-1.2-7.7 1.2-.3 1.8 7.8-1.2-7.8 1.2-.2 1.8 7.8-1.2-7.8 1.2M292.6-16.1l3.1-17.7 7.8-.9-7.8 .9-.3 1.8 7.8-.9-7.8 .9-.3 1.8 7.8-.9-7.8 .9-.3 1.7 7.8-.9-7.8 .9M-2.8 11.5l-13.6 11.8-6.7-4.2 6.7 4.2 1.3-1.1-6.6-4.3 6.6 4.3 1.4-1.2-6.7-4.3 6.7 4.3 1.4-1.2-3.4-2.1 3.4 2.1M17 12.2l-13.7 11.7-6.6-4.3 6.6 4.3 1.4-1.2-6.6-4.3 6.6 4.3 1.3-1.2-6.6-4.2 6.6 4.2 1.4-1.1-3.3-2.2 3.3 2.2M36.8 12.7l-13.8 11.6-6.5-4.4 6.5 4.4 1.4-1.2-6.6-4.3 6.6 4.3 1.4-1.2-6.6-4.3 6.6 4.3 1.4-1.1-3.3-2.2 3.3 2.2M56.7 13l-16.7 6.8-5-6.1 5 6.1 1.7-.7-5-6.1 5 6.1 1.6-.6-4.9-6.2 4.9 6.2 1.7-.7-2.5-3.1 2.5 3.1M76.5 13.2l-17.9 1.7-3-7.4 3 7.4 1.8-.2-3-7.3 3 7.3 1.7-.2-2.9-7.3 2.9 7.3 1.8-.1-1.4-3.7 1.4 3.7M96.3 13.2l-17.7-3.1-.9-7.8 .9 7.8 1.8 .3-1-7.8 1 7.8 1.7 .3-.9-7.8 .9 7.8 1.8 .3-.5-3.9 .5 3.9M116.1 13l-13.9-11.4 3.1-7.3-3.1 7.3 1.4 1.2 3-7.3-3 7.3 1.4 1.1 1.5-3.6-1.5 3.6M136 12.7l-9.6-15.3 5.2-5.9-5.2 5.9 1 1.6 5.2-6-5.2 6 .9 1.5 2.6-3-2.6 3M155.8 12.2l-4-17.6 6.9-3.8-6.9 3.8 .4 1.8 6.9-3.9-6.9 3.9 .4 1.7 6.9-3.8-6.9 3.8 .4 1.8 3.5-1.9-3.5 1.9M175.6 11.5l-2.8-17.8 7.1-3.4-7.1 3.4 .2 1.8 7.1-3.4-7.1 3.4 .3 1.8 7.1-3.4-7.1 3.4 .3 1.8 3.6-1.7-3.6 1.7M195.4 10.7l-2.5-17.8 7.1-3.3-7.1 3.3 .2 1.7 7.2-3.3-7.2 3.3 .3 1.8 7.1-3.3-7.1 3.3 .2 1.8 7.2-3.3-7.2 3.3M215.2 9.7l-1.7-17.9 7.3-3-7.3 3 .1 1.8 7.3-3-7.3 3 .2 1.8 7.3-3-7.3 3 .2 1.7 7.3-2.9-7.3 2.9M235 8.5l-.8-18 7.4-2.6-7.4 2.6 0 1.8 7.5-2.6-7.5 2.6 .1 1.8 7.5-2.6-7.5 2.6 .1 1.8 7.5-2.6-7.5 2.6 .1 1.8 3.7-1.3-3.7 1.3M254.8 7.2l.6-18 7.6-2-7.6 2 0 1.8 7.6-2-7.6 2-.1 1.8 7.6-2-7.6 2-.1 1.8 7.7-2-7.7 2 0 1.8 3.8-1-3.8 1M274.6 5.7l2.4-17.8 7.8-1.2-7.8 1.2-.2 1.8 7.8-1.2-7.8 1.2-.3 1.7 7.8-1.2-7.8 1.2-.2 1.8 7.8-1.2-7.8 1.2M294.3 4.1l3.2-17.8 7.8-.9-7.8 .9-.3 1.8 7.8-.9-7.8 .9-.4 1.8 7.9-.9-7.9 .9-.3 1.8 7.9-.9-7.9 .9M-3.6 31.8l-13.4 12-6.7-4.1 6.7 4.1 1.4-1.2-6.8-4.1 6.8 4.1 1.3-1.2-6.7-4.1 6.7 4.1 1.3-1.2-3.3-2 3.3 2M16.4 32.5l-13.6 11.8-6.6-4.2 6.6 4.2 1.4-1.2-6.7-4.2 6.7 4.2 1.3-1.2-6.6-4.2 6.6 4.2 1.4-1.1-3.3-2.2 3.3 2.2M36.4 33l-13.8 11.6-6.6-4.4 6.6 4.4 1.4-1.2-6.6-4.3 6.6 4.3 1.4-1.2-6.6-4.3 6.6 4.3 1.4-1.1-3.3-2.2 3.3 2.2M56.4 33.3l-15.9 8.4-5.5-5.6 5.5 5.6 1.6-.8-5.5-5.6 5.5 5.6 1.6-.8-5.5-5.7 5.5 5.7 1.6-.9-2.8-2.8 2.8 2.8M76.4 33.5l-17.3 4.8-4.2-6.6 4.2 6.6 1.7-.4-4.2-6.7 4.2 6.7 1.7-.5-4.2-6.7 4.2 6.7 1.8-.5-2.1-3.4 2.1 3.4M96.4 33.5l-18 .3-2.4-7.5 2.4 7.5 1.8 0-2.4-7.5 2.4 7.5 1.8 0-2.4-7.6 2.4 7.6 1.8-.1-1.2-3.7 1.2 3.7M116.4 33.3l-13.9-11.4 3.1-7.3-3.1 7.3 1.4 1.1 3.1-7.3-3.1 7.3 1.4 1.2 1.5-3.7-1.5 3.7M136.4 33l-9.5-15.3 5.3-5.9-5.3 5.9 1 1.5 5.2-5.9-5.2 5.9 .9 1.5 2.6-2.9-2.6 2.9M156.4 32.5l-3.8-17.6 7-3.8-7 3.8 .4 1.7 6.9-3.8-6.9 3.8 .4 1.8 6.9-3.8-6.9 3.8 .4 1.7 3.4-1.8-3.4 1.8M176.4 31.8l-2.9-17.8 7.1-3.4-7.1 3.4 .3 1.8 7.1-3.4-7.1 3.4 .3 1.8 7.1-3.4-7.1 3.4 .3 1.8 3.5-1.8-3.5 1.8M196.4 31l-2.6-17.9 7.2-3.3-7.2 3.3 .3 1.8 7.1-3.3-7.1 3.3 .2 1.8 7.2-3.3-7.2 3.3 .3 1.8 7.1-3.3-7.1 3.3M216.3 30l-2-17.9 7.2-3.1-7.2 3.1 .2 1.8 7.2-3.1-7.2 3.1 .2 1.8 7.2-3.1-7.2 3.1 .2 1.7 7.3-3.1-7.3 3.1M236.3 28.8l-1.5-17.9 7.3-2.9-7.3 2.9 .1 1.7 7.4-2.8-7.4 2.8 .2 1.8 7.3-2.8-7.3 2.8 .1 1.8 7.4-2.8-7.4 2.8 .2 1.8 3.7-1.4-3.7 1.4M256.3 27.5l.2-18 7.6-2.2-7.6 2.2 0 1.8 7.5-2.2-7.5 2.2-.1 1.8 7.6-2.2-7.6 2.2 0 1.8 7.6-2.2-7.6 2.2 0 1.8 3.8-1.1-3.8 1.1M276.2 26l2.5-17.9 7.8-1.2-7.8 1.2-.3 1.8 7.8-1.2-7.8 1.2-.2 1.8 7.8-1.2-7.8 1.2-.3 1.8 7.8-1.2-7.8 1.2M296.1 24.3l3.1-17.7 7.9-.9-7.9 .9-.3 1.7 7.9-.9-7.9 .9-.3 1.8 7.9-.9-7.9 .9-.3 1.8 7.8-.9-7.8 .9M-4.3 52.2l-13.4 12.1-6.7-4.2 6.7 4.2 1.3-1.2-6.7-4.2 6.7 4.2 1.4-1.3-6.8-4.1 6.8 4.1M15.8 52.9l-13.5 11.9-6.7-4.2 6.7 4.2 1.4-1.2-6.7-4.2 6.7 4.2 1.3-1.2-6.7-4.2 6.7 4.2M36 53.4l-13.7 11.7-6.6-4.2 6.6 4.2 1.4-1.1-6.6-4.3 6.6 4.3 1.4-1.2-6.7-4.3 6.7 4.3M56.2 53.7l-15.2 9.7-6-5.1 6 5.1 1.5-1-6-5.1 6 5.1 1.5-.9-3-2.6 3 2.6M76.3 53.9l-16.6 7-5-6.1 5 6.1 1.7-.7-5-6.1 5 6.1 1.7-.7-2.6-3.1 2.6 3.1M96.5 53.9l-18-.1-2.2-7.6 2.2 7.6 1.8 0-2.2-7.5 2.2 7.5 1.8 0-1.1-3.8 1.1 3.8M116.7 53.7l-14.4-10.9 2.8-7.3-2.8 7.3 1.4 1.1 2.8-7.4-2.8 7.4M136.8 53.4l-10.9-14.3 4.6-6.4-4.6 6.4 1.1 1.4 4.6-6.4-4.6 6.4M157 52.9l-4-17.6 6.9-3.9-6.9 3.9 .4 1.8 6.9-3.9-6.9 3.9 .4 1.7 6.9-3.8-6.9 3.8 .4 1.8 3.5-2-3.5 2M177.1 52.2l-2.8-17.8 7.1-3.4-7.1 3.4 .3 1.8 7.1-3.4-7.1 3.4 .3 1.8 7.1-3.4-7.1 3.4 .3 1.7 7.1-3.4-7.1 3.4M197.3 51.3l-2.2-17.8 7.2-3.2-7.2 3.2 .2 1.8 7.3-3.2-7.3 3.2 .2 1.7 7.3-3.1-7.3 3.1 .3 1.8 7.2-3.1-7.2 3.1M217.4 50.3l-1.5-17.9 7.3-2.9-7.3 2.9 .1 1.8 7.4-2.9-7.4 2.9 .2 1.8 7.3-2.9-7.3 2.9 .2 1.8 7.3-2.9-7.3 2.9 .1 1.8 3.7-1.5-3.7 1.5M237.6 49.1l-1.1-17.9 7.5-2.7-7.5 2.7 .2 1.8 7.4-2.7-7.4 2.7 .1 1.8 7.4-2.7-7.4 2.7 .1 1.8 7.4-2.7-7.4 2.7 .1 1.8 3.7-1.4-3.7 1.4M257.7 47.8l-.5-18 7.5-2.4-7.5 2.4 .1 1.8 7.5-2.4-7.5 2.4 0 1.8 7.5-2.4-7.5 2.4 .1 1.8 7.5-2.4-7.5 2.4 0 1.8 3.8-1.2-3.8 1.2M277.8 46.3l.6-18 7.6-2-7.6 2-.1 1.8 7.6-2-7.6 2 0 1.8 7.6-2-7.6 2-.1 1.8 7.6-2-7.6 2M297.9 44.6l1.1-18 7.7-1.8-7.7 1.8-.1 1.8 7.7-1.8-7.7 1.8-.1 1.8 7.7-1.8-7.7 1.8-.1 1.8 7.6-1.8-7.6 1.8M-5.1 72.7l-13.4 12-6.7-4.1 6.7 4.1 1.4-1.2-6.8-4.1 6.8 4.1 1.3-1.2-3.4-2 3.4 2M15.2 73.4l-13.4 12-6.7-4.1 6.7 4.1 1.4-1.2-6.7-4.1 6.7 4.1 1.3-1.2-3.3-2.1 3.3 2.1M35.6 73.9l-13.4 12-6.8-4.1 6.8 4.1 1.3-1.2-6.7-4.1 6.7 4.1M55.9 74.2l-13.6 11.8-6.7-4.3 6.7 4.3 1.3-1.2-6.6-4.2 6.6 4.2M76.2 74.4l-13.9 11.4-6.5-4.4 6.5 4.4 1.4-1.2-3.3-2.2 3.3 2.2M96.6 74.4l-18-.9-1.9-7.6 1.9 7.6 1.8 .1-1.9-7.6 1.9 7.6M116.9 74.2l-15.2-9.7 2.2-7.6-2.2 7.6 1.6 1 1-3.8-1 3.8M137.3 73.9l-12.8-12.7 3.8-7-3.8 7 1.3 1.2 3.7-6.9-3.7 6.9M157.6 73.4l-4.1-17.6 6.8-3.9-6.8 3.9 .4 1.8 6.8-3.9-6.8 3.9 .4 1.7 6.8-3.9-6.8 3.9 .4 1.8 6.9-3.9-6.9 3.9M177.9 72.7l-2.7-17.8 7.1-3.4-7.1 3.4 .2 1.8 7.2-3.4-7.2 3.4 .3 1.7 7.1-3.3-7.1 3.3 .3 1.8 7.1-3.4-7.1 3.4M198.2 71.8l-1.7-17.9 7.3-3-7.3 3 .2 1.8 7.3-3-7.3 3 .2 1.8 7.3-3-7.3 3 .1 1.8 7.3-3-7.3 3M218.6 70.8l-.9-18 7.4-2.6-7.4 2.6 0 1.8 7.5-2.6-7.5 2.6 .1 1.8 7.5-2.6-7.5 2.6 .1 1.8 7.5-2.6-7.5 2.6 .1 1.8 3.7-1.3-3.7 1.3M238.9 69.6l-.3-18 7.6 2.2-7.5 2.3M259.2 68.3l-1.6-18 7.4-2.9-7.4 2.9 .2 1.8 7.3-2.9-7.3 2.9 .1 1.8 7.4-2.9-7.4 2.9 .2 1.8 7.3-2.9-7.3 2.9 .1 1.8 3.7-1.4-3.7 1.4M279.4 66.7l-2.9-17.7 7.1-3.5-7.1 3.5 .3 1.7 7.1-3.4-7.1 3.4 .3 1.8 7-3.4-7 3.4 .3 1.8 7-3.5-7 3.5M299.7 65l-2.8-17.7 7.1-3.5-7.1 3.5 .3 1.7 7.1-3.4-7.1 3.4 .2 1.8 7.1-3.4-7.1 3.4 .3 1.8 7.1-3.4-7.1 3.4M-5.9 93.3l-13.3 12-6.8-4.1 6.8 4.1 1.3-1.2-6.7-4.1 6.7 4.1 1.3-1.2-3.3-2 3.3 2M14.6 94l-13.3 12-6.8-4.1 6.8 4.1 1.3-1.2-6.7-4.1 6.7 4.1M35.1 94.5l-13.3 12-6.8-4.1 6.8 4.1 1.3-1.2-6.7-4.1 6.7 4.1M55.6 94.8l-13.6 11.7-6.7-4.3 6.7 4.3 1.3-1.2-3.3-2.1 3.3 2.1M76.2 95l-14.2 11.1-6.4-4.6 6.4 4.6 1.4-1.1-3.2-2.3 3.2 2.3M96.7 95l-18-.9-1.9-7.7 1.9 7.7 1.8 .1-1-3.8 1 3.8M117.2 94.8l-15.1-9.8 2.2-7.6-2.2 7.6 1.5 1 1.1-3.8-1.1 3.8M137.7 94.5l-12.8-12.7 3.7-6.9-3.7 6.9 1.2 1.3 1.9-3.5-1.9 3.5M158.2 93.9l-4-17.5 6.9-3.9-6.9 3.9 .4 1.7 6.9-3.8-6.9 3.8 .4 1.8 6.9-3.9-6.9 3.9 .4 1.7 6.9-3.8-6.9 3.8M178.7 93.3l-2.7-17.8 7.2-3.4-7.2 3.4 .3 1.7 7.1-3.3-7.1 3.3 .2 1.8 7.2-3.3-7.2 3.3 .3 1.8 7.2-3.4-7.2 3.4M199.2 92.4l-1.6-17.9 7.3-2.9-7.3 2.9 .1 1.8 7.4-3-7.4 3 .2 1.8 7.3-3-7.3 3 .2 1.7 7.3-2.9-7.3 2.9M219.7 91.4l-.8-18 7.5-2.6-7.5 2.6 .1 1.8 7.5-2.6-7.5 2.6 .1 1.8 7.4-2.6-7.4 2.6 0 1.8 7.5-2.6-7.5 2.6 .1 1.8 3.8-1.3-3.8 1.3M240.1 90.2l0-18 7.6 2.2-7.6 2.3M260.6 88.8l-2.7-17.8 7.1-3.4-7.1 3.4 .2 1.8 7.2-3.4-7.2 3.4 .3 1.8 7.1-3.4-7.1 3.4 .3 1.7 7.1-3.3-7.1 3.3 .3 1.8 3.5-1.7-3.5 1.7M281.1 87.3l-6.4-16.9 6.3-4.8-6.3 4.8 .7 1.7 6.3-4.8-6.3 4.8 .6 1.7 6.3-4.8-6.3 4.8 .6 1.7 3.2-2.4-3.2 2.4M-6.6 114l-13.4 12-6.8-4.1 6.8 4.1 1.3-1.2-6.7-4.1 6.7 4.1M14 114.7l-13.3 12-6.8-4.1 6.8 4.1 1.3-1.2-6.7-4.1 6.7 4.1M34.7 115.2l-13.4 12-6.7-4.1 6.7 4.1 1.4-1.2-6.8-4.1 6.8 4.1M55.4 115.5l-13.9 11.5-6.5-4.4 6.5 4.4 1.4-1.2-3.3-2.2 3.3 2.2M96.8 115.7l-18-.9-1.9-7.6 1.9 7.6M117.4 115.5l-14.9-10 2.3-7.5-2.3 7.5M138.1 115.2l-12.8-12.7 3.8-7-3.8 7 1.3 1.3 1.9-3.5-1.9 3.5M158.8 114.6l-3.8-17.6 6.9-3.8-6.9 3.8 .4 1.8 6.9-3.8-6.9 3.8 .3 1.8 7-3.8-7 3.8 .4 1.7 6.9-3.8-6.9 3.8M179.5 113.9l-2.6-17.8 7.1-3.3-7.1 3.3 .2 1.8 7.2-3.3-7.2 3.3 .3 1.8 7.1-3.3-7.1 3.3 .2 1.8 7.2-3.3-7.2 3.3M200.1 113.1l-1.5-18 7.3-2.9-7.3 2.9 .1 1.8 7.4-2.9-7.4 2.9 .2 1.8 7.3-2.9-7.3 2.9 .1 1.8 7.4-2.9-7.4 2.9 .2 1.8 3.7-1.4-3.7 1.4M220.8 112l-.7-17.9 7.4-2.6-7.4 2.6 0 1.8 7.5-2.6-7.5 2.6 .1 1.7 7.5-2.5-7.5 2.5 .1 1.8 7.5-2.5-7.5 2.5 .1 1.8 3.7-1.2-3.7 1.2M241.4 110.8l-.1-18 7.6 2.2-7.5 2.3M262.1 109.4l-4.4-17.4 6.8-4-6.8 4 .5 1.7 6.8-4-6.8 4 .4 1.8 6.8-4-6.8 4 .4 1.7 6.8-4-6.8 4M282.7 107.9l-10-15 5.1-6.1-5.1 6.1 1 1.5 5.1-6.1-5.1 6.1 1 1.5 5.1-6.1-5.1 6.1M-7.4 134.8l-17.8 3-3.4-7.1 3.4 7.1 1.8-.3-3.5-7.1 3.5 7.1M13.4 135.4l-17.9 1.1-2.7-7.5 2.7 7.5 1.8-.1-2.7-7.5 2.7 7.5M34.3 136l-17.9-1.7-1.6-7.8 1.6 7.8 1.7 .1-.7-3.8 .7 3.8M76 136.5l-13.4-12.1 3.4-7.1-3.4 7.1 1.4 1.2 1.7-3.5-1.7 3.5M96.8 136.5l-9.7-15.1 5.1-6-5.1 6 .9 1.5 2.6-3-2.6 3M117.7 136.3l-12.5-12.9 3.9-6.9-3.9 6.9 1.2 1.2 2-3.4-2 3.4M138.6 135.9l-11.6-13.8 4.4-6.5-4.4 6.5 1.2 1.4 2.2-3.3-2.2 3.3M159.4 135.4l-3.4-17.6 7-3.7-7 3.7 .3 1.7 7-3.6-7 3.6 .4 1.8 7-3.7-7 3.7 .3 1.8 7-3.7-7 3.7M180.3 134.7l-2.5-17.8 7.2-3.3-7.2 3.3 .2 1.8 7.2-3.3-7.2 3.3 .3 1.8 7.2-3.3-7.2 3.3 .2 1.7 7.2-3.2-7.2 3.2 .3 1.8 3.6-1.6-3.6 1.6M201.1 133.9l-1.7-18 7.4-2.9-7.4 2.9 .2 1.8 7.3-2.9-7.3 2.9 .2 1.8 7.3-2.9-7.3 2.9 .1 1.8 7.4-2.9-7.4 2.9 .2 1.8 3.7-1.5-3.7 1.5M221.9 132.8l-3.1-17.7 7.9 .9-7.1 3.5M242.7 131.6l-4.4-17.5 7.9 .4-6.8 4M263.6 130.2l-10-15 5.1-6.1-5.1 6.1 1 1.5 5-6.1-5 6.1 1 1.5 5-6.1-5 6.1 1 1.5 5-6.1-5 6.1 1 1.5 2.5-3-2.5 3M284.4 128.6l-15-10 2.3-7.5-2.3 7.5 1.5 1 2.3-7.5-2.3 7.5 1.5 1 2.3-7.5-2.3 7.5 1.5 1 1.1-3.7-1.1 3.7M-8.2 155.6l-1.1-17.9 7.4-2.7-7.4 2.7 .1 1.8 3.7-1.4-3.7 1.4M12.8 156.3l0-18 7.6-2.2-7.6 2.2 0 1.8 3.8-1.1-3.8 1.1M33.8 156.9l1.1-18 7.7-1.8-7.7 1.8-.1 1.8 3.9-.9-3.9 .9M54.9 157.2l2.1-17.9 7.7-1.3-7.7 1.3-.3 1.8 3.9-.7-3.9 .7M75.9 157.4l3-17.8 7.8-1-7.8 1-.3 1.8 3.9-.5-3.9 .5M96.9 157.4l3-17.8 7.8-.9-7.8 .9-.3 1.8 3.9-.5-3.9 .5M118 157.2l-10.2-14.9 5-6.1-5 6.1 1 1.5 2.5-3-2.5 3M139 156.8l-10.2-14.8 4.9-6.1-4.9 6.1 1 1.5 4.9-6.1-4.9 6.1M160 156.3l-3.1-17.7 7.1-3.5-7.1 3.5 .3 1.8 7.1-3.6-7.1 3.6 .3 1.7 7.1-3.5-7.1 3.5 .3 1.8 7.1-3.5-7.1 3.5 .4 1.8 3.5-1.8-3.5 1.8M181 155.6l-2.3-17.8 7.2-3.2-7.2 3.2 .3 1.7 7.2-3.2-7.2 3.2 .2 1.8 7.2-3.2-7.2 3.2 .2 1.8 7.2-3.2-7.2 3.2 .3 1.8 3.6-1.6-3.6 1.6M202.1 154.7l-2.1-17.9 7.3-3-7.3 3 .2 1.8 7.3-3.1-7.3 3.1 .2 1.8 7.3-3.1-7.3 3.1 .2 1.8 7.3-3.1-7.3 3.1 .2 1.8 3.7-1.5-3.7 1.5M223.1 153.7l-6.4-16.9 7.9-.5-6.3 4.7M244.1 152.4l-10.1-14.9 7.6-2.3-5.1 6M265 151l-15-9.9 6-5-2.2 7.5M286 149.5l-17.4-4.7-.2-7.9 .2 7.9 1.8 .5-.3-7.9 .3 7.9 1.7 .4-.2-7.8 .2 7.8 1.7 .5-.2-7.9 .2 7.9 1.8 .5-.1-4 .1 4M-9 176.6l0-18 7.6-2.2-7.6 2.2 0 1.8 3.8-1.1-3.8 1.1M12.2 177.3l.6-18 7.7-1.9-7.7 1.9 0 1.8 3.8-1-3.8 1M33.4 177.9l1.5-18 7.7-1.6-7.7 1.6-.2 1.8 3.9-.8-3.9 .8M54.6 178.2l2.3-17.9 7.7-1.2-7.7 1.2-.3 1.8 3.9-.6-3.9 .6M75.8 178.4l3.1-17.8 7.8-.9-7.8 .9-.3 1.8 3.9-.5-3.9 .5M97 178.4l3.2-17.8 7.8-.9-7.8 .9-.4 1.8 4-.4-4 .4M118.2 178.2l-10.2-14.8 4.9-6.2-4.9 6.2 1 1.5 2.5-3.1-2.5 3.1M139.4 177.8l-10.7-14.4 4.8-6.3-4.8 6.3 1.1 1.4 4.7-6.3-4.7 6.3M160.6 177.3l-5.4-17.2 6.6-4.4-6.6 4.4 .6 1.7 6.5-4.4-6.5 4.4 .5 1.8 6.6-4.4-6.6 4.4 .6 1.7 3.2-2.2-3.2 2.2M181.8 176.6l-6.8-16.7 6.2-4.9-6.2 4.9 .7 1.7 6.2-4.9-6.2 4.9 .7 1.7 6.1-5-6.1 5 .7 1.6 6.1-4.9-6.1 4.9M203 175.7l-8.2-16 5.7-5.5-5.7 5.5 .8 1.6 5.7-5.5-5.7 5.5 .8 1.6 5.7-5.5-5.7 5.5 .9 1.6 5.7-5.5-5.7 5.5 .8 1.6 2.8-2.7-2.8 2.7M224.2 174.6l-11.9-13.5 4.3-6.7-4.3 6.7 1.2 1.4 4.2-6.7-4.2 6.7 1.2 1.3 4.2-6.7-4.2 6.7 1.2 1.4 4.2-6.7-4.2 6.7 1.2 1.3 2.1-3.3-2.1 3.3M245.4 173.4l-14.5-10.6 6.3-4.8-2.7 7.4M266.5 172l-17-5.8 4.6-6.5-.3 7.9M287.7 170.4l-17.9-2.2 3.2-7.2 1.3 7.8M-9.8 197.7l0-18 7.6-2.2-7.6 2.2 0 1.8 3.8-1.1-3.8 1.1M11.6 198.4l.6-18 7.6-2-7.6 2-.1 1.8 3.9-1-3.9 1M33 199l1.4-18 7.7-1.6-7.7 1.6-.1 1.8 3.8-.8-3.8 .8M54.4 199.3l2.2-17.9 7.8-1.2-7.8 1.2-.2 1.8 3.9-.6-3.9 .6M75.7 199.5l3.1-17.8 7.8-.9-7.8 .9-.3 1.8 3.9-.5-3.9 .5M97.1 199.5l3.1-17.8 7.8-.9-7.8 .9-.3 1.8 3.9-.4-3.9 .4M118.5 199.3l-10.3-14.7 4.9-6.2-4.9 6.2 1 1.4 4.9-6.2-4.9 6.2M139.9 198.9l-11.5-13.8 4.4-6.6-4.4 6.6 1.1 1.4 4.4-6.6-4.4 6.6M161.3 198.4l-10.6-14.6 4.8-6.2-4.8 6.2 1.1 1.5 4.8-6.3-4.8 6.3M182.6 197.7l-13.3-12.2 3.5-7.1-3.5 7.1 1.4 1.3 3.4-7.1-3.4 7.1 1.3 1.2 3.4-7.1-3.4 7.1M204 196.8l-14.7-10.5 2.6-7.4-2.6 7.4 1.5 1.1 2.6-7.5-2.6 7.5 1.5 1 2.5-7.4-2.5 7.4 1.4 1.1 2.6-7.5-2.6 7.5M225.3 195.7l-16.3-7.6 1.2-7.8-1.2 7.8 1.7 .8 1.1-7.8-1.1 7.8 1.6 .7 1.2-7.8-1.2 7.8 1.6 .8 1.2-7.8-1.2 7.8 1.7 .7 .5-3.9-.5 3.9M246.7 194.5l-17.3-5.2 4.4-6.6 0 7.9M268 193l-17.8-2.4 3.2-7.2 1.2 7.8M-10.6 218.9l0-18 7.6-2.3-7.6 2.3 0 1.8 3.8-1.1-3.8 1.1M11 219.6l.6-18 7.6-2-7.6 2-.1 1.8 3.8-1-3.8 1M32.5 220.1l1.4-17.9 7.8-1.7-7.8 1.7-.1 1.8 3.9-.8-3.9 .8M54.1 220.5l2.2-17.9 7.8-1.3-7.8 1.3-.2 1.8 3.9-.6-3.9 .6M75.7 220.7l3-17.8 7.8-.9-7.8 .9-.3 1.8 3.9-.5-3.9 .5M97.2 220.7l-.6-18 7.5-2.5-7.5 2.5 .1 1.8 3.7-1.3-3.7 1.3M118.8 220.5l-12.8-12.6 3.7-7-3.7 7 1.2 1.2 1.9-3.5-1.9 3.5M140.3 220.1l-13.8-11.5 3.1-7.3-3.1 7.3 1.4 1.1 3.1-7.2-3.1 7.2M161.9 219.6l-14-11.4 3-7.3-3 7.3 1.4 1.2 3-7.3-3 7.3 1.4 1.1 1.5-3.6-1.5 3.6M183.4 218.9l-15-9.9 2.2-7.6-2.2 7.6 1.5 1 2.2-7.6-2.2 7.6 1.5 1 2.3-7.6-2.3 7.6 1.5 1 1.1-3.8-1.1 3.8M205 218l-15.8-8.6 1.6-7.8-1.6 7.8 1.5 .8 1.7-7.7-1.7 7.7 1.6 .9 1.7-7.7-1.7 7.7 1.6 .8 1.6-7.7-1.6 7.7M226.5 216.9l-16.8-6.5 .7-7.9-.7 7.9 1.7 .6 .6-7.9-.6 7.9 1.7 .7 .6-7.9-.6 7.9 1.7 .6 .6-7.8-.6 7.8 1.6 .7 .4-4-.4 4M248 215.6l-17.5-4.3 4-6.8 .4 7.9M269.5 214.2l-17.9-1.5 2.9-7.4 1.6 7.8M-11.4 240.2l0-18 7.6-2.3-7.6 2.3 0 1.8 3.8-1.1-3.8 1.1M10.4 240.9l.5-18 7.6-2-7.6 2 0 1.8 3.8-1-3.8 1M32.1 241.4l1.4-17.9 7.7-1.7-7.7 1.7-.2 1.8 3.9-.8-3.9 .8M53.8 241.8l2.3-17.9 7.7-1.3-7.7 1.3-.3 1.8 3.9-.6-3.9 .6M75.6 242l3-17.8 7.8-.9-7.8 .9-.3 1.8 3.9-.5-3.9 .5M97.3 242l-5.9-17 6.4-4.6-6.4 4.6M119 241.8l-16.2-7.7 1.2-7.8-1.2 7.8M140.8 241.4l-15.6-9 1.8-7.6-1.8 7.6 1.5 .9 1.9-7.6-1.9 7.6M162.5 240.9l-15.7-8.9 1.8-7.7-1.8 7.7 1.6 .9 1.8-7.7-1.8 7.7 1.6 .9 1.7-7.7-1.7 7.7M184.2 240.1l-16.1-8 1.4-7.8-1.4 7.8 1.7 .8 1.3-7.8-1.3 7.8 1.6 .8 1.4-7.8-1.4 7.8 1.6 .8 .7-3.9-.7 3.9M205.9 239.2l-16.3-7.4 1-7.8-1 7.8 1.6 .7 1.1-7.8-1.1 7.8 1.6 .8 1.1-7.8-1.1 7.8 1.7 .7 1.1-7.8-1.1 7.8M227.7 238.2l-16.8-6.6 .7-7.9-.7 7.9 1.7 .6 .6-7.8-.6 7.8 1.6 .7 .7-7.9-.7 7.9 1.7 .6 .7-7.8-.7 7.8 1.7 .7 .3-3.9-.3 3.9M249.4 236.9l-17.4-4.7-.2-7.9 .2 7.9 1.7 .5-.2-7.9 .2 7.9 1.8 .4-.2-7.9 .2 7.9 1.7 .5-.2-7.9 .2 7.9 1.7 .5-.1-4 .1 4M-12.2 261.6l0-18 7.6-2.3-7.6 2.3 0 1.8 3.8-1.2-3.8 1.2M9.7 262.3l.6-18 7.6-2-7.6 2-.1 1.8 3.8-1-3.8 1M31.7 262.8l1.3-17.9 7.7-1.7-7.7 1.7-.1 1.8 3.8-.8-3.8 .8M53.6 263.2l2.2-17.9 7.8-1.3-7.8 1.3-.2 1.8 3.8-.6-3.8 .6M75.5 263.4l3-17.8 7.9-.9-7.9 .9-.3 1.8 3.9-.5-3.9 .5M97.4 263.4l-8.6-15.9 5.6-5.5-5.6 5.5M119.3 263.2l-16.3-7.7 1.2-7.8-1.2 7.8M141.2 262.8l-15.6-9 1.9-7.7-1.9 7.7 1.6 .9 1.8-7.7-1.8 7.7M163.1 262.3l-15.7-8.9 1.8-7.7-1.8 7.7 1.6 .9 1.8-7.7-1.8 7.7 1.6 .9 1.7-7.7-1.7 7.7M185 261.5l-16.1-8 1.4-7.8-1.4 7.8 1.6 .8 1.4-7.8-1.4 7.8 1.6 .8 1.4-7.8-1.4 7.8 1.7 .8 .6-3.9-.6 3.9M206.9 260.6l-16.4-7.3 1-7.8-1 7.8 1.6 .7 1.1-7.8-1.1 7.8 1.7 .7 1-7.8-1 7.8 1.6 .8 1.1-7.8-1.1 7.8M228.8 259.5l-16.7-6.5 .6-7.9-.6 7.9 1.6 .6 .7-7.8-.7 7.8 1.7 .7 .7-7.9-.7 7.9 1.7 .6 .6-7.8-.6 7.8 1.7 .7 .3-3.9-.3 3.9"/><path fill="#000" stroke="#000" stroke-width="1" d="M238.6 51.6l7.6 2.2-7.5 2.3zM240.1 72.2l7.6 2.2-7.6 2.3zM241.3 92.8l7.6 2.2-7.5 2.3zM218.8 115.1l7.9 .9-7.1 3.5zM238.3 114.1l7.9 .4-6.8 4zM216.7 136.8l7.9-.5-6.3 4.7zM234 137.5l7.6-2.3-5.1 6zM250 141.1l6-5-2.2 7.5zM230.9 162.8l6.3-4.8-2.7 7.4zM249.5 166.2l4.6-6.5-.3 7.9zM269.8 168.2l3.2-7.2 1.3 7.8zM229.4 189.3l4.4-6.6 0 7.9zM250.2 190.6l3.2-7.2 1.2 7.8zM230.5 211.3l4-6.8 .4 7.9zM251.6 212.7l2.9-7.4 1.6 7.8z"/><circle cx="76.1" cy="115.7" r="2.7" fill="none" stroke="#000" stroke-width="1.3"/><circle cx="55.1" cy="136.3" r="2.7" fill="none" stroke="#000" stroke-width="1.3"/><path d="M137.25 105.3h6.6" stroke="#222" stroke-width="2.3"/><path d="M140.55 102.5v5.6" stroke="#222" stroke-width="1.8"/></g><rect x="0" y="0" width="283.1" height="258.8" fill="none" stroke="#000" stroke-width="1.1"/><path d="M0.5 0.5h4.5a4.5 4.5 0 0 1-4.5 4.5z" fill="#000"/></g><text x="213.1" y="650.1" font-size="17.4" text-anchor="middle">CSU WRF member 4</text><g transform="translate(552 657.5)"><g clip-path="url(#pc)"><path fill="none" stroke="#000" stroke-width="1.7" stroke-linejoin="round" d="M.3 22.3l2.1 .3 2.1 .2 1.8 .8 1.8 .5 1.9 .5 1.6-.1 1.6-.2 1.7 .2 1.6-.3 1.7-.1 1.8 .4 1.8 .1 1.7-.6 1.7 .1 1.6 .7 1.7 0 1.7 .3 1.6 .6 1.7-.2 1.8-.1 1.7 .3 1.7 .2 1.5 1.2 1.7 .3 1.8 0M48.4-.5l-.2 1.6-.6 1.6 .5 1.7-.6 1.6-.1 1.7-.2 1.6-.4 1.6-.4 1.6-.4 1.6-.4 1.6-.2 1.6-.5 1.6 .2 1.7-1 1.5 .7 1.8-1 1.5-.1 1.6 1.2 1.8 1 1.8 1.2 1.8-.8 1.8-1.2 1.4-1.7 1.2-.9 1.7-1.5 1.2-.4 2-1.4 1.3-.9 1.6 .1 1.7 .4 1.6 .9 1.4 .1 1.7-.3 1.6-.5 1.6-1.1 1.4 .5 1.8-.6 1.5-1 1.5 .2 1.7-.5 1.6 0 1.6-.7 1.6-.5 1.5 .5 1.8-1.1 1.4-.6 1.6 .2 1.7M55.9-.5l.3 2 .6 1.9-.3 2 .4 1.7 .7 1.7 .5 1.7 .4 1.7 1.1 1.5 1.1 1.6 .6 1.8 1.2 1.5 .8 1.7 1.8 1.5 1.5 1.9-.8 1.5-.5 1.6-.3 1.8-1 1.4-.2 1.9 .1 2-.6 1.9 2.2-1.3 1.5 .9 1.7 .4 .2 1.8 .9 1.6 .2 1.8 1.3 1.4 .1 1.8 .6 1.7 1.1 1.5 .3 1.9 1 1.5 .3 1.9 1.6-.8 1.8 .2 1.6-.7 1.8-.1 1.6-.4 1.6 .1 1.7 .1 1.6 .2 1.6 0 .6-1.5 1.3-1.1 .8-1.4M92.3 47.3l29.2 2.9 17 1.2 13.1 1.3M92.3 47.3l-6.1 48.5M86.2 95.8l18.3 1.5 24 1.9 21.5 1.3 18.9 1.4M.3 68.2l7.7 1.5 26.3 5.2 25.6 5.4 26.3 3.4M8 69.7l-7.7 34.8M.3 104.5l17.8 26.4 23.2 30.6M59.9 80.3l-7.4 50.6-.7 8.9M104.4 97.3l-3.6 33.6-7.8 83.7M51.8 139.8l23.7 3.1 23.1 2.5 24.9 2.2 23 1.5 20.7 .5 36.3-.1 35.7-.6M168.9 101.9l-.7 29-1 18.7M168.9 114l29.6-.4 30.4-.9M154.7 3.5l-1.4 37-1.7 36.4-1.6 23.6M98.5-.5l8.6 1.2 21.4 1.8 26.2 1.5 21.6 .4 33.7 0 16.2-2.3 1.3-2.6M176.3-.5l0 4.9M153.3 40.5l30.2 .5 32.6 .2M151.6 76.9l1.7 .2 1.7-.1 1.6 .4 1.7-.7 1.7 .7 1.7 0 1.7-.1 1.6 .4 1.7-.8 1.7-.2 1.7 .7 1.7 .3 1.7-.1 1.6-.8 1.7 .1 1.7 .5 1.7-.2 1.7 .4 1.7 .2 1.7-.7 1.7 .5 1.7 .1 1.6-.4 1.7 .5 1.7 .1 1.7-.7 1.7 .9 1.7-.5 1.7 0 1.3 1.1 1.6 .4 1.2 1.2 1.7 0 1.6-.8 1.7-.4 1.7-.1 1.6 .3 1.3 1 1.7 .3 1.5 .4 1.6 1.5M210 4.4l.7 1.8-.5 1.9 .9 1.7 .3 1.8-.1 1.9 .7 1.6 .8 1.5-.1 1.8 .4 1.7 .9 1.5-.3 1.7 .6 1.6 .7 1.6-.1 1.7 .2 1.7 .6 1.6 .4 1.6-.2 1.7 .2 1.7 .7 2.3-.1 2.4-1.4 1.7-1.3 1.7 1.2 1.3 .9 1.5 1.3 1.2 .2 1.7-.5 1.7 .3 1.6 .3 1.7 .1 1.6 .1 1.7 .5 1.6-.4 1.7 .6 1.6-.4 1.7 .9 1.6-.6 1.8 .3 1.6-.8 1.7-.6 1.7 .4 1.9 .8 1.8 .6 1.8 .2 1.9 .5 1.6 1.1 1.4-.2 1.9 .6 1.5 1.3 1.3 .1 1.8 .9 1.7 .5 1.7-.6 2.1 .9 1.7 .9 1.6 .1 1.9 .6 1.6-.1 1.7 .8 1.5-.1 1.8 .9 1.5 1 1.6 .3 1.8 1.7 .9 1.7 .9 2 .2-.1 1.8 .3 1.7 .6 1.6 .5 1.7 1.4 1.7 2 1 0 1.7 .2 1.6 .5 1.7-.5 1.7-.4 1.6 .7 1.7-.6 1.6-.2 1.6 .1 1.7 0 1.6 .3 1.7 .3 1.6 .2 1.6-.3 1.7-.1 1.6 .1 1.6 .7 1.5 .6 1.5 0 1.7 .6 1.7-.5 2 1.1 1.7-.4 1.9 1.1 1.6-.6 2 .8 1.7 .2 1.6-.2 1.6 .1 1.7 .4 1.6-.4 1.6 1 1.6-.3 1.6 .3 1.6 0 1.6-.3 1.7 .5 1.6-.2 1.6 .3 1.6M218.8 70.2l21.7-.9 23.5-1.1M226.9 105.3l19.6-.9 18.1-1.2M252.5 29l.5 1.8-.1 1.9 .2 1.9 .1 1.9-1.5 1.1-.6 1.8-1.4 1.3-1.3 1.2 .5 1.7-.3 1.8 .7 1.7-.4 1.8 1 1.6-.4 1.8 .3 1.7 1.3 1.3 1.4 .9 1.8 .4 1.6 .8 .9 1.7 1.4 1.1 1.7 .6 1.4 1.5 1.9 1 1.4 1.5 0 1.7 .4 1.6 .6 1.5 0 1.7 .4 1.6 1.3 1 1 1.2 1.2 1.2 1.6 .6 .9 1.4 .7 1.6 .9 1.4 1.3 1.2 1.2 1.2-.6 1.8 .6 1.9-.7 1.7-1.3 1.2-1.9 .1-1.4 1-1.4 1.1 0 2 .4 2-.4 2-1 1.4-1.1 1.3-.8 1.5-1.2 1.2 .8 1.5-.2 1.7 .7 1.6 .3 1.6-.2 1.7 1.2 1.2 1.2 1.3 1.9 .4 1.3 1.1 1.1 1.4 1.2 1.1 1.5 .8 .8 1.6 1.3 .9 1.3 1 .3 1.6-.3 1.7 .6 1.6 .7 1.5 0 1.7 2.3 1.9M283.1 169l-1.2 2.3-.5 1.6-.9 1.4-.2 1.6-.2 1.7-.7 1.9-.8 1.8-1.2 1.7-.7 2.2-.2 2.3 .7 2 0 2.2 .2 2.1 .2 2.1 .5 2.1 .2 2.1 1.7 1 1 1.7-1.5 1.2-1.2 1.5-.9 1.8-.2 1.9-.8 1.7-.9 1.7 .1 1.9-.8 2.2-.1 2.3 1.7-.6 1.6 .2 1.7-.1 1.7 .5 1.7-.5M272 78.3l11.1-.7M240.6 155.2l20.9-1.6 21.6-1.9M249 196.5l14.5-1.3 13.9-1.4M158.1 149.6l0 6.3-1.1 27.1-1 27.4M158.1 155.9l29.4 .7 0 23.1M187.5 179.7l-.9-1.2 1.6 1.7 2 1 1.9 .5 1.9 .5 1.6 1.2 1.7 .7 1.9 .2 1.8 .5 1.8 0 1.8 .2 1.8-.2 1.1 1.6 1.6 1.1 2.7-.9 1.4 1 1.5 .7 1.6 .5 1.2-1.3 1.5-.9 1.7 1 2.1 0 1.6 1.2 1.8-1 1.8-.8 2.3-.3 2.2-.6 1.8-.5 1.8 .1 1.6 .7 1.3 1.3 1.6 .7 1.7 1 1.9 .3 1.7 .6 1.8-.1 .9 2-.7 2.3 .8 2-.2 1.7-.1 1.7 .7 1.6-.1 1.7 0 1.7 .4 1.6 .1 1.7 1.1 2 1.7 1.6 .7 1.8 1 1.7 .2 2 .8 1.7-.3 2.1-.5 2.1-.1 2.1 .5 1.8-.7 1.8 .2 1.8 0 1.8-1 1.6-.4 1.9M217.2 259l1.4-.9 1.2-1.3 1.6-.7 1.2-1.2 1.6-1.6 2-1.1 1.7-.3 1.1-1.3 1.8-.1 1-1.4 1.6-.5 1.4-.8 1.2-1.1 1.2-1.1 1.6-.6 1.4-1.3 1.3-1.4 1.6-1.1 1.1-1.6 2-.3 1.4-1.7 1.8-.6 1.9-.5 1.7 .3 1.5-1.1 1.6-.3 1.7 .1 1.6-.4 1.5 .7 1.6 .4 1.8-.2 1.4 .9 2.2 .7 2.3-.2 1-1.2 1.4-.9 1.2-1.1 1.9 .8 1.7 1 2-.2 1.8 .8 1.9 .3M240 242l1.5-1.5 1 2-1.5 1.5M224.5 251.5l2-1 .5 2M118.2 208.6l28.3 1.8 9.5 0M34.9 192.5l36.8 19.4 21.3 2.9 8.8 .5 0-5.1 16.4 .8 0-2.4M118.2 208.6l1.1 1.3 1.2 1.3 1.1 1.3 .8 1.5 1.2 1.2 .6 1.7 1.3 1.1 1.6 1.1 .9 1.9 1.4 1.3 1.6 1.2 1.1 1.7 1.4 1.4 1.5 1.3 0 1.8 1.2 1.7-.6 1.9 .8 1.7 1.6 1.3 1.3 1.6 1.2 1.6 1.4 1.6 2.1 .5 1.5 1.4 1.5 1.4 1.9 .7 2 .5 1.6 1.2 .5-1.7 1.2-1.4 .7-1.6 .5-1.7 1.3-1.3 1.8-.9 1.7-1 2.1-.2 2.1 .5 2.1 0 1.8 .7 1.9-.1 1.9 .3 2 .9 1.4 1.7 .9 1.5 1.5 1 1.2 1.2 .5 1.8 1.5 1.2 .6 1.7 .8 1.6 .4 1.7 .6 1.7 1 1.5 .5 1.7 1.1 1.4M152.5 246.8l-7 12.2M51.8 139.8l-.8 1.7 .1 1.8 0 1.8-.8 1.7-.4 1.7-.2 1.8-1.5-1.1-1.7-.7-2.4 .4 0 1.9-1.1 1.7 .1 1.9-1 1.7-.1 1.9-.5 2.2 .2 2.3 .5 2 .8 1.8 .6 2 .6 2 1.4 1.4-1.6 .8-.8 1.7-1.5 .9-.6 1.7-.4 1.7-.6 1.6-.3 1.8-2 .9-.7 1.9 .2 2 1.5 2-1.2 1.4-1.7 .5-1.2 1.3-1.7 .6 .2 1.8-.6 1.6-.7 1.7 .1 1.7 1 2M11.7 187.9l12.8 1.1 13.3 1.1M.5 166.4l1.2 2 1.2 1.9 .9 1.4 1.2 1.2 1.7 .6 .8 1.5 1.2 1.1 .8 1.6 .9 1.6 .8 1.6 0 1.6-.1 1.7 .1 1.6 .3 1.7 1.1 1.2 0 2 .2 1.9 .8 1.9 .2 1.8 1.2 1.4 .5 1.6-.1 1.8 .1 1.7 .6 1.6 .4 1.7 .9 1.5 .3 1.8 .7 1.6-.1 2 1.3 1.8-.2 2-.1 1.7 .4 1.7 .7 1.6 0 1.7 1.4 1.2 1.1 1.4 1.5 1 1.7 .8 1.1 1.5 .9 1.5 1.3 1.2 .5 1.8 1.1 1.3 .9 1.5 1.4 1.2 .2 1.9 1.4 1.2-.3 1.7-.4 1.7-.2 1.7-.1 1.7-1.6 .7-1.3 1.2-.5 1.9-1.8 1.2-.6 1.8 .6 2.2 .4 2.2M32.5 193.5l-.1 1.9 .3 2-.7 1.9 .4 2.1 1 1.8-.4 2-.8 1.9-.7 1.9 .5 1.9 .1 2 .4 1.9-.3 1.9-.3 1.9 .1 2 .4 1.7 .4 1.8 1.1 1.4 1.1 1.2 1 1.4 1.2 1 1.7 .7 .8 1.5 .3 1.8 1.1 1.4 .6 1.6 1.7 1.2 1.2 1.7 1 2.9 .6 1.7 1.3 1.3 .7 1.5 .3 1.6 0 1.7 .5 1.9 .4 2 .8 1.9 .7 1.9 1.4 1.6M33 199.3l1.8 1.1 1.7 1.1 1.3 1.7 1.3 1.1 1.6 .8 2.9-.9 1.4 1.2 .6 1.7 2.2 1.1 1.6 1.8 1 2.9-.6 1.9-.4 2 1.3 1.7 .7 2.1 .2 1.6 .1 1.6 .9 1.5 .5 1.5 .2 1.6 .9 1.9 .8 1.9 .3 2 .8 1.9 .5 2 .6 1.9 1.8 1.1 1.1 1.8 .8 1.7 1.3 1.5 .8 1.7 .7 2 1.2 1.8 1.7 .7 1.5 1.1 1.7 .7 1.3 .9 1.6 .5-.7 1.8-.8 1.7M21.3 247.8l13.2 1 13 .9M42.3 230.5l1.4 2.5-.6 3.5-1-2.5M53.8 236.6l1.3 1.4-.8 2.2-.8-1.7M93 214.8l-.9 5.8 3.9 2.9 0 6.8-2 7.8 .5 11.6-6.3 1.5 1.9 7.8M229.5-.5l-.1 2 .3 2 .3 2 2.5 1 1.7 .1 1.6 .8 1.7 .1 1.5 1 1.4-1.2 1.6-.8 1.9 .7 2.1-.2 1.5 .8 .9 1.5 1.1 1.2 2.5-1 2.5 1.5 1.2 1.4 1.8 .6 1.3-1 1.4-1 1.3-1 2 1.5 1.6-.8 1.7 .1 1.7-.3 2 1.5 3-1 1.5-2-.5-3 2.1-1 1.9-1.5 1.8-.7 1.2-1.5 1.6-.8M251.5 30l1.2-1.8 1.8-1.2 1.6-.9 1.1-1.4 .9-1.6 1.4-1.1 1.5-1.3 1.4-1.5 1.1-1.7 1.6-.6 1.4-1 1.6-.4 1.4-1 1.9-1.5 2.1-1 1.3-1.7 1.7-1.3 1.2-1.4 1.6-1 1.7-.6 2.1-1.5M251.5 30l3-.8 4-1.6 4.5-2.6 3-.5 1-1.2-1.5 4.7 3.5-.2 1.5 .7 2-1.5 2.5-1.5 2.5-1.5 2.5-2 3.1-2M269.5 29l1.5 3.5 7.5 1.5 4.6 1.5M280.5 1l2.6-1"/><path fill="none" stroke="#000" stroke-width="2.8" stroke-linecap="round" d="M276 13L281.5 8.5M280.5 1.2L283 0.5M266.3 23.3L267 26"/><path d="M137.25 105.3h6.6" stroke="#222" stroke-width="2.3"/><path d="M140.55 102.5v5.6" stroke="#222" stroke-width="1.8"/></g><rect x="0" y="0" width="283.1" height="258.8" fill="none" stroke="#000" stroke-width="1.1"/><path d="M0.5 0.5h4.5a4.5 4.5 0 0 1-4.5 4.5z" fill="#000"/></g><g transform="translate(1032.4 657.5)"><g clip-path="url(#pc)"><rect x="1.8" y="0.3" width="280.3" height="254.9" fill="#824b09"/><path fill="#995d13" d="M3.8 .3l278.3 0 0 254.9-280.3 0 0-254.9 2 0zM116.9 118.7l-1 .3-2 .8-2.1 .9-3.9 2.2-2.6 1.8-2.5 2-2 2.1-1.5 2-1.4 2.6-.5 1.4-.5 2-.3 2-.1 2 .1 4 .4 4 .9 7.4 .1 2.7 0 4-.4 4-.7 4-1 3.6-.9 2.4-1.9 4-3.1 6.1-.7 2-.6 2-.4 2-.1 2 .1 2 .4 2 .5 2 .7 2 .9 2 1.1 2.1 2 3.1 2 2.8 0 .1 2 2.3 2 2.2 2 1.9 2 1.6 2 1.2 2 1 2 .7 2 .5 2 .3 2 0 2-.1 2-.2 2-.5 2.5-.9 1.5-.7 2-1.4 2-2 1.2-1.9 .9-2 .4-2 .3-2.1 .3-4-.1-4-.5-6-1.4-16.1-.3-6-.1-8 .1-10 .4-16.1-.2-4-.3-4-.6-4-.5-2.1-.7-2-1-2-1.9-2.5-2.3-1.5-1.7-.5-2-.1-2 .3-1 .3z"/><path fill="#ad7021" d="M3.8 .3l278.3 0 0 254.9-145.3 0 1.1-.7 2-1.3 2.4-2 1.9-2 3.2-4 2.6-4.2 .7-1.9 .6-2 .3-2-.1-2-.5-2-1-2.2-.9-1.8-1.2-2-2.5-6-1.8-6-1.9-8.1-1.3-6-1.7-10-.8-6.2-.5-5.9-.3-6-.2-8 .1-8.1 .4-10 .5-12.6 .1-5.5-.2-6-.4-6-.7-6-.8-6-1.5-6.1-.5-2-2-4.2-2-2.7-2-1.5-2-.8-2 0-2 .7-2 1.3-2 1.9-4 5.3-3 4-3 3.4-.6 .7-2.3 2-2.7 2-2.4 1.4-4.9 2.6-3.1 1.7-2 1.3-2 1.5-2 1.9-2 2.3-1 1.3-1.2 2-1 2-.8 2-1.3 4.1-.9 4-2.5 12-1.2 4-.8 2-1.3 2.9-1.8 3.2-3.6 6-1.1 2-1.9 4-1.7 4-2 6-5.4 18.1-2.2 6-2.3 6.8-.4 1.3-.5 2-.3 2-.2 2-.1 2 .1 2 .3 2 .5 2 .6 2.1 .7 1.9 1.3 2.5 2 2.7 2 1.9 2 1.4 2 1 2 .7 2 .5 8 1.6 2 .7 2 1.1 2.1 2 1.5 2 1 2 .5 2-.4 2-78.8 0 0-254.9 2 0zM87.5 8.3l-1.6 1.3-2.4 2.7-1.6 2.5-2 4.6-.9 3-.9 4-.3 2-.4 4-.2 4 0 4 .2 4.1 .5 5 .5 3 .8 4 .7 2.8 1.1 3.2 .9 2.5 2 3.9 2 2.7 2 1.8 2.3 1.2 1.7 .5 2 .1 2-.1 3-.5 3-.8 10-2.7 2-.7 2-1.1 2-1.5 1.2-1.3 1.4-2 1-2 .6-2 .4-2 0-2-.3-2-.6-2-1.1-2-3.2-4-7.8-8.1-1.7-2-1.9-2.3-2.6-3.7-2.3-4-1.8-4-1.7-4-3.8-10.1-1.8-1.7-2 .3-2 1.1-.4 .3zM209.7 26.4l-1.8 2-.9 2-1 3-.2 1-.3 2-.2 2 .1 2 .2 2 .7 2.1 1.7 2.1 2 1 2 .4 2 .1 2-.2 2-.3 2-.5 2-.7 2-1.2 1.1-.7 .9-.9 1-1.2 1-2.1 .3-1.9-.3-2.3-.6-1.7-1.4-2.2-2-2.1-2.1-1.7-1.9-1.2-2-1-2-.7-2-.4-2 .1-2 .9-.3 .3z"/><path fill="#c28633" d="M3.8 .3l74.1 0-2 4.3-1.4 3.7-.6 2-1 4-1 4.9-.8 5.2-.6 6-.3 6-.1 6 .1 6.1 .4 6 .8 8 1.3 12.1 .3 4 0 4-.1 4-.5 4-.8 4-1.2 4-2.5 7-1.8 5.1-1.1 4-1.1 4.8-2 9.5-1.1 3.8-1.4 4-1.7 4-4.6 10-1.5 4-1.2 4.1-1 4-2.9 12-1.2 4-1.5 4-.8 2.1-2.2 4-1.2 2-1.8 2.4-2.9 3.6-3.8 4-3.7 4-1.7 2-1.3 2-1 2-.7 2.1-.5 2-.2 2 0 2 .2 2 .4 2 1.1 4 2.1 6.1 2.1 5.9 1.1 4.1 .8 4 .2 2 .1 2-.3 2.3-.5 1.7-27.5 0 0-254.9 2 0zM123.9 1.7l.4-1.4 15.6 0-4 2.6-6 4.6-2 1.1-2 .2-.8-.5-1.2-1.2-.2-.8-.2-2 .4-2.6zM196 .3l15.8 0-1.8 .6-2 .5-4 .5-4 .1-2-.1-2-1.3-.1-.3 .1 0zM254.1 1.6l2.7-1.3 25.3 0 0 254.9-112.5 0-.4-4-.6-8-.7-10.1-.7-6-.7-4-.8-4-1.2-4-.7-2-.9-2.1-1-2-1.9-3-2-2.2-2-1.2-2-.1-2.8 .5-1.2 .2-2-.8-2-2.7-1.1-2.7-.9-2.7-.9-3.3-.8-4-.6-4.1-.7-6-.4-6-.3-6 0-8 .2-8.1 .6-10 .7-14.1 .4-14 .3-8 .5-6.1 .5-4 .5-2.4 1-3.6 1-2.5 2-2 2 .2 2 1.6 2 2 2 1.5 2 .5 2-.4 4-1.4 2-.5 2-.3 2-.1 2 .1 2 .2 2 .4 4 1.1 4 1.3 2 .5 2 .3 2 0 2-.3 2-.5 2-.9 2-1.3 2-1.7 2-2.2 2.5-3.6 2.1-4 3.2-6.1 1.2-2 1.5-2 1.8-2 2.3-2 2.9-2 2.5-1.5 8.5-4.5 2.8-2 2.2-2 1.6-2 1.3-2 .9-2.1 .8-2 .4-2 .3-2 .1-2 0-2-.3-2-.5-2.9-.4-1.1-.7-2-.9-2.2-4.1-7.9-.6-2 .1-2 .5-.9 .9-1.1 1.2-.6 3.1-1.4 6.9-1.9 2-.6 4-1.4 2-.8zM186 4.2l2-.1 2 .1 .9 .1 1.1 .5 .8 1.5 .1 2-.2 2-.8 4-1.2 4.1-.7 2-1 2-1.3 2-1.8 2-1.9 1.3-2.1 .7-2.2 0-1.7-.5-2.4-1.5-1.8-2-1.2-2-.9-2-.5-2-.3-2-.1-2.1 .3-2 .9-2.2 1.3-1.8 .7-.6 2.2-1.4 1.8-.7 2-.5 2-.5 2.3-.3 1.7-.1z"/><path fill="#cfa256" d="M3.8 .3l67.1 0-1.3 4-1 4-.9 4-1 6.1-.8 6.4-.8 7.6-.5 8-.2 6.1 0 6 .3 8 .3 8-.1 4.1-.2 4-.5 4-.5 2-.5 2-1.3 3.6-1.1 2.4-1.1 2-1.8 2.9-2.3 3.1-3.7 4.5-3.1 3.6-6.2 8-2.8 4.3-.9 1.7-1.1 2.6-.5 1.4-.5 2-.3 2.1-.1 2 .1 4 1.1 14 .1 4-.1 4.1-.2 4-.5 4-.7 4-.9 4-1.3 4-.9 2-1.3 2.5-.9 1.5-1.3 2.1-1.8 2.1-2 2.3-2 1.9-4.1 3.7-7 6-2.9 3.1-.8 .9-1.5 2-1.7 2.9-.6 1.1-.8 2.1-.7 2-1 4-.9 4.6 0-.6 0-222.8 2 0zM274.1 1l.8-.7 7.2 0 0 254.9-95.2 0-.4-2-1-4-2.2-6-1.4-4.1-1.7-6-.9-4-4-18.1-1.3-4.1-1.6-3.9-1-2-1.4-2.3-2-2.8-2.4-2.9-3.8-4-1.8-1.7-2-1.3-2-.1-2.1 1.1-1.9 1.4-2 1.1-2-.7-2-3.5-.7-2.4-.9-4-.6-4-.5-6-.3-6 0-6 .2-6.1 .5-8 .6-6 1.8-14.1 1.9-7.2 2 1.9 4 17.4 2 4.9 2 2.1 2-.2 2-1.2 6-4.5 4.6-3.1 2.6-2 2.2-2 1.7-2.1 1.5-2 1.4-2.2 4.3-7.8 2.7-4 3.2-4 9.8-11 2.2-3.1 2.3-4 2-4 4.7-10 1.2-2 1.6-2.6 2-2.5 2-2.1 2-1.7 2-1.4 4-2.5 6-3.4 3-1.9 3.1-2.4 2-2 2-2.5 .7-1.1 1.3-2.2 .9-1.9 1.5-4 1.2-4 2.7-10 .7-2 1-2.1 1.1-1.9 1.5-2 1.9-2.1 3.5-3.1 12-10.2z"/><path fill="#dcbc75" d="M3.8 .3l61.4 0-.9 4-1.1 6-1.3 9.4-1.6 12.7-1.3 12.1-.5 6-.2 6-.3 12-.4 4.1-.4 2-.4 2-.9 2.9-.5 1.1-1.5 3-.7 1-1.5 2-1.9 2-2.4 2-1.6 1.1-4 2.4-10 5-2.5 1.6-2.6 2-.9 .7-2 2.3-.6 1-1.4 2.4-.7 1.6-.7 2-.6 2.3-.6 3.7-.3 4 .1 4 .4 4.1 .8 4 1.1 4 1.9 6 1.2 4 .9 4 .6 4.1 .2 4-.3 4-.3 2-.4 2-.6 2-.7 2-.8 2-1.2 2.2-2 3.1-.6 .7-1.7 2-2 2.1-3.7 3.1-10 8 0-195.8 2 0zM282.1 4.7l0 250.5-80.8 0 .7-2 .5-2 .3-2 .1-2-.2-2-.7-2.7-.5-1.3-1.5-3-.6-1.1-3.4-5-2-3-2.3-4-1.8-4-1.5-4-1.1-4-1.3-5.6-.8-4.5-1.8-10-1.4-6-1.2-4.1-.8-2.2-4.1-9.8-.6-2-.3-2 .1-2 .5-2 .9-2 1.5-2.5 1-1.5 1.4-2.1 5.6-7.4 5.6-8.6 1.1-2 2-4 1.7-4 2.1-6.1 2.7-8 2.8-6.9 1.3-3.1 1.9-4 1.7-4.1 2.5-6 4.9-12 1.7-3.2 .5-.8 1.5-2.2 2-2.4 2-2 2-1.7 2.6-1.8 3.4-2 8.1-4.7 2-1.3 2.5-2 2.2-2 1.8-2 1.5-2 2-3.1 1.6-3 6-12 1.2-2 1.3-2 1.9-2.5 3-3.5 13.2-14.1 1.8-1.6zM148 146.4l2 1.5 .7 2.9 .8 4 .4 4.1 .1 3.9 0 .1-.2 2-.3 2-.5 2-1 2.7-2-.5-.5-2.2-.7-4-.3-4 0-4 .3-4.1 .6-4 .6-2.4z"/><path fill="#e7cf94" d="M3.8 .3l56 0-2.8 22.1-1.3 8-1.9 10-2.5 12.1-1 6-.6 4-.8 4-1.1 3.8 0 .2-1 2.1-1.2 2-1.9 2-1.9 1.3-2 1-2 .6-2 .3-2 .1-2-.2-2-.4-2.2-.7-1.8-.9-2-1.3-7.5-5.9-.5-.2-2-.9-2-.5-2 .1-2 .5-2 1-2.3 2.1-1.7 2 0-74.3 2 0zM282.1 14.7l0 240.5-66.9 0 .8-2.1 .5-1.9 .4-2 .2-2 0-2-.1-2-.2-2-.3-2.1-.5-2-.6-2-1.4-3.1-.4-.9-1.6-2.5-2-2.6-2.5-2.9-3.5-4-2-2.8-.8-1.2-1.2-2.2-.8-1.9-1.2-3.5-.1-.5-.4-2-.5-4-.1-4 .1-4 .9-14.1 0-6-.2-6 .2-4 .3-4 .8-4.1 1-4 4.6-16 1.4-6 2.1-10.1 1.5-6 2.2-8 3.2-10.1 2.6-8 1.5-4 .9-2.2 .9-1.8 1.2-2 1.9-2.7 2-2.2 2-1.8 2-1.6 4-2.5 10.1-5.6 2.5-1.7 2.7-2 2.8-2.6 2-2.2 2-2.6 1.8-2.6 6.3-10.1 2.9-4 3-3.6 9.2-10.4 2.8-3.7zM3 96.6l2 4.1 1.6 4 1.2 4 .8 4 .7 4 .9 8 1.8 16.1 1.6 12 .3 4.1-.1 3 0 1-.3 2-.4 2-.6 2-.8 2-1 2-1.2 2-1.7 2.1-2 2-2.4 1.9-1.6 1.1 0-85.4 1.2 2z"/><path fill="#f1dfb3" d="M3.8 .3l50.6 0-.1 4-.4 6-.7 6.1-1 6-.9 4-1.4 5.7-1.5 4.3-.8 2-2 4-1.8 2.8-2 2.5-2 1.8-2 1.2-2 .9-2 .5-2 .1-2 0-4-.4-6-1.1-4-.8-4-.6-4-.4-2 .1-2 .3-2 .8 0-49.8 2 0zM282.1 27.1l0 228.1-55 0 .9-2.5 .9-3.5 .9-4 .8-6.1 1.4-10.3 2.2-13.7 .1-2-.3-2.1-.8-2-1.6-2-1.6-1.1-2-1-4-1.9-2-1.1-2-1.6-1.1-1.3-1.2-2-.7-2-.5-2-.5-3.1-.2-2.9-.8-12.1-1-8.4-1-9.6-.4-6.1-.1-6 .1-6 .3-6 .5-6.1 .8-6 1-6 1.2-6 2.3-10.1 1.5-6 1.1-4 1.4-4 1.3-3.2 .5-.8 1.5-2.7 1-1.3 1.8-2 2.2-2 2.7-2.1 2.4-1.3 4.9-2.7 5.1-2.6 4-2.4 2-1.4 2-1.6 2.3-2 2-2 1.8-2 3.1-4 3-4 3.8-4.8 4-4.4 6.9-6.9 1.1-1.3zM2.4 116.7l1.1 4 .7 4 .5 4.1 .2 4 0 4-.3 4-.5 4-.4 2-.5 2-.7 2-.7 1.6 0-37.5 .6 1.8z"/><path fill="#f6eacb" d="M3.8 .3l44.5 0 .3 2 .2 4-.1 4-.4 4-.7 4.1-1 4-.8 2.3-1.4 3.7-1.1 2-1.5 2.4-2 2.5-2 1.8-2 1.3-2 1-2 .6-2.4 .4-1.6 .2-2 0-2.9-.2-1.1-.1-2-.3-2-.5-3.5-1.1-.5-.2-2-.9-2-1.2-2-1.7-2-2.5-.8-1.5-1.2-2.8-.9-3.2-1.1-5.6 0-18.5 2 0zM280.1 41.5l2-1 0 214.7-49.7 0 8.7-16.1 5.1-8 2.7-4 3.2-4.4 2.6-3.6 1.5-2 9.9-14.4 2.4-3.7 3.9-6 3.7-6 3-6.1 1-2.2 1-3.8 .4-2 .1-2 0-2-.3-2-.5-2-.8-2-1.2-2-.7-1-1-1-1-.9-2-1.3-2-.8-2-.5-2-.4-2-.2-4.2 0-3.8 .4-6 1-8 1.2-2 .2-2 .1-2-.2-2-.4-2.1-.6-2-.9-2-1.4-2-1.8-2-2.3-.8-1.3-1.2-2-.9-2-1.1-2.6-.9-3.4-.7-4-.4-4-.1-4.1 .2-4 .3-4 .8-6 1.3-8 1.8-10.1 1-4 1.2-4 1.5-3.7 .2-.3 1.8-3 .8-1 1.9-2 2.5-2 2.9-1.8 2-1.1 4-2 6.6-3.2 3.6-2 3-2 2.8-2.1 2.1-1.9 3.9-4.1 6-6.5 2-2 2-1.7 2.5-1.8 1.5-.9z"/><path fill="#f5f0e0" d="M5.8 .3l34.9 0 .8 2 .6 2 .3 2 .1 2-.1 2-.2 2-.4 2.5-.3 1.6-.7 2-1 2.5-.7 1.5-1.3 2-2 2.3-2 1.7-2 1.1-2.2 .9-1.8 .4-2 .3-2 0-2-.3-2-.4-2-.7-2.5-1.3-1.5-1.1-2-1.9-.8-1-1.3-2-1-2-.9-2.1-1.2-4-.9-4-1.9-10 2 0zM282.1 51.9l0 95.4-2-1-2-.8-2.7-.7-1.3-.2-4-.4-4-.1-6 .3-8 .5-4 0-4-.2-2-.3-2-.4-2-.6-2-.9-2.6-1.7-2-2-1.5-2-1-2-1-2.3-.5-1.7-.4-2-.3-2.1-.2-4 .1-4 .3-4 .9-8 1.3-10.1 .8-4.3 1.1-3.7 .9-2.4 .8-1.6 1.3-2 2-2.3 2-1.7 3-2 3-1.5 4-1.7 8-3.4 4-2.1 2.1-1.4 2.8-2 3.1-2.6 6-5.5 2.5-1.9 1.5-1 2.2-1 1.8-.6zM282.1 186l0 69.2-47.1 0 1.3-2 2.4-4 1.4-2.1 2-3.3 1.7-2.6 4.3-6.3 2.5-3.8 1.5-2 2.8-4 3.2-4.2 2.6-3.8 1.5-2 8.5-12.1 1.4-2 2.7-4 1.5-2 5.8-9z"/><path fill="#f4f5f5" d="M15.8 1.2l1.3-.9 9.4 0 1.3 .6 2.3 1.4 1.7 2 .9 2 .5 2 0 2-.4 2-1 2.6-1 1.5-1 1-2 1.4-2 .7-2 .1-2-.3-2.3-.9-1.7-1.3-.7-.7-1.5-2.1-.9-2-.7-2-.3-2-.1-2 .3-2 .9-2 1-1.1zM282.1 61.5l0 74.2-2-.6-2-.4-2-.2-4-.2-4 .2-12 .7-4 0-4-.4-2-.4-2-.6-2.4-1-1.6-1.1-1.1-.9-.9-1-.8-1-1.2-2.4-.6-1.7-.4-2-.3-2-.1-4 .2-4 1.3-14.1 .6-4 .5-2 .8-2.3 .8-1.7 1.2-2 2-2.1 2.5-1.9 1.5-.8 2.4-1.2 3.6-1.3 4-1.2 4.5-1.5 1.5-.6 3-1.4 1-.5 2.3-1.5 2.5-2.1 3.2-2.8 3.5-3.2 .5-.3 2.3-1.7 1.7-1zM282.1 189.8l0 65.4-45.4 0 1.4-2 2.5-4 5.5-8.2 2.6-3.9 3.4-4.8 2.3-3.2 11.7-16.3 2.6-3.8 1.5-2 4.2-6 5.7-8.2 2-3z"/><path fill="#e2f0ee" d="M282.1 72l0 47.4-4-1.9-2-.6-4-.6-2 0-3.5 .4-4.5 .6-2 0-2-.2-1.3-.4-.7-.4-1.6-1.6-.6-2 0-2 .4-2 .9-2 1.2-2 1.9-2 1.8-1.2 2-1 2-.9 2-1.2 2-1.8 2-2.5 3-5.5 1-2 1.8-4 .2-.3 .8-1.7 2.1-4 2.6-4 .5-.6zM282.1 192.1l0 63.1-44 0 2.6-4 1.4-2 2.6-4 3.4-4.9 2.2-3.2 4.2-6 3.6-5 2.2-3 21.8-31z"/><path fill="#ceece8" d="M282.1 193.9l0 61.3-43 0 3-4.4 2.4-3.6 12.6-18.1 3-4 2.8-4 3.2-4.4 2.5-3.6 3.5-4.9 2.3-3.2 7.7-11.1z"/><path fill="#b4e2db" d="M282.1 195.4l0 59.8-42 0 2.7-4 7.3-10.6 2.4-3.5 17.6-24.6 2.4-3.5 5.7-8 3.9-5.6z"/><path fill="#98d7cd" d="M282.1 196.7l0 58.5-41.2 0 15.3-22.1 8.6-12 5.3-7.3 7.6-10.8 2.8-4 1.6-2.3z"/><path fill="#79c8bc" d="M282.1 197.9l0 57.3-40.4 0 15.3-22.1 7.3-10 17.8-25.2z"/><path fill="#58b0a7" d="M282.1 199l0 56.2-39.6 0 7.6-11.1 6.3-9 25.7-36.1z"/><path fill="#3b9b93" d="M282.1 200.1l0 55.1-38.9 0 9.7-14 29.2-41.1z"/><path fill="#23867e" d="M282.1 201.1l0 54.1-38.2 0 9.7-14 28.5-40.1z"/><path fill="#0c7169" d="M282.1 202.2l0 53-37.4 0 5.4-8 10-14.1 18.6-26.1 3.4-4.8z"/><path fill="#015f56" d="M282.1 203.2l0 52-36.7 0 4.7-6.8 18-25.4 8.5-12 5.5-7.8z"/><path fill="#004c42" d="M282.1 204.4l0 50.8-35.9 0 9.9-14.3 11.3-15.8 8.7-12.3 5.5-7.8 .5-.6z"/><path fill="#003c30" d="M282.1 205.6l0 49.6-35.1 0 3.1-4.5 24-33.9 4.1-5.8 3.9-5.4z"/><path fill="#73a9cf" d="M282.1 206.8l0 48.4-34.2 0 2.2-3.2 4.7-6.8 3.3-4.7 2.4-3.4 7.6-10.6 2.5-3.4 5.7-8 5.8-8.3z"/><path fill="#62a2cb" d="M282.1 208.4l0 46.8-33.1 0 2.7-4 2.7-4 5.7-8.1 4.3-6 17.7-24.7z"/><path fill="#509ac6" d="M282.1 210.2l0 45-31.9 0 8.2-12 5.7-8.1 4.4-6 5.8-8 7.2-10.1 .6-.8z"/><path fill="#3f93c2" d="M282.1 212.6l0 42.6-30.2 0 .2-.3 2.4-3.7 3.6-5.3 3.4-4.7 2.8-4.1 10.3-14 3.5-4.9 .8-1.1 1.4-2 1.8-2.5z"/><path fill="#2f8bbe" d="M282.1 216.4l0 38.8-27.6 0 3.7-6 7.9-11.2 .7-.9 1.4-2 4.6-6 1.4-2 4.5-6 1.4-2 2-2.7z"/><path fill="#2182b9" d="M278.1 234.2l2-.6 1.7 1.5 .3 .6 0 19.5-20.6 0 .6-2 2.1-4 3.9-5.5 .5-.5 1.6-2 1.9-2.1 2-2 2-1.6 .6-.4 1.4-.9z"/><path fill="none" stroke="#000" stroke-width="1.7" stroke-linejoin="round" d="M.3 22.3l2.1 .3 2.1 .2 1.8 .8 1.8 .5 1.9 .5 1.6-.1 1.6-.2 1.7 .2 1.6-.3 1.7-.1 1.8 .4 1.8 .1 1.7-.6 1.7 .1 1.6 .7 1.7 0 1.7 .3 1.6 .6 1.7-.2 1.8-.1 1.7 .3 1.7 .2 1.5 1.2 1.7 .3 1.8 0M48.4-.5l-.2 1.6-.6 1.6 .5 1.7-.6 1.6-.1 1.7-.2 1.6-.4 1.6-.4 1.6-.4 1.6-.4 1.6-.2 1.6-.5 1.6 .2 1.7-1 1.5 .7 1.8-1 1.5-.1 1.6 1.2 1.8 1 1.8 1.2 1.8-.8 1.8-1.2 1.4-1.7 1.2-.9 1.7-1.5 1.2-.4 2-1.4 1.3-.9 1.6 .1 1.7 .4 1.6 .9 1.4 .1 1.7-.3 1.6-.5 1.6-1.1 1.4 .5 1.8-.6 1.5-1 1.5 .2 1.7-.5 1.6 0 1.6-.7 1.6-.5 1.5 .5 1.8-1.1 1.4-.6 1.6 .2 1.7M55.9-.5l.3 2 .6 1.9-.3 2 .4 1.7 .7 1.7 .5 1.7 .4 1.7 1.1 1.5 1.1 1.6 .6 1.8 1.2 1.5 .8 1.7 1.8 1.5 1.5 1.9-.8 1.5-.5 1.6-.3 1.8-1 1.4-.2 1.9 .1 2-.6 1.9 2.2-1.3 1.5 .9 1.7 .4 .2 1.8 .9 1.6 .2 1.8 1.3 1.4 .1 1.8 .6 1.7 1.1 1.5 .3 1.9 1 1.5 .3 1.9 1.6-.8 1.8 .2 1.6-.7 1.8-.1 1.6-.4 1.6 .1 1.7 .1 1.6 .2 1.6 0 .6-1.5 1.3-1.1 .8-1.4M92.3 47.3l29.2 2.9 17 1.2 13.1 1.3M92.3 47.3l-6.1 48.5M86.2 95.8l18.3 1.5 24 1.9 21.5 1.3 18.9 1.4M.3 68.2l7.7 1.5 26.3 5.2 25.6 5.4 26.3 3.4M8 69.7l-7.7 34.8M.3 104.5l17.8 26.4 23.2 30.6M59.9 80.3l-7.4 50.6-.7 8.9M104.4 97.3l-3.6 33.6-7.8 83.7M51.8 139.8l23.7 3.1 23.1 2.5 24.9 2.2 23 1.5 20.7 .5 36.3-.1 35.7-.6M168.9 101.9l-.7 29-1 18.7M168.9 114l29.6-.4 30.4-.9M154.7 3.5l-1.4 37-1.7 36.4-1.6 23.6M98.5-.5l8.6 1.2 21.4 1.8 26.2 1.5 21.6 .4 33.7 0 16.2-2.3 1.3-2.6M176.3-.5l0 4.9M153.3 40.5l30.2 .5 32.6 .2M151.6 76.9l1.7 .2 1.7-.1 1.6 .4 1.7-.7 1.7 .7 1.7 0 1.7-.1 1.6 .4 1.7-.8 1.7-.2 1.7 .7 1.7 .3 1.7-.1 1.6-.8 1.7 .1 1.7 .5 1.7-.2 1.7 .4 1.7 .2 1.7-.7 1.7 .5 1.7 .1 1.6-.4 1.7 .5 1.7 .1 1.7-.7 1.7 .9 1.7-.5 1.7 0 1.3 1.1 1.6 .4 1.2 1.2 1.7 0 1.6-.8 1.7-.4 1.7-.1 1.6 .3 1.3 1 1.7 .3 1.5 .4 1.6 1.5M210 4.4l.7 1.8-.5 1.9 .9 1.7 .3 1.8-.1 1.9 .7 1.6 .8 1.5-.1 1.8 .4 1.7 .9 1.5-.3 1.7 .6 1.6 .7 1.6-.1 1.7 .2 1.7 .6 1.6 .4 1.6-.2 1.7 .2 1.7 .7 2.3-.1 2.4-1.4 1.7-1.3 1.7 1.2 1.3 .9 1.5 1.3 1.2 .2 1.7-.5 1.7 .3 1.6 .3 1.7 .1 1.6 .1 1.7 .5 1.6-.4 1.7 .6 1.6-.4 1.7 .9 1.6-.6 1.8 .3 1.6-.8 1.7-.6 1.7 .4 1.9 .8 1.8 .6 1.8 .2 1.9 .5 1.6 1.1 1.4-.2 1.9 .6 1.5 1.3 1.3 .1 1.8 .9 1.7 .5 1.7-.6 2.1 .9 1.7 .9 1.6 .1 1.9 .6 1.6-.1 1.7 .8 1.5-.1 1.8 .9 1.5 1 1.6 .3 1.8 1.7 .9 1.7 .9 2 .2-.1 1.8 .3 1.7 .6 1.6 .5 1.7 1.4 1.7 2 1 0 1.7 .2 1.6 .5 1.7-.5 1.7-.4 1.6 .7 1.7-.6 1.6-.2 1.6 .1 1.7 0 1.6 .3 1.7 .3 1.6 .2 1.6-.3 1.7-.1 1.6 .1 1.6 .7 1.5 .6 1.5 0 1.7 .6 1.7-.5 2 1.1 1.7-.4 1.9 1.1 1.6-.6 2 .8 1.7 .2 1.6-.2 1.6 .1 1.7 .4 1.6-.4 1.6 1 1.6-.3 1.6 .3 1.6 0 1.6-.3 1.7 .5 1.6-.2 1.6 .3 1.6M218.8 70.2l21.7-.9 23.5-1.1M226.9 105.3l19.6-.9 18.1-1.2M252.5 29l.5 1.8-.1 1.9 .2 1.9 .1 1.9-1.5 1.1-.6 1.8-1.4 1.3-1.3 1.2 .5 1.7-.3 1.8 .7 1.7-.4 1.8 1 1.6-.4 1.8 .3 1.7 1.3 1.3 1.4 .9 1.8 .4 1.6 .8 .9 1.7 1.4 1.1 1.7 .6 1.4 1.5 1.9 1 1.4 1.5 0 1.7 .4 1.6 .6 1.5 0 1.7 .4 1.6 1.3 1 1 1.2 1.2 1.2 1.6 .6 .9 1.4 .7 1.6 .9 1.4 1.3 1.2 1.2 1.2-.6 1.8 .6 1.9-.7 1.7-1.3 1.2-1.9 .1-1.4 1-1.4 1.1 0 2 .4 2-.4 2-1 1.4-1.1 1.3-.8 1.5-1.2 1.2 .8 1.5-.2 1.7 .7 1.6 .3 1.6-.2 1.7 1.2 1.2 1.2 1.3 1.9 .4 1.3 1.1 1.1 1.4 1.2 1.1 1.5 .8 .8 1.6 1.3 .9 1.3 1 .3 1.6-.3 1.7 .6 1.6 .7 1.5 0 1.7 2.3 1.9M283.1 169l-1.2 2.3-.5 1.6-.9 1.4-.2 1.6-.2 1.7-.7 1.9-.8 1.8-1.2 1.7-.7 2.2-.2 2.3 .7 2 0 2.2 .2 2.1 .2 2.1 .5 2.1 .2 2.1 1.7 1 1 1.7-1.5 1.2-1.2 1.5-.9 1.8-.2 1.9-.8 1.7-.9 1.7 .1 1.9-.8 2.2-.1 2.3 1.7-.6 1.6 .2 1.7-.1 1.7 .5 1.7-.5M272 78.3l11.1-.7M240.6 155.2l20.9-1.6 21.6-1.9M249 196.5l14.5-1.3 13.9-1.4M158.1 149.6l0 6.3-1.1 27.1-1 27.4M158.1 155.9l29.4 .7 0 23.1M187.5 179.7l-.9-1.2 1.6 1.7 2 1 1.9 .5 1.9 .5 1.6 1.2 1.7 .7 1.9 .2 1.8 .5 1.8 0 1.8 .2 1.8-.2 1.1 1.6 1.6 1.1 2.7-.9 1.4 1 1.5 .7 1.6 .5 1.2-1.3 1.5-.9 1.7 1 2.1 0 1.6 1.2 1.8-1 1.8-.8 2.3-.3 2.2-.6 1.8-.5 1.8 .1 1.6 .7 1.3 1.3 1.6 .7 1.7 1 1.9 .3 1.7 .6 1.8-.1 .9 2-.7 2.3 .8 2-.2 1.7-.1 1.7 .7 1.6-.1 1.7 0 1.7 .4 1.6 .1 1.7 1.1 2 1.7 1.6 .7 1.8 1 1.7 .2 2 .8 1.7-.3 2.1-.5 2.1-.1 2.1 .5 1.8-.7 1.8 .2 1.8 0 1.8-1 1.6-.4 1.9M217.2 259l1.4-.9 1.2-1.3 1.6-.7 1.2-1.2 1.6-1.6 2-1.1 1.7-.3 1.1-1.3 1.8-.1 1-1.4 1.6-.5 1.4-.8 1.2-1.1 1.2-1.1 1.6-.6 1.4-1.3 1.3-1.4 1.6-1.1 1.1-1.6 2-.3 1.4-1.7 1.8-.6 1.9-.5 1.7 .3 1.5-1.1 1.6-.3 1.7 .1 1.6-.4 1.5 .7 1.6 .4 1.8-.2 1.4 .9 2.2 .7 2.3-.2 1-1.2 1.4-.9 1.2-1.1 1.9 .8 1.7 1 2-.2 1.8 .8 1.9 .3M240 242l1.5-1.5 1 2-1.5 1.5M224.5 251.5l2-1 .5 2M118.2 208.6l28.3 1.8 9.5 0M34.9 192.5l36.8 19.4 21.3 2.9 8.8 .5 0-5.1 16.4 .8 0-2.4M118.2 208.6l1.1 1.3 1.2 1.3 1.1 1.3 .8 1.5 1.2 1.2 .6 1.7 1.3 1.1 1.6 1.1 .9 1.9 1.4 1.3 1.6 1.2 1.1 1.7 1.4 1.4 1.5 1.3 0 1.8 1.2 1.7-.6 1.9 .8 1.7 1.6 1.3 1.3 1.6 1.2 1.6 1.4 1.6 2.1 .5 1.5 1.4 1.5 1.4 1.9 .7 2 .5 1.6 1.2 .5-1.7 1.2-1.4 .7-1.6 .5-1.7 1.3-1.3 1.8-.9 1.7-1 2.1-.2 2.1 .5 2.1 0 1.8 .7 1.9-.1 1.9 .3 2 .9 1.4 1.7 .9 1.5 1.5 1 1.2 1.2 .5 1.8 1.5 1.2 .6 1.7 .8 1.6 .4 1.7 .6 1.7 1 1.5 .5 1.7 1.1 1.4M152.5 246.8l-7 12.2M51.8 139.8l-.8 1.7 .1 1.8 0 1.8-.8 1.7-.4 1.7-.2 1.8-1.5-1.1-1.7-.7-2.4 .4 0 1.9-1.1 1.7 .1 1.9-1 1.7-.1 1.9-.5 2.2 .2 2.3 .5 2 .8 1.8 .6 2 .6 2 1.4 1.4-1.6 .8-.8 1.7-1.5 .9-.6 1.7-.4 1.7-.6 1.6-.3 1.8-2 .9-.7 1.9 .2 2 1.5 2-1.2 1.4-1.7 .5-1.2 1.3-1.7 .6 .2 1.8-.6 1.6-.7 1.7 .1 1.7 1 2M11.7 187.9l12.8 1.1 13.3 1.1M.5 166.4l1.2 2 1.2 1.9 .9 1.4 1.2 1.2 1.7 .6 .8 1.5 1.2 1.1 .8 1.6 .9 1.6 .8 1.6 0 1.6-.1 1.7 .1 1.6 .3 1.7 1.1 1.2 0 2 .2 1.9 .8 1.9 .2 1.8 1.2 1.4 .5 1.6-.1 1.8 .1 1.7 .6 1.6 .4 1.7 .9 1.5 .3 1.8 .7 1.6-.1 2 1.3 1.8-.2 2-.1 1.7 .4 1.7 .7 1.6 0 1.7 1.4 1.2 1.1 1.4 1.5 1 1.7 .8 1.1 1.5 .9 1.5 1.3 1.2 .5 1.8 1.1 1.3 .9 1.5 1.4 1.2 .2 1.9 1.4 1.2-.3 1.7-.4 1.7-.2 1.7-.1 1.7-1.6 .7-1.3 1.2-.5 1.9-1.8 1.2-.6 1.8 .6 2.2 .4 2.2M32.5 193.5l-.1 1.9 .3 2-.7 1.9 .4 2.1 1 1.8-.4 2-.8 1.9-.7 1.9 .5 1.9 .1 2 .4 1.9-.3 1.9-.3 1.9 .1 2 .4 1.7 .4 1.8 1.1 1.4 1.1 1.2 1 1.4 1.2 1 1.7 .7 .8 1.5 .3 1.8 1.1 1.4 .6 1.6 1.7 1.2 1.2 1.7 1 2.9 .6 1.7 1.3 1.3 .7 1.5 .3 1.6 0 1.7 .5 1.9 .4 2 .8 1.9 .7 1.9 1.4 1.6M33 199.3l1.8 1.1 1.7 1.1 1.3 1.7 1.3 1.1 1.6 .8 2.9-.9 1.4 1.2 .6 1.7 2.2 1.1 1.6 1.8 1 2.9-.6 1.9-.4 2 1.3 1.7 .7 2.1 .2 1.6 .1 1.6 .9 1.5 .5 1.5 .2 1.6 .9 1.9 .8 1.9 .3 2 .8 1.9 .5 2 .6 1.9 1.8 1.1 1.1 1.8 .8 1.7 1.3 1.5 .8 1.7 .7 2 1.2 1.8 1.7 .7 1.5 1.1 1.7 .7 1.3 .9 1.6 .5-.7 1.8-.8 1.7M21.3 247.8l13.2 1 13 .9M42.3 230.5l1.4 2.5-.6 3.5-1-2.5M53.8 236.6l1.3 1.4-.8 2.2-.8-1.7M93 214.8l-.9 5.8 3.9 2.9 0 6.8-2 7.8 .5 11.6-6.3 1.5 1.9 7.8M229.5-.5l-.1 2 .3 2 .3 2 2.5 1 1.7 .1 1.6 .8 1.7 .1 1.5 1 1.4-1.2 1.6-.8 1.9 .7 2.1-.2 1.5 .8 .9 1.5 1.1 1.2 2.5-1 2.5 1.5 1.2 1.4 1.8 .6 1.3-1 1.4-1 1.3-1 2 1.5 1.6-.8 1.7 .1 1.7-.3 2 1.5 3-1 1.5-2-.5-3 2.1-1 1.9-1.5 1.8-.7 1.2-1.5 1.6-.8M251.5 30l1.2-1.8 1.8-1.2 1.6-.9 1.1-1.4 .9-1.6 1.4-1.1 1.5-1.3 1.4-1.5 1.1-1.7 1.6-.6 1.4-1 1.6-.4 1.4-1 1.9-1.5 2.1-1 1.3-1.7 1.7-1.3 1.2-1.4 1.6-1 1.7-.6 2.1-1.5M251.5 30l3-.8 4-1.6 4.5-2.6 3-.5 1-1.2-1.5 4.7 3.5-.2 1.5 .7 2-1.5 2.5-1.5 2.5-1.5 2.5-2 3.1-2M269.5 29l1.5 3.5 7.5 1.5 4.6 1.5M280.5 1l2.6-1"/><path fill="none" stroke="#000" stroke-width="2.8" stroke-linecap="round" d="M276 13L281.5 8.5M280.5 1.2L283 0.5M266.3 23.3L267 26"/><path fill="none" stroke="#000" stroke-width="1.25" stroke-linejoin="round" d="M-2.1-8.6l-13.8 11.5-6.5-4.3 6.5 4.3 1.4-1.1-6.6-4.4 6.6 4.4 1.4-1.2-6.6-4.3 6.6 4.3 1.4-1.1-3.3-2.2 3.3 2.2M17.6-8l-13.8 11.6-6.6-4.4 6.6 4.4 1.4-1.2-6.6-4.3 6.6 4.3 1.4-1.1-6.6-4.4 6.6 4.4 1.3-1.2-3.3-2.2 3.3 2.2M37.2-7.5l-13.8 11.4-6.6-4.4 6.6 4.4 1.3-1.1-6.5-4.4 6.5 4.4 1.4-1.1-6.5-4.4 6.5 4.4 1.4-1.2-3.3-2.2 3.3 2.2M56.9-7.2l-17.3 5.1-4.3-6.6 4.3 6.6 1.8-.5-4.3-6.6 4.3 6.6 1.7-.5-4.3-6.6 4.3 6.6 1.7-.5-2.1-3.3 2.1 3.3M76.6-7l-18-1.2-1.7-7.7 1.7 7.7 1.8 .1-1.8-7.7 1.8 7.7 1.8 .1-1.8-7.7 1.8 7.7 1.8 .2-1.8-7.7 1.8 7.7M96.2-7l-16.6-6.8 .8-7.9-.8 7.9 1.6 .6 .8-7.8-.8 7.8 1.7 .7 .8-7.8-.8 7.8M115.9-7.2l-13.9-11.4 3.1-7.3-3.1 7.3 1.4 1.1 3.1-7.3-3.1 7.3 1.4 1.1 1.5-3.6-1.5 3.6M135.5-7.5l-9.6-15.2 5.2-6-5.2 6 1 1.5 5.1-5.9-5.1 5.9 .9 1.5 5.2-5.9-5.2 5.9M155.2-8l-4.2-17.5 6.9-4-6.9 4 .4 1.7 6.9-3.9-6.9 3.9 .5 1.8 6.8-4-6.8 4 .4 1.7 3.4-1.9-3.4 1.9M174.8-8.7l-2.8-17.7 7.1-3.5-7.1 3.5 .3 1.7 7.1-3.4-7.1 3.4 .3 1.8 7.1-3.4-7.1 3.4 .2 1.8 3.6-1.7-3.6 1.7M194.5-9.5l-2.6-17.8 7.2-3.3-7.2 3.3 .3 1.8 7.1-3.3-7.1 3.3 .2 1.8 7.2-3.4-7.2 3.4 .3 1.7 7.1-3.3-7.1 3.3M214.1-10.5l-1.5-17.9 7.3-2.9-7.3 2.9 .1 1.8 7.3-2.9-7.3 2.9 .2 1.8 7.3-2.9-7.3 2.9 .1 1.8 7.4-2.9-7.4 2.9M233.8-11.6l-.4-18 7.5-2.4-7.5 2.4 0 1.8 7.5-2.4-7.5 2.4 0 1.8 7.6-2.4-7.6 2.4 .1 1.8 7.5-2.4-7.5 2.4 0 1.8 3.8-1.2-3.8 1.2M253.4-12.9l.9-18 7.6-1.9-7.6 1.9-.1 1.8 7.6-1.9-7.6 1.9-.1 1.8 7.7-1.9-7.7 1.9-.1 1.8 7.7-1.9-7.7 1.9-.1 1.8 3.8-1-3.8 1M273-14.4l2.4-17.9 7.8-1.2-7.8 1.2-.2 1.8 7.7-1.2-7.7 1.2-.3 1.8 7.8-1.2-7.8 1.2-.2 1.8 7.8-1.2-7.8 1.2M292.6-16.1l3.1-17.7 7.8-.9-7.8 .9-.3 1.8 7.8-.9-7.8 .9-.3 1.8 7.8-.9-7.8 .9-.3 1.7 7.8-.9-7.8 .9M-2.8 11.5l-13.6 11.8-6.7-4.2 6.7 4.2 1.3-1.1-6.6-4.3 6.6 4.3 1.4-1.2-6.7-4.3 6.7 4.3 1.4-1.2-3.4-2.1 3.4 2.1M17 12.2l-13.7 11.7-6.6-4.3 6.6 4.3 1.4-1.2-6.6-4.3 6.6 4.3 1.3-1.2-6.6-4.2 6.6 4.2 1.4-1.1-3.3-2.2 3.3 2.2M36.8 12.7l-13.8 11.6-6.5-4.4 6.5 4.4 1.4-1.2-6.6-4.3 6.6 4.3 1.4-1.2-6.6-4.3 6.6 4.3 1.4-1.1-3.3-2.2 3.3 2.2M56.7 13l-16.7 6.8-5-6.1 5 6.1 1.7-.7-5-6.1 5 6.1 1.6-.6-4.9-6.2 4.9 6.2 1.7-.7-2.5-3.1 2.5 3.1M76.5 13.2l-17.9 1.7-3-7.4 3 7.4 1.8-.2-3-7.3 3 7.3 1.7-.2-2.9-7.3 2.9 7.3 1.8-.1-1.4-3.7 1.4 3.7M96.3 13.2l-17.7-3.1-.9-7.8 .9 7.8 1.8 .3-1-7.8 1 7.8 1.7 .3-.9-7.8 .9 7.8 1.8 .3-.5-3.9 .5 3.9M116.1 13l-13.9-11.4 3.1-7.3-3.1 7.3 1.4 1.2 3-7.3-3 7.3 1.4 1.1 1.5-3.6-1.5 3.6M136 12.7l-9.6-15.3 5.2-5.9-5.2 5.9 1 1.6 5.2-6-5.2 6 .9 1.5 2.6-3-2.6 3M155.8 12.2l-4-17.6 6.9-3.8-6.9 3.8 .4 1.8 6.9-3.9-6.9 3.9 .4 1.7 6.9-3.8-6.9 3.8 .4 1.8 3.5-1.9-3.5 1.9M175.6 11.5l-2.8-17.8 7.1-3.4-7.1 3.4 .2 1.8 7.1-3.4-7.1 3.4 .3 1.8 7.1-3.4-7.1 3.4 .3 1.8 3.6-1.7-3.6 1.7M195.4 10.7l-2.5-17.8 7.1-3.3-7.1 3.3 .2 1.7 7.2-3.3-7.2 3.3 .3 1.8 7.1-3.3-7.1 3.3 .2 1.8 7.2-3.3-7.2 3.3M215.2 9.7l-1.7-17.9 7.3-3-7.3 3 .1 1.8 7.3-3-7.3 3 .2 1.8 7.3-3-7.3 3 .2 1.7 7.3-2.9-7.3 2.9M235 8.5l-.8-18 7.4-2.6-7.4 2.6 0 1.8 7.5-2.6-7.5 2.6 .1 1.8 7.5-2.6-7.5 2.6 .1 1.8 7.5-2.6-7.5 2.6 .1 1.8 3.7-1.3-3.7 1.3M254.8 7.2l.6-18 7.6-2-7.6 2 0 1.8 7.6-2-7.6 2-.1 1.8 7.6-2-7.6 2-.1 1.8 7.7-2-7.7 2 0 1.8 3.8-1-3.8 1M274.6 5.7l2.4-17.8 7.8-1.2-7.8 1.2-.2 1.8 7.8-1.2-7.8 1.2-.3 1.7 7.8-1.2-7.8 1.2-.2 1.8 7.8-1.2-7.8 1.2M294.3 4.1l3.2-17.8 7.8-.9-7.8 .9-.3 1.8 7.8-.9-7.8 .9-.4 1.8 7.9-.9-7.9 .9-.3 1.8 7.9-.9-7.9 .9M-3.6 31.8l-13.4 12-6.7-4.1 6.7 4.1 1.4-1.2-6.8-4.1 6.8 4.1 1.3-1.2-6.7-4.1 6.7 4.1 1.3-1.2-3.3-2 3.3 2M16.4 32.5l-13.6 11.8-6.6-4.2 6.6 4.2 1.4-1.2-6.7-4.2 6.7 4.2 1.3-1.2-6.6-4.2 6.6 4.2 1.4-1.1-3.3-2.2 3.3 2.2M36.4 33l-13.8 11.6-6.6-4.4 6.6 4.4 1.4-1.2-6.6-4.3 6.6 4.3 1.4-1.2-6.6-4.3 6.6 4.3 1.4-1.1-3.3-2.2 3.3 2.2M56.4 33.3l-15.9 8.4-5.5-5.6 5.5 5.6 1.6-.8-5.5-5.6 5.5 5.6 1.6-.8-5.5-5.7 5.5 5.7 1.6-.9-2.8-2.8 2.8 2.8M76.4 33.5l-17.3 4.8-4.2-6.6 4.2 6.6 1.7-.4-4.2-6.7 4.2 6.7 1.7-.5-4.2-6.7 4.2 6.7 1.8-.5-2.1-3.4 2.1 3.4M96.4 33.5l-18 .3-2.4-7.5 2.4 7.5 1.8 0-2.4-7.5 2.4 7.5 1.8 0-2.4-7.6 2.4 7.6 1.8-.1-1.2-3.7 1.2 3.7M116.4 33.3l-13.9-11.4 3.1-7.3-3.1 7.3 1.4 1.1 3.1-7.3-3.1 7.3 1.4 1.2 1.5-3.7-1.5 3.7M136.4 33l-9.5-15.3 5.3-5.9-5.3 5.9 1 1.5 5.2-5.9-5.2 5.9 .9 1.5 2.6-2.9-2.6 2.9M156.4 32.5l-3.8-17.6 7-3.8-7 3.8 .4 1.7 6.9-3.8-6.9 3.8 .4 1.8 6.9-3.8-6.9 3.8 .4 1.7 3.4-1.8-3.4 1.8M176.4 31.8l-2.9-17.8 7.1-3.4-7.1 3.4 .3 1.8 7.1-3.4-7.1 3.4 .3 1.8 7.1-3.4-7.1 3.4 .3 1.8 3.5-1.8-3.5 1.8M196.4 31l-2.6-17.9 7.2-3.3-7.2 3.3 .3 1.8 7.1-3.3-7.1 3.3 .2 1.8 7.2-3.3-7.2 3.3 .3 1.8 7.1-3.3-7.1 3.3M216.3 30l-2-17.9 7.2-3.1-7.2 3.1 .2 1.8 7.2-3.1-7.2 3.1 .2 1.8 7.2-3.1-7.2 3.1 .2 1.7 7.3-3.1-7.3 3.1M236.3 28.8l-1.5-17.9 7.3-2.9-7.3 2.9 .1 1.7 7.4-2.8-7.4 2.8 .2 1.8 7.3-2.8-7.3 2.8 .1 1.8 7.4-2.8-7.4 2.8 .2 1.8 3.7-1.4-3.7 1.4M256.3 27.5l.2-18 7.6-2.2-7.6 2.2 0 1.8 7.5-2.2-7.5 2.2-.1 1.8 7.6-2.2-7.6 2.2 0 1.8 7.6-2.2-7.6 2.2 0 1.8 3.8-1.1-3.8 1.1M276.2 26l2.5-17.9 7.8-1.2-7.8 1.2-.3 1.8 7.8-1.2-7.8 1.2-.2 1.8 7.8-1.2-7.8 1.2-.3 1.8 7.8-1.2-7.8 1.2M296.1 24.3l3.1-17.7 7.9-.9-7.9 .9-.3 1.7 7.9-.9-7.9 .9-.3 1.8 7.9-.9-7.9 .9-.3 1.8 7.8-.9-7.8 .9M-4.3 52.2l-13.4 12.1-6.7-4.2 6.7 4.2 1.3-1.2-6.7-4.2 6.7 4.2 1.4-1.3-6.8-4.1 6.8 4.1M15.8 52.9l-13.5 11.9-6.7-4.2 6.7 4.2 1.4-1.2-6.7-4.2 6.7 4.2 1.3-1.2-6.7-4.2 6.7 4.2M36 53.4l-13.7 11.7-6.6-4.2 6.6 4.2 1.4-1.1-6.6-4.3 6.6 4.3 1.4-1.2-6.7-4.3 6.7 4.3M56.2 53.7l-15.2 9.7-6-5.1 6 5.1 1.5-1-6-5.1 6 5.1 1.5-.9-3-2.6 3 2.6M76.3 53.9l-16.6 7-5-6.1 5 6.1 1.7-.7-5-6.1 5 6.1 1.7-.7-2.6-3.1 2.6 3.1M96.5 53.9l-18-.1-2.2-7.6 2.2 7.6 1.8 0-2.2-7.5 2.2 7.5 1.8 0-1.1-3.8 1.1 3.8M116.7 53.7l-14.4-10.9 2.8-7.3-2.8 7.3 1.4 1.1 2.8-7.4-2.8 7.4M136.8 53.4l-10.9-14.3 4.6-6.4-4.6 6.4 1.1 1.4 4.6-6.4-4.6 6.4M157 52.9l-4-17.6 6.9-3.9-6.9 3.9 .4 1.8 6.9-3.9-6.9 3.9 .4 1.7 6.9-3.8-6.9 3.8 .4 1.8 3.5-2-3.5 2M177.1 52.2l-2.8-17.8 7.1-3.4-7.1 3.4 .3 1.8 7.1-3.4-7.1 3.4 .3 1.8 7.1-3.4-7.1 3.4 .3 1.7 7.1-3.4-7.1 3.4M197.3 51.3l-2.2-17.8 7.2-3.2-7.2 3.2 .2 1.8 7.3-3.2-7.3 3.2 .2 1.7 7.3-3.1-7.3 3.1 .3 1.8 7.2-3.1-7.2 3.1M217.4 50.3l-1.5-17.9 7.3-2.9-7.3 2.9 .1 1.8 7.4-2.9-7.4 2.9 .2 1.8 7.3-2.9-7.3 2.9 .2 1.8 7.3-2.9-7.3 2.9 .1 1.8 3.7-1.5-3.7 1.5M237.6 49.1l-1.1-17.9 7.5-2.7-7.5 2.7 .2 1.8 7.4-2.7-7.4 2.7 .1 1.8 7.4-2.7-7.4 2.7 .1 1.8 7.4-2.7-7.4 2.7 .1 1.8 3.7-1.4-3.7 1.4M257.7 47.8l-.5-18 7.5-2.4-7.5 2.4 .1 1.8 7.5-2.4-7.5 2.4 0 1.8 7.5-2.4-7.5 2.4 .1 1.8 7.5-2.4-7.5 2.4 0 1.8 3.8-1.2-3.8 1.2M277.8 46.3l.6-18 7.6-2-7.6 2-.1 1.8 7.6-2-7.6 2 0 1.8 7.6-2-7.6 2-.1 1.8 7.6-2-7.6 2M297.9 44.6l1.1-18 7.7-1.8-7.7 1.8-.1 1.8 7.7-1.8-7.7 1.8-.1 1.8 7.7-1.8-7.7 1.8-.1 1.8 7.6-1.8-7.6 1.8M-5.1 72.7l-13.4 12-6.7-4.1 6.7 4.1 1.4-1.2-6.8-4.1 6.8 4.1 1.3-1.2-3.4-2 3.4 2M15.2 73.4l-13.4 12-6.7-4.1 6.7 4.1 1.4-1.2-6.7-4.1 6.7 4.1 1.3-1.2-3.3-2.1 3.3 2.1M35.6 73.9l-13.4 12-6.8-4.1 6.8 4.1 1.3-1.2-6.7-4.1 6.7 4.1M55.9 74.2l-13.6 11.8-6.7-4.3 6.7 4.3 1.3-1.2-6.6-4.2 6.6 4.2M76.2 74.4l-13.9 11.4-6.5-4.4 6.5 4.4 1.4-1.2-3.3-2.2 3.3 2.2M96.6 74.4l-18-.9-1.9-7.6 1.9 7.6 1.8 .1-1.9-7.6 1.9 7.6M116.9 74.2l-15.2-9.7 2.2-7.6-2.2 7.6 1.6 1 1-3.8-1 3.8M137.3 73.9l-12.8-12.7 3.8-7-3.8 7 1.3 1.2 3.7-6.9-3.7 6.9M157.6 73.4l-4.1-17.6 6.8-3.9-6.8 3.9 .4 1.8 6.8-3.9-6.8 3.9 .4 1.7 6.8-3.9-6.8 3.9 .4 1.8 6.9-3.9-6.9 3.9M177.9 72.7l-2.7-17.8 7.1-3.4-7.1 3.4 .2 1.8 7.2-3.4-7.2 3.4 .3 1.7 7.1-3.3-7.1 3.3 .3 1.8 7.1-3.4-7.1 3.4M198.2 71.8l-1.7-17.9 7.3-3-7.3 3 .2 1.8 7.3-3-7.3 3 .2 1.8 7.3-3-7.3 3 .1 1.8 7.3-3-7.3 3M218.6 70.8l-.9-18 7.4-2.6-7.4 2.6 0 1.8 7.5-2.6-7.5 2.6 .1 1.8 7.5-2.6-7.5 2.6 .1 1.8 7.5-2.6-7.5 2.6 .1 1.8 3.7-1.3-3.7 1.3M238.9 69.6l-.3-18 7.6 2.2-7.5 2.3M259.2 68.3l-1.6-18 7.4-2.9-7.4 2.9 .2 1.8 7.3-2.9-7.3 2.9 .1 1.8 7.4-2.9-7.4 2.9 .2 1.8 7.3-2.9-7.3 2.9 .1 1.8 3.7-1.4-3.7 1.4M279.4 66.7l-2.9-17.7 7.1-3.5-7.1 3.5 .3 1.7 7.1-3.4-7.1 3.4 .3 1.8 7-3.4-7 3.4 .3 1.8 7-3.5-7 3.5M299.7 65l-2.8-17.7 7.1-3.5-7.1 3.5 .3 1.7 7.1-3.4-7.1 3.4 .2 1.8 7.1-3.4-7.1 3.4 .3 1.8 7.1-3.4-7.1 3.4M-5.9 93.3l-13.3 12-6.8-4.1 6.8 4.1 1.3-1.2-6.7-4.1 6.7 4.1 1.3-1.2-3.3-2 3.3 2M14.6 94l-13.3 12-6.8-4.1 6.8 4.1 1.3-1.2-6.7-4.1 6.7 4.1M35.1 94.5l-13.3 12-6.8-4.1 6.8 4.1 1.3-1.2-6.7-4.1 6.7 4.1M55.6 94.8l-13.6 11.7-6.7-4.3 6.7 4.3 1.3-1.2-3.3-2.1 3.3 2.1M76.2 95l-14.2 11.1-6.4-4.6 6.4 4.6 1.4-1.1-3.2-2.3 3.2 2.3M96.7 95l-18-.9-1.9-7.7 1.9 7.7 1.8 .1-1-3.8 1 3.8M117.2 94.8l-15.1-9.8 2.2-7.6-2.2 7.6 1.5 1 1.1-3.8-1.1 3.8M137.7 94.5l-12.8-12.7 3.7-6.9-3.7 6.9 1.2 1.3 1.9-3.5-1.9 3.5M158.2 93.9l-4-17.5 6.9-3.9-6.9 3.9 .4 1.7 6.9-3.8-6.9 3.8 .4 1.8 6.9-3.9-6.9 3.9 .4 1.7 6.9-3.8-6.9 3.8M178.7 93.3l-2.7-17.8 7.2-3.4-7.2 3.4 .3 1.7 7.1-3.3-7.1 3.3 .2 1.8 7.2-3.3-7.2 3.3 .3 1.8 7.2-3.4-7.2 3.4M199.2 92.4l-1.6-17.9 7.3-2.9-7.3 2.9 .1 1.8 7.4-3-7.4 3 .2 1.8 7.3-3-7.3 3 .2 1.7 7.3-2.9-7.3 2.9M219.7 91.4l-.8-18 7.5-2.6-7.5 2.6 .1 1.8 7.5-2.6-7.5 2.6 .1 1.8 7.4-2.6-7.4 2.6 0 1.8 7.5-2.6-7.5 2.6 .1 1.8 3.8-1.3-3.8 1.3M240.1 90.2l0-18 7.6 2.2-7.6 2.3M260.6 88.8l-2.7-17.8 7.1-3.4-7.1 3.4 .2 1.8 7.2-3.4-7.2 3.4 .3 1.8 7.1-3.4-7.1 3.4 .3 1.7 7.1-3.3-7.1 3.3 .3 1.8 3.5-1.7-3.5 1.7M281.1 87.3l-6.4-16.9 6.3-4.8-6.3 4.8 .7 1.7 6.3-4.8-6.3 4.8 .6 1.7 6.3-4.8-6.3 4.8 .6 1.7 3.2-2.4-3.2 2.4M-6.6 114l-13.4 12-6.8-4.1 6.8 4.1 1.3-1.2-6.7-4.1 6.7 4.1M14 114.7l-13.3 12-6.8-4.1 6.8 4.1 1.3-1.2-6.7-4.1 6.7 4.1M34.7 115.2l-13.4 12-6.7-4.1 6.7 4.1 1.4-1.2-6.8-4.1 6.8 4.1M55.4 115.5l-13.9 11.5-6.5-4.4 6.5 4.4 1.4-1.2-3.3-2.2 3.3 2.2M96.8 115.7l-18-.9-1.9-7.6 1.9 7.6M117.4 115.5l-14.9-10 2.3-7.5-2.3 7.5M138.1 115.2l-12.8-12.7 3.8-7-3.8 7 1.3 1.3 1.9-3.5-1.9 3.5M158.8 114.6l-3.8-17.6 6.9-3.8-6.9 3.8 .4 1.8 6.9-3.8-6.9 3.8 .3 1.8 7-3.8-7 3.8 .4 1.7 6.9-3.8-6.9 3.8M179.5 113.9l-2.6-17.8 7.1-3.3-7.1 3.3 .2 1.8 7.2-3.3-7.2 3.3 .3 1.8 7.1-3.3-7.1 3.3 .2 1.8 7.2-3.3-7.2 3.3M200.1 113.1l-1.5-18 7.3-2.9-7.3 2.9 .1 1.8 7.4-2.9-7.4 2.9 .2 1.8 7.3-2.9-7.3 2.9 .1 1.8 7.4-2.9-7.4 2.9 .2 1.8 3.7-1.4-3.7 1.4M220.8 112l-.7-17.9 7.4-2.6-7.4 2.6 0 1.8 7.5-2.6-7.5 2.6 .1 1.7 7.5-2.5-7.5 2.5 .1 1.8 7.5-2.5-7.5 2.5 .1 1.8 3.7-1.2-3.7 1.2M241.4 110.8l-.1-18 7.6 2.2-7.5 2.3M262.1 109.4l-4.4-17.4 6.8-4-6.8 4 .5 1.7 6.8-4-6.8 4 .4 1.8 6.8-4-6.8 4 .4 1.7 6.8-4-6.8 4M282.7 107.9l-10-15 5.1-6.1-5.1 6.1 1 1.5 5.1-6.1-5.1 6.1 1 1.5 5.1-6.1-5.1 6.1M-7.4 134.8l-17.8 3-3.4-7.1 3.4 7.1 1.8-.3-3.5-7.1 3.5 7.1M13.4 135.4l-17.9 1.1-2.7-7.5 2.7 7.5 1.8-.1-2.7-7.5 2.7 7.5M34.3 136l-17.9-1.7-1.6-7.8 1.6 7.8 1.7 .1-.7-3.8 .7 3.8M76 136.5l-13.4-12.1 3.4-7.1-3.4 7.1 1.4 1.2 1.7-3.5-1.7 3.5M96.8 136.5l-9.7-15.1 5.1-6-5.1 6 .9 1.5 2.6-3-2.6 3M117.7 136.3l-12.5-12.9 3.9-6.9-3.9 6.9 1.2 1.2 2-3.4-2 3.4M138.6 135.9l-11.6-13.8 4.4-6.5-4.4 6.5 1.2 1.4 2.2-3.3-2.2 3.3M159.4 135.4l-3.4-17.6 7-3.7-7 3.7 .3 1.7 7-3.6-7 3.6 .4 1.8 7-3.7-7 3.7 .3 1.8 7-3.7-7 3.7M180.3 134.7l-2.5-17.8 7.2-3.3-7.2 3.3 .2 1.8 7.2-3.3-7.2 3.3 .3 1.8 7.2-3.3-7.2 3.3 .2 1.7 7.2-3.2-7.2 3.2 .3 1.8 3.6-1.6-3.6 1.6M201.1 133.9l-1.7-18 7.4-2.9-7.4 2.9 .2 1.8 7.3-2.9-7.3 2.9 .2 1.8 7.3-2.9-7.3 2.9 .1 1.8 7.4-2.9-7.4 2.9 .2 1.8 3.7-1.5-3.7 1.5M221.9 132.8l-3.1-17.7 7.9 .9-7.1 3.5M242.7 131.6l-4.4-17.5 7.9 .4-6.8 4M263.6 130.2l-10-15 5.1-6.1-5.1 6.1 1 1.5 5-6.1-5 6.1 1 1.5 5-6.1-5 6.1 1 1.5 5-6.1-5 6.1 1 1.5 2.5-3-2.5 3M284.4 128.6l-15-10 2.3-7.5-2.3 7.5 1.5 1 2.3-7.5-2.3 7.5 1.5 1 2.3-7.5-2.3 7.5 1.5 1 1.1-3.7-1.1 3.7M-8.2 155.6l-1.1-17.9 7.4-2.7-7.4 2.7 .1 1.8 3.7-1.4-3.7 1.4M12.8 156.3l0-18 7.6-2.2-7.6 2.2 0 1.8 3.8-1.1-3.8 1.1M33.8 156.9l1.1-18 7.7-1.8-7.7 1.8-.1 1.8 3.9-.9-3.9 .9M54.9 157.2l2.1-17.9 7.7-1.3-7.7 1.3-.3 1.8 3.9-.7-3.9 .7M75.9 157.4l3-17.8 7.8-1-7.8 1-.3 1.8 3.9-.5-3.9 .5M96.9 157.4l3-17.8 7.8-.9-7.8 .9-.3 1.8 3.9-.5-3.9 .5M118 157.2l-10.2-14.9 5-6.1-5 6.1 1 1.5 2.5-3-2.5 3M139 156.8l-10.2-14.8 4.9-6.1-4.9 6.1 1 1.5 4.9-6.1-4.9 6.1M160 156.3l-3.1-17.7 7.1-3.5-7.1 3.5 .3 1.8 7.1-3.6-7.1 3.6 .3 1.7 7.1-3.5-7.1 3.5 .3 1.8 7.1-3.5-7.1 3.5 .4 1.8 3.5-1.8-3.5 1.8M181 155.6l-2.3-17.8 7.2-3.2-7.2 3.2 .3 1.7 7.2-3.2-7.2 3.2 .2 1.8 7.2-3.2-7.2 3.2 .2 1.8 7.2-3.2-7.2 3.2 .3 1.8 3.6-1.6-3.6 1.6M202.1 154.7l-2.1-17.9 7.3-3-7.3 3 .2 1.8 7.3-3.1-7.3 3.1 .2 1.8 7.3-3.1-7.3 3.1 .2 1.8 7.3-3.1-7.3 3.1 .2 1.8 3.7-1.5-3.7 1.5M223.1 153.7l-6.4-16.9 7.9-.5-6.3 4.7M244.1 152.4l-10.1-14.9 7.6-2.3-5.1 6M265 151l-15-9.9 6-5-2.2 7.5M286 149.5l-17.4-4.7-.2-7.9 .2 7.9 1.8 .5-.3-7.9 .3 7.9 1.7 .4-.2-7.8 .2 7.8 1.7 .5-.2-7.9 .2 7.9 1.8 .5-.1-4 .1 4M-9 176.6l0-18 7.6-2.2-7.6 2.2 0 1.8 3.8-1.1-3.8 1.1M12.2 177.3l.6-18 7.7-1.9-7.7 1.9 0 1.8 3.8-1-3.8 1M33.4 177.9l1.5-18 7.7-1.6-7.7 1.6-.2 1.8 3.9-.8-3.9 .8M54.6 178.2l2.3-17.9 7.7-1.2-7.7 1.2-.3 1.8 3.9-.6-3.9 .6M75.8 178.4l3.1-17.8 7.8-.9-7.8 .9-.3 1.8 3.9-.5-3.9 .5M97 178.4l3.2-17.8 7.8-.9-7.8 .9-.4 1.8 4-.4-4 .4M118.2 178.2l-10.2-14.8 4.9-6.2-4.9 6.2 1 1.5 2.5-3.1-2.5 3.1M139.4 177.8l-10.7-14.4 4.8-6.3-4.8 6.3 1.1 1.4 4.7-6.3-4.7 6.3M160.6 177.3l-5.4-17.2 6.6-4.4-6.6 4.4 .6 1.7 6.5-4.4-6.5 4.4 .5 1.8 6.6-4.4-6.6 4.4 .6 1.7 3.2-2.2-3.2 2.2M181.8 176.6l-6.8-16.7 6.2-4.9-6.2 4.9 .7 1.7 6.2-4.9-6.2 4.9 .7 1.7 6.1-5-6.1 5 .7 1.6 6.1-4.9-6.1 4.9M203 175.7l-8.2-16 5.7-5.5-5.7 5.5 .8 1.6 5.7-5.5-5.7 5.5 .8 1.6 5.7-5.5-5.7 5.5 .9 1.6 5.7-5.5-5.7 5.5 .8 1.6 2.8-2.7-2.8 2.7M224.2 174.6l-11.9-13.5 4.3-6.7-4.3 6.7 1.2 1.4 4.2-6.7-4.2 6.7 1.2 1.3 4.2-6.7-4.2 6.7 1.2 1.4 4.2-6.7-4.2 6.7 1.2 1.3 2.1-3.3-2.1 3.3M245.4 173.4l-14.5-10.6 6.3-4.8-2.7 7.4M266.5 172l-17-5.8 4.6-6.5-.3 7.9M287.7 170.4l-17.9-2.2 3.2-7.2 1.3 7.8M-9.8 197.7l0-18 7.6-2.2-7.6 2.2 0 1.8 3.8-1.1-3.8 1.1M11.6 198.4l.6-18 7.6-2-7.6 2-.1 1.8 3.9-1-3.9 1M33 199l1.4-18 7.7-1.6-7.7 1.6-.1 1.8 3.8-.8-3.8 .8M54.4 199.3l2.2-17.9 7.8-1.2-7.8 1.2-.2 1.8 3.9-.6-3.9 .6M75.7 199.5l3.1-17.8 7.8-.9-7.8 .9-.3 1.8 3.9-.5-3.9 .5M97.1 199.5l3.1-17.8 7.8-.9-7.8 .9-.3 1.8 3.9-.4-3.9 .4M118.5 199.3l-10.3-14.7 4.9-6.2-4.9 6.2 1 1.4 4.9-6.2-4.9 6.2M139.9 198.9l-11.5-13.8 4.4-6.6-4.4 6.6 1.1 1.4 4.4-6.6-4.4 6.6M161.3 198.4l-10.6-14.6 4.8-6.2-4.8 6.2 1.1 1.5 4.8-6.3-4.8 6.3M182.6 197.7l-13.3-12.2 3.5-7.1-3.5 7.1 1.4 1.3 3.4-7.1-3.4 7.1 1.3 1.2 3.4-7.1-3.4 7.1M204 196.8l-14.7-10.5 2.6-7.4-2.6 7.4 1.5 1.1 2.6-7.5-2.6 7.5 1.5 1 2.5-7.4-2.5 7.4 1.4 1.1 2.6-7.5-2.6 7.5M225.3 195.7l-16.3-7.6 1.2-7.8-1.2 7.8 1.7 .8 1.1-7.8-1.1 7.8 1.6 .7 1.2-7.8-1.2 7.8 1.6 .8 1.2-7.8-1.2 7.8 1.7 .7 .5-3.9-.5 3.9M246.7 194.5l-17.3-5.2 4.4-6.6 0 7.9M268 193l-17.8-2.4 3.2-7.2 1.2 7.8M-10.6 218.9l0-18 7.6-2.3-7.6 2.3 0 1.8 3.8-1.1-3.8 1.1M11 219.6l.6-18 7.6-2-7.6 2-.1 1.8 3.8-1-3.8 1M32.5 220.1l1.4-17.9 7.8-1.7-7.8 1.7-.1 1.8 3.9-.8-3.9 .8M54.1 220.5l2.2-17.9 7.8-1.3-7.8 1.3-.2 1.8 3.9-.6-3.9 .6M75.7 220.7l3-17.8 7.8-.9-7.8 .9-.3 1.8 3.9-.5-3.9 .5M97.2 220.7l-.6-18 7.5-2.5-7.5 2.5 .1 1.8 3.7-1.3-3.7 1.3M118.8 220.5l-12.8-12.6 3.7-7-3.7 7 1.2 1.2 1.9-3.5-1.9 3.5M140.3 220.1l-13.8-11.5 3.1-7.3-3.1 7.3 1.4 1.1 3.1-7.2-3.1 7.2M161.9 219.6l-14-11.4 3-7.3-3 7.3 1.4 1.2 3-7.3-3 7.3 1.4 1.1 1.5-3.6-1.5 3.6M183.4 218.9l-15-9.9 2.2-7.6-2.2 7.6 1.5 1 2.2-7.6-2.2 7.6 1.5 1 2.3-7.6-2.3 7.6 1.5 1 1.1-3.8-1.1 3.8M205 218l-15.8-8.6 1.6-7.8-1.6 7.8 1.5 .8 1.7-7.7-1.7 7.7 1.6 .9 1.7-7.7-1.7 7.7 1.6 .8 1.6-7.7-1.6 7.7M226.5 216.9l-16.8-6.5 .7-7.9-.7 7.9 1.7 .6 .6-7.9-.6 7.9 1.7 .7 .6-7.9-.6 7.9 1.7 .6 .6-7.8-.6 7.8 1.6 .7 .4-4-.4 4M248 215.6l-17.5-4.3 4-6.8 .4 7.9M269.5 214.2l-17.9-1.5 2.9-7.4 1.6 7.8M-11.4 240.2l0-18 7.6-2.3-7.6 2.3 0 1.8 3.8-1.1-3.8 1.1M10.4 240.9l.5-18 7.6-2-7.6 2 0 1.8 3.8-1-3.8 1M32.1 241.4l1.4-17.9 7.7-1.7-7.7 1.7-.2 1.8 3.9-.8-3.9 .8M53.8 241.8l2.3-17.9 7.7-1.3-7.7 1.3-.3 1.8 3.9-.6-3.9 .6M75.6 242l3-17.8 7.8-.9-7.8 .9-.3 1.8 3.9-.5-3.9 .5M97.3 242l-5.9-17 6.4-4.6-6.4 4.6M119 241.8l-16.2-7.7 1.2-7.8-1.2 7.8M140.8 241.4l-15.6-9 1.8-7.6-1.8 7.6 1.5 .9 1.9-7.6-1.9 7.6M162.5 240.9l-15.7-8.9 1.8-7.7-1.8 7.7 1.6 .9 1.8-7.7-1.8 7.7 1.6 .9 1.7-7.7-1.7 7.7M184.2 240.1l-16.1-8 1.4-7.8-1.4 7.8 1.7 .8 1.3-7.8-1.3 7.8 1.6 .8 1.4-7.8-1.4 7.8 1.6 .8 .7-3.9-.7 3.9M205.9 239.2l-16.3-7.4 1-7.8-1 7.8 1.6 .7 1.1-7.8-1.1 7.8 1.6 .8 1.1-7.8-1.1 7.8 1.7 .7 1.1-7.8-1.1 7.8M227.7 238.2l-16.8-6.6 .7-7.9-.7 7.9 1.7 .6 .6-7.8-.6 7.8 1.6 .7 .7-7.9-.7 7.9 1.7 .6 .7-7.8-.7 7.8 1.7 .7 .3-3.9-.3 3.9M249.4 236.9l-17.4-4.7-.2-7.9 .2 7.9 1.7 .5-.2-7.9 .2 7.9 1.8 .4-.2-7.9 .2 7.9 1.7 .5-.2-7.9 .2 7.9 1.7 .5-.1-4 .1 4M-12.2 261.6l0-18 7.6-2.3-7.6 2.3 0 1.8 3.8-1.2-3.8 1.2M9.7 262.3l.6-18 7.6-2-7.6 2-.1 1.8 3.8-1-3.8 1M31.7 262.8l1.3-17.9 7.7-1.7-7.7 1.7-.1 1.8 3.8-.8-3.8 .8M53.6 263.2l2.2-17.9 7.8-1.3-7.8 1.3-.2 1.8 3.8-.6-3.8 .6M75.5 263.4l3-17.8 7.9-.9-7.9 .9-.3 1.8 3.9-.5-3.9 .5M97.4 263.4l-8.6-15.9 5.6-5.5-5.6 5.5M119.3 263.2l-16.3-7.7 1.2-7.8-1.2 7.8M141.2 262.8l-15.6-9 1.9-7.7-1.9 7.7 1.6 .9 1.8-7.7-1.8 7.7M163.1 262.3l-15.7-8.9 1.8-7.7-1.8 7.7 1.6 .9 1.8-7.7-1.8 7.7 1.6 .9 1.7-7.7-1.7 7.7M185 261.5l-16.1-8 1.4-7.8-1.4 7.8 1.6 .8 1.4-7.8-1.4 7.8 1.6 .8 1.4-7.8-1.4 7.8 1.7 .8 .6-3.9-.6 3.9M206.9 260.6l-16.4-7.3 1-7.8-1 7.8 1.6 .7 1.1-7.8-1.1 7.8 1.7 .7 1-7.8-1 7.8 1.6 .8 1.1-7.8-1.1 7.8M228.8 259.5l-16.7-6.5 .6-7.9-.6 7.9 1.6 .6 .7-7.8-.7 7.8 1.7 .7 .7-7.9-.7 7.9 1.7 .6 .6-7.8-.6 7.8 1.7 .7 .3-3.9-.3 3.9"/><path fill="#000" stroke="#000" stroke-width="1" d="M238.6 51.6l7.6 2.2-7.5 2.3zM240.1 72.2l7.6 2.2-7.6 2.3zM241.3 92.8l7.6 2.2-7.5 2.3zM218.8 115.1l7.9 .9-7.1 3.5zM238.3 114.1l7.9 .4-6.8 4zM216.7 136.8l7.9-.5-6.3 4.7zM234 137.5l7.6-2.3-5.1 6zM250 141.1l6-5-2.2 7.5zM230.9 162.8l6.3-4.8-2.7 7.4zM249.5 166.2l4.6-6.5-.3 7.9zM269.8 168.2l3.2-7.2 1.3 7.8zM229.4 189.3l4.4-6.6 0 7.9zM250.2 190.6l3.2-7.2 1.2 7.8zM230.5 211.3l4-6.8 .4 7.9zM251.6 212.7l2.9-7.4 1.6 7.8z"/><circle cx="76.1" cy="115.7" r="2.7" fill="none" stroke="#000" stroke-width="1.3"/><circle cx="55.1" cy="136.3" r="2.7" fill="none" stroke="#000" stroke-width="1.3"/><path d="M137.25 105.3h6.6" stroke="#222" stroke-width="2.3"/><path d="M140.55 102.5v5.6" stroke="#222" stroke-width="1.8"/></g><rect x="0" y="0" width="283.1" height="258.8" fill="none" stroke="#000" stroke-width="1.1"/><path d="M0.5 0.5h4.5a4.5 4.5 0 0 1-4.5 4.5z" fill="#000"/></g><text x="1174" y="650.1" font-size="17.4" text-anchor="middle">CSU WRF ensemble mean</text><rect x="174.1" y="926.1" width="14.7" height="20.6" fill="#543005"/><rect x="188.2" y="926.1" width="14.7" height="20.6" fill="#6a3d07"/><rect x="202.4" y="926.1" width="14.7" height="20.6" fill="#824b09"/><rect x="216.5" y="926.1" width="14.7" height="20.6" fill="#995d13"/><rect x="230.6" y="926.1" width="14.7" height="20.6" fill="#ad7021"/><rect x="244.7" y="926.1" width="14.7" height="20.6" fill="#c28633"/><rect x="258.9" y="926.1" width="14.7" height="20.6" fill="#cfa256"/><rect x="273" y="926.1" width="14.7" height="20.6" fill="#dcbc75"/><rect x="287.1" y="926.1" width="14.7" height="20.6" fill="#e7cf94"/><rect x="301.2" y="926.1" width="14.7" height="20.6" fill="#f1dfb3"/><rect x="315.4" y="926.1" width="14.7" height="20.6" fill="#f6eacb"/><rect x="329.5" y="926.1" width="14.7" height="20.6" fill="#f5f0e0"/><rect x="343.6" y="926.1" width="14.7" height="20.6" fill="#f4f5f5"/><rect x="357.8" y="926.1" width="14.7" height="20.6" fill="#e2f0ee"/><rect x="371.9" y="926.1" width="14.7" height="20.6" fill="#ceece8"/><rect x="386" y="926.1" width="14.7" height="20.6" fill="#b4e2db"/><rect x="400.1" y="926.1" width="14.7" height="20.6" fill="#98d7cd"/><rect x="414.3" y="926.1" width="14.7" height="20.6" fill="#79c8bc"/><rect x="428.4" y="926.1" width="14.7" height="20.6" fill="#58b0a7"/><rect x="442.5" y="926.1" width="14.7" height="20.6" fill="#3b9b93"/><rect x="456.6" y="926.1" width="14.7" height="20.6" fill="#23867e"/><rect x="470.8" y="926.1" width="14.7" height="20.6" fill="#0c7169"/><rect x="484.9" y="926.1" width="14.7" height="20.6" fill="#015f56"/><rect x="499" y="926.1" width="14.7" height="20.6" fill="#004c42"/><rect x="513.2" y="926.1" width="14.7" height="20.6" fill="#003c30"/><rect x="527.3" y="926.1" width="14.7" height="20.6" fill="#73a9cf"/><rect x="541.4" y="926.1" width="14.7" height="20.6" fill="#62a2cb"/><rect x="555.5" y="926.1" width="14.7" height="20.6" fill="#509ac6"/><rect x="569.7" y="926.1" width="14.7" height="20.6" fill="#3f93c2"/><rect x="583.8" y="926.1" width="14.7" height="20.6" fill="#2f8bbe"/><rect x="597.9" y="926.1" width="14.7" height="20.6" fill="#2182b9"/><rect x="612" y="926.1" width="14.7" height="20.6" fill="#1379b5"/><rect x="626.2" y="926.1" width="14.7" height="20.6" fill="#056faf"/><rect x="640.3" y="926.1" width="14.7" height="20.6" fill="#0569a5"/><rect x="654.4" y="926.1" width="14.7" height="20.6" fill="#04639b"/><rect x="668.5" y="926.1" width="14.7" height="20.6" fill="#045d92"/><rect x="682.7" y="926.1" width="14.7" height="20.6" fill="#045585"/><rect x="696.8" y="926.1" width="14.7" height="20.6" fill="#034b76"/><rect x="710.9" y="926.1" width="14.7" height="20.6" fill="#034267"/><rect x="725.1" y="926.1" width="14.7" height="20.6" fill="#023858"/><rect x="739.2" y="926.1" width="14.7" height="20.6" fill="#9e9ac8"/><rect x="753.3" y="926.1" width="14.7" height="20.6" fill="#9591c4"/><rect x="767.4" y="926.1" width="14.7" height="20.6" fill="#8d89c0"/><rect x="781.6" y="926.1" width="14.7" height="20.6" fill="#8481bc"/><rect x="795.7" y="926.1" width="14.7" height="20.6" fill="#7d77b7"/><rect x="809.8" y="926.1" width="14.7" height="20.6" fill="#776ab0"/><rect x="823.9" y="926.1" width="14.7" height="20.6" fill="#705eaa"/><rect x="838.1" y="926.1" width="14.7" height="20.6" fill="#6950a3"/><rect x="852.2" y="926.1" width="14.7" height="20.6" fill="#63449d"/><rect x="866.3" y="926.1" width="14.7" height="20.6" fill="#5d3897"/><rect x="880.5" y="926.1" width="14.7" height="20.6" fill="#572c92"/><rect x="894.6" y="926.1" width="14.7" height="20.6" fill="#51218c"/><rect x="908.7" y="926.1" width="14.7" height="20.6" fill="#4b1687"/><rect x="922.8" y="926.1" width="14.7" height="20.6" fill="#450b82"/><rect x="937" y="926.1" width="14.7" height="20.6" fill="#3f007d"/><rect x="951.1" y="926.1" width="14.7" height="20.6" fill="#ad017e"/><rect x="965.2" y="926.1" width="14.7" height="20.6" fill="#a6017d"/><rect x="979.3" y="926.1" width="14.7" height="20.6" fill="#9e017c"/><rect x="993.5" y="926.1" width="14.7" height="20.6" fill="#98017b"/><rect x="1007.6" y="926.1" width="14.7" height="20.6" fill="#8f017a"/><rect x="1021.7" y="926.1" width="14.7" height="20.6" fill="#890179"/><rect x="1035.9" y="926.1" width="14.7" height="20.6" fill="#810178"/><rect x="1050" y="926.1" width="14.7" height="20.6" fill="#790177"/><rect x="1064.1" y="926.1" width="14.7" height="20.6" fill="#730175"/><rect x="1078.2" y="926.1" width="14.7" height="20.6" fill="#6b0173"/><rect x="1092.4" y="926.1" width="14.7" height="20.6" fill="#650171"/><rect x="1106.5" y="926.1" width="14.7" height="20.6" fill="#5d006f"/><rect x="1120.6" y="926.1" width="14.7" height="20.6" fill="#57006e"/><rect x="1134.7" y="926.1" width="14.7" height="20.6" fill="#4f006c"/><rect x="1148.9" y="926.1" width="14.7" height="20.6" fill="#49006a"/><path d="M1163 926.1 L1212 936.4 L1163 946.7 Z" fill="#49006a"/><path d="M174.1 926.1 H1163 L1212 936.4 L1163 946.7 H174.1 Z" fill="none" stroke="#000" stroke-width="1.1"/><text x="174.4" y="966.7" font-size="14.8" text-anchor="middle">0</text><text x="245" y="966.7" font-size="14.8" text-anchor="middle">5</text><text x="315.7" y="966.7" font-size="14.8" text-anchor="middle">10</text><text x="386.3" y="966.7" font-size="14.8" text-anchor="middle">15</text><text x="456.9" y="966.7" font-size="14.8" text-anchor="middle">20</text><text x="527.6" y="966.7" font-size="14.8" text-anchor="middle">25</text><text x="598.2" y="966.7" font-size="14.8" text-anchor="middle">30</text><text x="668.8" y="966.7" font-size="14.8" text-anchor="middle">35</text><text x="739.5" y="966.7" font-size="14.8" text-anchor="middle">40</text><text x="810.1" y="966.7" font-size="14.8" text-anchor="middle">45</text><text x="880.8" y="966.7" font-size="14.8" text-anchor="middle">50</text><text x="951.4" y="966.7" font-size="14.8" text-anchor="middle">55</text><text x="1022" y="966.7" font-size="14.8" text-anchor="middle">60</text><text x="1092.7" y="966.7" font-size="14.8" text-anchor="middle">65</text><text x="1163.3" y="966.7" font-size="14.8" text-anchor="middle">70</text><path d="M174.1 946.7v4.9M244.7 946.7v4.9M315.4 946.7v4.9M386 946.7v4.9M456.6 946.7v4.9M527.3 946.7v4.9M597.9 946.7v4.9M668.5 946.7v4.9M739.2 946.7v4.9M809.8 946.7v4.9M880.5 946.7v4.9M951.1 946.7v4.9M1021.7 946.7v4.9M1092.4 946.7v4.9M1163 946.7v4.9" stroke="#000" stroke-width="1.1"/><text x="668.6" y="988.3" font-size="16.1" text-anchor="middle">precipitable water (mm)</text></svg></body></html>
